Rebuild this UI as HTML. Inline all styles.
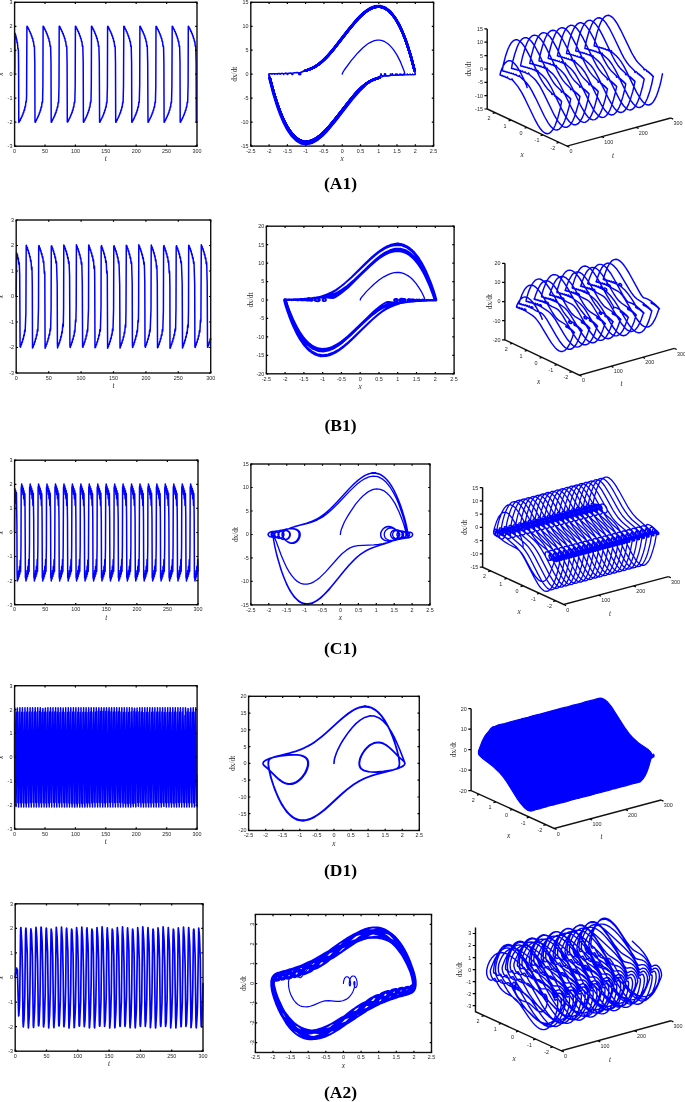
<!DOCTYPE html>
<html><head><meta charset="utf-8"><title>figure</title><style>html,body{margin:0;padding:0;background:#fff}svg{display:block}</style></head><body>
<svg width="685" height="1102" viewBox="0 0 685 1102">
<rect width="685" height="1102" fill="#fff"/>
<path d="M14.6 74.2l.2-6.4 .1-34 .1-.6 .2 1 .3 0 .3 2.3 .1 .1 .1-.3 .1 .2 .3 2.7 .1 .1 .1-.4 .1 .2 .3 3.6 .3-.5 .1 .3 .5 6.1 .1 .4 .2-.4 .2 2.2 .2 15.1 .2 56.6 .3-.6 .3-.1 .5-1.5 .4-.1 .4-1.6 .4-.1 .5-1.7 .3 0 .1-.1 .4-1.9 .4 0 .5-2.3 .1-.1 .2 .3 .1-.2 .4-2.6 .1-.1 .3 .3 .1-.1 .4-3.4 .1 0 .2 .4 .1-.1 .5-5.3 .1-.2 .2 .7 .1-.4 .3-5.4 .3-68.7 .1-1.4 .1 .3 .4 .1 .4 1.4 .5 .2 .4 1.5 .4 .2 .4 1.7 .5 .1 .4 1.9 .4 0 .5 2.2 .3-.1 .1 .1 .4 2.6 .1 .1 .2-.3 .2 .2 .4 3.2 .1 .1 .2-.5 .1 .3 .5 5 .3-.6 .1 .4 .4 16.2 .2 59.5 .1 .2 .5-.2 .4-1.5 .4-.2 .5-1.5 .4-.1 .4-1.7 .3 0 .6-2 .3 0 .1-.1 .4-2.2 .3 .2 .1-.2 .5-2.6 .3 .3 .1-.2 .4-3.2 .1-.1 .3 .4 .1-.3 .4-4.8 .1-.2 .3 .7 .2-1.6 .3-16.1 .2-58.7 .5 .2 .5 1.5 .4 .2 .4 1.5 .4 .1 .5 1.7 .3 0 .1 .2 .4 1.8 .3 0 .1 .1 .5 2.2 .1 .1 .2-.3 .1 .2 .4 2.5 .1 .1 .3-.3 .1 .3 .4 3.1 .1 .1 .2-.4 .1 .2 .5 4.9 .1 .1 .2-.7 .2 .9 .4 15.5 .2 60.1 .5-.2 .5-1.5 .3-.1 .5-1.6 .4-.1 .4-1.7 .4 0 .1-.2 .4-1.8 .1-.1 .2 .1 .1-.1 .4-2.2 .4 .2 .1-.1 .4-2.6 .1-.1 .2 .3 .1-.3 .5-3.1 .1-.1 .2 .5 .1-.3 .5-4.9 .3 .6 .1-.4 .4-16.3 .2-59.5 .1-.3 .5 .2 .4 1.5 .4 .2 .4 1.5 .5 .1 .4 1.7 .4 .1 .4 1.9 .2 .1 .2-.1 .1 .1 .4 2.2 .1 0 .2-.2 .1 .2 .5 2.5 .1 .1 .2-.3 .1 .1 .4 3.3 .3-.3 .1 .1 .5 4.9 .1 .2 .3-.6 .2 1.8 .3 16 .2 58.5 .5-.1 .5-1.5 .4-.1 .4-1.6 .5-.2 .4-1.6 .4-.1 .4-1.9 .4-.1 .5-2.2 .3 .2 .1-.1 .4-2.6 .1-.1 .3 .3 .1-.3 .4-3.1 .1-.1 .2 .5 .1-.3 .5-4.9 .3 .6 .2-.8 .4-16 .2-59.7 .5 .2 .4 1.5 .4 .1 .5 1.6 .4 .1 .4 1.7 .4 0 .1 .2 .4 1.8 .3 0 .1 .1 .4 2.2 .4-.1 .5 2.6 .1 .1 .2-.3 .1 .3 .5 3.1 .1 .1 .2-.5 .1 .3 .5 4.9 .1 .1 .2-.7 .1 .4 .4 16 .2 59.8 .1 .3 .4-.2 .5-1.5 .4-.1 .4-1.6 .4-.1 .5-1.7 .4 0 .1-.6 .4-1.4 .3 0 .1-.1 .4-2.2 .3 .2 .1-.2 .5-2.5 .1-.1 .2 .3 .1-.1 .4-3.3 .3 .4 .1-.2 .5-4.9 .1-.2 .3 .6 .2-1.8 .3-15.7 .2-58.9 .5 .2 .4 1.5 .5 .2 .4 1.5 .4 .1 .5 1.7 .3 0 .1 .2 .4 1.8 .3 0 .1 .1 .5 2.2 .1 0 .2-.2 .1 .2 .4 2.5 .1 .1 .3-.3 .1 .3 .4 3.1 .1 .1 .2-.5 .1 .3 .5 4.9 .1 .1 .2-.7 .1 .8 .4 15.7 .3 60 .5-.2 .4-1.5 .4-.1 .5-1.6 .4-.1 .4-1.7 .4 0 .1-.2 .4-1.8 .3 0 .1-.1 .4-2.2 .1 0 .2 .2 .1-.1 .5-2.6 .1-.1 .2 .3 .1-.3 .5-3.1 .1-.1 .2 .5 .1-.3 .5-4.9 .3 .6 .1-.4 .4-15.8 .2-60.1 .1-.2 .4 .2 .5 1.5 .4 .1 .4 1.6 .5 .2 .4 1.6 .4 .1 .3 1.2 .2 .8 .3-.2 .1 .2 .4 2.2 .3-.2 .1 .2 .5 2.5 .3-.2 .1 .2 .4 3.2 .1 .1 .3-.5 .1 .4 .4 4.8 .1 .1 .3-.6 .2 1.8 .3 15.4 .2 59.2 .5-.2 .4-1.5 .5-.1 .4-1.6 .4-.2 .5-1.6 .4-.1 .4-1.9 .4-.1 .5-2.2 .3 .2 .1-.1 .4-2.6 .1-.1 .2 .3 .2-.3 .4-3.1 .1-.1 .2 .5 .1-.3 .5-4.9 .1-.1 .2 .7 .1-.8 .4-15.5 .3-60.2 .5 .2 .4 1.5 .4 .1 .5 1.6 .4 .1 .4 1.7 .3 0 .2 .2 .4 1.8 .1 .1 .2-.1 .1 .1 .4 2.2 .3-.2 .1 .1 .5 2.6 .1 .1 .2-.3 .1 .2 .5 3.2 .1 .1 .2-.5 .1 .3 .5 4.9 .3-.6 .1 .4 .4 16.3 .2 59.5 .1 .3 .4-.2 .5-1.5 .4-.1 .4-1.6 .4 0 .1-.2 .4-1.6 .4-.1 .4-1.8 .1-.2 .2 .2 .2-.2 .4-2.2 .3 .2 .1-.1 .5-2.7 .3 .3 .1-.2 .4-3.2 .1-.1 .2 .5 .2-.4 .4-4.8 .1-.1 .3 .6 .1-1.9 .4-15.8 .2-58.7 .5 .2 .4 1.5 .5 .2 .4 1.5 .4 .1 .4 1.7 .4 0 .1 .2 .4 1.8 .1 .1 .2-.1 .1 .1 .5 2.2 .3-.2 .1 .1 .4 2.6 .1 .1 .2-.3 .2 .2 .4 3.2 .1 .1 .2-.5 .1 .3 .5 4.9 .3-.6 .1 .8 .4 15.9 .3 59.8 .5-.2 .4-1.5 .4-.1 .5-1.6 .4-.1 .4-1.7 .3 0 .2-.2 .4-1.8 .3 0 .1-.1 .4-2.2 .4 .1 .5-2.6 .1-.1 .2 .3 .1-.3 .5-3.1 .1-.1 .2 .5 .1-.3 .5-4.9 .1-.1 .2 .7 .1-.4 .4-16 .2-59.9 .1-.2 .4 .2 .5 1.5 .4 .2 .4 1.5 .4 .1 .5 1.7 .3 0 .1 .2 .5 1.9 .2-.1 .2 .1 .4 2.2 .3-.2 .1 .2 .5 2.6 .3-.3 .1 .1 .4 3.3 .3-.4 .1 .2 .5 4.9 .1 .2 .3-.6 .2 2.1 .3 15.4 .2 58.9 .5-.2 .4-1.5 .5-.2 .4-1.5 .4-.1 .4-1.7 .4 0 .1-.2 .4-1.8 .3 0 .1-.1 .5-2.2 .1 0 .2 .2 .1-.1 .4-2.6 .1-.1 .2 .3 .2-.3 .4-3.1 .1-.1 .2 .5 .1-.3 .5-4.9 .1-.1 .2 .7 .1-.8 .4-15.7 .3-60 .5 .2 .4 1.5 .4 .1 .5 1.6 .4 .1 .4 1.7 .3 0 .2 .2 .4 1.8 .3 0 .1 .1 .4 2.2 .1 0 .2-.2 .1 .1 .5 2.6 .1 .1 .2-.3 .1 .3 .4 3.1 .1 .1 .3-.5 .1 .3 .5 4.9 .2-.6 .2 .4 .4 15.8 .2 60 0 .3 .5-.2 .5-1.5 .4-.1 .4-1.6 .4-.1 .5-1.7 .4-.1 .4-1.8 .1-.2 .1 .1 .2 0 .1-.2 .4-2.1 .3 .2 .1-.2 .4-2.5 .4 .2 .1-.2 .4-3.2 .3 .3 .1-.1 .5-4.9 .1-.2 .3 .6 .1-1.8 .4-16.2 .2-57.1 0-1.3 .4 .1 .5 1.6 .5 .2 .4 1.5 .4 .1 .4 1.7 .5 .1 .4 1.9 .4 .1 .5 2.2 .3-.2 .1 .2 .4 2.5 .1 .1 .2-.3 .1 .3 .5 3.1 .1 .1 .2-.5 .1 .3 .5 4.9 .1 .1 .2-.7 .1 .8 .4 16.2 .2 58.4 .1 1.1 .4-.2 .2-.4" fill="none" stroke="#0000ff" stroke-width="1.5" stroke-linejoin="round" stroke-linecap="round"/>
<rect x="14.6" y="2.3" width="182.4" height="143.9" fill="none" stroke="#111" stroke-width="1.4"/>
<text x="14.6" y="152.9" font-size="5.4" text-anchor="middle" font-family="'Liberation Sans',sans-serif" fill="#262626">0</text>
<text x="45" y="152.9" font-size="5.4" text-anchor="middle" font-family="'Liberation Sans',sans-serif" fill="#262626">50</text>
<text x="75.4" y="152.9" font-size="5.4" text-anchor="middle" font-family="'Liberation Sans',sans-serif" fill="#262626">100</text>
<text x="105.8" y="152.9" font-size="5.4" text-anchor="middle" font-family="'Liberation Sans',sans-serif" fill="#262626">150</text>
<text x="136.2" y="152.9" font-size="5.4" text-anchor="middle" font-family="'Liberation Sans',sans-serif" fill="#262626">200</text>
<text x="166.6" y="152.9" font-size="5.4" text-anchor="middle" font-family="'Liberation Sans',sans-serif" fill="#262626">250</text>
<text x="197" y="152.9" font-size="5.4" text-anchor="middle" font-family="'Liberation Sans',sans-serif" fill="#262626">300</text>
<text x="12.4" y="148.1" font-size="5.4" text-anchor="end" font-family="'Liberation Sans',sans-serif" fill="#262626">-3</text>
<text x="12.4" y="124.1" font-size="5.4" text-anchor="end" font-family="'Liberation Sans',sans-serif" fill="#262626">-2</text>
<text x="12.4" y="100.1" font-size="5.4" text-anchor="end" font-family="'Liberation Sans',sans-serif" fill="#262626">-1</text>
<text x="12.4" y="76.2" font-size="5.4" text-anchor="end" font-family="'Liberation Sans',sans-serif" fill="#262626">0</text>
<text x="12.4" y="52.2" font-size="5.4" text-anchor="end" font-family="'Liberation Sans',sans-serif" fill="#262626">1</text>
<text x="12.4" y="28.2" font-size="5.4" text-anchor="end" font-family="'Liberation Sans',sans-serif" fill="#262626">2</text>
<text x="12.4" y="4.2" font-size="5.4" text-anchor="end" font-family="'Liberation Sans',sans-serif" fill="#262626">3</text>
<path d="M14.6 146.2v-1.8M14.6 2.3v1.8M45 146.2v-1.8M45 2.3v1.8M75.4 146.2v-1.8M75.4 2.3v1.8M105.8 146.2v-1.8M105.8 2.3v1.8M136.2 146.2v-1.8M136.2 2.3v1.8M166.6 146.2v-1.8M166.6 2.3v1.8M197 146.2v-1.8M197 2.3v1.8M14.6 146.2h1.8M197 146.2h-1.8M14.6 122.2h1.8M197 122.2h-1.8M14.6 98.2h1.8M197 98.2h-1.8M14.6 74.2h1.8M197 74.2h-1.8M14.6 50.3h1.8M197 50.3h-1.8M14.6 26.3h1.8M197 26.3h-1.8M14.6 2.3h1.8M197 2.3h-1.8" stroke="#000" stroke-width="1.2" fill="none"/>
<text x="105.8" y="161.2" font-size="7.3" text-anchor="middle" font-family="'Liberation Serif',serif" font-style="italic" fill="#262626">t</text>
<text x="3.2" y="74.2" font-size="7.3" text-anchor="middle" font-family="'Liberation Serif',serif" font-style="italic" transform="rotate(-90 3.2 74.2)" fill="#262626">x</text>
<path d="M364.7 86l-4.1 3.9-5.7 6.2-5.8 7-10.8 14.3-7.3 9.1-4.2 4.8-4.5 4.6-4.9 4-5.1 2.9-5.3 1.4-5.3-.6-5.2-2.9-4.9-4.9-4.5-6.6-3.9-7.6-3.3-7.9-2.7-7.5-2.2-6.8-4.7-17-1.4-6.1-.2-2.4 .5 0 .4 .4 0-.3 .4-.2 1.1-.1 .8 .2 .1 .4 0-.2 .4-.3 1.2-.2 .8 .3 .2 .4 0-.2 .4-.3 1.2-.2 1 .3 .3 .2-.1 .2-.1-.2 .4-.3 1.4-.3 1.1 .3 .3 .3-.1 .2-.1-.2 .5-.4 1.6-.3 1.3 .4 .3 .3-.2 .3-.1-.3 .5-.5 1.8-.3 1.6 .4 .4 .5-.3 .3-.2-.2 0-.2 .7-.6 1.1-.4 1.3-.1 1.2 .2 .8 .4 .4 .6-.4 .4-.3-.2 0-.4 1-.9 1.7-.5 2.1-.1 1.7 .2 1.3 .5 .7 .9-.1 .4-.3 .2-.6-.2 0-.6 .5-.7 1.1-.8 9.2-3.7 5.1-2.7 2.8-2 3.5-2.9 3.3-3.2 4.2-4.6 5.5-6.5 13.5-17.5 7.6-9.1 4.3-4.5 4.6-4.2 4.9-3.3 5.1-2 5.2-.3 5.2 1.7 4.9 3.9 4.6 5.7 4.1 6.9 3.5 7.6 3 7.5 2.4 6.9 3.4 11.1 3.1 11.8 1 5.4-.3 0-.1-.3 0 .2-.4 .3-1.1 .1-.8-.2-.1-.4 0 .2-.4 .3-1.1 .2-.9-.3-.3-.2 .1-.2 0 .2-.4 .3-1.2 .2-1-.2-.3-.3 .1-.2 .1 .2-.4 .3-1.4 .3-1.1-.3-.3-.3 .1-.2 .1 .2-.5 .4-1.5 .3-1.3-.4-.3-.3 .1-.3 .2 .3-.5 .5-1.9 .3-1.5-.4-.4-.4 .2-.3 .3 .1 0 .2-.6 .6-1.1 .3-1.3 .1-1.1-.1-.9-.4-.4-.6 .3-.4 .4 .2 0 .4-.9 .8-1.7 .5-1.9 .1-1.8-.2-1.3-.5-.6-.8 .1-.4 .4-.2 .6 .2-.1 .7-.5 .7-1.1 .7-2 .8-8.2 2.9-5.1 2.6-2.7 1.9-3.5 2.8-3.2 3.2-4.2 4.4-5.3 6.4-16.7 21.5-3.9 4.5-4.2 4.5-4.5 4.2-4.9 3.5-5 2.2-5.2 .6-5.1-1.3-5-3.4-4.6-5.3-4.2-6.6-3.6-7.4-3-7.5-2.5-7-4.8-15.7-2.4-9.6-.8-4.1 .2-.1 .1 .3 0-.2 .4-.3 1-.1 .8 .2 .2 .4 0-.2 .3-.3 1.2-.2 .9 .3 .2 .2 0 .2 0-.2 .3-.3 1.2-.2 1 .2 .3 .3-.1 .2 0-.2 .4-.3 1.3-.3 1.2 .3 .3 .3-.1 .2-.1-.2 .4-.4 1.5-.3 1.4 .4 .3 .3-.2 .3-.1-.3 .4-.5 1.9-.3 1.6 .4 .3 .4-.2 .3-.2-.1 0-.3 .6-.5 1-.3 1.3-.1 1.2 .1 .8 .4 .4 .6-.3 .4-.4-.2 0-.4 .9-.8 1.6-.5 2-.1 1.7 .2 1.3 .5 .6 .8-.1 .4-.3 .2-.6-.2 0-.6 .4-.7 1-.6 2.3-1 6.9-2.3 3.4-1.5 4-2.2 3.7-2.8 5.2-4.8 5.9-6.5 20.8-26.4 3.9-4.6 4.3-4.4 4.6-4.1 4.8-3.2 5.1-1.9 5.2-.3 5.1 1.8 4.8 3.8 4.6 5.6 4 6.8 3.5 7.4 3 7.4 2.3 6.8 4.5 15.1 2.3 9.1 .8 3.9-.2 .1-.1-.3-.3 .5-1.1 .1-.8-.2-.2-.4 0 .2-.3 .3-1.1 .2-.9-.3-.3-.2 0-.2 .1 .2-.4 .3-1.2 .2-1-.2-.3-.3 .1-.2 0 .2-.4 .3-1.2 .3-1.2-.3-.4-.3 .2-.2 .1 .2-.5 .4-1.5 .3-1.3-.4-.4-.3 .2-.3 .2 .3-.5 .4-1.8 .4-1.6-.4-.4-.4 .2-.3 .2 .1 .1 .2-.6 .6-1.1 .3-1.3 .1-1.1-.1-.9-.4-.4-.6 .3-.4 .4 .2 0 .4-.9 .8-1.7 .5-1.9 .1-1.6-.2-1.3-.5-.6-.8 .1-.4 .3-.2 .6 .2 0 .7-.6 .7-1.1 .6-2.2 .9-8.1 2.8-2.7 1.2-2.9 1.6-2.7 2-3.6 2.9-3.3 3.3-4.3 4.6-5.5 6.7-13.6 17.6-7.6 9-4.4 4.4-4.6 4-4.9 3-5.1 1.8-5.1-.1-5.1-2.1-4.9-4.1-4.4-5.8-4-6.9-3.4-7.5-2.8-7.3-2.3-6.7-3.3-10.7-2.9-11.3-.9-3.8-.1-1.4 .2 .3 0-.2 .4-.3 1.1-.1 .7 .2 .2 .4 0-.2 .3-.3 1.1-.2 1 .3 .2 .2 0 .2-.1-.2 .4-.3 1.2-.2 1 .2 .3 .3-.1 .2 0-.2 .3-.3 1.4-.3 1.2 .3 .3 .3-.2 .2-.1-.2 .5-.4 1.5-.3 1.3 .4 .4 .3-.2 .3-.2-.3 .5-.5 1.8-.3 1.6 .4 .4 .4-.2 .3-.3-.1 0-.3 .7-.5 1-.3 1.3-.1 1.1 .1 .9 .4 .4 .6-.4 .4-.3-.2 0-.4 .9-.8 1.6-.5 1.9-.1 1.8 .2 1.2 .5 .6 .8-.1 .4-.4 .2-.5-.2 0-.7 .6-.6 1-.7 2.1-.9 8.5-2.9 2.8-1.2 2.8-1.7 2.9-2 2.6-2.2 5.8-5.8 6.7-7.8 12.9-16.7 7.2-8.8 4.2-4.5 4.4-4.3 4.8-3.6 5-2.6 5.1-1 5.1 .9 5 3 4.7 4.9 4.3 6.4 3.7 7.2 3.2 7.5 2.6 7.1 3.7 11.8 3.5 12.9 1 4.5 .2 1.7-.2-.3 0 .2-.3 .3-1.1 .1-.8-.2-.2-.4 0 .2-.3 .3-1.2 .2-.9-.3-.2-.2 0-.2 .1 .2-.4 .3-1.2 .2-1-.2-.3-.3 .1-.2 0 .2-.4 .3-1.3 .3-1.1-.3-.3-.3 .1-.2 .1 .2-.5 .4-1.5 .3-1.3-.4-.4-.3 .2-.3 .2 .3-.5 .4-1.8 .4-1.6-.4-.4-.4 .2-.3 .3 .1 0 .2-.6 .6-1.1 .3-1.3 .1-1.1-.1-.9-.4-.4-.6 .4-.4 .3 .2 0 .4-.9 .8-1.7 .5-1.9 .1-1.6-.2-1.3-.5-.6-.8 .1-.4 .3-.2 .6 .2 0 .7-.6 .7-1.1 .6-2.2 1-8.1 2.7-2.7 1.2-2.8 1.6-2.8 2-3.5 2.9-6.1 6.1-7 8.4-17.2 21.9-3.9 4.6-4.3 4.4-4.6 4-4.9 3.1-5.1 1.8-5.1 0-5.1-1.9-4.9-4-4.5-5.7-4-6.9-3.4-7.5-2.9-7.3-4.2-12.7-4-14.5-1.3-5.6-.1-1.5 .2 .3 0-.2 .4-.3 1.1-.1 .7 .2 .2 .4 0-.2 .3-.3 1.1-.2 1 .3 .2 .2 0 .2-.1-.2 .4-.3 1.2-.2 1 .2 .3 .3-.1 .2 0-.2 .3-.3 1.4-.3 1.2 .3 .3 .3-.2 .2-.1-.2 .5-.4 1.5-.3 1.3 .4 .4 .3-.2 .3-.2-.3 .5-.5 1.9-.3 1.5 .4 .4 .4-.2 .3-.3-.1 0-.3 .7-.5 1-.3 1.3-.1 1.2 .1 .8 .4 .4 .6-.4 .4-.3-.2 0-.4 .9-.8 1.6-.5 1.9-.1 1.8 .2 1.2 .5 .6 .8-.1 .4-.3 .2-.6-.2 0-.6 .6-.7 1-.7 2.2-.9 8.4-2.9 2.8-1.3 2.9-1.6 2.8-2.1 3.7-3.1 6.3-6.5 7.3-8.9 14.4-18.4 3.7-4.6 4.2-4.5 4.5-4.2 4.7-3.6 5-2.4 5.2-1 5.1 1.1 5 3 4.6 5 4.3 6.4 3.7 7.3 3.1 7.5 2.6 7 2.1 6.3 2.8 9.8 2.6 10 .8 4.5-.2-.3 0 .2-.4 .3-1.1 .1-.7-.2-.2-.4 0 .2-.3 .3-1.2 .2-.9-.3-.2-.2 0-.2 .1 .2-.4 .3-1.2 .2-1-.2-.3-.3 .1-.2 0 .2-.4 .3-1.3 .3-1.1-.3-.3-.3 .1-.2 .1 .2-.5 .4-1.5 .3-1.3-.4-.4-.3 .2-.3 .2 .3-.5 .4-1.8 .4-1.6-.4-.4-.4 .2-.3 .3 .1 0 .2-.6 .6-1.1 .3-1.3 .1-1.1-.1-.9-.4-.4-.6 .4-.4 .3 .2 0 .4-.9 .8-1.7 .5-1.9 .1-1.7-.2-1.2-.5-.6-.8 .1-.4 .3-.2 .6 .2 0 .7-.6 .7-1.1 .7-2.2 .9-8.1 2.7-2.8 1.2-2.8 1.7-2.8 1.9-3.5 3-6.1 6.1-7.1 8.5-17.3 22.1-4 4.5-4.3 4.4-4.6 4-4.9 3-5.1 1.7-5.2-.1-5.1-2.2-4.8-4.1-4.4-5.9-4-7-3.4-7.4-2.8-7.3-2.3-6.7-3.2-10.7-3-11.2-.9-5.1 .2 .3 0-.2 .4-.3 1-.1 .8 .2 .2 .4 0-.2 .3-.3 1.2-.2 .8 .3 .3 .2 0 .2-.1-.2 .4-.3 1.2-.2 1 .2 .3 .3-.1 .2 0-.2 .3-.3 1.4-.3 1.2 .3 .3 .3-.2 .2-.1-.2 .5-.4 1.5-.3 1.3 .4 .4 .3-.2 .3-.2-.3 .5-.5 1.9-.3 1.5 .4 .4 .4-.2 .3-.3-.1 0-.3 .7-.5 1-.3 1.2-.1 1.2 .1 .9 .4 .4 .6-.4 .4-.3-.2 0-.4 .9-.8 1.6-.5 1.9-.1 1.8 .2 1.2 .5 .6 .8-.1 .4-.3 .2-.6-.2 0-.6 .6-.7 1-.7 2.2-.9 8.5-2.9 2.7-1.3 2.9-1.7 2.9-2 3.7-3.2 6.3-6.5 5.3-6.4 16.6-21.3 3.8-4.5 4.2-4.5 4.5-4.2 4.8-3.5 5-2.3 5.2-.7 5.1 1.2 4.9 3.2 4.7 5.2 4.2 6.5 3.6 7.3 3.1 7.5 2.5 7 3.6 11.5 2.9 10.4 1.5 6.8 .1 1.2-.2-.3-.2 .4-.7 .2-1.1-.1-.4-.3 0-.2 0 .3-.5 .2-1.2 .1-.7-.2-.2-.4 .1 .2-.5 .3-1.3 .2-.9-.3-.2-.2 .1-.2 0 .2-.4 .4-1.4 .2-1.1-.3-.3-.3 .2-.2 .1 .2-.5 .4-1.6 .3-1.3-.4-.3-.3 .2-.3 .2 .3-.6 .5-1.9 .3-1.5-.4-.3-.5 .2-.2 .3 .3-.5 .5-1 .4-1.1 .1-1.3-.1-.9-.3-.6-.6 .1-.3 .3-.2 .3 .2 0 .4-.8 .7-1.6 .5-1.7 .2-1.8-.1-1.4-.6-.7-.8 .1-.4 .3-.2 .6 .2 0 .6-.5 .7-1.1 .7-2.1 .9-8.8 3-2.8 1.3-3 1.8-3 2.2-3.8 3.3-6.6 7-5.6 6.8-13.8 17.9-7.7 9-4.3 4.4-4.7 3.8-4.9 2.9-5.1 1.5-5.2-.3-5-2.3-4.8-4.3-4.4-6-3.9-7.1-3.4-7.4-2.7-7.3-2.3-6.6-3.1-10.5-2.9-10.9-.8-3.6-.1-1.4 .2 .3 0-.2 .4-.3 1.1-.1 .7 .2 .2 .4 0-.2 .3-.3 1.2-.2 .8 .3 .3 .2 0 .2-.1-.2 .4-.3 1.2-.2 1 .2 .3 .3-.1 .2 0-.2 .4-.3 1.3-.3 1.2 .3 .3 .3-.2 .2-.1-.2 .5-.4 1.5-.3 1.3 .4 .4 .3-.2 .3-.2-.3 .5-.5 1.9-.3 1.5 .4 .4 .4-.2 .3-.3-.1 0-.3 .7-.5 1-.3 1.2-.1 1.2 .1 .9 .4 .4 .6-.4 .4-.3-.2 0-.4 .9-.8 1.6-.5 2-.1 1.6 .2 1.3 .5 .6 .8-.1 .4-.3 .2-.6-.2 0-.6 .6-.8 1-.6 2.2-.9 8.5-2.9 2.8-1.3 2.9-1.7 2.9-2.1 3.7-3.2 6.4-6.6 5.3-6.5 13.3-17 7.3-8.9 4.2-4.5 4.6-4.2 4.8-3.4 5-2.2 5.2-.5 5.1 1.4 4.9 3.5 4.6 5.3 4.1 6.6 3.6 7.4 3.1 7.4 2.4 6.9 3.6 11.4 3.2 12.2 1 4.1 .1 1.6-.2-.3 0 .2-.4 .3-1 .1-.8-.2-.2-.4 0 .2-.3 .3-1.1 .2-1-.3-.2-.2 0-.2 .1 .2-.4 .3-1.2 .2-1-.3-.3-.2 .1-.2 0 .2-.3 .3-1.4 .3-1.2-.3-.3-.3 .2-.2 .1 .2-.5 .4-1.5 .3-1.3-.4-.4-.3 .2-.3 .2 .3-.5 .4-1.8 .4-1.6-.4-.4-.4 .2-.3 .3 .1 0 .3-.6 .5-1.1 .3-1.3 .1-1.1-.1-.9-.4-.4-.6 .4-.4 .3 .2 0 .4-.9 .8-1.7 .5-1.9 .1-1.7-.2-1.2-.5-.6-.8 .1-.4 .4-.2 .5 .2 0 .7-.6 .7-1.1 .7-2.2 .9-7.8 2.6-2.7 1.1-2.7 1.5-2.7 1.9-3.3 2.7-3.2 2.9-4 4.2-7.2 8.7-10.6 13.7-7 8.8-4.1 4.5-4.4 4.4-4.7 3.7-4.9 2.8-5.1 1.4-5.2-.5-5-2.5-4.8-4.6-4.3-6.1-3.9-7.1-3.3-7.5-2.7-7.2-3.9-12.1-2.4-8.4-2.4-9.9-.3-1.7 .1-.2 .1 .1 .1 .2 0-.2 .4-.3 1-.1 .8 .2 .2 .4 0-.2 .3-.3 1.1-.2 1 .3 .2 .2 0 .2-.1-.2 .4-.3 1.2-.2 1 .2 .3 .3-.1 .2 0-.2 .4-.3 1.3-.3 1.1 .3 .3 .3-.1 .2-.1-.2 .5-.4 1.5-.3 1.3 .4 .4 .3-.2 .3-.2-.3 .5-.4 1.8-.4 1.6 .4 .4 .4-.2 .3-.3-.1 0-.2 .6-.6 1.1-.3 1.2-.1 1.2 .1 .9 .4 .4 .6-.4 .4-.3-.2 0-.4 .9-.8 1.6-.5 2-.1 1.6 .2 1.3 .5 .6 .8-.1 .4-.3 .2-.6-.2 0-.7 .6-.7 1.1-.6 2.1-.9 8.1-2.7 2.7-1.3 2.8-1.6 2.8-1.9 3.5-2.8 3.3-3.2 4.1-4.5 5.4-6.5 16.9-21.6 3.9-4.6 4.3-4.5 4.5-4 4.9-3.3 5-2.1 5.2-.4 5.1 1.6 4.9 3.7 4.5 5.5 4.1 6.7 3.6 7.4 2.9 7.4 2.5 6.9 4.6 15.3 2.3 9.2 .7 4.1-.2-.3 0 .2-.4 .3-1 .1-.8-.2-.2-.4 0 .2-.3 .3-1.1 .2-1-.3-.2-.2 0-.2 .1 .2-.4 .3-1.2 .2-1-.2-.3-.3 .1-.2 0 .2-.3 .3-1.4 .3-1.2-.3-.3-.3 .2-.2 .1 .2-.5 .4-1.5 .3-1.3-.4-.4-.3 .2-.3 .2 .3-.5 .5-1.8 .3-1.6-.4-.4-.4 .2-.3 .3 .1 0 .3-.6 .5-1.1 .3-1.3 .1-1.1-.1-.9-.4-.4-.6 .4-.4 .3 .2 0 .4-1 .8-1.6 .5-1.9 .1-1.7-.2-1.2-.5-.6-.8 .1-.4 .4-.2 .5 .2 0 .7-.6 .7-1.1 .7-2.2 .9-7.8 2.6-2.7 1.2-2.7 1.5-2.7 1.8-3.4 2.7-3.2 3-4 4.3-5.2 6.2-12.8 16.4-7.1 8.8-4.1 4.6-4.4 4.3-4.8 3.7-4.9 2.7-5.2 1.1-5.1-.7-5-2.7-4.7-4.7-4.4-6.3-3.7-7.2-3.3-7.4-2.6-7.2-2.2-6.4-3-10.1-2.7-10.4-.8-4.7 .2 .3 0-.2 .4-.3 1-.1 .8 .2 .2 .4 0-.2 .3-.3 1.2-.2 .9 .3 .2 .2 0 .2-.1-.2 .4-.3 1.2-.2 1 .2 .3 .3-.1 .2 0-.2 .4-.3 1.3-.3 1.1 .3 .3 .3-.1 .2-.1-.2 .5-.4 1.5-.3 1.3 .4 .4 .3-.2 .3-.2-.3 .5-.4 1.8-.4 1.6 .4 .4 .4-.2 .3-.3-.1 0-.2 .6-.6 1.1-.3 1.2-.1 1.2 .1 .9 .4 .4 .6-.4 .4-.3-.2 0-.4 .9-.8 1.6-.5 2-.1 1.6 .2 1.3 .5 .6 .8-.1 .4-.3 .2-.6-.2 0-.7 .6-.7 1.1-.6 1.9-.9 8.8-2.9 2.8-1.4 2.9-1.7 3-2.1 3.7-3.3 6.5-6.8 5.4-6.6 13.5-17.4 7.5-8.9 4.3-4.5 4.6-4 4.9-3.2 5-1.9 5.2-.2 5.1 1.8 4.9 3.9 4.5 5.6 4 6.8 3.5 7.5 2.9 7.3 2.4 6.8 3.3 11 3.4 13 .7 3.5 0 .5-.2-.2-.3 .3-.9 .2-.9-.2-.3-.4 0 .2-.3 .3-1 .2-1-.3-.3-.2 0-.2 .1 .2-.4 .3-1.1 .2-1.1-.2-.3-.3 .1-.2 0 .2-.3 .3-1.3 .3-1.2-.3-.3-.3 .1-.2 .1 .2-.5 .4-1.4 .3-1.4-.3-.4-.4 .2-.3 .2 .3-.5 .5-1.8 .3-1.6-.4-.4-.4 .2-.3 .3 .1 0 .3-.7 .5-1 .3-1.2 .1-1.2-.1-.9-.4-.4-.6 .4-.4 .3 .2 0 .4-.9 .8-1.6 .5-1.9 .1-1.8-.2-1.2-.5-.6-.8 .1-.4 .3-.2 .6 .2 0 .6-.6 .7-1 .7-2.1 .9-8.5 2.9-2.8 1.2-2.8 1.7-2.9 2-3.6 3.1-6.3 6.5-7.3 8.9-14.3 18.3-3.7 4.5-4.1 4.5-4.5 4.3-4.7 3.6-5 2.5-5.2 1-5.1-.8-5-3-4.7-4.9-4.3-6.3-3.7-7.3-3.2-7.5-2.6-7.1-3.7-11.7-3.5-13-1-4.5-.2-1.7 .2 .3 0-.2 .3-.3 1.1-.1 .8 .2 .2 .4 0-.2 .3-.3 1.1-.2 1 .3 .2 .2 0 .2-.1-.2 .4-.3 1.2-.2 1 .2 .3 .3-.1 .2 0-.2 .4-.3 1.3-.3 1.1 .3 .3 .3-.1 .2-.1-.2 .5-.4 1.5-.3 1.3 .4 .4 .3-.2 .3-.2-.3 .5-.4 1.8-.4 1.6 .4 .4 .4-.2 .3-.3-.1 0-.2 .6-.6 1.1-.3 1.3-.1 1.1 .1 .9 .4 .4 .6-.4 .4-.3-.2 0-.4 .9-.8 1.7-.5 1.9-.1 1.6 .2 1.3 .5 .6 .8-.1 .4-.3 .2-.6-.2 0-.7 .6-.7 1.1-.7 2.2-.9 8.1-2.7 2.7-1.2 2.9-1.6 2.7-2 3.6-2.9 3.3-3.2 4.2-4.7 5.6-6.6 13.6-17.6 7.5-9 4.3-4.4 4.7-4 4.9-3.1 5.1-1.7 5.1 0 5.1 2 4.8 4.1 4.5 5.7 4 7 3.4 7.4 2.9 7.3 2.3 6.8 3.3 10.7 2.9 11.4 1 5.2-.2-.3 0 .2-.4 .3-1 .1-.8-.2-.2-.4 0 .2-.3 .3-1.1 .2-.9-.3-.3-.2 0-.2 .1 .2-.4 .3-1.2 .2-1-.2-.3-.3 .1-.2 0 .2-.3 .3-1.4 .3-1.2-.3-.3-.3 .2-.2 .1 .2-.5 .4-1.5 .3-1.3-.4-.4-.3 .2-.3 .2 .3-.5 .5-1.9 .3-1.5-.4-.4-.4 .2-.3 .3 .1 0 .3-.7 .5-1 .3-1.2 .1-1.2-.1-.9-.4-.4-.6 .4-.4 .3 .2 0 .4-.9 .8-1.6 .5-1.9 .1-1.8-.2-1.2-.5-.6-.8 .1-.4 .4-.2 .5 .2 0 .7-.6 .6-1 .7-2.2 .9-8 2.7-2.7 1.2-2.8 1.6-2.7 1.8-3.4 2.8-3.3 3.1-4 4.4-7.4 8.9-14.4 18.5-3.8 4.5-4.2 4.6-4.5 4.2-4.7 3.5-5 2.4-5.2 .9-5.1-1.1-5-3.2-4.6-5.1-4.3-6.4-3.6-7.3-3.1-7.5-2.6-7-2.1-6.3-2.8-9.7-2.8-11.1-.5-2.6 0-.5 .1-.1 0 .2 .4-.4 1-.1 .9 .2 .2 .4 0-.2 .3-.3 1-.2 1 .2 .3 .3 0 .2-.1-.2 .4-.3 1.1-.2 1.1 .2 .3 .3-.1 .2 0-.2 .3-.3 1.3-.3 1.2 .3 .3 .3-.1 .2-.1-.2 .4-.4 1.5-.3 1.4 .3 .3 .4-.1 .3-.2-.3 .5-.4 1.8-.4 1.6 .4 .4 .4-.2 .3-.3-.1 0-.2 .6-.6 1.1-.3 1.2-.1 1.1 .1 .9 .4 .5 .6-.4 .4-.3-.2 0-.4 .9-.8 1.6-.5 1.9-.1 1.8 .2 1.2 .5 .6 .8-.1 .4-.3 .2-.6-.2 0-.7 .6-.7 1.1-.7 2.2-.9 8.2-2.7 2.7-1.3 2.8-1.6 2.8-1.9 3.6-3 6.1-6.2 7.1-8.5 13.7-17.7 7.7-9 4.3-4.4 4.6-3.9 5-3 5.1-1.6 5.1 .2 5.1 2.2 4.8 4.3 4.4 5.9 3.9 7 3.4 7.5 2.8 7.2 2.3 6.7 3.2 10.6 2.9 11 .8 3.7 .1 1.4-.2-.3 0 .2-.4 .3-1.1 .1-.7-.2-.2-.4 0 .2-.3 .3-1.2 .2-.8-.3-.3-.2 0-.2 .1 .2-.4 .3-1.2 .2-1-.2-.3-.3 .1-.2 0 .2-.4 .3-1.3 .3-1.2-.3-.3-.3 .2-.2 .1 .2-.5 .4-1.5 .3-1.3-.4-.4-.3 .2-.3 .2 .3-.5 .5-1.9 .3-1.5-.4-.4-.4 .2-.3 .3 .1 0 .3-.7 .5-1 .3-1.2 .1-1.2-.1-.9-.4-.4-.6 .4-.4 .3 .2 0 .4-.9 .8-1.6 .5-1.9 .1-1.7-.2-1.3-.5-.6-.8 .1-.4 .3-.2 .6 .2 0 .6-.6 .7-1 .7-2.2 .9-8.5 2.9-2.8 1.3-2.9 1.7-2.9 2.1-3.6 3.1-6.4 6.6-5.3 6.4-13.2 17-7.3 8.9-4.2 4.5-4.5 4.2-4.8 3.4-5.1 2.3-5.1 .6-5.1-1.3-5-3.3-4.6-5.2-4.1-6.6-3.7-7.4-3-7.4-2.5-7-3.6-11.4-3.3-12.4-.9-4.2-.2-1.6 .2 .3 0-.2 .3-.3 1.1-.1 .8 .2 .2 .4 0-.2 .3-.3 1.1-.2 1 .3 .2 .2 0 .2-.1-.2 .4-.3 1.2-.2 1 .2 .3 .3-.1 .2 0-.2 .4-.3 1.3-.3 1.1 .3 .4 .3-.2 .2-.1-.2 .5-.4 1.5-.3 1.3 .4 .4 .3-.2 .3-.2-.3 .5-.4 1.8-.4 1.6 .4 .4 .4-.2 .3-.3-.1 0-.3 .6-.5 1.1-.3 1.3-.1 1.1 .1 .9 .4 .4 .6-.4 .4-.3-.2 0-.4 .9-.8 1.7-.5 1.9-.1 1.7 .2 1.2 .5 .6 .8-.1 .4-.3 .2-.6-.2 0-.7 .6-.7 1.1-.7 2-.8 8.4-2.8 2.7-1.3 2.9-1.6 2.8-2 3.6-3 6.1-6.3 7.2-8.6 10.5-13.6 7-8.7 4.1-4.6 4.3-4.3 4.7-3.9 5-2.8 5.1-1.5 5.1 .4 5.1 2.5 4.8 4.4 4.3 6 3.9 7.1 3.3 7.5 2.8 7.2 3.9 12.3 2.4 8.5 2.5 10 .3 1.7-.1 .2-.2-.3-.1 .3-.6 .3-.8 0-.7-.2-.2-.4 0 .2-.3 .3-1.2 .2-.9-.3-.2-.2 0-.2 .1 .2-.4 .3-1.2 .2-1-.2-.3-.3 .1-.2 0 .2-.4 .3-1.3 .3-1.2-.3-.3-.3 .2-.2 .1 .2-.5 .4-1.5 .3-1.4-.4-.3-.3 .2-.3 .2 .3-.5 .5-1.9 .3-1.5-.4-.4-.4 .2-.3 .3 .1 0 .2-.6 .6-1.1 .3-1.2 .1-1.2-.1-.9-.4-.4-.6 .4-.4 .3 .2 0 .4-.9 .8-1.6 .5-2 .1-1.6-.2-1.3-.5-.6-.8 .1-.4 .3-.2 .6 .2 0 .7-.5 .6-1 .7-2.1 .9-6.1 1.9-3 1.2-3.5 1.7-3.2 2.1" fill="none" stroke="#0000ff" stroke-width="1.4" stroke-linejoin="round" stroke-linecap="round"/>
<path d="M364.7 86l-5.4 5.2-6.1 6.9-18.4 23.7-8 9.5-4.5 4.6-4.9 4-5.1 2.9-5.3 1.4-5.3-.6-5.2-2.9-4.9-4.9-4.5-6.6-3.9-7.6-3.3-7.9-2.7-7.5-3.9-12.5-3.9-15.2" fill="none" stroke="#0000ff" stroke-width="2.4" stroke-linejoin="round" stroke-linecap="round"/>
<path d="M305.3 70.8l5.3-2.1 4.5-2.3 4.2-3 4.8-4.3 3.9-4 5-5.9 15.5-19.9 7.6-9.1 4.3-4.5 4.6-4.2 4.9-3.3 5.1-2 5.2-.3 5.2 1.7 4.9 3.9 4.6 5.7 4.1 6.9 3.5 7.6 3 7.5 2.4 6.9 3.4 11.1 3.4 13.3" fill="none" stroke="#0000ff" stroke-width="2.4" stroke-linejoin="round" stroke-linecap="round"/>
<path d="M379.4 77.6l-5.9 2.1-4.5 2.3-4.1 2.8-4.8 4.2-3.8 3.9-4.9 5.7-15.1 19.5-7.4 8.9-4.2 4.5-4.5 4.2-4.9 3.5-5 2.2-5.2 .6-5.1-1.3-5-3.4-4.6-5.3-4.2-6.6-3.6-7.4-3-7.5-2.5-7-3.6-11.4-3.6-13.9" fill="none" stroke="#0000ff" stroke-width="2.4" stroke-linejoin="round" stroke-linecap="round"/>
<path d="M304.9 70.8l5.8-2 4.3-2.1 4.8-3.2 4.8-4.3 3.9-4 5-5.9 15.4-19.8 7.5-9 4.3-4.4 4.6-4.1 4.8-3.2 5.1-1.9 5.2-.3 5.1 1.8 4.8 3.8 4.6 5.6 4 6.8 3.5 7.4 3 7.4 2.3 6.8 3.4 11.1 3.4 13.1" fill="none" stroke="#0000ff" stroke-width="2.4" stroke-linejoin="round" stroke-linecap="round"/>
<path d="M379.4 77.6l-5.4 1.8-4.2 2-3.8 2.4-4.3 3.5-4.6 4.6-4.6 5.3-21.2 26.8-3.9 4.5-4.4 4.4-4.6 4-4.9 3-5.1 1.8-5.1-.1-5.1-2.1-4.9-4.1-4.4-5.8-4-6.9-3.4-7.5-2.8-7.3-4.2-12.6-2.5-8.8-2.2-8.7" fill="none" stroke="#0000ff" stroke-width="2.4" stroke-linejoin="round" stroke-linecap="round"/>
<path d="M305.1 70.8l5.9-2.1 4.4-2.2 4.1-2.7 4.7-4.1 3.7-3.9 4.8-5.5 14.8-19 7.2-8.8 4.2-4.5 4.4-4.3 4.8-3.6 5-2.6 5.1-1 5.1 .9 5 3 4.7 4.9 4.3 6.4 3.7 7.2 3.2 7.5 2.6 7.1 3.7 11.8 3.9 14.6" fill="none" stroke="#0000ff" stroke-width="2.4" stroke-linejoin="round" stroke-linecap="round"/>
<path d="M379.4 77.6l-5.8 2-4.3 2.1-4.8 3.3-4.9 4.3-3.9 4.1-5 5.9-19.2 24.4-3.9 4.6-4.3 4.4-4.6 4-4.9 3.1-5.1 1.8-5.1 0-5.1-1.9-4.9-4-4.5-5.7-4-6.9-3.4-7.5-2.9-7.3-2.3-6.8-3.3-10.8-3.4-12.8" fill="none" stroke="#0000ff" stroke-width="2.4" stroke-linejoin="round" stroke-linecap="round"/>
<path d="M305.1 70.8l5.9-2.1 4.4-2.2 4.1-2.8 4.7-4.1 3.8-3.9 4.8-5.5 14.9-19.1 7.2-8.9 4.2-4.5 4.5-4.2 4.7-3.6 5-2.4 5.2-1 5.1 1.1 5 3 4.6 5 4.3 6.4 3.7 7.3 3.1 7.5 2.6 7 3.7 11.7 3.8 14.4" fill="none" stroke="#0000ff" stroke-width="2.4" stroke-linejoin="round" stroke-linecap="round"/>
<path d="M379.4 77.6l-5.4 1.8-4.2 2-3.8 2.4-4.3 3.6-4.7 4.6-4.6 5.2-21.2 26.9-4 4.5-4.3 4.4-4.6 4-4.9 3-5.1 1.7-5.2-.1-5.1-2.2-4.8-4.1-4.4-5.9-4-7-3.4-7.4-2.8-7.3-4.1-12.5-2.5-8.8-2.2-8.6" fill="none" stroke="#0000ff" stroke-width="2.4" stroke-linejoin="round" stroke-linecap="round"/>
<path d="M304.9 70.8l5.7-1.9 4.3-2.1 4.7-3.1 4.8-4.2 3.7-3.9 4.9-5.6 15-19.3 7.3-8.9 4.2-4.5 4.5-4.2 4.8-3.5 5-2.3 5.2-.7 5.1 1.2 4.9 3.2 4.7 5.2 4.2 6.5 3.6 7.3 3.1 7.5 2.5 7 3.6 11.5 3.7 14.1" fill="none" stroke="#0000ff" stroke-width="2.4" stroke-linejoin="round" stroke-linecap="round"/>
<path d="M379.4 77.6l-5.5 1.8-4.2 2-3.8 2.5-4.3 3.5-4.7 4.7-4.7 5.3-17.7 22.7-7.7 9-4.3 4.4-4.7 3.8-4.9 2.9-5.1 1.5-5.2-.3-5-2.3-4.8-4.3-4.4-6-3.9-7.1-3.4-7.4-2.7-7.3-4.1-12.3-2.4-8.6-2.1-8.4" fill="none" stroke="#0000ff" stroke-width="2.4" stroke-linejoin="round" stroke-linecap="round"/>
<path d="M304.9 70.8l5.8-1.9 4.3-2.1 4.7-3.2 4.8-4.2 3.8-4 4.9-5.6 15.2-19.5 7.3-8.9 4.2-4.5 4.6-4.2 4.8-3.4 5-2.2 5.2-.5 5.1 1.4 4.9 3.5 4.6 5.3 4.1 6.6 3.6 7.4 3.1 7.4 2.4 6.9 3.6 11.4 3.6 13.7" fill="none" stroke="#0000ff" stroke-width="2.4" stroke-linejoin="round" stroke-linecap="round"/>
<path d="M379.4 77.6l-5.1 1.7-4.1 1.9-3.6 2.2-4.1 3.3-4.4 4.2-6.1 6.8-17.8 22.8-7.8 9-4.4 4.4-4.7 3.7-4.9 2.8-5.1 1.4-5.2-.5-5-2.5-4.8-4.6-4.3-6.1-3.9-7.1-3.3-7.5-2.7-7.2-3.9-12.1-4.1-15.4" fill="none" stroke="#0000ff" stroke-width="2.4" stroke-linejoin="round" stroke-linecap="round"/>
<path d="M304.9 70.8l5.8-1.9 4.3-2.1 4.8-3.3 4.8-4.2 3.8-4 5-5.8 15.3-19.6 7.4-9 4.3-4.5 4.5-4 4.9-3.3 5-2.1 5.2-.4 5.1 1.6 4.9 3.7 4.5 5.5 4.1 6.7 3.6 7.4 2.9 7.4 2.5 6.9 3.4 11.1 3.5 13.4" fill="none" stroke="#0000ff" stroke-width="2.4" stroke-linejoin="round" stroke-linecap="round"/>
<path d="M379.3 77.6l-5.1 1.7-4 1.9-3.7 2.3-4.1 3.2-4.4 4.3-6.1 6.9-18.1 23-3.7 4.5-4.1 4.6-4.4 4.3-4.8 3.7-4.9 2.7-5.2 1.1-5.1-.7-5-2.7-4.7-4.7-4.4-6.3-3.7-7.2-3.3-7.4-2.6-7.2-3.9-12-4-14.9" fill="none" stroke="#0000ff" stroke-width="2.4" stroke-linejoin="round" stroke-linecap="round"/>
<path d="M304.9 70.8l5.9-2 4.3-2.1 4.8-3.2 4.8-4.3 3.9-4.1 5-5.8 19-24.3 3.9-4.5 4.3-4.5 4.6-4 4.9-3.2 5-1.9 5.2-.2 5.1 1.8 4.9 3.9 4.5 5.6 4 6.8 3.5 7.5 2.9 7.3 2.4 6.8 3.3 11 3.4 13" fill="none" stroke="#0000ff" stroke-width="2.4" stroke-linejoin="round" stroke-linecap="round"/>
<path d="M379.3 77.6l-5.9 2.1-4.4 2.2-4.1 2.7-4.7 4.1-3.7 3.9-4.8 5.5-14.8 19-7.2 8.8-4.1 4.5-4.5 4.3-4.7 3.6-5 2.5-5.2 1-5.1-.8-5-3-4.7-4.9-4.3-6.3-3.7-7.3-3.2-7.5-2.6-7.1-3.7-11.7-3.9-14.6" fill="none" stroke="#0000ff" stroke-width="2.4" stroke-linejoin="round" stroke-linecap="round"/>
<path d="M305 70.8l5.4-1.8 4.2-2 3.8-2.4 4.3-3.5 4.6-4.6 4.6-5.2 21.1-26.7 3.9-4.6 4.3-4.4 4.7-4 4.9-3.1 5.1-1.7 5.1 0 5.1 2 4.8 4.1 4.5 5.7 4 7 3.4 7.4 2.9 7.3 4.1 12.6 2.5 8.9 2.3 8.8" fill="none" stroke="#0000ff" stroke-width="2.4" stroke-linejoin="round" stroke-linecap="round"/>
<path d="M379.6 77.6l-5.8 1.9-4.3 2.1-4.7 3.1-4.7 4.1-3.8 3.9-4.8 5.6-14.9 19.2-7.3 8.8-4.2 4.6-4.5 4.2-4.7 3.5-5 2.4-5.2 .9-5.1-1.1-5-3.2-4.6-5.1-4.3-6.4-3.6-7.3-3.1-7.5-2.6-7-3.7-11.6-3.7-14.3" fill="none" stroke="#0000ff" stroke-width="2.4" stroke-linejoin="round" stroke-linecap="round"/>
<path d="M305 70.8l5.4-1.8 4.2-2 3.9-2.5 4.3-3.5 4.6-4.6 4.7-5.3 17.6-22.5 7.7-9 4.3-4.4 4.6-3.9 5-3 5.1-1.6 5.1 .2 5.1 2.2 4.8 4.3 4.4 5.9 3.9 7 3.4 7.5 2.8 7.2 4.1 12.5 2.4 8.6 2.2 8.6" fill="none" stroke="#0000ff" stroke-width="2.4" stroke-linejoin="round" stroke-linecap="round"/>
<path d="M379.5 77.6l-5.8 1.9-4.3 2.1-4.7 3.2-4.7 4.1-3.8 4-4.9 5.6-15.1 19.4-7.3 8.9-4.2 4.5-4.5 4.2-4.8 3.4-5.1 2.3-5.1 .6-5.1-1.3-5-3.3-4.6-5.2-4.1-6.6-3.7-7.4-3-7.4-2.5-7-3.6-11.4-3.7-13.9" fill="none" stroke="#0000ff" stroke-width="2.4" stroke-linejoin="round" stroke-linecap="round"/>
<path d="M305 70.8l5.1-1.7 4.1-1.9 3.6-2.2 4.1-3.2 4.4-4.2 6-6.7 17.8-22.8 7.7-9 4.3-4.3 4.7-3.9 5-2.8 5.1-1.5 5.1 .4 5.1 2.5 4.8 4.4 4.3 6 3.9 7.1 3.3 7.5 2.8 7.2 3.9 12.3 2.4 8.5 2.1 8.3" fill="none" stroke="#0000ff" stroke-width="2.4" stroke-linejoin="round" stroke-linecap="round"/>
<path d="M379.5 77.6l-5.8 1.9-4.3 2.1-4.7 3.2-4.8 4.3-3.8 3.9-5 5.8-15.2 19.5-7.4 9-4.2 4.4-4.6 4.1-4.8 3.4-5.1 2.1-5.1 .5-5.1-1.5-4.9-3.6-4.6-5.3-4.1-6.8-3.6-7.3-3-7.4-2.4-6.9-3.5-11.3-3.6-13.6" fill="none" stroke="#0000ff" stroke-width="2.4" stroke-linejoin="round" stroke-linecap="round"/>
<path d="M342.2 74.2l.5-1.5 1.6-2.7 6.7-9.1 6.5-7.7 5.4-5.5 4.3-3.4 2.3-1.5 2.5-1.2 2.5-.9 2.6-.5 2.6 0 2.5 .5 2.6 1 2.4 1.5 2.3 1.9 2.1 2.3 2 2.4 3.3 5.1 3.6 7 3.4 8.5 .8 2.8 .1 1.4-.3 .2-.7 0-.6-.4 .1-.4 .1 .4-.6 .4-1.7 .2-1.2-.4-.3-.4 .2-.2 .2 .1 0 .2-.6 .5-1 .3-1 .1-1.6-.5-.3-.5 .2-.3 .3 .2 0 .3-.7 .6-1.3 .4-1.4 0-1.2-.2-.9-.4-.3-.6 .3-.4 .4 .2 0 .5-.4 .4-.8 .5-2.1 .6-2.5 .1-1.9-.2-1.6-.6-.9-.8 0-.5 .3-.3 .4 .3 0 .6-.5 .7-.9 .8-8 4.5-4.1 2.8-3.2 2.6-3 2.7-6.8 7.4-5.8 7-14.3 18.7-8 9.5-4.5 4.6-4.9 4" fill="none" stroke="#0000ff" stroke-width="1.3" stroke-linejoin="round" stroke-linecap="round"/>
<rect x="250.8" y="2.3" width="182.8" height="143.8" fill="none" stroke="#111" stroke-width="1.4"/>
<text x="250.8" y="152.8" font-size="5.4" text-anchor="middle" font-family="'Liberation Sans',sans-serif" fill="#262626">-2.5</text>
<text x="269.1" y="152.8" font-size="5.4" text-anchor="middle" font-family="'Liberation Sans',sans-serif" fill="#262626">-2</text>
<text x="287.4" y="152.8" font-size="5.4" text-anchor="middle" font-family="'Liberation Sans',sans-serif" fill="#262626">-1.5</text>
<text x="305.6" y="152.8" font-size="5.4" text-anchor="middle" font-family="'Liberation Sans',sans-serif" fill="#262626">-1</text>
<text x="323.9" y="152.8" font-size="5.4" text-anchor="middle" font-family="'Liberation Sans',sans-serif" fill="#262626">-0.5</text>
<text x="342.2" y="152.8" font-size="5.4" text-anchor="middle" font-family="'Liberation Sans',sans-serif" fill="#262626">0</text>
<text x="360.5" y="152.8" font-size="5.4" text-anchor="middle" font-family="'Liberation Sans',sans-serif" fill="#262626">0.5</text>
<text x="378.8" y="152.8" font-size="5.4" text-anchor="middle" font-family="'Liberation Sans',sans-serif" fill="#262626">1</text>
<text x="397" y="152.8" font-size="5.4" text-anchor="middle" font-family="'Liberation Sans',sans-serif" fill="#262626">1.5</text>
<text x="415.3" y="152.8" font-size="5.4" text-anchor="middle" font-family="'Liberation Sans',sans-serif" fill="#262626">2</text>
<text x="433.6" y="152.8" font-size="5.4" text-anchor="middle" font-family="'Liberation Sans',sans-serif" fill="#262626">2.5</text>
<text x="248.6" y="148" font-size="5.4" text-anchor="end" font-family="'Liberation Sans',sans-serif" fill="#262626">-15</text>
<text x="248.6" y="124" font-size="5.4" text-anchor="end" font-family="'Liberation Sans',sans-serif" fill="#262626">-10</text>
<text x="248.6" y="100.1" font-size="5.4" text-anchor="end" font-family="'Liberation Sans',sans-serif" fill="#262626">-5</text>
<text x="248.6" y="76.1" font-size="5.4" text-anchor="end" font-family="'Liberation Sans',sans-serif" fill="#262626">0</text>
<text x="248.6" y="52.1" font-size="5.4" text-anchor="end" font-family="'Liberation Sans',sans-serif" fill="#262626">5</text>
<text x="248.6" y="28.2" font-size="5.4" text-anchor="end" font-family="'Liberation Sans',sans-serif" fill="#262626">10</text>
<text x="248.6" y="4.2" font-size="5.4" text-anchor="end" font-family="'Liberation Sans',sans-serif" fill="#262626">15</text>
<path d="M250.8 146.1v-1.8M250.8 2.3v1.8M269.1 146.1v-1.8M269.1 2.3v1.8M287.4 146.1v-1.8M287.4 2.3v1.8M305.6 146.1v-1.8M305.6 2.3v1.8M323.9 146.1v-1.8M323.9 2.3v1.8M342.2 146.1v-1.8M342.2 2.3v1.8M360.5 146.1v-1.8M360.5 2.3v1.8M378.8 146.1v-1.8M378.8 2.3v1.8M397 146.1v-1.8M397 2.3v1.8M415.3 146.1v-1.8M415.3 2.3v1.8M433.6 146.1v-1.8M433.6 2.3v1.8M250.8 146.1h1.8M433.6 146.1h-1.8M250.8 122.1h1.8M433.6 122.1h-1.8M250.8 98.2h1.8M433.6 98.2h-1.8M250.8 74.2h1.8M433.6 74.2h-1.8M250.8 50.2h1.8M433.6 50.2h-1.8M250.8 26.3h1.8M433.6 26.3h-1.8M250.8 2.3h1.8M433.6 2.3h-1.8" stroke="#000" stroke-width="1.2" fill="none"/>
<text x="342.2" y="161.1" font-size="7.3" text-anchor="middle" font-family="'Liberation Serif',serif" font-style="italic" fill="#262626">x</text>
<text x="237.5" y="74.2" font-size="7.4" text-anchor="middle" font-family="'Liberation Serif',serif" transform="rotate(-90 237.5 74.2)" fill="#262626">dx/dt</text>
<path d="M527.1 87.5l-.7-2.4-2.6-5.9-3.2-6.5-2.4-4.2-1.9-2.8-2.1-2.4-2.2-1.8-1.1-.6-1.1-.2-1.1 0-1.1 .4-1 .6-1.8 1.7-1.4 2.2-1.6 3.2-1.4 4-.4 2.1 .5 .3 .3-.1 0-.2 .5 .6 .8 .4 .5-.1 .1-.3 .4 .6 1 .5 .7 0 0-.4 .1 .3 .4 .5 1.3 .7 .8-.1 .2-.3-.2-.3 .1 .5 .7 .8 2.2 1.2 1.4 .1 .4-.3-.1-.4-.1-.1 0 .3 .5 .9 5.3 6.4 4.1 6.5 3.5 6.8 8.9 18.6 3.8 7 2.1 3.2 2.3 2.7 2.3 1.8 2.3 .7 2.3-.5 2.1-1.8 2-2.7 1.7-3.5 2.6-7.3 2.3-8.6 1.5-7.7-.2-.1 .1-.1-.3-.4-.4-.1 .2-.1-.3-.4-.4-.3-.2 .2 .2-.2-.3-.4-.4-.3-.2 .2 .2-.2-.3-.4-.6-.3-.2 .1 .2 .1 .1-.2-.4-.6-.7-.3-.2 0 0 .2 .3 .1 0-.3-.5-.6-.8-.4-.2 .1 0 .2 .3 .1 0-.3-.6-.8-1.1-.5-.3 .1 .1 .4 .3 0 0-.5-1.1-1.1-.9-.6-.8-.2-.5 .2 .1 .5 .4 .1 .1-.3-.7-1.2-4.4-4.6-2.5-3.2-2.3-3.5-2.9-5.1-9.8-20.5-3.6-6.8-2-3.2-2.1-2.9-2.3-2.1-2.2-1.3-2.3 0-2.1 1.1-2 2.2-1.8 3.1-1.6 3.5-2.3 6.9-2 7.6-1.2 6.6 .4-.1 1 .6 .5-.2 1 .6 .4 0 .2-.2 1.1 .7 .4-.1 .2-.2 .5 .5 .7 .3 .5-.1 .1-.2 .5 .5 .8 .3 .5 0 .1-.3 .6 .6 .9 .4 .6 0 .1-.4 .6 .8 1.2 .6 .8-.1 .1-.3-.1-.2 .1 .4 .7 .7 1.8 .9 .6 .1 .5-.1 .2-.4-.2-.4-.2 .1 .1 .4 .8 1 4 3.6 2.1 2.1 2.7 3.5 2.8 4.7 3.6 6.9 9 18.7 3.8 6.6 2.1 2.9 2.2 2.3 2.3 1.4 2.2 .3 2.2-.9 2-2 1.8-2.9 1.6-3.4 2.4-6.9 1.6-5.6 1.4-6.2 .5-3.1 .2 0-.3-.5-.5 0 .2-.2-.3-.4-.4-.2-.1 .1 .2-.1-.3-.4-.4-.3-.2 0 .2 .1-.5-.7-.4-.2-.2 .2 .2 0 0-.2-.4-.6-.6-.2-.1 .2 .2 0 0-.2-.6-.7-.7-.3-.2 .1 0 .2 .3 0 0-.3-.7-.8-1-.4-.3 .2 .2 .3 .3 0-.1-.5-1.1-1.2-.9-.4-.7-.2-.4 .3 .2 .5 .3 0 .1-.3-.6-1.2-4.9-4.7-2.7-3.3-2.2-3.5-2.9-5.1-9.7-20.4-3.6-6.7-2-3.2-2.1-2.8-2.2-2.1-2.3-1.2-2.2 0-2.1 1.1-2 2.2-1.8 3-1.5 3.4-2.3 6.8-2 7.5-1.2 6.7 .2-.2 1.1 .6 .5-.2 1 .6 .4 0 .2-.2 1 .7 .5-.1 .1-.2 .5 .4 .7 .4 .5-.1 .1-.2 .5 .5 .8 .3 .6 0 .1-.3 .5 .6 .9 .4 .7 0 .1-.4 .5 .8 1.2 .5 .8 0 .1-.3-.1-.2 .1 .4 .7 .6 1.7 1 1.1 0 .3-.4-.2-.4-.2 0 .1 .4 .8 1.1 4.3 3.7 2 2.1 3.6 4.9 4 7.4 11 22.6 3.9 6.4 2.2 2.7 2.2 2 2.3 1 2.2-.1 2.1-1.3 1.9-2.3 1.8-3.1 1.5-3.5 1.2-3.5 2.5-8.5 1.3-5.7 .4-2.7 .1 0 .1-.2-.4-.4-.4 0 .2-.2-.3-.4-.4-.2-.1 .1 .2-.1-.4-.5-.4-.2-.1 .1 .2-.1-.4-.5-.5-.3-.2 .2 .2 0 0-.2-.4-.5-.6-.3-.2 0 0 .2 .3 .1 0-.3-.5-.6-.8-.4-.2 .1 0 .2 .3 .1 0-.3-.6-.8-1.1-.5-.3 .2 .1 .3 .4 0-.1-.5-1-1.1-.9-.4-.7-.2-.4 .2 .1 .5 .3 .1 .1-.4-.6-1.2-4.8-4.6-3-3.7-2.4-3.7-2.9-5.4-8.7-18.2-3.4-6.7-2-3.2-2.1-3-2.1-2.5-2.3-1.6-2.2-.5-2.2 .6-2 1.8-1.9 2.7-1.6 3.3-1.4 3.5-2.7 9.2-1.3 5.4-.8 4.1 .1 .2 .2-.1 .9 .5 .4 0 .2-.2 .9 .6 .5 0 .2-.2 .9 .6 .6 .1 .2-.3 .2 .2 1.1 .6 .4-.1 .1-.2 .5 .5 .8 .4 .5-.1 .2-.3 .5 .6 .9 .4 .6 0 .1-.4 .6 .7 1.1 .6 .9 0 .1-.3-.1-.2 0 .4 .7 .6 1.8 1 1.1 0 .2-.4-.2-.4-.1 .1 .1 .4 .7 1 4.5 3.9 2.4 2.5 2.6 3.7 3.1 5.2 10.6 21.8 3.6 6.7 2 3.2 2.1 2.7 2.3 2 2.2 1.1 2.2-.1 2.2-1.2 1.9-2.3 1.8-3 1.5-3.5 2.3-6.7 1.9-7.4 1.4-6.7-.4-.4-.3 0 .2-.2-.4-.4-.3-.2-.1 .2 .2-.2-.4-.5-.4-.2-.2 .2 .2-.2-.3-.5-.5-.2-.2 .1 .2 .1 0-.2-.4-.6-.6-.3-.2 .1 0 .1 .2 .1 .1-.3-.5-.6-.8-.4-.2 .1 0 .2 .3 .1 0-.3-.7-.8-1-.5-.3 .2 .1 .3 .4 0-.1-.5-1-1.1-.9-.4-.7-.2-.5 .2 .2 .5 .3 .1 .1-.4-.6-1.1-4.9-4.7-2.9-3.7-2.4-3.7-3-5.5-8.7-18.3-3.5-6.6-1.9-3.3-2.1-3-2.2-2.3-2.2-1.6-2.2-.5-2.2 .7-2 1.8-1.9 2.8-1.6 3.3-2.5 6.9-2.1 8-1.1 5-.4 2.3 .3-.1 1 .5 .5-.2 1 .6 .4 0 .2-.2 1.1 .7 .4 0 .2-.3 .5 .5 .6 .3 .5 0 .2-.3 .5 .5 .8 .4 .5-.1 .1-.3 .6 .6 .9 .5 .6-.1 .1-.4 .6 .8 1.2 .6 .7-.1 .2-.3-.1-.2 0 .4 .7 .7 1.8 .9 1.1 0 .2-.4-.2-.4-.1 .1 .1 .4 .7 1 4.2 3.6 1.9 2 3 3.9 3.5 6 10.7 21.9 3.6 6.7 2.1 3.1 2.1 2.7 2.2 2 2.3 1 2.2-.2 2.1-1.3 2-2.4 1.7-3.1 1.5-3.4 2.2-6.8 1.9-7.2 1.3-6.4 .1 0-.3-.5-.4-.1 .2-.1-.3-.4-.4-.2-.2 .1 .2-.2-.2-.4-.5-.3-.2 .2 .2-.1-.3-.5-.5-.3-.2 0 0 .2 .2-.1-.1-.3-.6-.6-.4-.1-.1 .3 .2 0 0-.3-.6-.7-.7-.2-.2 .1 .1 .2 .3 0-.1-.4-.8-.8-.9-.3-.2 .1 .1 .3 .4 0-.2-.6-1.3-1.1-1.4-.5-.3 .3 .2 .4 .3 .1 .1-.4-.6-1.1-4.9-4.7-3-3.7-2.4-3.8-2.3-4.1-9.5-19.9-3.5-6.6-1.9-3.3-2.1-2.9-2.2-2.3-2.2-1.5-2.3-.3-2.1 .8-2.1 1.9-1.8 2.8-1.6 3.3-2.4 6.9-2.1 7.9-1.1 4.9-.3 2.2 .3-.1 1 .6 .5-.3 1 .7 .4-.1 .2-.2 1.1 .7 .4 0 .2-.3 .5 .5 .6 .3 .5 0 .2-.3 .5 .5 .7 .4 .6 0 .1-.4 .6 .6 .9 .5 .6-.1 .1-.4 .6 .8 1.1 .6 .8-.1 .2-.2-.2-.3 .1 .4 .7 .7 1.8 .9 1.1 0 .2-.3-.1-.4-.3 0 .1 .4 .8 1 4.3 3.8 2.3 2.4 1.8 2.3 2 3.1 4.5 8.4 8.5 17.8 3.7 6.6 2 3.1 2.2 2.7 2.2 1.8 2.3 .9 2.2-.3 2.1-1.4 1.9-2.5 1.7-3.1 1.5-3.5 1.2-3.5 1.8-6 1.6-7 .6-3.5 .2 .1 0-.2-.4-.5-.3 0 .1-.1-.3-.5-.4-.1-.1 .1 .2-.2-.3-.4-.5-.2-.1 .1 .2-.2-.4-.5-.5-.2-.1 .2 .1 0 .1-.2-.4-.6-.7-.3-.1 .1 0 .2 .2 0 0-.2-.5-.7-.7-.3-.3 .1 .1 .2 .2 0 0-.3-.6-.8-1-.4-.3 .1 .1 .3 .3 0-.1-.4-1-1.1-.8-.5-.8-.2-.4 .3 .1 .4 .4 .1 .1-.3-.7-1.2-4.8-4.7-3-3.7-2.4-3.8-2.3-4.3-9.7-20-3.5-6.6-1.9-3.3-2.1-2.8-2.2-2.3-2.3-1.3-2.2-.3-2.2 .9-2 2-1.8 2.9-1.5 3.4-1.4 3.5-1.9 6.4-1.6 6.4-.9 5.1 1.2 .6 .6-.2 1 .6 .4 0 .2-.3 1 .7 .5 0 .2-.3 1.1 .8 .5 0 .2-.3 .5 .6 .9 .3 .4-.1 .1-.3 .6 .7 .9 .4 .6-.1 .1-.4 .6 .8 1.2 .6 .7-.1 .1-.2-.1-.3 .1 .4 .7 .7 1.8 .9 1.1 0 .2-.4-.2-.4-.2 .1 .1 .4 .8 1 4.3 3.8 2.3 2.4 3 4.1 3.1 5.4 10.9 22.4 3.7 6.7 2 3 2.2 2.6 2.2 1.8 2.3 .8 2.2-.4 2.1-1.6 1.9-2.5 1.7-3.2 1.4-3.5 2.1-6.7 1.8-6.9 1.4-6.3-.4-.4-.3 0 .1-.1-.3-.4-.4-.2-.1 .1 .2-.2-.3-.4-.5-.2-.1 .1 .2-.1-.4-.5-.5-.3-.2 .2 .2 0 .1-.2-.4-.5-.7-.4-.2 .1 .1 .2 .2 0 0-.2-.5-.7-.8-.3-.2 .1 .1 .2 .2 0 0-.3-.6-.8-1.1-.4-.2 .1 .1 .4 .3-.1-.1-.4-1-1.1-.9-.5-.7-.2-.4 .3 .1 .4 .4 .1 .1-.3-.7-1.2-4.9-4.7-3-3.8-2.4-3.8-2.3-4.3-11.4-23.5-3.9-6.6-2.1-2.8-2.2-2.2-2.2-1.2-2.3-.1-2.1 1-2 2.1-1.8 3-1.5 3.3-2.3 6.9-2 7.6-1.3 6.7 .2-.1 1 .6 .5-.2 1.1 .6 .4 0 .2-.3 1 .7 .5 0 .1-.2 .5 .4 .7 .3 .5 0 .1-.3 .5 .6 .8 .3 .6 0 .1-.3 .5 .6 .9 .4 .7 0 0-.4 .6 .7 1.2 .6 .8 0 .1-.3-.1-.3 .1 .4 .7 .7 1.8 1 1.1-.1 .1-.4-.1-.4-.2 .1 .1 .4 .8 1.1 4.1 3.6 2 2 3.1 4 3.5 6.2 9.4 19.3 3.4 6.6 2 3.3 2 3 2.2 2.5 2.2 1.7 2.3 .7 2.2-.5 2-1.7 1.9-2.6 1.7-3.2 1.4-3.5 2.1-6.6 1.8-6.9 1.1-5.9 .2 0-.3-.5-.5 0 .2-.2-.3-.4-.4-.2-.1 .1 .2-.1-.3-.5-.5-.2-.1 .1 .2-.1-.3-.4-.7-.4-.1 .2 .2 0-.1-.4-.5-.5-.5-.1-.1 .2 .3 0-.1-.3-.6-.7-.7-.2-.1 .1 0 .2 .3 0 0-.3-.8-.9-.9-.3-.3 .2 .1 .3 .4-.1-.1-.5-1.3-1.2-1.4-.4-.4 .2 .2 .5 .3 0 .2-.3-.7-1.2-4.9-4.7-2.7-3.3-2.3-3.6-2.8-5.1-9.8-20.4-3.6-6.7-2-3.1-2.1-2.8-2.2-2.1-2.3-1.2-2.2 0-2.1 1.2-2 2.2-1.7 3-1.6 3.4-2.3 6.8-1.9 7.5-1.3 6.6 .3-.2 1 .6 .5-.2 1.1 .6 .4 0 .1-.2 1.1 .6 .4 0 .2-.2 .5 .4 .7 .3 .5 0 .1-.3 .5 .6 .8 .3 .5 0 .2-.3 .5 .6 .9 .4 .6 0 .1-.4 .6 .7 1.2 .6 .7 0 .2-.3-.1-.3 .1 .4 .6 .7 1.8 1 1.1-.1 .2-.3-.1-.4-.2 0 0 .4 .8 1 4.4 3.9 2.1 2.1 1.7 2.2 1.9 2.9 4.2 7.8 9.7 19.9 3.7 6.6 2.1 3 2.2 2.5 2.2 1.6 2.3 .5 2.2-.6 2-1.8 1.9-2.7 1.6-3.3 1.4-3.5 2.8-9.2 1.5-6.5 .6-3.3 .1 .1 0-.2-.4-.4-.3 0 .2-.2-.3-.4-.4-.2-.1 .1 .1-.1-.3-.5-.4-.2-.2 .1 .2-.1-.3-.5-.5-.3-.2 .2 .2 0 0-.2-.4-.5-.6-.3-.2 0 0 .2 .2 0 .1-.2-.5-.6-.8-.4-.2 .1 0 .2 .3 0 0-.2-.7-.8-1-.5-.3 .2 .1 .3 .4 0-.1-.5-1.1-1.1-.8-.5-.8-.1-.4 .2 .2 .5 .3 .1 .1-.4-.6-1.2-5-4.7-2.7-3.4-2.3-3.5-2.8-5.2-9.9-20.6-3.6-6.7-2-3.1-2.2-2.7-2.2-2.1-2.2-1-2.2 .1-2.1 1.3-2 2.3-1.7 3-1.5 3.5-1.3 3.5-2.4 8.6-1.7 8.3 .3-.1 1 .6 .5-.2 1 .6 .4 0 .2-.2 1.1 .7 .4-.1 .2-.2 1.1 .8 .7-.2 0-.1 .5 .5 .8 .4 .5-.1 .1-.3 .6 .6 .9 .4 .6 0 .1-.4 .5 .7 1.2 .6 .8 0 .2-.3-.1-.2 0 .4 .6 .6 1.8 1 1.2 0 .2-.4-.2-.4-.1 .1 0 .3 .8 1 4.6 4.1 2.4 2.6 2.7 3.8 3.2 5.7 9.6 19.7 3.4 6.6 2 3.3 2.1 2.9 2.2 2.4 2.2 1.5 2.3 .4 2.2-.7 2-1.9 1.8-2.8 1.6-3.3 2.5-6.9 2.2-7.9 1.6-7.5-.4-.4-.3 0 .2-.2-.4-.4-.3-.2-.2 .1 .2-.1-.3-.5-.4-.2-.2 .2 .2 0 0-.2-.3-.5-.6-.3-.1 .2 .2 .1 0-.3-.4-.5-.6-.3-.2 0 0 .2 .2 .1 0-.3-.5-.6-.7-.4-.3 .1 .1 .2 .2 .1 .1-.3-.7-.8-1-.5-.3 .2 .1 .3 .3 0 0-.5-1.1-1.1-.8-.5-.8-.1-.4 .2 .2 .5 .3 .1 .1-.4-.6-1.1-5-4.8-3-3.9-2.5-3.9-2.4-4.4-8.4-17.6-3.3-6.6-3.9-6.4-2.2-2.7-2.2-1.9-2.3-.9-2.2 .2-2.1 1.4-1.9 2.4-1.7 3.1-2.7 6.9-2.4 8.5-1.2 5.6-.4 2.6 .2-.1 1.1 .5 .5-.2 1 .6 .4 0 .2-.2 1.1 .7 .4 0 .2-.3 .5 .5 .6 .3 .5 0 .2-.3 .5 .5 .7 .4 .6-.1 .1-.3 .5 .6 .9 .5 .7-.1 .1-.4 .5 .8 1.2 .6 .8-.1 .2-.3-.2-.2 .1 .4 .7 .7 1.8 .9 1.1 0 .2-.4-.2-.4-.2 .1 .1 .4 .8 1 4.2 3.7 2 2 3.1 4.2 3 5.1 3 5.8 7.3 15.3 3.5 6.7 2 3.2 2.1 2.9 2.2 2.3 2.2 1.4 2.3 .3 2.1-.9 2.1-1.9 1.8-2.9 1.6-3.3 2.4-6.9 2.1-7.8 1.4-7.1 .2 0-.3-.5-.4-.1 .1-.1-.2-.4-.4-.3-.2 .2 .2-.2-.3-.4-.4-.3-.2 .2 .2-.2-.3-.4-.6-.3-.2 0 .2 .2 .1-.3-.5-.5-.5-.3-.2 .2 .2 .1 0-.3-.5-.6-.8-.4-.2 .1 .1 .3 .2 0 0-.4-.7-.8-1-.3-.2 .1 .1 .3 .3 0-.1-.5-1.2-1.2-1.4-.5-.4 .2 .1 .5 .4 .1 .1-.4-.6-1.1-5-4.8-2.8-3.4-2.3-3.7-2.2-3.9-10.8-22.3-3.6-6.7-2.1-3.1-2.1-2.6-2.3-1.8-2.2-.8-2.2 .3-2.1 1.5-1.9 2.5-1.7 3.1-1.4 3.5-2.2 6.7-2.1 8.5-.8 4.6 .2-.1 1.1 .5 .5-.2 1 .6 .4 0 .2-.2 1.1 .7 .4 0 .2-.3 .4 .5 .7 .3 .5 0 .2-.3 .5 .5 .7 .4 .6-.1 .1-.3 .5 .6 .9 .5 .7-.1 .1-.4 .5 .8 1.2 .6 .8-.1 .1-.2-.1-.3 .1 .4 .7 .7 1.7 .9 1.2 0 .2-.4-.2-.4-.2 .1 .1 .4 .8 1 4.2 3.7 2 2.1 2.7 3.5 2.9 4.7 2.7 5.3 9.9 20.5 3.9 6.5 2.1 2.9 2.2 2.2 2.2 1.3 2.3 .2 2.1-1 2-2.1 1.8-2.9 1.6-3.4 1.3-3.5 1.9-6.3 1.2-4.7 1.4-6.9 .2 0-.2-.4" fill="none" stroke="#0000ff" stroke-width="1.45" stroke-linejoin="round" stroke-linecap="round"/>
<path d="M487.2 28.9L487.2 109L567 146.1L670.8 118" fill="none" stroke="#111" stroke-width="1.45" stroke-linejoin="miter"/>
<text x="482.9" y="110.9" font-size="5.4" text-anchor="end" font-family="'Liberation Sans',sans-serif" fill="#262626">-15</text>
<text x="482.9" y="97.6" font-size="5.4" text-anchor="end" font-family="'Liberation Sans',sans-serif" fill="#262626">-10</text>
<text x="482.9" y="84.2" font-size="5.4" text-anchor="end" font-family="'Liberation Sans',sans-serif" fill="#262626">-5</text>
<text x="482.9" y="70.9" font-size="5.4" text-anchor="end" font-family="'Liberation Sans',sans-serif" fill="#262626">0</text>
<text x="482.9" y="57.5" font-size="5.4" text-anchor="end" font-family="'Liberation Sans',sans-serif" fill="#262626">5</text>
<text x="482.9" y="44.1" font-size="5.4" text-anchor="end" font-family="'Liberation Sans',sans-serif" fill="#262626">10</text>
<text x="482.9" y="30.8" font-size="5.4" text-anchor="end" font-family="'Liberation Sans',sans-serif" fill="#262626">15</text>
<text x="489.1" y="120.1" font-size="5.4" text-anchor="middle" font-family="'Liberation Sans',sans-serif" fill="#262626">2</text>
<text x="505" y="127.5" font-size="5.4" text-anchor="middle" font-family="'Liberation Sans',sans-serif" fill="#262626">1</text>
<text x="521" y="134.9" font-size="5.4" text-anchor="middle" font-family="'Liberation Sans',sans-serif" fill="#262626">0</text>
<text x="537" y="142.4" font-size="5.4" text-anchor="middle" font-family="'Liberation Sans',sans-serif" fill="#262626">-1</text>
<text x="552.9" y="149.8" font-size="5.4" text-anchor="middle" font-family="'Liberation Sans',sans-serif" fill="#262626">-2</text>
<text x="569.6" y="153.2" font-size="5.4" text-anchor="start" font-family="'Liberation Sans',sans-serif" fill="#262626">0</text>
<text x="604.2" y="143.8" font-size="5.4" text-anchor="start" font-family="'Liberation Sans',sans-serif" fill="#262626">100</text>
<text x="638.8" y="134.5" font-size="5.4" text-anchor="start" font-family="'Liberation Sans',sans-serif" fill="#262626">200</text>
<text x="673.4" y="125.1" font-size="5.4" text-anchor="start" font-family="'Liberation Sans',sans-serif" fill="#262626">300</text>
<path d="M487.2 109h-2.8M487.2 95.7h-2.8M487.2 82.3h-2.8M487.2 69h-2.8M487.2 55.6h-2.8M487.2 42.2h-2.8M487.2 28.9h-2.8M495.2 112.7l-2.5 0.7M511.1 120.1l-2.5 0.7M527.1 127.5l-2.5 0.7M543.1 135l-2.5 0.7M559 142.4l-2.5 0.7M567 146.1l2.4 1.1M601.6 136.7l2.4 1.1M636.2 127.4l2.4 1.1M670.8 118l2.4 1.1" stroke="#000" stroke-width="1.2" fill="none"/>
<text x="522" y="156.5" font-size="7.3" text-anchor="middle" font-family="'Liberation Serif',serif" font-style="italic" fill="#262626">x</text>
<text x="613" y="157.5" font-size="7.3" text-anchor="middle" font-family="'Liberation Serif',serif" font-style="italic" fill="#262626">t</text>
<text x="471" y="69" font-size="7.4" text-anchor="middle" font-family="'Liberation Serif',serif" transform="rotate(-90 471 69)" fill="#262626">dx/dt</text>
<text x="340.5" y="189" font-size="17.5" text-anchor="middle" font-family="'Liberation Serif',serif" font-weight="bold" fill="#000">(A1)</text>
<path d="M16.2 296.5l.4-43.7 .4 2.2 .3-.7 .1 .2 .5 4.4 .3-1.1 .1 .2 .5 6.3 .4-1.9 .1 .7 .4 11.7 .4 71.9 .5 .4 .4-2.6 .1-.1 .3 .4 .1-.2 .4-2.8 .2-.1 .2 .5 .1-.1 .5-3.4 .1-.1 .2 .7 .1-.2 .5-4.2 .3 1 .1-.1 .5-5.8 .4 1.7 .1-1.1 .7-18.4 .3-66.4 .2-.6 .5 2.6 .1 .1 .3-.4 .1 .1 .4 2.9 .4-.4 .1 .1 .4 3.3 .1 0 .3-.6 .1 .2 .5 3.9 .3-.9 .1 .2 .5 5.2 .3-1.4 .1 .2 .6 9.5 .3-2.9 .1 1 .3 18 .2 60.9 0 1.2 .3-1.3 .4 .3 .5-2.7 .1-.1 .3 .5 .1-.2 .4-2.9 .1-.1 .3 .5 .1-.1 .4-3.5 .4 .7 .1-.1 .5-4.4 .3 1.1 .1-.1 .5-6.1 .4 1.8 .1-1.7 .6-22.1 .2-61.3 .3-.6 .1 0 .5 2.7 .1 0 .2-.4 .2 .2 .4 2.9 .1 0 .2-.5 .1 .1 .5 3.4 .1 .1 .3-.7 .1 .2 .3 2.9 .2 1.2 .3-1 .1 .2 .5 5.6 .3-1.6 .1 .2 .6 11.9 .1 .5 .2-1.9 .2 1.6 .3 75.1 .4-1.8 .3 .3 .1-.2 .5-2.6 .1 0 .2 .4 .1-.1 .5-3.1 .3 .6 .1-.2 .5-3.5 .3 .7 .1-.1 .5-4.4 .4 1 .1-.3 .5-6.2 .3 1.9 .2-1.2 .5-20.8 .2-62.6 .5-.3 .5 2.7 .1 .1 .2-.5 .1 .1 .5 3 .3-.5 .1 .1 .5 3.5 .3-.7 .1 .1 .5 4.3 .1 0 .3-1 .1 .3 .4 5.7 .4-1.7 .2 1.4 .7 21.5 .2 59.6 .2 4.1 .6-2.6 .1-.1 .2 .4 .1-.2 .5-2.8 .1 0 .2 .5 .1-.2 .5-3.2 .3 .6 .1-.1 .5-4 .3 .9 .1-.1 .5-5.3 .4 1.3 .6-9.1 .3 2.8 .2-.7 .3-17.4 .2-63.5 .3 1.2 .3-.4 .1 .2 .5 2.6 .3-.4 .1 .2 .5 3 .3-.6 .1 .2 .5 3.5 .3-.7 .1 .1 .5 4.4 .3-1.1 .1 .1 .5 6 .4-1.7 .1 .8 .5 13.7 .3 68.3 .1 2.4 .3 .6 .5-2.8 .1 0 .3 .4 .1-.2 .4-2.8 .1-.1 .3 .5 .1-.1 .4-3.4 .4 .7 .1-.2 .5-4.1 .3 .9 .1-.1 .5-5.6 .4 1.5 .6-12 .1-.3 .3 2 0-.6 .3-15 .2-61.5 .3 1.8 .4-.3 .1 .1 .4 2.7 .4-.4 .1 .1 .4 3 .4-.5 .1 .1 .4 3.6 .4-.7 .1 .1 .5 4.4 .3-1.1 .1 .4 .5 6.1 .4-1.9 .1 1.2 .5 20.5 .3 63 .3 .4 .1-.2 .5-2.6 .3 .4 .1-.1 .5-3 .3 .5 .2-.1 .4-3.5 .4 .7 .1-.1 .4-4.2 .4 .9 .1-.3 .5-5.6 .3 1.7 .2-1.5 .8-21.5 .2-63.6 .1-.2 .2 .2 .4 2.5 .3-.4 .1 .2 .5 2.8 .3-.5 .1 .2 .5 3.2 .3-.6 .1 .1 .5 4 .3-.9 .2 .1 .5 5.2 .4-1.3 .5 8.8 .3-2.7 .2 .3 .2 10.4 .3 71.2 .3-1.1 .3 .4 .1-.2 .5-2.6 .3 .4 .1-.2 .5-3 .3 .6 .1-.1 .5-3.6 .3 .7 .1-.1 .5-4.3 .4 1 .1-.3 .4-5.8 .4 1.7 .2-1.4 .6-22 .2-61.8 .4-.5 .5 2.6 .1 .1 .2-.4 .1 .1 .5 3 .3-.5 .1 .1 .5 3.4 .3-.7 .1 .1 .5 4.2 .3-1 .2 .3 .4 5.5 .4-1.5 .1 .1 .5 11.6 .2 .6 .2-2.1 .2 4.7 .3 72.5 .3-1.7 .4 .3 .1-.2 .5-2.6 .3 .4 .1-.2 .5-3 .3 .5 .1-.1 .5-3.6 .3 .7 .1 0 .5-4.5 .3 1 .1 0 .5-6.4 .4 1.9 .1-.6 .6-21.3 .2-62.4 0-.4 .4-.3 .5 2.7 .1 0 .3-.4 .1 .2 .4 2.9 .1 0 .3-.5 .1 .1 .4 3.4 .2 .1 .2-.7 .1 .2 .5 4.1 .3-.9 .1 .1 .5 5.8 .4-1.6 .3 3.9 .6 19.7 .3 62.9 .1 .3 .1-.3 .4-2.4 .4 .4 .1-.2 .4-2.8 .4 .4 .1-.1 .4-3.2 .4 .6 .1-.1 .5-4 .3 .9 .1-.1 .5-5.1 .4 1.2 .6-8.6 .3 2.7 .1-.8 .3-17 .3-64.4 .2 1.1 .3-.4 .2 .2 .4 2.6 .3-.4 .2 .2 .4 3 .4-.6 .1 .1 .4 3.6 .4-.7 .1 .1 .4 4.3 .4-1 .1 .3 .5 5.8 .3-1.7 .2 1.3 .6 19.7 .2 61.1 .1 3.1 .2 .5 .2-.3 .4-2.3 .1-.1 .2 .4 .2-.2 .4-2.8 .3 .4 .1-.1 .5-3.4 .3 .7 .1-.1 .5-4.2 .4 .9 .1-.1 .5-5.6 .4 1.5 .6-11.9 .1-.2 .2 2.1 .1-.6 .2-15.2 .2-61.5 .4 1.6 .3-.3 .1 .2 .5 2.6 .3-.4 .1 .2 .5 3 .3-.5 .1 .1 .5 3.6 .3-.8 .1 .1 .5 4.5 .3-1.1 .2 .1 .5 6.4 .4-1.8 .3 7.2 .3 13.7 .2 62.8 .1 .9 .4 .3 .4-2.5 .1-.2 .3 .4 .1-.1 .5-3 .3 .5 .1-.1 .5-3.5 .3 .7 .1-.1 .5-4.2 .3 1 .2-.4 .4-5.6 .4 1.7 .2-1.9 .8-20.5 .2-60.2 .1-4.3 .5 2.7 .2 0 .2-.4 .1 .2 .5 2.8 .1 0 .2-.5 .1 .2 .5 3.2 .3-.6 .1 .1 .5 3.9 .3-.8 .1 .1 .5 5.1 .4-1.3 .6 8.6 .3-2.7 .1 .8 .4 17.6 .2 63.9 .3-1.1 .3 .4 .1-.2 .4-2.6 .4 .4 .1-.1 .5-3 .3 .5 .1-.1 .5-3.6 .3 .7 .1-.1 .5-4.3 .3 1 .2-.3 .4-5.9 .4 1.8 .1-1.3 .6-19.6 .2-61.8 .1-2.5 .3-.6 .5 2.7 .1 .1 .3-.4 .1 .2 .4 2.8 .1 .1 .3-.5 .1 .1 .4 3.4 .4-.7 .1 .2 .5 4.1 .3-1 .1 .1 .5 5.7 .4-1.5 .6 11.9 .1 .3 .2-2.1 .1 .3 .3 15.2 .1 61.4 .1 .4 .3-1.8 .3 .4 .2-.2 .4-2.6 .4 .4 .1-.6 .4-2.6 .4 .5 .1-.2 .4-3.4 .4 .7 .1-.2 .5-4.4 .3 1.1 .1-.2 .5-6.2 .4 1.9 .2-2.1 .4-20.9 .2-60.4 .1-1.3 .3-.5 .6 2.8 .1 0 .2-.4 .2 .2 .4 2.9 .1 0 .2-.5 .2 .1 .4 3.4 .4-.6 .1 .1 .4 4.2 .4-1 .1 .4 .5 5.6 .3-1.7 .2 1.7 .8 20.9 .3 64.2 .2-.2 .4-2.4 .3 .4 .1-.2 .5-2.8 .3 .5 .1-.1 .5-3.3 .3 .6 .1-.1 .5-3.9 .3 .8 .1-.1 .5-5.1 .5 1.3 .5-8.5 .3 2.7 .2-.8 .3-17.4 .2-64.2 .3 1.1 .3-.4 .1 .2 .5 2.6 .3-.4 .1 .1 .5 3 .3-.5 .1 .1 .5 3.6 .3-.7 .1 .1 .5 4.3 .4-.9 .6 6.1 .3-1.8 .1 .5 .7 22.5 .2 61.9 .1 .5 .2 .4 .1-.1 .4-2.6 .1-.1 .3 .4 .1-.1 .4-2.9 .1-.1 .3 .5 .1 0 .4-3.3 .1-.2 .2 .3 .1 .4 .2-.3 .4-4 .3 1 .1-.2 .5-5.6 .3 1.6 .2-.2 .5-11.7 .2-.4 .2 2.2 .1-1.4 .4-76 .3 1.7 .4-.3 .1 .2 .4 2.6 .4-.4 .1 .2 .5 3 .3-.5 .1 .1 .5 3.6 .3-.8 .1 .1 .5 4.5 .3-1.1 .2 .3 .4 6.1 .4-1.9 .1 1.3 .5 20.9 .3 62.4 .3 .6 .1-.1 .5-2.6 .1-.1 .3 .4 .1-.2 .4-2.9 .1 0 .3 .5 .1-.1 .4-3.4 .4 .6 .2-.4" fill="none" stroke="#0000ff" stroke-width="1.5" stroke-linejoin="round" stroke-linecap="round"/>
<rect x="16.2" y="220" width="194.5" height="153" fill="none" stroke="#111" stroke-width="1.4"/>
<text x="16.2" y="379.7" font-size="5.4" text-anchor="middle" font-family="'Liberation Sans',sans-serif" fill="#262626">0</text>
<text x="48.7" y="379.7" font-size="5.4" text-anchor="middle" font-family="'Liberation Sans',sans-serif" fill="#262626">50</text>
<text x="81.1" y="379.7" font-size="5.4" text-anchor="middle" font-family="'Liberation Sans',sans-serif" fill="#262626">100</text>
<text x="113.5" y="379.7" font-size="5.4" text-anchor="middle" font-family="'Liberation Sans',sans-serif" fill="#262626">150</text>
<text x="145.9" y="379.7" font-size="5.4" text-anchor="middle" font-family="'Liberation Sans',sans-serif" fill="#262626">200</text>
<text x="178.3" y="379.7" font-size="5.4" text-anchor="middle" font-family="'Liberation Sans',sans-serif" fill="#262626">250</text>
<text x="210.8" y="379.7" font-size="5.4" text-anchor="middle" font-family="'Liberation Sans',sans-serif" fill="#262626">300</text>
<text x="14.1" y="374.9" font-size="5.4" text-anchor="end" font-family="'Liberation Sans',sans-serif" fill="#262626">-3</text>
<text x="14.1" y="349.4" font-size="5.4" text-anchor="end" font-family="'Liberation Sans',sans-serif" fill="#262626">-2</text>
<text x="14.1" y="323.9" font-size="5.4" text-anchor="end" font-family="'Liberation Sans',sans-serif" fill="#262626">-1</text>
<text x="14.1" y="298.4" font-size="5.4" text-anchor="end" font-family="'Liberation Sans',sans-serif" fill="#262626">0</text>
<text x="14.1" y="272.9" font-size="5.4" text-anchor="end" font-family="'Liberation Sans',sans-serif" fill="#262626">1</text>
<text x="14.1" y="247.4" font-size="5.4" text-anchor="end" font-family="'Liberation Sans',sans-serif" fill="#262626">2</text>
<text x="14.1" y="221.9" font-size="5.4" text-anchor="end" font-family="'Liberation Sans',sans-serif" fill="#262626">3</text>
<path d="M16.2 373v-1.8M16.2 220v1.8M48.7 373v-1.8M48.7 220v1.8M81.1 373v-1.8M81.1 220v1.8M113.5 373v-1.8M113.5 220v1.8M145.9 373v-1.8M145.9 220v1.8M178.3 373v-1.8M178.3 220v1.8M210.8 373v-1.8M210.8 220v1.8M16.2 373h1.8M210.8 373h-1.8M16.2 347.5h1.8M210.8 347.5h-1.8M16.2 322h1.8M210.8 322h-1.8M16.2 296.5h1.8M210.8 296.5h-1.8M16.2 271h1.8M210.8 271h-1.8M16.2 245.5h1.8M210.8 245.5h-1.8M16.2 220h1.8M210.8 220h-1.8" stroke="#000" stroke-width="1.2" fill="none"/>
<text x="113.5" y="388" font-size="7.3" text-anchor="middle" font-family="'Liberation Serif',serif" font-style="italic" fill="#262626">t</text>
<text x="3.2" y="296.5" font-size="7.3" text-anchor="middle" font-family="'Liberation Serif',serif" font-style="italic" transform="rotate(-90 3.2 296.5)" fill="#262626">x</text>
<path d="M286 299.9l0 .2-.3 .1-.2-.2 .1-.2 .8-.3 1.8-.2 1.3 .4 .2 .3-.3 .2-.4-.2 .5-.5 1.1-.2 1.2-.1 1.7 .5 .2 .3-.4 .3-.3-.1-.1-.2 .5-.5 1.2-.3 1.4-.1 1.1 .1 .9 .4 .3 .5-.5 .3-.5-.1-.2-.3 .6-.6 1.4-.4 1.8-.1 1.5 .2 1 .4 .3 .6-.7 .4-.6-.1-.3-.4 .2-.4 .7-.4 2.1-.6 2.4-.1 2 .3 1.3 .6 .3 .5-.1 .4-.4 .3-.7 .2-.9-.1-.5-.4-.1-.5 .4-.5 1.7-.8 2.9-.7 3.3-.5 3.7-.2 11.4 .2 2.4-.4 2.5-.9 2.3-1.2 2.4-1.7 6.6-5.3 6-5.8 15.2-15.3 7.5-6.7 4.2-3.2 4.6-2.9 4.8-2.3 5-1.2 5.1-.1 4.9 1.5 4.8 2.8 4.4 4.1 4 4.9 3.4 5.3 2.9 5.3 4.3 9.2 6 15.5 .6 1 0 .3-1 .4-1.6 .1-1.2-.4-.2-.3 .3-.2 .3 .3-.5 .4-2.2 .3-1.6-.5-.2-.3 .3-.3 .5 .3-.5 .5-1.2 .3-1.3 .1-1.1-.2-.8-.3-.3-.5 .5-.2 .4 0 .2 .3-.6 .6-1.4 .4-1.6 .1-1.4-.2-1-.4-.2-.6 .6-.4 .6 .2 .2 .3-.2 .4-.6 .3-1.9 .6-2.1 .1-1.8-.3-1.2-.6-.3-.4 0-.4 1-.4 .9 .2 .4 .6-.5 .6-1.1 .5-3.4 .8-3.9 .2-2.9-.3-2-.8-.6-.6-.2-.5 .3-.6 .6-.5 .9-.3 .9 0 .8 .2 .7 .4 .3 .5 0 .5-.3 .6-.5 .6-2.3 1.3-7.3 2.9-3.9 1.9-3.4 1.9-4.4 2.8-4.2 3.2-5.3 4.6-20.4 19.6-4.2 3.8-4.6 3.8-5 3.6-5.3 2.9-5.6 1.8-5.7 .3-5.6-1.4-5.4-3.2-5-4.9-4.4-5.9-3.8-6.4-3.1-6.3-4.5-10.8-2.6-7.4-2.2-7.1-.4-2.2 .1-.7 .4-.1 1 .2 .4 .3-.2 .3-.3-.1 0-.2 .7-.4 2.1-.2 1.2 .4 .2 .4-.3 .1-.3 0-.1-.3 .6-.4 1.1-.3 1.3 0 1.5 .5 .2 .4-.4 .2-.4-.1-.1-.3 .7-.4 1.2-.4 1.4 0 1.1 .1 .9 .4 .2 .5-.5 .3-.5-.1-.1-.3 .7-.7 1.5-.4 1.8 0 1.4 .2 1 .5 .2 .6-.7 .3-.6-.1-.3-.4 .2-.4 .7-.5 2.2-.5 2.6-.1 2 .3 1.3 .6 .2 .5 0 .4-.4 .4-.7 .1-.7 0-.6-.3-.3-.4 .1-.5 1.2-.8 2.1-.8 5.2-.8 12.6-1.2 3.5-.8 3.2-1.1 5.2-2.9 2.9-2.1 3.8-3 6.8-6.1 13.1-12.7 7.3-6.4 4.2-3.1 4.4-2.8 4.7-2.3 4.9-1.4 5-.2 4.9 1.2 4.7 2.5 4.5 3.8 3.9 4.6 3.5 5.2 3 5.1 4.4 9.2 2.8 6.8 3.6 10 .2 .3 .4 .1 0 .2-1 .5-1.5 .1-1.3-.4-.2-.3 .2-.2 .4 .2-.5 .5-2.2 .3-1.6-.5-.3-.3 .4-.3 .3 .1 .2 .2-.6 .5-1.2 .3-1.3 .1-1.1-.1-.9-.4-.3-.5 .5-.3 .5 .1 .1 .3-.6 .6-1.4 .4-1.7 .1-1.5-.2-.9-.5-.3-.5 .7-.4 .6 .1 .3 .4-.3 .4-.6 .4-2 .5-2.4 .1-1.9-.2-1.2-.7-.3-.4 .1-.4 .4-.3 .6-.2 1.1 .3 .3 .3 0 .4-.6 .6-1.4 .7-4.1 .8-5 .2-3.7-.3-2.6-.8-.9-.5-.4-.6 0-.7 .6-.5 .7-.2 .6 .1 .6 .3 .3 .4-.2 1.1-1.1 1.3-11.1 7.3-7.3 5.8-7.5 6.8-18.4 18.4-4.3 3.9-4.8 3.9-5 3.5-5.5 2.9-5.6 1.6-5.7 .1-5.7-1.8-5.4-3.6-4.9-5.1-4.4-6.2-3.7-6.6-3-6.3-4.3-10.6-3.3-9.5-1.7-6.3 .1-.6 .3-.3 1.8 .2 .6 .3-.3 .3-.3-.2 .2-.2 1.1-.4 1.2-.1 1.1 .2 .6 .4 0 .2-.3 .1-.3-.1 0-.2 .7-.5 1.3-.2 1.3 0 1.3 .6 .1 .3-.4 .2-.4-.1 0-.3 .7-.5 1.3-.3 1.6 0 1.1 .2 .6 .4 .2 .4-.5 .3-.5-.1-.2-.3 .8-.7 1.6-.4 1.9-.1 1.4 .3 1 .5 .2 .3-.1 .3-.7 .3-.7-.1-.3-.4 .3-.5 .8-.4 2.4-.6 2.7-.1 2.1 .4 1.2 .6 .3 .5-.1 .5-.4 .3-.7 .2-1.4-.2-.3-.4-.1-.4 .7-.9 1.8-.8 4.2-.9 12-2 3.7-.9 3.1-1.2 3.1-1.5 2.8-1.7 6.1-4.4 7-6.1 16.9-15.9 3.9-3.3 4.2-3.2 4.5-2.9 4.8-2.4 5-1.5 5-.3 5.1 1.1 4.8 2.6 4.6 3.8 4 4.8 3.6 5.3 3 5.4 2.5 5.1 4.8 11.5 2.5 7.2 .9 3.2 .2-.2 .3 .2-.4 .4-1.2 .3-1.4-.1-1-.4-.1-.3 .2-.1 .4 .3-.6 .4-1.1 .3-1.3 0-1.5-.5-.1-.4 .3-.2 .4 .1 .1 .2-.6 .6-1.3 .3-1.4 0-1.1-.2-.8-.3-.2-.5 .5-.3 .5 .1 .1 .3-.7 .6-1.4 .4-1.8 .1-1.4-.2-1-.5-.2-.6 .7-.3 .6 .1 .3 .4-.2 .4-.7 .4-2.1 .6-2.5 .1-2-.3-1.2-.7-.3-.4 .1-.4 .4-.3 .7-.2 .9 .1 .5 .4 0 .5-.4 .5-1.9 .9-3 .7-3.6 .4-4 .2-10.6-.5-2.1 .2-2.1 .8-1.9 1.1-2.7 1.8-6.1 5.1-5.6 5.4-17.5 17.7-7.7 6.8-4.4 3.3-4.7 2.8-4.9 2-5.1 1-5.1-.3-5.1-1.9-4.7-3.3-4.4-4.5-3.8-5.2-3.3-5.4-2.8-5.3-4-9-6-15.4 .2-.3 1-.4 1.5 0 1.2 .3 .1 .3-.2 .2-.4-.2 .5-.5 2.2-.3 1.6 .5 .2 .3-.4 .3-.3-.1-.1-.2 .6-.5 1.1-.3 1.4-.1 1 .2 .8 .3 .3 .5-.5 .2-.4-.1-.2-.2 .7-.6 1.4-.4 1.5 0 1.3 .1 1 .5 .3 .5-.7 .3-.5-.1-.3-.3 .2-.4 .6-.3 1.9-.5 2.1-.1 1.8 .2 1.2 .6 .2 .4 0 .4-.9 .4-.9-.2-.4-.5 .4-.6 1-.6 3.3-.7 3.7-.2 2.9 .3 1.8 .8 .6 .6 .1 .5-.3 .6-.6 .4-1.6 .3-1.5-.6-.3-.4-.1-.5 .2-.6 .5-.5 2.3-1.3 8.2-3.1 4.7-2.2 4.6-2.6 4.9-3.4 4.7-3.8 3.9-3.4 21.5-20.6 4.4-3.8 4.8-3.7 5.2-3.1 5.4-2.3 5.6-1 5.7 .6 5.4 2.4 5.2 4.2 4.6 5.4 4.1 6.3 3.4 6.3 2.7 6 2.2 5.3 3 8.1 1.7 5.1 1.2 4.6 .2 1.3-.2 .4-1.3-.2-.3-.3 .2-.2 .3 .1 0 .2-.7 .4-1.1 .2-1.1-.1-1.2-.4 0-.3 .3-.1 .3 .1 0 .2-.6 .4-1.1 .3-1.3 0-1.5-.5-.2-.4 .4-.2 .4 .1 .1 .2-.7 .6-1.3 .3-1.4 0-1.1-.2-.8-.3-.2-.5 .5-.3 .5 .1 .2 .3-.7 .7-1.6 .4-1.8 0-1.4-.2-1-.4-.2-.7 .7-.3 .7 .1 .2 .4-.2 .4-.7 .5-2.1 .5-2.6 .1-2-.3-1.3-.6-.3-.4 .1-.5 .4-.4 .6-.1 .8 0 .6 .3 .3 .4-.2 .5-1.1 .8-2.3 .8-5.3 .9-12.6 1-3 .7-3.1 1-2.5 1.2-3.1 1.9-3 2.1-3.7 3-4.9 4.4-18.5 17.6-3.8 3.2-4.1 3.2-4.5 2.8-4.7 2.2-4.9 1.4-4.9 .3-5-1.2-4.7-2.5-4.4-3.7-4-4.7-3.5-5.1-3-5.2-2.4-4.8-4.8-11.2-3.6-10-.2-.3-.5-.2 .2-.3 .5-.2 1.6-.2 1.5 .4 .3 .3-.3 .2-.4-.2 .5-.4 2.1-.4 1 .1 .8 .4 .2 .4-.6 .1-.1-.3 .5-.4 2.4-.4 1.1 .1 .9 .4 .3 .4-.3 .3-.5 0-.3-.3 .6-.6 1.4-.4 1.7-.1 1.4 .2 1 .4 .4 .6-.6 .4-.7-.1-.3-.4 .2-.4 .6-.4 2-.5 2.2-.1 2 .2 1.3 .6 .3 .4 0 .4-.4 .4-.6 .2-1.1-.2-.3-.4-.1-.3 .6-.7 1.3-.6 4-.9 5-.2 3.6 .3 2.7 .8 .8 .5 .5 .7-.1 .6-.5 .5-.8 .3-.7-.1-.6-.2-.3-.4 0-1.1 .9-1.2 2.1-1.5 6.1-3.8 4.3-2.9 7.7-6.1 8-7.4 15.6-15.5 4.1-3.9 4.6-4 5-3.7 5.3-3.1 5.5-2.1 5.8-.7 5.7 1.1 5.5 3 5.1 4.6 4.6 5.9 3.9 6.5 3.3 6.5 4.7 11.1 4.3 12.5 1.1 4.2 .2 1-.2 .6-.7 .1-1.1-.1-.7-.4 0-.2 .2-.1 .3 .1 0 .2-.6 .4-2.2 .2-1.3-.4-.1-.4 .3-.1 .3 0 .1 .3-.6 .4-1.1 .3-1.3 0-1.6-.5-.2-.4 .4-.2 .4 .1 .1 .3-.6 .5-1.3 .3-1.4 0-1.2-.1-.8-.4-.2-.5 .5-.3 .5 .1 .1 .3-.7 .7-1.5 .4-1.9 .1-1.5-.3-.9-.4-.3-.4 0-.3 .8-.3 .7 .1 .2 .4-.2 .5-.8 .4-2.2 .6-2.8 .1-2-.3-1.3-.7-.3-.4 0-.5 .5-.4 .6-.2 1.4 .2 .4 .4 0 .5-.8 .8-1.9 .8-4.2 1-12.4 1.9-3.6 1-3.2 1.2-3.1 1.5-2.8 1.7-6.2 4.6-7.2 6.3-13.7 13-7.6 6.5-4.3 3.2-4.6 2.7-4.8 2.2-5 1.1-5.1-.1-5-1.5-4.7-3-4.4-4.1-3.9-5-3.4-5.3-2.9-5.3-4.2-9.2-3.4-8.9-2.3-7.3-.4 .2 0-.4 1.1-.4 1.5-.1 1.3 .4 .1 .3-.3 .2-.3-.3 .5-.4 1.1-.2 1.2-.1 1.6 .5 .2 .3-.3 .3-.4-.1-.1-.2 .6-.5 1.2-.4 1.4 0 1.1 .2 .8 .3 .2 .5-.4 .3-.5-.1-.2-.3 .7-.6 1.4-.4 1.8-.1 1.4 .2 1 .5 .3 .6-.7 .3-.6-.1-.3-.4 .2-.4 .7-.4 2-.6 2.4-.1 2 .3 1.3 .6 .3 .5-.1 .4-.4 .3-.6 .2-.9-.1-.6-.4 0-.6 .5-.5 2-.9 3.3-.7 3.9-.3 4-.1 9.9 .7 1.8-.2 1.8-.6 2.1-1.2 2.5-1.8 5.7-4.8 5.3-5.1 13.4-13.8 6.7-6.6 3.9-3.5 4.2-3.4 4.5-3.2 4.9-2.6 5-1.7 5.2-.5 5.2 1.1 5 2.5 4.6 3.9 4.2 5 3.6 5.4 3.1 5.6 2.6 5.2 4.9 11.7 3.9 10.6-.1 .3-1 .4-1.5 0-1.2-.3-.2-.3 .3-.2 .3 .2-.5 .5-2.1 .2-1.6-.4-.2-.3 .3-.3 .4 .3-.5 .5-1.1 .3-1.3 .1-1.1-.2-.8-.3-.3-.5 .5-.2 .4 .1 .2 .2-.6 .6-1.4 .3-1.5 .1-1.4-.1-1-.5-.2-.5 .6-.3 .5 .1 .3 .3-.2 .4-.6 .3-1.7 .5-2.1 .1-1.8-.2-1.2-.5-.3-.4 0-.4 .4-.3 .5-.2 .9 .2 .4 .5-.4 .6-.9 .5-3.1 .8-3.7 .2-2.7-.4-1.9-.7-.4-.5-.2-.6 .3-.6 .5-.3 1.5-.3 .8 .1 .8 .4 .3 .4 .1 .6-.8 1-2.5 1.3-8.2 3-4.5 1.9-5.4 3-4.8 3.4-4.8 3.7-3.9 3.5-21.4 20.4-4.4 3.8-4.7 3.6-5.2 3.2-5.4 2.2-5.6 1-5.6-.6-5.4-2.4-5.1-4.1-4.7-5.4-4-6.1-3.4-6.3-2.8-6-2.2-5.3-3-8.1-2.5-8-.6-3.1 .3-.4 .7 .1 .7 .4-.2 .3-.3-.1 0-.2 .6-.4 2.1-.2 1.3 .4 .1 .3-.3 .2-.3-.2 .5-.5 1-.2 1.2-.1 1.7 .5 .3 .3-.4 .3-.5-.2 .2-.4 1.4-.5 1.8-.1 1.6 .4 .5 .5-.5 .4-.5-.1-.2-.4 1.1-.7 1.9-.3 2 .1 1 .3 .6 .4 0 .5-.6 .3-.7-.1-.2-.5 .3-.4 .9-.5 2.4-.5 2.7 0 1.8 .4 .9 .6 .2 .5-.1 .3-.9 .5-.8 0-.6-.2-.4-.5 .1-.4 1.1-.9 2-.7 5.3-.9 10.2-.8 3.4-.4 4.1-1.1 3.5-1.5 4.9-3 6-4.7 5-4.6 15.7-15 7.5-6.4 4.3-3.1 4.5-2.6 4.8-1.9 5-1 4.9 .4 4.9 1.7 4.6 3 4.2 4.2 3.8 4.9 3.3 5.2 2.7 5.1 4.1 8.7 2.5 6.3 3.3 9 .1 .2 .5 .1-.1 .3-1.1 .4-1.5 .1-1.2-.4-.2-.3 .3-.2 .4 .2-.6 .5-2.3 .3-1.5-.5-.2-.4 .3-.2 .4 .1 .1 .2-.6 .5-1.2 .3-1.3 .1-1.1-.2-.9-.3-.2-.5 .5-.3 .4 .1 .2 .3-.6 .6-1.4 .4-1.8 .1-1.4-.2-1-.5-.2-.5 .6-.4 .6 .1 .3 .4-.2 .4-.7 .4-2 .5-2.3 .1-1.9-.2-1.2-.6-.3-.5 .1-.4 .4-.3 .6-.2 1.1 .3 .3 .3 0 .4-.6 .6-1.4 .6-4.1 .9-5 .2-3.6-.4-2.5-.8-.8-.5-.3-.7 .1-.6 .6-.5 1.4-.2 .7 .3 .3 .4 0 1.1-.9 1.2-2 1.5-10.1 6.2-7.3 5.7-7.5 6.8-14.5 14.5-8.2 7.7-4.7 3.9-5.1 3.5-5.4 2.9-5.6 1.7-5.8 .2-5.6-1.7-5.4-3.5-5-5.2-4.3-6.1-3.8-6.5-3-6.4-4.4-10.7-2.5-7.2-2.3-7.6-.3-1.5 .2-.5 .8-.1 1.1 .1 .6 .4 0 .2-.3 .1-.2-.1 0-.2 .6-.4 2.2-.2 1.3 .5 .1 .3-.4 .1-.2-.1-.1-.2 .6-.4 1.1-.3 1.3 0 1.6 .5 .1 .4-.4 .2-.3-.1-.1-.2 .6-.6 1.3-.3 1.5 0 1.1 .2 .8 .3 .2 .5-.5 .3-.5-.1-.2-.3 .8-.7 1.5-.4 1.8-.1 1.6 .3 .9 .4 .2 .7-.7 .3-.7-.1-.3-.4 .3-.5 .8-.4 2.2-.6 2.7-.1 2.1 .3 1.2 .7 .3 .4 0 .5-.4 .4-.7 .2-1.3-.2-.4-.4 0-.5 .7-.8 1.9-.8 4.2-.9 12.2-1.9 3.6-.9 3.7-1.4 3.1-1.6 2.8-1.7 6.3-4.6 5.2-4.6 12.6-11.9 7-6.3 4-3.3 4.3-3.1 4.6-2.7 4.9-2 5-1 5 .3 5 1.7 4.7 3.1 4.3 4.3 3.9 5 3.3 5.3 2.8 5.3 2.2 4.8 4.4 10.6 2.2 6.5 .8 2.8 .2-.2 .3 .1-.2 .4-1.2 .4-1.4 0-1.2-.5-.1-.3 .3-.1 .3 .3-.5 .4-1.1 .2-1.2 .1-1.6-.5-.2-.4 .4-.2 .3 .1 .1 .2-.5 .5-1.3 .4-1.3 0-1.2-.2-.8-.3-.2-.5 .5-.3 .4 .1 .2 .3-.6 .6-1.5 .4-1.7 .1-1.5-.2-1-.4-.2-.7 .6-.3 .7 .1 .2 .4-.2 .4-.7 .4-2 .6-2.5 .1-2-.3-1.2-.7-.3-.4 .2-.4 .4-.4 .7-.1 .8 .1 .5 .5 0 .5-.6 .5-2.2 1-3.4 .6-4 .3-4 .1-9.4-.9-1.6 .2-1.4 .5-1.9 1-2.8 2-6.5 5.6-5.5 5.4-17.5 17.9-7.7 7-4.4 3.4-4.7 3-5 2.2-5.2 1.2-5.2-.2-5.1-1.7-4.9-3.3-4.5-4.5-4-5.3-3.4-5.6-2.8-5.5-2.3-4.9-3.3-8-4.5-12.4 .9-.4 1.6-.2 1.3 .4 .2 .3-.3 .2-.3-.2 .5-.4 2.1-.3 1.6 .4 .2 .3-.3 .3-.4-.3 .5-.5 1.1-.3 1.3-.1 1 .2 .9 .3 .3 .5-.5 .2-.4-.1-.2-.2 .6-.6 1.4-.3 1.5-.1 1.4 .1 .9 .5 .3 .5-.6 .3-.6-.1-.2-.4 .3-.3 .7-.4 2.6-.5 2.7 .2 1 .4 .5 .5-.2 .6-.7 .3-.9-.2-.3-.6 .5-.6 1.3-.6 3.5-.6 3.9 0 2.1 .4 1.3 .7 .4 .9-.3 .5-.5 .4-1.4 .3-1.6-.5-.3-.4-.1-.5 .7-1 2.6-1.4 8.4-3 4.6-1.9 5.3-2.9 4.8-3.3 4.6-3.7 6.1-5.3 18.8-18.1 4.3-3.7 4.7-3.7 5.1-3.2 5.3-2.5 5.6-1.2 5.6 .3 5.4 2.1 5.2 3.8 4.7 5.2 4.2 6 3.5 6.3 2.8 6 4.1 10 2.4 6.8 2.1 7.1 .2 1.5-.2 .4-1.1-.2-.3-.3 .3-.2 .2 .1 0 .2-.7 .4-1 .2-1.2-.1-1.1-.4-.1-.3 .3-.1 .3 .1 0 .2-.6 .4-1.1 .3-1.3 0-1.5-.5-.2-.4 .4-.2 .4 .1 .1 .2-.7 .6-1.2 .3-1.4 0-1.2-.2-.8-.3-.2-.5 .5-.3 .5 .1 .2 .3-.7 .6-1.5 .4-1.8 .1-1.4-.2-1-.4-.3-.7 .7-.3 .7 .1 .3 .4-.3 .4-.7 .5-2.2 .5-2.6 .1-2-.3-1.3-.7-.2-.4 .1-.4 .4-.4 .7-.1 .7 0 .6 .3 .3 .5-.2 .4-1.2 .9-2.2 .7-5.2 .8-12.8 1.1-3.5 .8-3.2 1.2-5.1 2.9-3 2.1-3.7 3-4.9 4.4-12 11.6-6.7 6.2-3.8 3.2-4.2 3.1-4.5 2.8-4.7 2.2-4.9 1.3-5 .1-4.9-1.3-4.7-2.6-4.4-3.9-3.9-4.7-3.4-5.1-2.9-5.2-4.4-9.1-2.7-6.6-3.5-9.7-.2-.4-.5-.1 .1-.3 1.1-.4 1.5-.1 1.2 .4 .2 .3-.3 .2-.4-.2 .5-.5 2.3-.3 1.6 .5 .2 .4-.3 .2-.4-.1-.1-.2 .6-.5 1.2-.3 1.3-.1 1.1 .2 .8 .3 .3 .5-.5 .3-.4-.1-.2-.3 .6-.6 1.4-.4 1.7-.1 1.5 .2 1 .5 .2 .5-.6 .4-.6-.1-.3-.4 .2-.4 .7-.4 1.9-.5 2.3-.1 1.9 .2 1.3 .6 .3 .5-.1 .4-.4 .3-.6 .2-1.1-.3-.3-.3 0-.4 .6-.6 1.4-.6 4-.9 5-.2 3.6 .4 2.5 .8 .8 .5 .4 .7-.2 .6-.6 .5-1.4 .2-.7-.3-.3-.4-.1-1 1-1.2 1.9-1.5 9.9-6.1 7.2-5.5 7.2-6.5 17.8-17.6 4.1-3.9 4.6-3.9 4.9-3.7 5.3-3.2 5.6-2.2 5.7-.7 5.7 1 5.6 2.9 5.1 4.6 4.6 5.9 3.9 6.4 3.3 6.5 4.8 11.2 2.8 7.8 2 6.4 .8 3.5 0 .5-.2 .3-.8 .1-1-.1-.6-.4 .3-.3 .2 .1 0 .2-.6 .4-2.2 .2-1.2-.5-.2-.3 .4-.1 .3 .1 0 .2-.6 .4-1.1 .3-1.3 0-1.5-.5-.2-.4 .4-.2 .3 .1 .1 .2-.6 .6-1.3 .3-1.4 0-1.2-.2-.8-.3-.2-.5 .5-.3 .5 .1 .2 .3-.7 .7-1.6 .4-1.8 .1-1.5-.3-1-.4-.2-.7 .7-.3 .7 .1 .3 .4-.3 .5-.8 .4-2.2 .6-2.7 .1-2-.3-1.4-.7-.2-.5 .1-.4 .4-.4 .7-.2 1.3 .3 .4 .4 0 .4-.8 .8-1.9 .8-4.1 .9-12.7 1.9-3.6 1-3.1 1.1-3 1.5-2.7 1.7-6.1 4.4-6.9 6.1-16.9 15.8-3.8 3.3-4.2 3.2-4.5 2.9-4.8 2.3-4.9 1.5-5.1 .3-5-1.1-4.8-2.5-4.5-3.8-4.1-4.8-3.5-5.2-3-5.4-2.5-5-4.8-11.4-2.2-6.1-1.3-4.4-.2 .2-.3-.2 .1-.3 .6-.2 1.6-.2 1.5 .3 .3 .4-.3 .2-.4-.2 .5-.5 2.2-.3 1.7 .4 .3 .4-.4 .3-.3-.1-.2-.2 .6-.5 1.1-.3 1.3-.1 1.3 .1 .8 .4 .3 .5-.5 .3-.4-.1-.2-.3 .6-.6 1.4-.4 1.7-.1 1.5 .2 1 .4 .3 .6-.6 .4-.7-.1-.3-.4 .3-.4 .6-.4 1.9-.5 2.4-.2 2 .3 1.4 .6 .3 .3 0 .5-.3 .4-.5 .2-.9 0-.7-.4-.2-.5 .5-.6 2-.9 3.3-.7 3.9-.4 4.2-.1 10 1 1.8-.3 1.8-.8 4.2-3.1 5.8-5 7.2-7.1 15.4-15.8 7.6-7 4.3-3.4 4.7-3.2 5-2.4 5.1-1.5 5.3-.1 5.2 1.5 4.9 3 4.6 4.3 4.1 5.2 3.5 5.6 3 5.6 2.4 5.1 3.4 8.2 4.7 12.8 0 .4-.5 .2-1.6 .3-1.5-.3-.4-.4 .3-.2 .4 .2-.5 .4-2 .4-1.7-.4-.3-.4 .3-.3 .5 .3-.5 .5-1 .3-1.2 .1-1.2-.2-.9-.3-.3-.4 .4-.3 .4 .1 .2 .2-.5 .5-1.3 .4-1.5 .1-1.4-.1-1-.4-.3-.6 .6-.3 .5 .1 .2 .3-.1 .3-.5 .4-1.7 .5-2.1 .1-1.8-.2-1.2-.5-.3-.4 0-.4 .3-.3 .6-.2 .8 .2 .4 .5-.4 .6-.9 .5-2.9 .7-3.5 .2-2.7-.3-1.9-.7-.4-.5-.2-.6 .3-.5 .6-.4 1.5-.3 1.4 .5 .3 .5 .1 .4-.7 1-2.6 1.4-8.4 2.9-4.4 1.8-5.1 2.7-4.6 3.1-4.5 3.4-5.7 5-17.7 17-4.1 3.7-4.5 3.8-4.8 3.5-5.2 2.9-5.5 2-5.5 .7-5.6-1-5.4-2.8-5-4.4-4.4-5.6-3.9-6.2-3.3-6.2-2.6-5.8-3.7-9.3-2.1-6.2-1.8-6.3-.2-1.3 .2-.4 1.2 .2 .2 .3-.3 .2-.2-.1 0-.2 .7-.4 1-.2 1.2 .1 1.1 .4 .1 .3-.3 .1-.3-.1 0-.2 .6-.4 1.1-.3 1.3 0 1.5 .5 .2 .4-.4 .2-.4-.1-.1-.2 .7-.6 1.2-.3 1.4 0 1.1 .2 .9 .3 .2 .5-.5 .3-.5-.1-.2-.3 .7-.6 1.5-.4 1.8-.1 1.5 .2 1 .5 .2 .6-.8 .3-.6-.1-.3-.4 .3-.4 .7-.5 2.2-.5 2.6-.1 2 .3 1.3 .7 .2 .4-.1 .4-.4 .4-.7 .1-.7 0-.6-.3-.3-.5 .2-.4 1.2-.9 2.1-.7 5.2-.8 12.9-1.1 3.4-.8 3.2-1.1 5-2.8 2.9-2.1 3.7-3 4.8-4.3 18.4-17.5 3.8-3.2 4.1-3.2 4.4-2.8 4.7-2.4 4.8-1.4 5-.4 4.9 1 4.8 2.4 4.4 3.6 4.1 4.6 3.5 5.1 3 5.2 2.5 4.9 3.6 8.2 5 13.4 .2 .3 .5 .1-.1 .3-1 .4-1.5 .1-1.3-.4-.2-.3 .3-.2 .4 .2-.5 .5-2.3 .3-1.6-.5-.2-.3 .3-.3 .4 .1 .1 .2-.6 .5-1.2 .3-1.3 .1-1.1-.2-.8-.3-.3-.5 .5-.2 .4 0 .2 .3-.6 .6-1.4 .4-1.7 .1-1.5-.2-1-.4-.2-.6 .6-.4 .6 .1 .3 .4-.2 .4-.6 .4-2 .5-2.3 .1-1.9-.2-1.3-.6-.3-.5 .1-.4 .4-.3 .6-.2 1.1 .3 .3 .3 0 .3-.6 .7-1.4 .6-4 .9-5 .2-3.6-.4-2.5-.8-.8-.5-.3-.6 .1-.6 .5-.6 1.4-.2 .7 .2 .5 .5 0 1-1.1 1.4-1.8 1.3-6.4 3.9-4.3 2.8-7.6 5.9-7.8 7.2-15.2 15.1-8.5 7.8-4.9 3.8-5.2 3.3-5.5 2.4-5.7 1.1-5.8-.6-5.5-2.6-5.3-4.2-4.7-5.7-4.1-6.4-3.4-6.5-2.8-6.1-2.2-5.4-3-8.2-2.1-6.7-.9-3.7 0-.7 .4-.3 1.8 .2 .4 .4-.3 .2-.2-.1 0-.2 .7-.4 1-.2 1.2 0 1.2 .5 .1 .3-.4 .1-.3-.2 .4-.4 2-.4 1.1 .1 .9 .3 .3 .4-.3 .3-.5-.3 .4-.5 1.1-.3 1.4-.1 1.2 .1 1 .3 .4 .5-.5 .4-.5-.1-.2-.3 .1-.3 .5-.3 1.4-.4 1.7-.2 1.6 .2 1.2 .4 .3 .7-.2 .3-.5 .1-.6-.1-.4-.3 .2-.5 .7-.4 2-.6 2.6-.2 2.2 .3 1.5 .6 .4 .5 0 .5-.4 .4-.8 .2-1.2-.2-.5-.6 .3-.7 1.1-.7 3.3-1 5.8-1 6.7-.9 4.7-1 4.1-1.5 4.8-2.4 4.2-2.9 5.8-4.6 20.1-18.8 7.9-6.5 4.4-3 4.7-2.5 4.9-1.7 5.1-.6 5 .7 4.9 2.2 4.6 3.5 4.1 4.6 3.7 5.2 3.2 5.3 2.6 5.1 2.1 4.6 2.9 7.3 2.4 6.4 1.4 4.8 .3-.2 .2 .2-.2 .3-.5 .2-1.7 .2-1.4-.4-.3-.3 .3-.2 .4 .2-.5 .4-2.2 .4-1.7-.4-.3-.4 .4-.3 .3 .1 .2 .2-.6 .5-1.1 .3-1.4 .1-1.1-.1-.9-.4-.3-.5 .5-.3 .4 .1 .2 .3-.6 .6-1.4 .4-1.7 .1-1.5-.2-1-.4-.3-.6 .6-.4 .7 .1 .3 .4-.2 .4-.7 .4-2 .6-2.4 .1-2.1-.3-1.3-.7-.2-.4 .1-.4 .4-.4 .7-.1 .8 .1 .5 .5 0 .5-.6 .6-2.3 .9-3.5 .6-4 .4-4-.1-9.2-.9-1.4 .1-1.4 .5-2.1 1.2-2.7 2.1-6.7 5.8-5.7 5.5-17.9 18.4-7.9 7.1-4.5 3.3-4.8 2.9-5.1 2.1-5.2 .9-5.2-.6-5.1-2.1-4.9-3.6-4.3-4.8-3.9-5.5-3.3-5.6-2.7-5.5-2.2-4.8-3.1-7.6-4.1-11.7 1-.5 1.5-.1 1.2 .4 .3 .3-.3 .2-.4-.2 .5-.4 2.1-.3 1.6 .4 .3 .3-.4 .3-.4-.3 .5-.5 1.1-.3 1.3-.1 1.1 .2 .8 .3 .3 .5-.4 .2-.4-.1-.2-.2 .6-.6 1.3-.3 1.5-.1 1.4 .1 .9 .4 .3 .6-.6 .3-.5-.1-.3-.3 .2-.4 .6-.3 1.7-.5 2-.1 1.8 .2 1.2 .5 .3 .4 0 .4-.3 .3-.6 .2-.9-.2-.3-.5 .3-.6 1-.5 2.8-.7 3.6-.2 2.7 .3 1.8 .7 .4 .5 .2 .6-.2 .4-.5 .5-1.5 .3-1.5-.5-.4-.4 0-.5 .7-1 2.5-1.4 8.3-2.8 4.4-1.8 5-2.6 4.5-3 4.4-3.3 5.5-4.8 17.2-16.5 8.3-7.4 4.8-3.6 5.1-3.2 5.3-2.3 5.6-1.1 5.5 .4 5.5 2.3 5.1 3.9 4.7 5.2 4 6.1 3.5 6.2 2.8 6 2.3 5.3 3 8.3 2.9 9.1 .4 2-.2 .6-1.2-.2-.2-.3 .3-.2 .2 .1 0 .2-.6 .4-1.1 .2-1.2-.1-1.1-.4-.1-.3 .3-.1 .3 .1 0 .2-.6 .4-1.1 .3-1.3 0-1.5-.5-.2-.4 .4-.2 .4 .1 .1 .2-.6 .6-1.3 .3-1.4 0-1.1-.2-.8-.3-.3-.5 .6-.3 .4 .1 .2 .3-.7 .6-1.5 .4-1.8 .1-1.5-.2-1-.5-.2-.6 .8-.3 .6 .1 .3 .4-.3 .4-.7 .5-2.2 .5-2.6 .1-2-.3-1.2-.7-.3-.4 .1-.4 .4-.4 .7-.1 .7 0 .6 .3 .3 .5-.2 .4-1.2 .9-2.1 .7-5.5 .9-12.5 1-3.5 .7-3.1 1.2-5 2.7-2.9 2.1-3.6 2.9-6.7 6-16.2 15.5-3.7 3.2-4.1 3.2-4.3 2.9-4.7 2.5-4.8 1.6-5 .5-4.9-.8-4.8-2.2-4.5-3.5-4.1-4.4-3.6-5.1-3.1-5.2-4.7-9.4-2.9-7.1-3.9-10.7-.2-.3-.5-.1 .1-.3 1-.4 1.6-.1 1.2 .4 .2 .3-.3 .2-.4-.2 .5-.5 2.3-.3 1.6 .5 .2 .3-.3 .3-.4-.1-.1-.2 .5-.5 1.2-.3 1.4-.1 1.1 .2 .8 .3 .3 .5-.5 .2-.4 0-.2-.3 .6-.6 1.4-.4 1.7-.1 1.5 .2 1 .4 .2 .6-.6 .4-.6-.1-.3-.4 .2-.4 .6-.4 2-.5 2.3-.1 1.9 .2 1.3 .6 .3 .5-.1 .4-.4 .3-.6 .2-1.1-.3-.3-.3 0-.3 .6-.7 1.3-.6 4.1-.9 4.9-.2 3.6 .4 2.6 .7 .8 .6 .3 .7-.1 .6-.6 .5-1.5 .2-.6-.3-.4-.4 0-1 .8-1.2 2-1.5 6.4-3.8 4.2-2.8 7.5-5.8 7.7-7 15-15 8.4-7.7 4.8-3.9 5.2-3.4 5.5-2.5 5.7-1.3 5.7 .3 5.6 2.3 5.3 4 4.8 5.5 4.2 6.3 3.5 6.5 2.9 6.3 4.1 10.1 3 9.1 1.5 5.5 0 .8-.3 .3-1.4-.1-.9-.4 0-.2 .3-.1 .2 .1 0 .2-.8 .4-1.9 .2-1.3-.4-.2-.3 .3-.2 .4 .2-.5 .5-1.1 .2-1.2 .1-1.7-.4-.2-.4 .3-.3 .4 .1 .2 .2-.6 .5-1.2 .4-1.4 0-1.2-.1-.9-.4-.3-.5 .5-.3 .5 .1 .2 .3-.6 .6-1.5 .4-1.9 .2-1.5-.2-1.1-.5-.2-.7 .7-.3 .7 .1 .3 .4-.2 .4-.7 .5-2.2 .5-2.7 .2-2.1-.3-1.4-.7-.3-.4 0-.5 .4-.4 .7-.2 1.3 .2 .4 .4 .1 .5-.8 .8-1.8 .8-4.4 1-12.3 1.8-3.6 .9-3.7 1.4-3.1 1.6-2.9 1.8-6.3 4.7-5.2 4.6-16.2 15.3-7.8 6.5-4.4 3-4.6 2.6-4.9 1.9-5 .8-5.1-.5-4.9-2-4.6-3.3-4.3-4.4-3.8-5.1-3.2-5.3-2.7-5.2-2.2-4.7-3.1-7.5-2.4-6.7-1.5-5-.3 .2-.2-.2 .8-.5 1.6-.2 1.5 .4 .2 .3-.3 .2-.4-.2 .5-.4 2.2-.4 1.7 .4 .3 .4-.4 .3-.3-.1-.2-.2 .6-.5 1.1-.3 1.4-.1 1.2 .1 .9 .4 .2 .5-.5 .3-.4-.1-.2-.3 .7-.6" fill="none" stroke="#0000ff" stroke-width="1.6" stroke-linejoin="round" stroke-linecap="round"/>
<path d="M360.2 300l.4-1.3 1.1-1.6 4.9-5.7 7.3-7.1 5.4-4.5 4.5-3 4.9-2.5 2.7-1 2.8-.6 2.8-.3 2.8 .1 2.7 .6 2.7 1.1 2.6 1.4 2.4 1.7 2.2 2 3.8 4.3 4 6 1.8 3.2 2 4.2 .8 2.4 0 1.2-1 .3-1.7-.2-.9-.6 .1-.3 .4-.2 .5 .1 .2 .4-1 .7-1.8 .3-2 0-1.2-.3-.8-.5-.1-.5 .7-.3 .7 .1 .3 .4-.3 .5-.8 .5-2.5 .5-3 .1-1.8-.4-1.2-.7-.2-.4 .1-.5 .9-.5 1.5 .2 .4 .4 .1 .4-.7 .9-1.7 .7-3.8 1-12.6 2.2-3.9 1.1-4.1 1.8-5.7 3.4-7 5.4-5.8 5.2-14.3 13.5-7.8 6.6-4.4 3.1-4.8 2.6-4.9 1.9-5.1 .8-5.1-.5-5-2-4.7-3.4-4.3-4.6-3.7-5.2-3.3-5.4-2.7-5.3-2.2-4.8-3-7.5-2.4-6.7-1.4-4.8" fill="none" stroke="#0000ff" stroke-width="1.3" stroke-linejoin="round" stroke-linecap="round"/>
<rect x="266.4" y="226.2" width="187.7" height="147.6" fill="none" stroke="#111" stroke-width="1.4"/>
<text x="266.4" y="380.5" font-size="5.4" text-anchor="middle" font-family="'Liberation Sans',sans-serif" fill="#262626">-2.5</text>
<text x="285.1" y="380.5" font-size="5.4" text-anchor="middle" font-family="'Liberation Sans',sans-serif" fill="#262626">-2</text>
<text x="303.9" y="380.5" font-size="5.4" text-anchor="middle" font-family="'Liberation Sans',sans-serif" fill="#262626">-1.5</text>
<text x="322.7" y="380.5" font-size="5.4" text-anchor="middle" font-family="'Liberation Sans',sans-serif" fill="#262626">-1</text>
<text x="341.4" y="380.5" font-size="5.4" text-anchor="middle" font-family="'Liberation Sans',sans-serif" fill="#262626">-0.5</text>
<text x="360.2" y="380.5" font-size="5.4" text-anchor="middle" font-family="'Liberation Sans',sans-serif" fill="#262626">0</text>
<text x="379" y="380.5" font-size="5.4" text-anchor="middle" font-family="'Liberation Sans',sans-serif" fill="#262626">0.5</text>
<text x="397.7" y="380.5" font-size="5.4" text-anchor="middle" font-family="'Liberation Sans',sans-serif" fill="#262626">1</text>
<text x="416.5" y="380.5" font-size="5.4" text-anchor="middle" font-family="'Liberation Sans',sans-serif" fill="#262626">1.5</text>
<text x="435.3" y="380.5" font-size="5.4" text-anchor="middle" font-family="'Liberation Sans',sans-serif" fill="#262626">2</text>
<text x="454.1" y="380.5" font-size="5.4" text-anchor="middle" font-family="'Liberation Sans',sans-serif" fill="#262626">2.5</text>
<text x="264.2" y="375.7" font-size="5.4" text-anchor="end" font-family="'Liberation Sans',sans-serif" fill="#262626">-20</text>
<text x="264.2" y="357.2" font-size="5.4" text-anchor="end" font-family="'Liberation Sans',sans-serif" fill="#262626">-15</text>
<text x="264.2" y="338.8" font-size="5.4" text-anchor="end" font-family="'Liberation Sans',sans-serif" fill="#262626">-10</text>
<text x="264.2" y="320.3" font-size="5.4" text-anchor="end" font-family="'Liberation Sans',sans-serif" fill="#262626">-5</text>
<text x="264.2" y="301.9" font-size="5.4" text-anchor="end" font-family="'Liberation Sans',sans-serif" fill="#262626">0</text>
<text x="264.2" y="283.4" font-size="5.4" text-anchor="end" font-family="'Liberation Sans',sans-serif" fill="#262626">5</text>
<text x="264.2" y="265" font-size="5.4" text-anchor="end" font-family="'Liberation Sans',sans-serif" fill="#262626">10</text>
<text x="264.2" y="246.6" font-size="5.4" text-anchor="end" font-family="'Liberation Sans',sans-serif" fill="#262626">15</text>
<text x="264.2" y="228.1" font-size="5.4" text-anchor="end" font-family="'Liberation Sans',sans-serif" fill="#262626">20</text>
<path d="M266.4 373.8v-1.8M266.4 226.2v1.8M285.1 373.8v-1.8M285.1 226.2v1.8M303.9 373.8v-1.8M303.9 226.2v1.8M322.7 373.8v-1.8M322.7 226.2v1.8M341.4 373.8v-1.8M341.4 226.2v1.8M360.2 373.8v-1.8M360.2 226.2v1.8M379 373.8v-1.8M379 226.2v1.8M397.7 373.8v-1.8M397.7 226.2v1.8M416.5 373.8v-1.8M416.5 226.2v1.8M435.3 373.8v-1.8M435.3 226.2v1.8M454.1 373.8v-1.8M454.1 226.2v1.8M266.4 373.8h1.8M454.1 373.8h-1.8M266.4 355.4h1.8M454.1 355.4h-1.8M266.4 336.9h1.8M454.1 336.9h-1.8M266.4 318.4h1.8M454.1 318.4h-1.8M266.4 300h1.8M454.1 300h-1.8M266.4 281.6h1.8M454.1 281.6h-1.8M266.4 263.1h1.8M454.1 263.1h-1.8M266.4 244.7h1.8M454.1 244.7h-1.8M266.4 226.2h1.8M454.1 226.2h-1.8" stroke="#000" stroke-width="1.2" fill="none"/>
<text x="360.2" y="388.8" font-size="7.3" text-anchor="middle" font-family="'Liberation Serif',serif" font-style="italic" fill="#262626">x</text>
<text x="253" y="300" font-size="7.4" text-anchor="middle" font-family="'Liberation Serif',serif" transform="rotate(-90 253 300)" fill="#262626">dx/dt</text>
<path d="M542.2 319.2l-.7-2-1.8-3.8-3-5.2-2.2-3.5-1.8-2.4-2-2.3-2.2-1.8-1.2-.7-1.1-.3-1.1-.2-1.1 .1-1 .3-1.8 1.2-1.5 1.6-1.5 2.4-1.4 3-.3 1.1 .1 .5 .5 .4 .8 .2 .2-.3-.3-.5-.2 0 0 .2 .5 .6 1.6 .7 .4-.1 .1-.2-.5-.6-.2-.1-.1 .2 .6 .7 .9 .6 1 .4 .6-.1 .2-.3-.2-.4-.5-.4-.4-.1-.1 .3 .7 .8 1.3 .9 1.4 .6 .8 0 .3-.4-.2-.6-.7-.7-.7-.1-.3 .3 .3 .6 .7 .8 1.9 1.4 5.4 3.4 2.7 2.4 2.4 2.8 2.5 3.6 8.4 14 3 4.7 3.5 4.5 1.9 1.9 1.9 1.4 2 .7 1.9 0 1.9-.8 1.6-1.3 1.5-1.9 2.4-4.1 2.1-5.3 1.8-5.4 .4 .2 .2-.2-.7-.7-.5-.1 0 .2 .4 .2 .2-.2-.6-.7-.6-.2-.1 .3 .4 .2 .3-.2-.6-.7-.8-.4-.2 .1 .1 .3 .5 .2 .3-.1-.7-.9-.9-.4-.2 .2 .1 .3 .5 .2 .3-.2-.7-.9-1.2-.5-.2 .2 .2 .3 .6 .3 .4-.2-.3-.5-.7-.6-.8-.5-.6-.1-.3 .2 .3 .5 .8 .4 .3-.1 .1-.3-.5-.7-1-.8-1.2-.6-.8-.1-.3 .5 .6 .7 .9 .4 .4 0 .3-.3-.2-.6-.9-1-2.2-1.7-5.5-3.3-2.6-2.3-1.7-2.3-2.2-3.1-8.6-14.7-4.6-6.9-1.8-2.2-1.8-1.9-1.9-1.4-2-.7-1.9-.1-1.8 .6-1.6 1.3-1.5 1.7-1.3 2-2 4-3 8.5-.3 .1 .5 .5 .7 .3 .5-.1-.2-.4-.1 .1 .4 .3 .9 .5 .6-.1-.2-.5-.1 .2 .3 .4 1.1 .5 .6-.1-.3-.5-.1 .1 .3 .4 1.2 .6 .7-.1 0-.3-.3-.3-.2 .1 .3 .5 1.5 .8 .5 0 .3-.2-.1-.4-.4-.3-.2 0-.1 .2 .5 .6 1.8 .9 .6 .1 .3-.3-.2-.5-.5-.4-.3 0-.1 .2 .6 .8 1.2 .9 1.3 .5 .8 0 .3-.4-.3-.6-.7-.6-.6 0-.1 .5 .7 .8 1.2 1 3 1.8 4.9 2.1 1.8 1.4 1.8 2.1 2.5 3.7 9.1 15.8 3 4.8 3.5 4.5 1.8 1.9 2 1.4 1.9 .7 2 0 1.8-.7 1.6-1.4 1.5-1.8 1.3-2 2-4.1 3-8.1 .5-.5-.6-.7-.5-.1-.1 .2 .4 .2 .2-.2-.5-.6-.7-.3-.1 .1 .1 .1 .3 .2 .3-.1-.5-.7-.8-.4-.2 .1 .1 .3 .4 .2 .3-.1-.6-.8-.9-.5-.2 .2 .1 .2 .5 .3 .3-.2-.7-.9-1.1-.5-.3 .2 .2 .3 .6 .3 .3-.1-.1-.5-.6-.6-1-.5-.7-.1-.1 .3 .3 .4 .9 .3 .2-.3-.2-.5-1.7-1.3-.9-.3-.5 0-.1 .5 .4 .5 .6 .4 .7 0 .2-.3-.2-.6-1.5-1.4-2.2-1.4-1.7-.7-1.3-.2-.3 .2-.1 .3 .3 .9 1.1 1 1.1 .1 .4-.2 .1-.5-.5-1.2-4.8-5.9-2.7-3.6-3.3-5.3-10-17.3-3.9-5.5-2.1-2.3-2.3-1.7-2.2-1-2.2 .1-2.1 1-1.8 1.8-1.7 2.4-1.4 2.6-2.1 5-1.9 6.2-.5 2.3 0 .9 .7 .2 .1-.2-.2-.3 .4 .6 1 .3 .3-.1-.2-.4 0 .1 .4 .4 1 .5 .4-.2-.2-.4-.1 .1 .4 .4 1.1 .5 .6-.1-.4-.5-.1 .2 .4 .4 1.3 .6 .6-.2-.4-.5-.2 .1 .5 .5 1.5 .8 .5 0 .2-.2-.1-.4-.4-.3-.3 0 0 .2 .5 .6 1.9 1 .6 0 .3-.3-.2-.5-.6-.4-.3 0-.1 .2 .7 .9 1.3 .8 1.3 .6 .8 0 .4-.3-.3-.8-.7-.6-.7-.1-.2 .4 .3 .6 .7 .8 1.9 1.4 5 3.1 2.4 2 2.5 2.7 2.8 3.9 9.4 15.7 3.1 4.7 3.7 4.3 1.9 1.7 2 1 1.9 .3 1.9-.4 1.8-1.1 1.5-1.6 1.4-2 2.2-4.2 1.9-4.9 1.4-4.6 .6 .1-.1-.4-.8-.6-.2 .1 0 .2 .4 .1 .2-.2-.7-.7-.6-.2 0 .3 .4 .2 .3-.2-.7-.7-.7-.3-.2 .1 .1 .2 .5 .2 .2-.1-.7-.9-.9-.3-.2 .1 .2 .3 .5 .2 .3-.2-.2-.4-.6-.5-1.1-.5-.2 .2 .2 .4 .6 .3 .3-.3-.3-.5-.7-.7-.8-.4-.6-.1-.2 .3 .3 .5 .8 .3 .3-.1 0-.3-.5-.7-1-.8-1.1-.6-.9-.1-.2 .5 .6 .8 .9 .4 .4-.1 .2-.2-.1-.7-.9-1-2.3-1.7-5.4-3.3-2.9-2.7-2-2.6-2.4-3.7-9.9-16.7-3.3-4.6-1.8-2.1-1.9-1.6-2-1.2-1.9-.4-1.8 .2-1.8 1-1.6 1.5-1.4 1.9-2.1 4-2 4.9-1.5 4.7-.4 .1 .6 .4 .7 .3 .5-.1-.2-.4-.1 .1 .3 .4 1 .4 .6-.1-.3-.4-.1 .1 .4 .4 1.1 .5 .6-.1-.3-.5-.2 .1 .4 .4 1.2 .7 .7-.2 0-.3-.4-.3-.2 .2 .4 .5 1.5 .7 .5 .1 .3-.2-.1-.4-.4-.3-.3 0 0 .1 .4 .6 1.8 1 .7 0 .2-.3-.1-.5-.5-.3-.4-.1 0 .3 .6 .8 1.2 .8 1.2 .5 .8 0 .4-.3-.3-.7-.7-.6-.7 0 0 .6 .7 .8 1.2 .9 3 1.8 4.8 2.2 1.7 1.2 2 2.3 2.5 3.6 10.5 18.1 3.2 4.8 1.8 2.2 1.9 1.9 1.9 1.4 2 .7 1.9 0 1.8-.7 1.7-1.4 1.4-1.7 1.3-2.1 2-4 3-8.1 .5-.6-.7-.7-.4-.1 0 .2 .4 .2 .2-.2-.6-.7-.6-.2-.1 .1 0 .2 .4 .2 .3-.2-.6-.7-.8-.3-.1 .1 .1 .2 .4 .2 .3-.1-.6-.8-1-.4-.2 .1 .2 .3 .5 .2 .3-.1-.7-.9-1.2-.5-.2 .1 .2 .4 .6 .3 .3-.2-.2-.6-.7-.5-1.4-.6-.2 .2 .2 .5 .8 .4 .3-.1 .1-.3-.4-.6-.9-.8-1.1-.6-.8-.1-.3 .4 .4 .6 .6 .4 .6 .1 .4-.3-.1-.5-1-1.1-1.9-1.3-2.1-1.1-1.7-.4-.5 .1-.2 .3 .5 1.1 1.1 .8 .9 .1 .4-.6-.4-1.1-5.1-6.5-2.8-4-3.7-6-7.5-13.1-3.6-5.6-2-2.7-2.2-2.3-2.2-1.7-2.2-.8-2.2 .1-2.1 1.1-1.8 1.9-1.7 2.4-1.3 2.6-2.8 7.1-1.4 4.8-.3 2.3 .8 .2 .1-.2-.2-.2 .4 .5 .9 .4 .4-.2-.2-.4 0 .2 .3 .4 1.1 .4 .4-.2-.2-.4-.1 .2 .4 .4 1.1 .5 .5-.2-.3-.5-.1 .2 .4 .4 1.2 .6 .7-.1-.1-.3-.3-.3-.2 .2 .5 .5 1.4 .7 .5 .1 .3-.3-.1-.4-.4-.3-.3 0 0 .2 .5 .6 1.8 1 .7 0 .3-.3-.2-.5-.6-.4-.3 0-.1 .3 .7 .8 1.3 .9 1.3 .5 .8 .1 .4-.4-.2-.7-.8-.6-.7-.2-.2 .4 .3 .6 .7 .8 6.8 4.6 2.5 2 2.5 2.8 2.8 4 11.3 18.5 3.4 4.6 1.9 1.9 2 1.5 2 .9 1.9 .1 1.9-.6 1.7-1.3 1.5-1.8 2.5-4.1 2.2-5.5 1.8-5.6 .5 .2 .1-.3-.8-.7-.3 0 0 .2 .4 .2 .2-.2-.7-.7-.6-.2 0 .2 .4 .2 .2-.1-.6-.8-.8-.3-.1 .1 .1 .2 .4 .3 .3-.2-.6-.8-1-.4-.2 .1 .2 .3 .5 .3 .3-.2-.8-1-1.1-.4-.3 .1 .2 .4 .7 .3 .3-.2-.3-.6-.7-.6-1.4-.6-.3 .3 .3 .5 .8 .4 .3-.1 .1-.3-.5-.8-1-.8-1.2-.6-.8-.1-.2 .5 .5 .8 1 .4 .4-.1 .2-.2-.2-.7-.9-1-2.1-1.6-5.5-3.4-2.7-2.4-1.8-2.3-2.2-3.4-9.1-15.3-3-4.6-3.6-4.4-1.8-1.6-2-1.1-1.9-.5-1.8 .3-1.8 .9-1.6 1.5-1.4 1.9-2.2 4-1.9 4.9-1.6 4.7-.3 0 .4 .5 .8 .3 .6-.1-.2-.4-.1 .1 .3 .4 .9 .4 .6 0 0-.3-.3-.1 .4 .5 1.1 .5 .6-.2-.3-.5-.2 .2 .4 .4 1.2 .6 .7-.1-.3-.6-.3 .1 .4 .5 1.4 .8 .5 0 .3-.2 0-.4-.4-.3-.3 .1 .4 .6 1.8 1 .6 0 .3-.2-.1-.5-.5-.4-.3 0-.2 .2 .6 .8 1.2 .8 1.3 .5 .8 .1 .4-.4-.2-.6-.7-.6-.7-.1-.1 .5 .5 .8 1.2 .9 3 1.8 5.1 2.5 2 1.6 1.9 2.2 2.2 3.3 9.1 15.8 3 4.7 3.5 4.5 1.9 1.9 1.9 1.3 2 .7 1.9-.1 1.8-.7 1.6-1.4 1.5-1.8 2.3-4.1 1.6-3.6 2.2-6.2 .2-.4 .4-.1 0-.3-.8-.6-.4-.1 .1 .3 .4 .1 .2-.1-.7-.8-.6-.2 0 .3 .4 .2 .2-.1-.6-.8-.7-.3-.2 .1 .1 .2 .5 .3 .2-.2-.6-.8-.9-.4-.2 .1 .1 .3 .5 .3 .3-.2-.7-1-1.1-.4-.3 .2 .2 .3 .7 .3 .3-.2-.3-.5-.7-.7-1.3-.5-.3 .3 .3 .4 .8 .4 .2-.1 .1-.3-.4-.7-.9-.7-1.1-.6-.8-.1-.3 .4 .5 .7 .6 .4 .6 0 .3-.3-.1-.4-1-1.2-1.9-1.4-2.1-1.1-1.7-.4-.6 0-.3 .3 0 .5 .3 .5 1 .8 .9 0 .2-.7-.4-1.1-4.9-6.6-3.1-4.6-9.2-16.1-3.5-5.6-1.9-2.8-2.1-2.5-2.2-2.2-2.2-1.4-2.2-.5-2.2 .4-2 1.4-1.8 2.1-1.5 2.6-2.4 5.2-2.3 7-.7 2.9 .1 .9 .8 .2 .1-.2-.2-.3 .4 .6 1 .3 .3-.2-.2-.3 0 .1 .4 .4 1 .5 .5-.2-.3-.4-.1 .1 .4 .4 1.1 .5 .6-.1-.4-.5-.1 .2 .5 .4 1.2 .6 .4 0 .2-.2-.4-.5-.2 .1 .5 .5 1.5 .8 .5 0 .2-.2-.1-.4-.4-.3-.2 0-.1 .2 .5 .6 1.9 1 .7 0 .2-.3-.2-.5-.5-.4-.4 0-.1 .2 .8 .9 1.3 .9 1.4 .6 .8 0 .3-.4-.3-.8-.7-.6-.7-.1-.2 .3 .2 .6 .7 .8 6.4 4.5 2.2 1.7 2.8 3 2.8 4 9.5 15.7 3.2 4.8 3.7 4.4 1.9 1.7 2 1 2 .4 1.9-.4 1.8-1.1 1.6-1.7 1.4-2 1.2-2.2 1.7-4 1.5-4.2 1.1-3.7 .4 .3 .2-.1-.6-.8-.5-.1-.1 .2 .4 .2 .2-.1-.5-.7-.7-.3-.1 .1 0 .2 .4 .2 .3-.2-.5-.7-.9-.4-.2 .1 .1 .3 .5 .2 .2-.1-.4-.8-1.2-.5 0 .4 .5 .3 .3-.1 0-.3-.8-.8-1-.4-.3 .1 .1 .3 .7 .4 .4-.2-.3-.6-.8-.6-1.4-.5-.2 .2 .2 .5 .9 .4 .3-.1 0-.4-.5-.8-1.2-.8-1.1-.5-.7 0-.2 .4 .5 .8 .9 .4 .7-.2-.1-.7-.8-.9-2.1-1.7-5.7-3.6-1.6-1.4-1.5-1.7-2.2-2.9-2.1-3.2-7.4-12.7-2.9-4.6-3.4-4.5-1.9-2-1.9-1.4-1.9-.9-1.9-.2-1.9 .5-1.7 1.2-1.5 1.7-2.4 4-2.3 5.4-1.8 5.5-.3 0 .6 .5 .7 .3 .5-.1-.2-.4-.1 .1 .3 .3 1 .5 .5-.1-.2-.4-.1 .1 .4 .4 1 .5 .6-.1-.2-.5-.2 .1 .4 .4 1.2 .6 .7-.1-.1-.3-.3-.3-.2 .2 .4 .5 1.4 .7 .6 0 .2-.2-.1-.3-.3-.4-.3 0 0 .2 .4 .6 1.8 1 .6 0 .3-.3-.1-.4-.5-.4-.4-.1-.1 .2 .6 .8 1.2 .9 1.4 .5 .8 0 .3-.3-.3-.7-.7-.6-.6 0-.1 .5 .6 .7 1.1 1 2.7 1.7 4.8 2.4 1.7 1.1 1.9 1.9 2.2 3.1 11.9 19.9 3.3 4.7 1.8 2 1.9 1.7 1.9 1.2 1.9 .4 1.9-.2 1.8-1 1.6-1.5 1.4-1.8 1.2-2.1 1.8-3.9 2.8-7.5 .1-.3 .4 0 0-.2-.7-.7-.4 0 0 .2 .4 .2 .2-.2-.6-.7-.6-.2-.1 .2 .4 .2 .3-.1-.6-.8-.8-.3-.2 .1 .2 .3 .4 .2 .3-.2-.6-.8-1-.4-.2 .1 .1 .3 .6 .3 .2-.2-.7-.9-1.1-.5-.2 .2 .2 .3 .6 .3 .3-.2-.2-.5-.7-.6-1.4-.6-.3 .3 .3 .4 .8 .4 .3-.1 0-.2-.4-.8-.9-.7-1.1-.6-.8-.1-.3 .4 .5 .7 .6 .4 .6 0 .3-.3-.1-.4-1-1.2-1.8-1.3-2.2-1.2-1.9-.7-1.3 0-.3 .2 .1 .4 .2 0 0-.4-.7-1.6-5.9-9.9-9.9-17.8-3.7-5.6-2-2.6-2.2-2.1-2.2-1.4-2.2-.6-2.1 .4-2 1.3-1.8 2.1-1.5 2.5-1.3 2.6-1.9 4.7-2.2 7.3-.1 1.1 .7 .5 .7 0 0-.2-.2-.2 .5 .5 1 .4 .3-.2-.3-.4 0 .2 .4 .4 1.1 .4 .4-.2-.3-.4-.1 .2 .5 .4 1.1 .5 .6-.1-.4-.6-.1 .2 .4 .5 1.3 .6 .5 0 .2-.2-.1-.3-.4-.3-.2 .2 .5 .5 1.6 .8 .5 .1 .2-.3-.1-.4-.4-.3-.3 0 0 .2 .5 .6 .9 .7 1.1 .4 .8 0 .1-.5-.6-.7-.4-.1-.3 .1 .3 .6 1 .9 1.3 .8 1.3 .5 .8 .1 .5-.4-.1-.7-.6-.7-.8-.4-.7 .1 0 .6 .5 .8 6.5 5.3 3.4 3.6 4.3 6.1 8.5 14.2 3.3 5.1 1.9 2.5 1.9 2.3 2.1 1.8 2.1 1.2 2.1 .4 2-.4 1.9-1.3 1.6-1.8 1.5-2.3 2.2-4.7 1.5-3.8 1.4-4.8 .3-1.4-.1-.2 .4 .3 .1-.1 0-.2-.8-.6-.4-.1 .1 .3 .4 .1 .2-.2-.7-.7-.6-.2 0 .3 .4 .2 .2-.2-.6-.7-.8-.3-.1 .1 .1 .2 .4 .2 .3-.1-.7-.9-.9-.4-.2 .2 .2 .3 .5 .2 .3-.2-.8-.9-1.1-.5-.3 .2 .2 .3 .6 .4 .4-.3-.3-.5-.7-.7-1.4-.5-.3 .2 .3 .5 .8 .4 .3-.1 .1-.3-.5-.7-1-.9-1.2-.6-.9-.1-.2 .2 0 .3 .5 .8 .9 .4 .7-.2-.1-.7-.7-.9-2-1.5-5.6-3.8-3.1-2.9-2.2-2.9-2.1-3.2-8.7-14.7-3.1-4.7-3.6-4.3-1.9-1.6-2-1-1.9-.3-1.8 .4-1.8 1.1-1.5 1.6-1.4 2-2.1 4.1-1.9 4.8-1.4 4.6-.2-.2-.1 .1 .6 .5 .7 .2 .5-.1-.2-.4-.1 .2 .3 .3 1 .5 .6-.2-.3-.4-.1 .1 .4 .4 1 .5 .7-.1-.3-.5-.2 .2 .4 .4 1.2 .6 .7-.1-.1-.4-.3-.2-.2 .1 .4 .5 1.5 .8 .5 0 .3-.2-.1-.4-.4-.3-.3 0 0 .2 .4 .6 1.9 .9 .6 0 .3-.2-.2-.5-.5-.4-.3 0-.2 .2 .6 .8 1.3 .8 1.3 .6 .8 0 .3-.4-.2-.6-.7-.6-.7-.1-.1 .5 .5 .7 1 .9 2.5 1.6 5.1 2.7 2.1 1.6 2.3 2.6 2.4 3.5 9.7 16.3 3.1 4.7 3.5 4.2 1.9 1.6 2 1.1 1.9 .3 1.8-.4 1.8-1 1.5-1.6 1.4-1.9 2.1-4 1.4-3.4 2-5.7 .2-.3 .5 0 0-.2-.8-.7-.4 0 .1 .2 .3 .2 .2-.2-.6-.7-.6-.2 0 .2 .4 .2 .2-.1-.6-.8-.8-.3-.1 .1 .1 .3 .4 .2 .3-.2-.7-.8-.9-.4-.2 .1 .2 .3 .5 .3 .3-.2-.8-.9-1.1-.5-.2 .2 .2 .3 .6 .3 .3-.2-.2-.5-.7-.6-1.4-.6-.3 .3 .3 .4 .8 .4 .3-.1 .1-.2-.5-.8-.9-.7-1.1-.6-.9-.2-.3 .5 .5 .7 1.1 .4 .4-.1 .1-.4-.6-1-1.5-1.2-3.3-1.9-4.2-1.7-1.5-1.3-3.4-5.2-8.2-14.8-4.3-7.3-3.6-4.7-1.9-2-2-1.4-2-.7-2 0-1.9 .8-1.7 1.5-1.5 2-1.3 2.1-1.9 4.2-1.3 3.3-1.8 5.3 1.1 .7 .5 .1 .2-.3-.2-.2 0 .2 .5 .4 .8 .3 .5-.2-.3-.4-.1 .2 .4 .4 1.1 .5 .5-.2-.3-.4-.1 .1 .4 .4 1.2 .6 .6-.1 0-.3-.3-.3-.2 .1 .4 .5 1.4 .7 .4 .1 .3-.2-.1-.4-.3-.3-.3 .1 .5 .6 1.6 .9 .6 0 .3-.2-.1-.5-.5-.3-.3 0-.1 .2 .5 .7 1.1 .7 1.2 .5 .7 0 .4-.3-.3-.6-.6-.5-.5-.1-.2 .4 1 1.2 2 1.3 2.2 .9 1.1 .1 .5-.3-.1-.8-.6-1-1-.6-.8 0-.4 .5 .3 .9 6 6.1 3.7 4.7 4.3 6.7 7.5 12.9 3.5 5.5 2 2.6 2.2 2.3 2.2 1.6 2.2 .9 2.1 0 2.1-.9 1.9-1.8 1.6-2.3 1.4-2.6 2.1-5 2.4-8 .2-1.3-.2-.2-.3 0 .5 .4 .1-.1 0-.3-.8-.6-.4 0 .1 .2 .4 .2 .2-.2-.7-.7-.6-.3 0 .3 .4 .2 .2-.1-.6-.8-.8-.3-.1 .1 .1 .2 .4 .3 .3-.2-.7-.8-.9-.4-.2 .1 .1 .3 .6 .3 .3-.2-.8-1-1.2-.5-.2 .2 .2 .4 .6 .3 .4-.3-.3-.5-.7-.6-1.5-.6-.2 .3 .3 .5 .8 .3 .3-.1 .1-.2-.5-.8-1-.8-1.2-.6-.9-.1-.2 .1 0 .3 .5 .8 .9 .5 .7-.3-.1-.6-.8-1-2-1.6-5.5-3.5-1.6-1.4-1.5-1.6-2.2-2.9-2-3.1-10-16.7-3.3-4.7-1.9-2-1.9-1.7-1.9-1.1-1.9-.5-1.9 .2-1.8 1-1.6 1.5-1.4 1.9-2.2 4.1-1.9 5-1.5 4.8-.3-.2 0 .1 .5 .5 .8 .3 .4-.2-.2-.3 0 .1 .3 .3 1 .5 .5-.1-.2-.5-.1 .2 .3 .4 1.1 .5 .6-.1-.3-.6-.1 .2 .3 .4 1.3 .6 .7-.1-.1-.3-.3-.3-.2 .1 .4 .5 1.4 .8 .6 0 .2-.2-.1-.4-.4-.3-.2 0-.1 .2 .5 .6 1.8 .9 .6 .1 .3-.3-.1-.5-.5-.4-.4 0-.1 .2 .6 .8 1.2 .9 1.3 .5 .9 0 .3-.3-.3-.7-.6-.6-.7-.1-.2 .5 .5 .7 1 .9 2.6 1.6 5.3 2.8 2.1 1.7 2.3 2.6 2.5 3.7 8.7 14.9 3 4.6 3.4 4.5 1.9 1.8 1.9 1.3 2 .7 1.9-.1 1.7-.7 1.7-1.3 1.5-1.8 2.3-4 1.6-3.7 2.3-6.4 .1-.2 .5-.1-.6-.7-.5-.2-.1 .2 .4 .2 .2-.1-.5-.7-.6-.3-.2 .1 0 .2 .4 .2 .3-.1-.5-.7-.9-.4-.1 .2 .4 .3 .3 0 .1-.2-.6-.7-.9-.4-.3 0 .1 .3 .5 .3 .3-.1-.1-.4-.5-.5-1.1-.6-.3 .2 .1 .3 .6 .4 .4-.2-.2-.6-.7-.6-1.4-.6-.3 .3 .2 .4 .8 .4 .4-.1 0-.2-.4-.8-1-.7-1.1-.6-.8-.1-.2 .4 .4 .7 .6 .4 .6 .1 .3-.2 .1-.5-.8-1-1.6-1.3-3-1.7-1.7-.7-2.4-.6-.8-.7-1.7-2.3-2.7-4.6-9.4-17.2-3.2-5.1-1.8-2.6-1.9-2.3-2-1.9-2.1-1.3-2-.5-2 .3-1.9 1-1.6 1.8-1.5 2.1-1.3 2.3-1.8 4.3-2.7 8.1 .5 .5 .7 .3 .5-.2-.2-.3-.1 .1 .4 .3 .9 .5 .5-.1-.2-.5-.1 .2 .4 .3 1 .5 .6-.1-.3-.5-.1 .2 .4 .4 1.1 .6 .7-.1-.1-.4-.3-.2-.1 .1 .4 .5 1.3 .7 .5 0 .3-.2-.1-.3-.4-.3-.2 .1 .4 .6 1.6 .9 .6 0 .3-.2-.1-.5-.5-.4-.3 0 0 .2 .5 .8 1.1 .7 1.1 .4 .7 .1 .3-.4-.2-.6-.6-.5-.5 0-.1 .3 .9 1.1 1.8 1.3 2 .8 1 .1 .5-.4-.1-.8-.7-.9-.9-.5-.8 0-.3 .6 .4 .8 1.1 1.2 4.7 4.3 3.2 3.8 4.2 6.1 5 8.5" fill="none" stroke="#0000ff" stroke-width="1.45" stroke-linejoin="round" stroke-linecap="round"/>
<path d="M504.9 263.3L504.9 339.8L579.4 375.2L674.4 348.4" fill="none" stroke="#111" stroke-width="1.45" stroke-linejoin="miter"/>
<text x="500.6" y="341.7" font-size="5.4" text-anchor="end" font-family="'Liberation Sans',sans-serif" fill="#262626">-20</text>
<text x="500.6" y="322.6" font-size="5.4" text-anchor="end" font-family="'Liberation Sans',sans-serif" fill="#262626">-10</text>
<text x="500.6" y="303.4" font-size="5.4" text-anchor="end" font-family="'Liberation Sans',sans-serif" fill="#262626">0</text>
<text x="500.6" y="284.3" font-size="5.4" text-anchor="end" font-family="'Liberation Sans',sans-serif" fill="#262626">10</text>
<text x="500.6" y="265.2" font-size="5.4" text-anchor="end" font-family="'Liberation Sans',sans-serif" fill="#262626">20</text>
<text x="506.2" y="350.7" font-size="5.4" text-anchor="middle" font-family="'Liberation Sans',sans-serif" fill="#262626">2</text>
<text x="521.1" y="357.8" font-size="5.4" text-anchor="middle" font-family="'Liberation Sans',sans-serif" fill="#262626">1</text>
<text x="536" y="364.9" font-size="5.4" text-anchor="middle" font-family="'Liberation Sans',sans-serif" fill="#262626">0</text>
<text x="550.9" y="372" font-size="5.4" text-anchor="middle" font-family="'Liberation Sans',sans-serif" fill="#262626">-1</text>
<text x="565.8" y="379.1" font-size="5.4" text-anchor="middle" font-family="'Liberation Sans',sans-serif" fill="#262626">-2</text>
<text x="582" y="382.3" font-size="5.4" text-anchor="start" font-family="'Liberation Sans',sans-serif" fill="#262626">0</text>
<text x="613.7" y="373.4" font-size="5.4" text-anchor="start" font-family="'Liberation Sans',sans-serif" fill="#262626">100</text>
<text x="645.3" y="364.4" font-size="5.4" text-anchor="start" font-family="'Liberation Sans',sans-serif" fill="#262626">200</text>
<text x="677" y="355.5" font-size="5.4" text-anchor="start" font-family="'Liberation Sans',sans-serif" fill="#262626">300</text>
<path d="M504.9 339.8h-2.8M504.9 320.7h-2.8M504.9 301.6h-2.8M504.9 282.4h-2.8M504.9 263.3h-2.8M512.4 343.3l-2.5 0.7M527.2 350.4l-2.5 0.7M542.1 357.5l-2.5 0.7M557 364.6l-2.5 0.7M571.9 371.7l-2.5 0.7M579.4 375.2l2.3 1.1M611.1 366.3l2.3 1.1M642.7 357.3l2.3 1.1M674.4 348.4l2.3 1.1" stroke="#000" stroke-width="1.2" fill="none"/>
<text x="538.5" y="384" font-size="7.3" text-anchor="middle" font-family="'Liberation Serif',serif" font-style="italic" fill="#262626">x</text>
<text x="621.5" y="386" font-size="7.3" text-anchor="middle" font-family="'Liberation Serif',serif" font-style="italic" fill="#262626">t</text>
<text x="492" y="301.6" font-size="7.4" text-anchor="middle" font-family="'Liberation Serif',serif" transform="rotate(-90 492 301.6)" fill="#262626">dx/dt</text>
<text x="340.5" y="430.8" font-size="17.5" text-anchor="middle" font-family="'Liberation Serif',serif" font-weight="bold" fill="#000">(B1)</text>
<path d="M14.6 532.4l.2-43.8 .4 8.8 .4-7.1 .4 12.7 .4-10.4 .5 31.4 .2 49.2 .2 6.4 .2 1.3 .4-6.9 .4 5 .4-8.3 .4 6.1 .4-10.2 .3 7.7 .5-14.1 .3 11.6 .4-25.5 .2-58.5 .1 .5 .1-.2 .3-4.2 .4 7.2 .4-5 .4 8.4 .4-6.2 .4 10.5 .3-8.1 .5 14.7 .3-11.9 .2 7.2 .4 77 .2-1 .4 4.3 .4-7.2 .3 5.1 .4-8.5 .4 6.2 .4-10.4 .4 7.7 .4-14.3 .3 11.4 .1 .4 0-2 .4-25.7 .1-55.4 .1-1.2 .2 1 .3-4.2 .4 7.2 .4-4.9 .4 8.3 .3-6.2 .4 10.4 .4-7.9 .4 14.6 .3-11.1 .1-1 0 .9 .4 25.9 .2 56.5 0 1.2 .2-1 .3 4.2 .4-7.2 .4 4.9 .4-8.2 .4 6 .4-10.3 .3 7.9 .5-14.6 .2 10.9 .1 1.1 0-.6 .4-25 .2-58.3 0-.5 .2 1.1 .3-4.3 .5 7.2 .3-5.1 .4 8.5 .4-6.2 .4 10.4 .4-7.9 .4 14.6 .2-11.1 .1-1 .1 1 .3 25.5 .2 56.7 0 1.3 .2-1 .3 4.2 .4-7.2 .5 4.9 .3-8.2 .4 6 .4-10.3 .4 7.9 .4-14.6 .3 11.1 0 1 .1-.9 .4-25.5 .1-56.7 .1-1.4 .2 .9 .2-4 .5 7.1 .4-4.9 .4 8.3 .3-6.1 .4 10.3 .4-7.9 .4 14.6 .3-11 .1-1.1 0 .8 .4 25.4 .2 57.3 0 1 .2-1 .3 4.2 .4-7.2 .4 4.9 .4-8.3 .4 6.1 .4-10.3 .3 7.9 .5-14.6 .2 11.2 .1 .9 .1-1.1 .3-25 .2-58.4 .2 1.1 .3-4.3 .4 7.2 .4-5.1 .4 8.5 .4-6.2 .4 10.4 .4-8 .4 14.7 .3-12 .4 25 .2 58.3 .1 1.1 .1-1 .3 4.2 .5-7.2 .4 4.9 .3-8.3 .4 6.2 .4-10.4 .4 7.9 .4-14.6 .3 11.1 0 1 .1-1.1 .3-23.8 .3-59.4 .1 .8 .4-4.2 .4 7.2 .4-5.1 .4 8.5 .3-6.2 .4 10.4 .4-8 .4 14.7 .3-10.9 0-1.1 .1 .5 .4 26 .2 56.6 0 1.3 .2-1 .3 4.2 .4-7.2 .4 4.9 .4-8.2 .4 6 .4-10.3 .3 7.9 .5-14.6 .2 11.1 .1 1 .1-.9 .3-25.6 .2-56.6 0-1.4 .2 1 .3-4.2 .4 7.2 .4-4.9 .4 8.2 .4-6 .4 10.3 .4-7.9 .4 14.6 .2-11 .1-1.1 .1 .9 .3 25.4 .2 57.3 .1 .9 .1-1 .3 4.2 .5-7.2 .4 4.9 .3-8.3 .4 6.1 .4-10.3 .4 7.9 .4-14.6 .3 11 0 1.1 .1-.8 .4-25.4 .1-57.3 .1-1 .2 1 .3-4.2 .4 7.2 .4-4.9 .4 8.3 .3-6.1 .4 10.3 .4-7.9 .4 14.6 .3-11.2 .1-.9 0 1.1 .4 25 .2 58.4 .2-1.1 .3 4.3 .4-7.2 .4 5.1 .4-8.5 .4 6.2 .4-10.4 .3 8 .4-14.2 .2 2.4 .2 9.1 .2-6.4 .4-76.8 0-1.2 .2 1 .3-4.2 .4 7.2 .4-4.9 .4 8.3 .4-6.1 .4 10.3 .4-7.9 .4 14.6 .2-11.1 .1-1 .1 1.1 .3 24.7 .2 58.7 .2-1.1 .4 4.3 .4-7.2 .3 5.1 .4-8.5 .4 6.2 .4-10.4 .4 8 .4-14.7 .4 12 .4-24.7 .1-58.9 .1-.8 .2 1 .3-4.2 .4 7.2 .4-4.9 .4 8.2 .3-6 .4 10.3 .4-7.9 .4 14.6 .3-11.2 .1-.9 0 1.2 .4 25.2 .2 58.1 .2-1.1 .3 4.3 .4-7.2 .4 5.1 .4-8.5 .4 6.2 .4-10.4 .3 8 .5-14.7 .3 12 .4-24.4 .2-59 0-1 .2 1 .3-4.2 .4 7.2 .4-4.9 .4 8.3 .4-6.1 .4 10.3 .4-7.9 .4 14.6 .2-11.2 .1-.9 .1 1.1 .3 25 .2 58.4 .2-1.1 .4 4.3 .4-7.2 .3 5.1 .4-8.5 .4 6.2 .4-10.4 .4 7.9 .4-14.6 .3 11.5 .1 .4 .1-2.2 .3-25.5 .1-55.5 .1-1.1 .2 1 .3-4.2 .4 7.2 .4-4.9 .4 8.3 .3-6.2 .4 10.4 .4-7.9 .4 14.6 .3-11.1 .1-1 0 1.1 .4 24.8 .2 58.5 .2-.9 .3 4.2 .4-7.2 .4 5.1 .4-8.5 .4 6.2 .4-10.4 .3 8 .5-14.7 .3 12 .4-24.8 .2-58.3 0-1.3 .2 1 .3-4.2 .4 7.2 .4-4.9 .4 8.2 .4-6 .4 10.3 .4-7.9 .4 14.6 .2-11.1 .1-1 .1 1 .3 24.6 .2 58.9 .2-1.1 .4 4.3 .4-7.2 .3 5.1 .4-8.5 .4 6.2 .4-10.4 .4 8 .4-14.7 .3 12 .5-24.5 .1-59 .1-.9 .2 1 .3-4.2 .4 7.2 .4-4.9 .4 8.2 .3-6 .4 10.3 .4-7.9 .4 14.6 .4-11.6 .4 24.8 .2 58.9 .2-.7 .3 4.2 .4-7.2 .4 5.1 .3-6.5 .1-1.8 .4 5.9 .4-10.3 .3 7.9 .5-14.6 .2 11.2 .1 .9 .1-1.4 .3-25.6 .2-56.4 0-1.1 .2 1 .3-4.2 .4 7.2 .4-4.9 .4 8.3 .4-6.1 .4 10.3 .4-7.9 .4 14.6 .2-11.1 .1-1 .1 .9 .3 26 .2 56.5 .1 1.1 .1-.9 .3 4 .5-7.1 .4 4.9 .3-8.3 .4 6.2 .4-10.4 .4 7.9 .4-14.6 .3 11.1 0 1 .1-.9 .4-25.9 .1-56.5 .1-1.2 .2 1 .3-4.2 .4 7.2 .4-4.9 .4 8.2 .3-6 .4 10.3 .4-7.9 .4 14.6 .3-11.1 .1-1 0 1 .4 24.7 .2 58.8 .2-1.1 .3 4.3 .4-7.2 .4 5.1 .4-8.5 .4 6.2 .4-10.4 .3 8 .5-14.7 .3 12 .4-24.6 .2-58.9 0-.9 .2 1 .3-4.2 .4 7.2 .4-4.9 .4 8.2 .4-6 .4 10.3 .4-7.9 .4 14.6 .2-11 .1-1.1 .1 .9 .3 25.4 .2 57.3 .1 .9 .1-1 .3 4.2 .2-2.4 .3-4.8 .4 4.9 .3-8.3 .4 6.1 .4-10.3 .4 7.9 .4-14.6 .3 11 0 1.1 .1-1 .4-25.2 .1-57.3 .1-1 .2 1 .2-4.2 .5 7.2 .4-4.9 .4 8.3 .3-6.1 .4 10.3 .4-7.9 .4 14.6 .3-11.2 .1-.9 0 1 .4 26 .2 56.4 0 1.1 .2-1 .3 4.2 .4-7.2 .4 4.9 .4-8.3 .4 6.2 .4-10.4 .3 7.9 .5-14.6 .2 11.1 .1 1 .1-.9 .3-26 .2-56.4 0-1.2 .2 1 .3-4.2 .4 7.2 .4-4.9 .4 8.3 .4-6.2 .4 10.4 .4-7.9 .4 14.6 .2-11.1 .1-1 .1 .9 .3 25.8 .2 56.6 .1 1.2 .1-1 .3 4.2 .5-7.2 .4 4.9 .3-8.2 .4 6 .4-10.3 .4 7.9 .4-14.6 .3 11.1 0 1 .1-1 .4-24.6 .2-58.9 .2 1.1 .3-4.3 .4 7.2 .4-5.1 .4 8.5 .3-6.2 .4 10.4 .4-8 .4 14.7 .4-12 .4 23.7 .2 59.3 0 1.4 .2-.9 .3 4.1 .4-7.2 .4 4.9 .4-8.2 .4 6 .4-10.3 .3 7.9 .5-14.6 .2 11 .1 1.1 .1-.9 .3-25.4 .2-57.2 0-1 .2 1 .3-4.2 .4 7.2 .4-4.9 .4 8.3 .4-6.1 .4 10.3 .4-7.9 .4 14.6 .2-11.2 .1-.9 .1 1.1 .3 25 .2 58.4 .2-1.1 .4 4.3 .4-7.2 .3 5.1 .4-8.5 .4 6.2 .4-10.4 .4 8 .4-14.7 .3 11.8" fill="none" stroke="#0000ff" stroke-width="1.5" stroke-linejoin="round" stroke-linecap="round"/>
<rect x="14.6" y="460.2" width="183.4" height="144.5" fill="none" stroke="#111" stroke-width="1.4"/>
<text x="14.6" y="611.4" font-size="5.4" text-anchor="middle" font-family="'Liberation Sans',sans-serif" fill="#262626">0</text>
<text x="45.2" y="611.4" font-size="5.4" text-anchor="middle" font-family="'Liberation Sans',sans-serif" fill="#262626">50</text>
<text x="75.7" y="611.4" font-size="5.4" text-anchor="middle" font-family="'Liberation Sans',sans-serif" fill="#262626">100</text>
<text x="106.3" y="611.4" font-size="5.4" text-anchor="middle" font-family="'Liberation Sans',sans-serif" fill="#262626">150</text>
<text x="136.9" y="611.4" font-size="5.4" text-anchor="middle" font-family="'Liberation Sans',sans-serif" fill="#262626">200</text>
<text x="167.4" y="611.4" font-size="5.4" text-anchor="middle" font-family="'Liberation Sans',sans-serif" fill="#262626">250</text>
<text x="198" y="611.4" font-size="5.4" text-anchor="middle" font-family="'Liberation Sans',sans-serif" fill="#262626">300</text>
<text x="12.4" y="606.6" font-size="5.4" text-anchor="end" font-family="'Liberation Sans',sans-serif" fill="#262626">-3</text>
<text x="12.4" y="582.5" font-size="5.4" text-anchor="end" font-family="'Liberation Sans',sans-serif" fill="#262626">-2</text>
<text x="12.4" y="558.4" font-size="5.4" text-anchor="end" font-family="'Liberation Sans',sans-serif" fill="#262626">-1</text>
<text x="12.4" y="534.4" font-size="5.4" text-anchor="end" font-family="'Liberation Sans',sans-serif" fill="#262626">0</text>
<text x="12.4" y="510.3" font-size="5.4" text-anchor="end" font-family="'Liberation Sans',sans-serif" fill="#262626">1</text>
<text x="12.4" y="486.2" font-size="5.4" text-anchor="end" font-family="'Liberation Sans',sans-serif" fill="#262626">2</text>
<text x="12.4" y="462.1" font-size="5.4" text-anchor="end" font-family="'Liberation Sans',sans-serif" fill="#262626">3</text>
<path d="M14.6 604.7v-1.8M14.6 460.2v1.8M45.2 604.7v-1.8M45.2 460.2v1.8M75.7 604.7v-1.8M75.7 460.2v1.8M106.3 604.7v-1.8M106.3 460.2v1.8M136.9 604.7v-1.8M136.9 460.2v1.8M167.4 604.7v-1.8M167.4 460.2v1.8M198 604.7v-1.8M198 460.2v1.8M14.6 604.7h1.8M198 604.7h-1.8M14.6 580.6h1.8M198 580.6h-1.8M14.6 556.5h1.8M198 556.5h-1.8M14.6 532.5h1.8M198 532.5h-1.8M14.6 508.4h1.8M198 508.4h-1.8M14.6 484.3h1.8M198 484.3h-1.8M14.6 460.2h1.8M198 460.2h-1.8" stroke="#000" stroke-width="1.2" fill="none"/>
<text x="106.3" y="619.7" font-size="7.3" text-anchor="middle" font-family="'Liberation Serif',serif" font-style="italic" fill="#262626">t</text>
<text x="3.2" y="532.5" font-size="7.3" text-anchor="middle" font-family="'Liberation Serif',serif" font-style="italic" transform="rotate(-90 3.2 532.5)" fill="#262626">x</text>
<path d="M340.4 534.4l.3-2.6 .6-2.2 1.6-4.2 1.6-3.6 2.3-4.1 2.9-4.9 5.9-8.6 5.1-6 2.8-2.8 3.1-2.5 3.3-2.1 3.4-1.4 3.4-.5 3.5 .4 3.4 1.3 3.2 2.4 3.1 3.1 2.8 3.8 2.5 4 4 8.3 2.8 7.2 1.9 5.5 1.5 5.4 .5 3 0 2.3-.5 1.2-.7 .8-1.2 .7-1.7 .5-1.8 .4-1.6 0-1.6-.2-1.4-.5-1.1-.6-.9-1-.6-1.1-.2-1.4 .2-1.1 .7-1.3 .9-.8 1.1-.6 1.2-.3 1.6 0 1.8 .4 1.6 .8 1.2 1.1 .6 1.1 .1 1.1-.3 1.1-.9 1.2-1.2 1-1.7 .9-2 .7-2.2 .6-2.4 .2-2.1 0-2-.4-1.4-.6-1.6-1-.9-1.2-.5-1.5-.2-1.7 .4-1.7 .9-1.6 1.3-1.4 1.3-.8 2.4-.7 1.5 .1 1.4 .3 1.4 .5 1.6 .9 2.2 2 1.1 2 .1 .9-.2 1-1.1 1.8-2 1.7-2.6 1.4-3.1 1.2-3.7 1-4.1 .9-4.5 .7-4.8 .5-15.9 .9-3.9 .7-3.4 1.2-3.8 2.3-4.7 3.9-4.3 4.5-12.3 13.8-5.4 5.3-3 2.4-3.1 2-3.3 1.5-3.3 .9-3.4 0-3.3-.9-3.3-1.9-3-2.7-2.9-3.5-2.6-3.9-2.4-4.2-2-4.3-3.3-7.8-5-13.8-1.4-3.1-.4-.6-.6-.4-2.8 0-1.8-.7-1-1.2-.1-.8 .2-.7 .5-.7 .8-.6 2.3-.9 2.6-.2 1.4 .3 1 .3 .9 .6 .6 .7 .3 .9 0 .9-.4 .9-.5 .7-.8 .6-1 .3-1 .1-1.2-.3-.9-.4-.9-.6-.6-.9-.2-.7 .1-.8 .4-.8 1.7-1.3 2.6-.8 2.7-.2 2.4 .5 1.1 .6 .8 .8 .5 .9 .1 1.1-.3 1.2-.7 1.1-1 .8-1.2 .4-1.2 .1-1.3-.3-1.1-.4-1.2-.8-.7-1-.4-1 .1-.9 .5-.9 .9-.9 1.2-.7 3-1 3.3-.3 2.9 .4 1.7 .8 1 1 .6 1.2 .1 1.5-.5 1.6-.9 1.4-1.1 .9-1.6 .6-1.8 .1-1.6-.5-1.5-.7-1.4-1.1-.9-1.3-.4-1.2 .1-1.1 .8-1.2 1.1-1 1.9-1 2-.8 2.3-.6 2.5-.3 2.2-.1 2.2 .2 2 .5 1.8 .8 1.4 1.3 .6 1.4 .2 1.7-.3 2.1-.9 2.2-1.4 1.9-2 1.4-2.2 .7-2.2-.2-2.7-1-2.5-1.9-2-2.4-.6-1.2-.3-1.2 0-1 .3-.9 1.3-1.7 3.1-1.9 4.5-1.8 4.5-1.3 12.2-3 5.5-1.8 4.1-1.8 4.9-2.7 4.3-3.1 5.1-4.4 6.4-6.3 11.2-11.9 7.1-6.8 3.9-3.1 4.2-2.7 4.3-1.9 4.4-.7 4.5 .5 4.3 2.1 4.1 3.5 3.8 4.7 3.4 5.6 3 5.9 2.5 6 3.7 10.7 2.3 7.9 1.7 7.2 .5 4.5-.2 .9-.3 0-.3-.4-.1-1.3 .6-1 1.3-.8 1.6-.1 1.6 .5 1.1 1 .2 1.1-.5 1.2-1.6 1.3-2.4 .7-2.4 .1-1.9-.7-1.4-1.2-.4-1-.1-.9 .3-.9 .5-.7 .9-.6 1-.3 1-.1 1.3 .2 1.1 .5 .8 .6 .5 .8 .2 .8-.2 .9-.4 .7-1.8 1.4-2.4 .9-2.7 .2-2.4-.5-1.2-.7-.8-.8-.6-1.1-.1-1.2 .3-1.1 .6-1 1-.7 1.3-.4 1.3-.1 1.5 .3 1.4 .5 1 .8 .6 .9 .3 .9-.2 1-.5 .9-.9 .9-1.1 .7-3.1 1.2-3.3 .4-3-.5-1.7-.8-1.1-1.1-.6-1.4-.2-1.6 .5-1.5 .9-1.3 1.1-.9 1.7-.6 1.8 0 1.7 .3 1.8 .9 1.3 1 .9 1.1 .3 1.2-.2 1.4-.8 1.2-1.2 1.1-1.6 1-2 .9-2.4 .7-2.5 .4-2.3 .1-2.2-.1-1.8-.3-1.9-.9-1.7-1.3-.9-1.4-.4-1.8 0-2 .7-2 1.3-2 1.8-1.6 2.2-1 1.2-.2 1.9 0 2.8 .9 2.4 1.5 2.3 2.4 .8 1.2 .5 1.1 .1 1-.2 1.1-.5 1-.9 1.2-2.8 2-3.9 1.9-4.4 1.6-10.7 3.4-5.4 2.2-4.2 2.1-4.9 3.2-2.8 2.3-3.2 2.9-5.6 5.8-4.5 5.3-15.1 18.6-3.9 4.2-4.1 4-4.4 3.4-4.5 2.5-4.7 1.2-4.7-.6-4.7-2.5-4.3-4.3-4.1-6-3.6-7-3.1-7.5-2.6-7.4-3.8-12.9-2.2-9.5-1.8-9.9-.2-2.9 .3-.9 .3-.3 .4 0 .5 .4 .3 .6 0 1.4-.9 1.3-1.4 .6-1.6-.1-1.5-.7-.6-.7-.3-.6 .1-1.3 1-1.1 1.9-.9 2.3-.4 2.4 .2 1.8 .8 .7 .7 .4 .8 0 .9-.1 .8-.4 .7-.8 .7-.7 .4-1 .3-1.1 0-1.2-.3-1-.6-.8-.8-.3-.7-.2-.9 .3-.8 .6-.7 1.9-1.2 2.8-.8 2.8 0 2.3 .7 .9 .7 .7 .9 .3 1.1-.1 1.2-.5 1.1-.7 .8-1.1 .7-1.2 .3-1.3 0-1.3-.3-1.3-.7-1-.9-.6-1-.1-1 .2-.8 .6-.9 .9-.8 1.4-.8 3.2-.9 3.7-.2 2.9 .7 1.2 .8 1 1.1 .4 1.3 0 1.6-.7 1.6-.8 1.2-1.2 .8-1.7 .6-1.8 0-1.7-.5-1.7-1-1.3-1.2-.7-1.3-.3-1.2 .2-1.1 .9-1.2 1.6-1.2 1.7-.8 2.5-.8 2.5-.6 2.6-.2 2.3 0 2.2 .3 1.6 .5 1.8 .9 1.1 1.2 .7 1.4 .2 1.8-.4 2.2-.9 2.2-1.6 2.1-1.5 1.2-2.2 .9-2.4 0-1.2-.3-1.7-.7-2.4-1.7-2.3-2.5-.8-1.4-.4-1.2-.1-1.2 .1-.9 .5-.9 1-1.1 2.6-1.7 3.9-1.7 4.4-1.4 11.4-3.2 5.5-1.9 4.2-1.9 4.9-3 6.1-4.6 5.7-5.4 16.4-17.6 7.5-7.4 4.2-3.3 4.4-2.8 4.6-1.9 4.6-.6 4.7 1 4.5 2.6 4.3 4.2 3.9 5.4 3.4 6.3 3 6.6 2.4 6.4 2 5.8 2.8 9.5 1.5 6.4 1.1 6.4 0 1.8-.3 .8-.6 0-.7-.9-.1-1.2 .7-1.2 1.2-.7 1.6-.1 1.6 .5 1.1 .9 .3 1.2-.6 1.2-1.5 1.3-2.3 .7-2.4 .1-2-.6-.9-.7-.7-.8-.3-.7-.1-1 .3-.8 .6-.8 .8-.5 .9-.4 1.1-.1 1.3 .2 1.1 .5 .8 .6 .6 .7 .2 .8-.2 .9-.4 .8-1.8 1.4-2.3 .9-2.8 .2-2.4-.5-1.4-.8-.8-.9-.5-1.1 0-1.2 .3-1.1 .7-.9 1.1-.7 1.2-.4 1.3 0 1.3 .2 1.4 .6 1 .8 .7 .8 .2 1-.2 1-.4 .8-.9 1-1.1 .7-3 1.2-3.3 .4-3-.4-1.7-.9-1.1-1.1-.7-1.3-.2-1.6 .4-1.5 .9-1.4 1.4-1 1.4-.4 1.7-.1 1.8 .3 1.8 .8 1.3 1.1 .9 1.1 .4 1.1-.2 1.4-.8 1.2-1.2 1.1-1.6 1-2 .9-2.3 .7-2.6 .5-2.2 .1-2.2-.1-1.7-.3-2-.8-1.6-1.3-1-1.5-.5-1.7 .1-2 .6-2 1.2-2 1.8-1.6 2.2-1 1.2-.2 1.8 0 2.9 .8 2.8 1.8 2.2 2.3 .7 1.2 .4 1.1 0 1-.2 1.1-.5 1-1.1 1.1-2.8 2.1-3.9 1.8-4.5 1.6-10.8 3.4-5.5 2.2-4.2 2.2-4.9 3.2-2.9 2.4-3.2 2.9-5.7 6-16.4 19.9-7.5 8.4-4.1 3.8-4.4 3.2-4.6 2.2-4.7 .7-4.6-1-4.6-2.9-4.3-4.7-3.9-6.2-3.4-7.1-3-7.4-2.5-7.2-3.6-12.5-2.1-9-1.6-9.4-.1-2.6 .2-.9 .3-.3 .4 .1 .7 .9 0 1.4-.8 1.2-1.5 .7-1.6-.1-1.5-.7-.6-.7-.3-.6 .1-1.2 .9-1.2 2-.9 2.5-.4 2.4 .2 1.7 .9 .7 .7 .3 .8 0 1-.2 .7-.4 .7-.8 .7-1.7 .6-1.1 0-1.2-.4-.9-.5-.7-.7-.4-.7-.2-.9 .3-.8 .5-.8 2-1.2 2.7-.7 2.8-.1 2.3 .7 1 .7 .7 .9 .3 1 0 1.2-.5 1.2-.7 .8-1.1 .7-1.2 .3-1.3 0-1.3-.3-1.3-.7-1-.9-.6-.9-.2-1.1 .1-.8 .6-.9 1-.8 1.3-.7 3.2-1 3.7-.2 2.9 .7 1.3 .7 .9 1.1 .5 1.3 0 1.6-.6 1.6-1.1 1.4-1.2 .8-1.7 .5-1.4 0-1.7-.5-1.8-.9-1.3-1.2-.8-1.3-.3-1.3 .2-1.1 .9-1.2 1.5-1.1 1.8-.9 2.1-.7 2.4-.6 2.6-.3 2.2 0 2.2 .2 2.1 .5 1.8 1 1.3 1.4 .7 1.5 .1 1.8-.5 2.3-1 2.2-1.7 2-1.5 1.1-2.3 .8-2.4-.1-2.8-1.2-2.3-1.7-2.2-2.6-.8-1.3-.4-1.2 0-1.1 .2-1 1.3-1.7 2.6-1.8 4.4-1.8 15.2-4.4 5.4-1.9 4.2-1.9 4.9-2.9 4.4-3.2 5.2-4.6 6.6-6.6 15.1-16.4 3.9-3.7 4.1-3.4 4.3-3 4.6-2.1 4.7-.9 4.6 .6 4.6 2.3 4.3 3.9 4 5.3 3.6 6.1 3 6.6 2.6 6.5 2.1 6 2.9 9.8 1.6 6.7 1.2 6.7 0 2-.3 .7-.6 .1-.6-.8-.2-1.1 .4-1 .8-.8 1.1-.4 1.5 0 1.3 .5 .9 .7 .5 .9-.1 .7-.2 .7-1.4 1.3-2 .9-2.4 .2-2.1-.3-1.5-.9-.9-1.4-.1-1.5 .4-.8 .5-.6 1.6-.8 1.9 0 1.8 .7 1.1 1.2 .2 1.2-.7 1.5-1.5 1.1-2.4 .9-2.7 .3-2.4-.5-1.8-1.1-.6-.7-.3-.9-.2-1 .3-1.1 .6-1 .8-.6 .9-.4 1.3-.3 1.3 .1 1.4 .4 1.3 .6 .8 .8 .5 .9 .1 1-.3 .9-.7 1-1.1 .9-1.1 .7-3.3 1-3.4 .2-1.6-.3-1.2-.5-1.4-.8-.8-.9-.6-1.5-.1-1.2 .4-1.5 .6-1.1 1-1 1.3-.6 1.7-.3 1.8 .1 1.9 .7 1.8 1.1 1 1.1 .5 1.4-.2 1.4-.9 1.4-1.5 1.2-1.7 1-2.1 .8-2.4 .7-2.6 .3-2.2 .1-2.3-.2-1.6-.5-1.9-.9-1.2-1.2-.9-1.4-.4-1.9 .1-1.9 .8-2.1 1.3-1.9 1.4-1.2 2.1-1.1 1.2-.2 1.8 0 2.9 .8 2.9 1.7 2.2 2.3 .7 1.2 .4 1.1 .1 1-.2 1.1-.5 1-1 1.2-2.8 2-3.9 1.9-4.4 1.6-10.7 3.3-5.5 2.1-4.1 2.1-4.9 3.2-2.8 2.3-3.2 2.8-5.6 5.8-4.4 5.2-15 18.3-3.8 4.2-4.1 3.9-4.3 3.5-4.5 2.5-4.7 1.2-4.7-.4-4.6-2.3-4.3-4.2-4.1-5.7-3.6-6.9-3.1-7.3-2.6-7.4-3.9-13-2.3-9.5-1.9-10.2-.1-2.9 .2-1 .3-.3 .4 .1 .7 .9 0 1.3-.7 1.2-1.2 .7-1.4 .1-1.5-.4-1.2-1-.4-1.3 .4-1.1 1.6-1.2 2.6-.7 2.4-.1 2.1 .7 .9 .6 .5 .8 .3 .8-.1 1-.4 .9-.6 .6-.9 .6-1 .3-1 0-1.3-.3-.8-.4-.9-.8-.5-.8-.2-.9 .2-.8 .5-.6 1.8-1.3 2.6-.8 2.8-.1 2.4 .6 1.1 .6 .7 .8 .5 1 0 1.2-.4 1.2-.7 1-1.1 .7-1.3 .4-1.3 0-1.2-.3-1.4-.6-1-.9-.5-.8-.3-1.1 .1-.9 .6-.9 .9-.8 1.3-.8 3.2-1 3.4-.2 2.9 .5 1.6 .9 1 1 .5 1.3 0 1.6-.5 1.6-1.1 1.5-1.2 .8-1.7 .5-1.4 0-1.7-.4-1.8-1-1.3-1.2-.9-1.2-.3-1.3 .2-1.1 .9-1.2 1.2-1 2-1 2-.8 2.4-.5 2.6-.4 2.3 0 2.2 .1 2.1 .6 1.8 .9 1.4 1.4 .6 1.4 .2 1.9-.4 2.2-1 2.2-1.6 2.1-1.5 1.1-2.3 .8-2.5 0-1.1-.3-1.7-.8-2.3-1.7-2.3-2.6-.7-1.3-.4-1.2-.1-1.2 .2-.9 1.2-1.7 2.6-1.8 4.3-1.9 16-4.6 5.5-2 4.3-2 5.1-3.1 4.5-3.5 5.5-5 4.5-4.6 11.3-12.3 7.2-7.4 4-3.6 4.3-3.1 4.5-2.4 4.7-1.3 4.7 .2 4.6 1.8 4.4 3.4 4.1 4.9 3.7 5.9 3.2 6.5 2.7 6.6 2.2 6.1 3.1 10.3 1.8 7.2 1.4 7.2 0 2.1-.3 .9-.2 .2-.4-.1-.6-.8-.2-1.2 .6-1.2 1.2-.7 1.6-.2 1.6 .4 1.2 1 .3 1.1-.5 1.2-1.5 1.3-2.3 .8-2.4 .1-2.2-.7-1.4-1.3-.4-.9 0-.9 .2-.9 .6-.7 .8-.6 1-.3 1.1 0 1.2 .2 1.1 .4 .9 .6 .5 .8 .2 .6-.2 .9-.4 .8-1.6 1.4-2.4 .9-2.7 .3-2.5-.4-1.3-.8-.9-.9-.5-1.1-.1-1.2 .2-1 .7-1 1-.7 1.3-.4 1.3-.1 1.5 .3 1.3 .6 1.1 .7 .6 .9 .2 .9-.2 1.1-.5 .8-.9 .9-1.1 .8-3 1.1-3.4 .4-2.9-.5-1.7-.9-1.1-1.1-.6-1.4-.2-1.5 .5-1.5 .9-1.4 1.1-.8 1.7-.5 1.8-.1 1.7 .4 1.8 .8 1.3 1.1 .9 1.1 .3 1.1-.3 1.4-.7 1.2-1.2 1.1-1.7 1-2 .9-2.4 .6-2.5 .5-2.3 .1-2.2-.1-1.7-.4-2-.8-1.5-1.4-.9-1.4-.5-1.8 .1-2 .7-2 1.3-1.9 1.8-1.6 2.3-1 1.2-.2 1.8 .1 2.8 .9 2.8 1.9 2.1 2.2 .6 1.2 .4 1.1 0 1-.3 1.1-1.3 1.9-2.7 2-3.9 1.9-4.4 1.6-11.5 3.6-5.5 2.3-4.3 2.2-5.1 3.4-4.5 3.9-5.4 5.6-4.4 5-14.6 17.9-3.7 4.2-4 4.1-4.3 3.6-4.4 2.9-4.7 1.6-4.7 .1-4.6-1.7-4.4-3.6-4.2-5.3-3.7-6.6-3.3-7.3-2.8-7.4-2.3-7.1-3.2-11.8-1.9-8.4-1.5-8.5 0-2.3 .2-.8 .4-.2 .4 .1 .6 1 0 1.3-.9 1.3-1.4 .6-1.6-.1-1.5-.7-.6-.7-.3-.6 .1-1.3 1.1-1.2 2.1-.9 2.3-.3 2.4 .3 1.7 .9 .6 .7 .3 .8 0 .9-.2 .8-.5 .7-.7 .7-1.8 .5-1.1-.1-1.2-.3-.8-.5-.8-.8-.3-.7-.2-.9 .3-.8 .6-.8 1.9-1.1 2.8-.8 2.8 0 2.3 .7 1 .7 .6 .9 .3 1.1-.1 1.2-.5 1.2-.7 .7-1.1 .7-1.2 .3-1.4 0-1.2-.3-1.3-.7-1-.9-.5-1-.2-1 .2-.8 .6-.9 1-.8 1.3-.8 3.2-.9 3.7-.2 2.9 .7 1.3 .8 .9 1.1 .5 1.3-.1 1.6-.7 1.7-.9 1.1-1.1 .8-1.7 .6-1.8 0-1.7-.5-1.7-1-1.3-1.2-.7-1.3-.3-1.3 .3-1 .9-1.3 1.5-1.1 1.8-.8 2.5-.9 2.5-.5 2.6-.2 2.2 0 2.2 .3 1.7 .5 1.7 1 1.1 1.1 .7 1.4 .2 1.8-.3 2.2-1 2.3-1.6 2-1.5 1.2-2.3 .9-1.2 .1-1.8-.2-2.7-1.2-2.3-1.8-2.1-2.5-.7-1.3-.4-1.3 0-1 .3-1 1.3-1.7 2.7-1.8 3.9-1.6 4.3-1.4 11.5-3.2 5.5-2 4.3-2 5-2.9 4.4-3.4 5.4-4.8 6.8-7 12-13.1 3.7-3.7 3.9-3.6 4.2-3.3 4.5-2.7 4.6-1.6 4.7-.3 4.6 1.2 4.5 3 4.2 4.5 3.8 5.7 3.4 6.4 2.8 6.5 2.4 6.4 1.9 5.7 2.6 9.2 1.9 8.3 .5 3.9 0 1.7-.3 .7-.6 0-.7-.9-.1-1.2 .7-1.2 1.4-.7 1.6-.1 1.6 .6 1 .9 .1 1.3-.6 1.1-1.6 1.3-2.4 .7-2.4-.1-2-.7-.8-.6-.5-.7-.3-.9 0-1 .3-.8 .6-.7 .9-.5 1-.3 1 0 1.3 .2 1 .5 .8 .6 .5 .8 .2 .6-.2 .9-.4 .8-1.8 1.4-2.4 .9-2.7 .2-2.4-.5-1.4-.8-.8-.9-.5-1.1 0-1.2 .3-1.1 .8-.9 1-.7 1.2-.4 1.4 0 1.2 .2 1.4 .6 1 .8 .7 .9 .2 .9-.2 1-.4 .8-.9 1-1.1 .7-3.1 1.2-3.3 .4-3-.5-1.7-.8-1.1-1.1-.6-1.4-.2-1.6 .4-1.4 1-1.4 1.1-.8 1.6-.6 1.8-.1 1.7 .3 1.8 .9 1.5 1.2 .8 1.1 .3 1.1-.2 1.3-.9 1.3-1.3 1.1-1.7 1-2.1 .9-2.3 .6-2.6 .4-2.3 .1-2.2-.2-1.7-.4-1.9-.9-1.5-1.4-.9-1.5-.3-1.9 .2-1.9 .8-2.1 1.4-1.9 1.9-1.4 2.3-.9 1.2-.1 1.8 .2 2.8 1 1.4 .9 1.6 1.3 1.8 2.2 .5 1.2 .2 1-.1 1.1-.4 1-1.5 1.9-2.6 1.8-4 1.8-4.5 1.6-9.9 3.2-5.4 2-4.1 2-3.5 2.1-5.4 4.2-3.3 2.9-3.6 3.8-4.3 4.9-14.3 17.5-3.6 4.2-3.9 4.1-4.2 3.8-4.4 3.1-4.6 2.1-4.6 .6-4.7-1.2-4.5-3-4.3-4.9-3.9-6.2-3.4-7.2-2.9-7.4-2.4-7.2-2-6.6-2.7-10.6-1.6-7.2-1-7.1 0-1.9 .3-.6 .4-.1 .3 .2 .6 .8 0 1.4-.8 1.2-1.5 .7-1.8-.1-1.4-.8-.6-.7-.2-.6 .1-1.3 1.2-1.2 2.1-.8 2.4-.3 2.1 .2 1.7 .9 .7 .7 .3 .9 0 .9-.2 .8-.4 .6-.8 .7-1.8 .6-1 0-1.2-.4-.9-.5-.7-.7-.4-.8-.2-.8 .3-.8 .6-.8 .9-.7 1.2-.6 2.8-.7 2.8 .1 2.2 .7 1 .8 .6 .9 .2 1-.1 1-.4 1.2-.7 .8-1.1 .7-1.3 .3-1.3 0-1.2-.3-1.3-.7-1-.9-.6-1-.2-1 .1-.8 .6-.9 1-.8 1.3-.7 3.2-1 3.7-.2 2.9 .7 1.3 .8 1 1 .4 1.3 0 1.6-.6 1.7-1.1 1.4-1.2 .8-1.8 .4-1.4 0-1.7-.5-1.7-1-1.3-1.2-.8-1.2-.3-1.3 .2-1.1 .9-1.2 1.5-1.1 1.8-.9 2.5-.8 2.4-.5 2.7-.3 2.2 0 2.2 .3 1.6 .4 1.8 1 1.4 1.4 .6 1.5 .1 1.9-.5 2.2-1.1 2.3-1.6 1.9-1.6 1.1-2.3 .8-2.4-.2-2.8-1.1-2.3-1.7-2.2-2.6-.7-1.3-.4-1.3 0-1.1 .2-.9 1.3-1.7 2.7-1.8 4.3-1.8 15.2-4.5 5.5-1.9 4.2-1.9 4.9-2.9 4.4-3.2 5.3-4.7 6.6-6.7 15.3-16.5 3.9-3.6 4.1-3.5 4.4-2.8 4.6-2 4.6-.8 4.7 .8 4.6 2.4 4.3 4.1 3.9 5.4 3.5 6.2 3 6.6 2.5 6.4 3.6 11.2 2.2 8 1.2 5.3 .6 5 0 1.1-.3 .8-.4 .1-.5-.4-.5-1.4 .3-1.1 .9-.9 1.3-.4 1.5 .1 1.2 .4 1 .9 .3 .8-.2 .9-.5 .9-1 .8-1.4 .7-1.5 .4-1.5 0-1.4-.1-1.3-.5-1-.8-.7-1-.3-1 .1-.9 .6-.9 .9-.7 1.2-.4 1.3 0 1.2 .2 1 .5 .9 .8 .4 .8 0 .8-.3 .9-.7 .9-2.1 1.3-2.8 .7-2.8-.2-1.3-.4-.9-.5-.9-.9-.5-.8-.2-.9 0-1.2 .5-1 .7-.7 .8-.6 1.3-.3 1.3-.1 1.5 .3 1.3 .6 1 .8 .6 .9 .2 .9-.2 1-.6 1-1.1 1-1.4 .8-3.2 1-3.4 .2-1.6-.3-1.3-.5-1.3-.8-.9-1.2-.5-1.2-.1-1.6 .5-1.4 .8-1.1 1.4-1 1.3-.5 1.8-.1 1.7 .3 1.8 .8 1.6 1.2 .8 1.1 .3 1.2-.2 1.2-.9 1.4-1.5 1.3-1.7 .9-2.1 .8-2.4 .7-2.6 .3-2.3 .1-2.2-.2-1.7-.5-1.8-.9-1.3-1.2-.8-1.5-.4-1.8 .1-2 .8-2 1.3-1.9 1.4-1.2 2.2-1.1 1.2-.2 1.8 0 2.9 .8 2.4 1.4 2.4 2.3 .8 1.2 .5 1.2 .1 1-.1 1.1-.5 1-.9 1.2-2.6 2-4.3 2.1-4.5 1.6-10.7 3.4-6.4 2.5-4.4 2.4-5.1 3.6-4.6 4-5.7 5.9-4.5 5.3-11.5 14.2-7.4 8.4-4.1 3.9-4.3 3.4-4.6 2.4-4.6 1.1-4.7-.6-4.6-2.5-4.3-4.3-4-5.9-3.6-7-3.1-7.4-2.6-7.3-3.7-12.8-2.3-9.4-1.8-9.9-.1-2.8 .2-1 .3-.3 .4 .1 .7 .9 .1 1.2-.7 1.2-1.1 .7-1.4 .2-1.6-.4-1.2-.9-.5-1.3 .3-1.1 .7-.6 .9-.6 2.2-.8 2.7-.1 2.2 .6 .8 .6 .6 .7 .3 .9 0 .9-.4 1-.4 .6-.9 .6-1 .3-1 .1-1.3-.2-.9-.5-.9-.6-.5-.9-.3-.7 .1-.8 .5-.8 1.7-1.3 2.6-.8 2.8-.2 2.4 .5 1.3 .7 .8 .8 .4 1 0 1.2-.4 1.2-.8 1-1 .8-1.3 .3-1.3 0-1.3-.3-1.3-.6-1-.9-.5-.8-.3-1.1 .1-.9 .6-.9 1-.9 1.3-.7 3.1-1 3.4-.2 2.9 .5 1.4 .7 1 1 .7 1.3 .1 1.5-.5 1.7-1 1.4-1.1 .9-1.7 .7-1.4 0-1.8-.3-1.8-.9-1.4-1.2-.9-1.2-.4-1.3 .1-1.2 .8-1.2 1.2-1 1.9-1 2-.8 2.4-.6 2.5-.3 2.3-.2 2.2 .2 2.1 .4 1.9 .9 1.5 1.3 .7 1.4 .3 1.7-.3 2.2-.8 2.2-1.5 2.1-2 1.6-2.3 .8-2.4 0-1.2-.3-1.6-.8-2.4-1.7-2.2-2.6-.7-1.3-.4-1.3-.1-1.1 .2-.9 1.2-1.8 2.7-1.7 4.3-1.9 4.4-1.4 10.7-3 5.4-1.9 4.2-1.8 4.8-2.8 6-4.4 5.5-5.1 4.5-4.6 14.9-16.2 3.8-3.7 4.1-3.5 4.3-3.1 4.5-2.3 4.6-1.1 4.7 .3 4.6 1.9 4.4 3.6 4.1 5 3.6 6.1 3.2 6.5 2.6 6.5 3.9 11.6 2.4 8.5 1.8 9.1 .2 2.7-.2 1.1-.2 .3-.4 .1-.7-.9-.2-1.3 .5-1 1.1-.8 1.6-.2 1.7 .4 1.2 .9 .4 1.1-.4 1.2-1.4 1.3-2.3 .9-2.4 .1-2.2-.6-.9-.6-.7-.8-.4-.9 0-1 .2-.8 .6-.7 .9-.6 .9-.3 1.1 0 1.3 .2 1 .4 .9 .7 .5 .7 .2 .6-.2 .9-.4 .8-1.7 1.4-2.3 .9-2.8 .3-2.4-.4-1.4-.8-.8-.9-.5-1.1-.1-1.2 .3-1.1 .6-.9 1.1-.7 1.2-.4 1.3-.1 1.5 .3 1.4 .6 1 .7 .6 .9 .2 .9-.2 1.1-.5 .8-.9 1-1.1 .7-3.1 1.1-3.3 .4-3-.5-1.7-.9-1-1.1-.7-1.4-.1-1.6 .5-1.5 1-1.3 1.1-.8 1.6-.5 1.8-.1 1.7 .4 1.8 .8 1.5 1.3 .8 1.1 .2 1.1-.3 1.2-.7 1.2-1.3 1.1-1.6 1-2.1 .9-2.3 .7-2.6 .4-2.2 .1-2.2-.1-1.8-.4-1.9-.8-1.6-1.4-1-1.9-.3-1.9 .2-1.9 .9-2.1 1.4-1.8 2-1.5 2.3-.7 1.2-.1 1.8 .2 2.8 1.1 2.2 1.6 2.1 2.3 .9 1.9 .1 1.1-.2 1-.5 1-.7 1-2.6 2-4.3 2.1-4.4 1.6-11.5 3.7-5.5 2.2-4.3 2.3-5.1 3.4-4.5 4-5.5 5.6-4.4 5.1-14.8 18-3.7 4.2-4 4-4.3 3.6-4.5 2.8-4.6 1.5-4.7-.1-4.6-1.9-4.5-3.8-4.1-5.4-3.7-6.7-3.2-7.3-2.7-7.4-4.1-13.3-2.4-9.9-2-10.6-.2-3.1 .1-1.1 .4-.4 .4 .1 .7 .8 .1 1.2-.6 1.2-1.2 .8-1.4 .2-1.5-.3-1.3-1-.5-1.1 .3-1.2 .6-.7 .9-.6 2.5-.8 2.6-.1 2.2 .7 .8 .6 .6 .8 .2 .8 0 1-.4 .9-.6 .6-.8 .6-1 .3-1.1 0-1.2-.3-.9-.4-.9-.7-.5-.9-.2-.9 .2-.8 .5-.6 1.7-1.3 2.7-.8 2.8-.1 2.3 .5 1.1 .7 .8 .8 .5 1 0 1.1-.3 1.2-.8 1.1-1.1 .7-1.2 .4-1.3 0-1.3-.3-1.1-.5-1.1-.8-.7-1-.3-1 .1-1 .6-.9 .9-.8 1.3-.8 3.2-1 3.3-.2 2.9 .5 1.7 .8 1 1.1 .5 1.3 0 1.5-.5 1.7-1.1 1.4-1.1 .9-1.7 .5-1.5 0-1.7-.4-1.8-1-1.3-1.1-.9-1.3-.3-1.3 .2-1.1 .8-1.2 1.2-1 2-1 2.1-.8 2.4-.5 2.5-.4 2.3 0 2.2 .1 2.1 .5 1.8 .9 1.4 1.4 .7 1.5 .2 1.7-.4 2.3-.9 2.2-1.6 2.1-1.5 1.1-2.3 .9-2.4 0-1.2-.3-1.7-.7-2.3-1.7-2.3-2.6-.8-1.4-.4-1.2-.1-1.1 .2-1 .4-.8 .8-.9 2.6-1.8 4.2-1.8 4.4-1.5 11.5-3.2 5.5-1.9 4.3-2 5-3 4.5-3.4 5.4-4.9 6.8-7.1 12.1-13.1 3.7-3.8 4-3.6 4.2-3.2 4.5-2.6 4.6-1.5 4.7-.2 4.7 1.5 4.4 3.1 4.2 4.6 3.8 5.8 3.3 6.4 2.8 6.6 4.1 11.9 2.6 9 2.1 9.8 .2 2.9-.1 1.3-.2 .3-.4 .1-.8-.9-.2-1.4 .7-1.1 1.4-.7 1.8 0 1.5 .6 1 1.1 0 1.2-.9 1.3-1.9 1.1-2.3 .5-2.2-.1-1.9-.8-.7-.7-.5-.7-.2-.9 0-1 .4-.8 .5-.5 .9-.5 1-.3 1.1 0 1.2 .2 1.1 .5 .8 .6 .4 .8 .2 .8-.3 .9-.5 .7-1.8 1.4-2.5 .8-2.7 .2-2.4-.6-1.1-.7-.8-.9-.5-1.2 0-1.1 .3-1.1 .8-.9 1-.7 1.3-.4 1.3 0 1.5 .3 1.3 .6 1 .8 .5 .9 .2 1-.2 .8-.6 1-1 1-1.1 .7-3.1 1.1-3.4 .3-1.6-.2-1.3-.4-1.6-.9-1-1.2-.6-1.4 0-1.6 .5-1.5 1-1.2 1.2-.8 1.7-.5 1.8 0 1.7 .5 1.7 .8 1.4 1.3 .7 1.1 .2 1.1-.3 1.3-.9 1.2-1.2 1-1.7 1-2.1 .9-2.4 .6-2.6 .4-2.2 .1-2.2-.2-1.7-.4-1.9-.9-1.6-1.4-.8-1.6-.3-1.8 .2-2 .8-2 1.4-1.9 1.4-1.2 2.2-.9 1.2-.3 1.8 .1 2.9 .9 2.8 1.8 2.1 2.3 .7 1.1 .4 1.1 0 1.1-.2 1-.6 1-1 1.2-2.8 2-4 1.9-4.5 1.6-10 3.1-5.4 2-4.1 2-4.7 3-5.8 4.8-5.4 5.4-6.7 7.8-12 14.8-3.7 4.2-3.9 4.1-4.2 3.7-4.4 3.1-4.6 1.9-4.7 .4-4.7-1.3-4.5-3.2-4.2-5-3.8-6.4-3.4-7.2-2.9-7.4-2.4-7.2-3.4-12.2-2-8.7-1.5-8.9-.1-2.5 .2-.9 .4-.2 .3 .1 .7 .9 .1 1.1-.5 1.1-.9 .7-1.2 .4-1.2 0-1.3-.5-.9-.9-.5-1 .1-.8 .6-.8 .9-.8 1.1-.5 1.5-.4 1.5-.1 2.5 .3 1 .5 .8 .6 .5 .8 .3 .8-.2 1.2-.5 .9-.8 .6-.9 .5-1.1 .1-1.1-.1-1.1-.4-1-.6-.5-.7-.4-.9 0-.8 .3-.8 1.6-1.3 2.2-.9 2.8-.3 2.4 .3 1.5 .5 .9 .8 .6 .9 .3 1.1-.3 1.4-.7 1.1-1 .9-1.2 .4-1.3 .2-1.3-.3-1.1-.4-1.2-.8-.8-1-.4-1 .1-1 .4-.9 .9-.8 1.2-.8 3-1.1 3.4-.3 2.9 .4 1.7 .7 1.1 1 .7 1.2 .2 1.5-.4 1.7-1 1.5-1 .9-1.7 .7-1.4 .1-1.8-.3-1.8-.8-1.5-1.2-.9-1.2-.5-1.3 .1-1.1 .7-1.3 1.1-1 1.9-1 2-.8 2.3-.6 4.8-.6 2.2 .2 2.2 .4 1.9 .8 1.5 1.2 .8 1.4 .4 1.6-.2 2.1-.8 2.3-1.4 2.1-1.9 1.7-2.2 1-2.5 0-1.1-.2-1.7-.7-2.4-1.7-2.3-2.6-.9-1.4-.4-1.2-.1-1.1 .1-1 .5-.9 .9-1 2.7-1.8 3.9-1.7 4.3-1.4 11.4-3.2 5.5-1.9 4.2-1.9 5-3 6.1-4.6 5.7-5.4 16.4-17.6 7.5-7.4 4.1-3.4 4.4-2.8 4.6-1.9 4.7-.6 4.7 1 4.5 2.6 4.3 4.2 3.9 5.4 3.4 6.3 3 6.6 2.4 6.4 3.6 11 2.1 8 1.6 8.2 .1 2.4-.2 1-.2 .2-.4 0-.7-.7-.2-1.1 .2-.9 .7-.8 1.1-.5 1.3-.1 1.3 .3 1.1 .6 .7 1 .1 .8-.4 .8-.7 .9-1 .6-2.6 .9-1.4 0-1.4-.1-1.3-.5-.9-.6-.7-.8-.3-1 0-.9 .3-.9 .6-.7 1-.6 1-.2 1.1 0 1.2 .3 1.1 .5 .7 .6 .5 .8 .1 .8-.3 .8-.5 .8-.8 .7-2.1 1.1-2.6 .5-2.6-.2-1.5-.5-1-.7-.9-1.2-.3-1.2 0-1.1 .5-1 .9-.9 1.4-.6 1.3-.2 1.3 .1 1.4 .5 1.2 .7 .8 .8 .4 .9 0 1-.4 .9-.8 1-.9 .7-2.9 1.3-3.2 .6-3.1-.3-1.8-.6-1.2-1-.9-1.2-.4-1.6 .2-1.5 .7-1.4 1.2-1.2 1.6-.7 1.8-.2 1.7 .2 1.9 .8 1.4 1 1 1.1 .5 1.1-.2 1.4-.6 1.2-1.1 1.1-1.5 1.1-2 .9-2.2 .7-2.6 .5-2.2 .2-2.2-.1-1.8-.2-2-.7-1.7-1.2-1.2-1.7-.6-1.8 .1-2 .6-2 1.2-1.9 1.8-1.7 2.2-1 1.2-.2 1.8 0 2.8 .8 2.5 1.5 2.3 2.3 .8 1.2 .5 1.1 .1 1-.1 1.1-.5 1-.9 1.2-2.7 2-4.3 2.1-4.4 1.6-10.8 3.4-5.4 2.1-5.4 2.9-5.2 3.6-4.6 4.1-5.7 5.9-4.5 5.3-11.7 14.4-7.4 8.4-4.1 3.8-4.4 3.3-4.5 2.4-4.7 .9-4.7-.8-4.5-2.7-4.4-4.5-3.9-6-3.5-7-3.1-7.4-2.5-7.3-3.7-12.7-2.2-9.2-1.1-6-.7-4.8 0-2 .3-.7 .4-.1 .5 .4 .4 .6 .1 1.2-.7 1.2-1.1 .7-1.4 .2-1.6-.4-1.2-.9-.5-1.3 .4-1.1 .6-.6 .9-.6 2.3-.8 2.6-.1 2.2 .6 .8 .6 .6 .8 .3 .8 0 .9-.4 1-.5 .6-.8 .6-1 .3-1.1 .1-1.2-.2-.9-.5-.9-.7-.5-.8-.3-.9 .1-.7 .5-.7 1.7-1.3 2.6-.9 2.8-.1 2.4 .5 1.3 .7 .8 .9 .4 1 0 1.1-.4 1.2-.8 1-1 .8-1.3 .3-1.3 0-1.3-.3-1.3-.7-1-.8-.5-.9-.3-1 .1-.9 .6-.9 1-.9 1.3-.7 3.2-1 3.3-.2 3 .5 1.3 .7 1.1 1 .6 1.3 .1 1.5-.5 1.7-1 1.5-1.2 .9-1.6 .6-1.8 0-1.7-.5-1.8-.9-1.3-1.2-.8-1.3-.3-1.2 .2-1.2 .9-1.2 1.5-1.1 1.7-.9 2.1-.7 2.4-.6 2.6-.3 2.3 0 2.2 .2 2.1 .5 1.8 .9 1.3 1.4 .7 1.5 .1 1.9-.4 2.2-1.1 2.3-1.6 1.9-2.1 1.4-2.4 .6-2.4-.3-2.7-1.3-2.2-1.7-2-2.6-.9-2.2 0-1.8 .5-.9 .7-.9 2.4-1.8 4.2-1.8 4.3-1.4 12.2-3.5 5.6-2 4.3-2.1 5.1-3.1 4.7-3.6 5.5-5.1 4.5-4.7 11.5-12.5 7.4-7.4 4.1-3.5 4.3-3 4.5-2.2 4.7-1.1 4.7 .5 4.6 2.1 4.3 3.8 4 5.1 3.6 6.1 3.1 6.5 2.6 6.5 3.9 11.5 2.2 8.4 1.9 8.8 .1 2.6-.2 1.2-.2 .2-.4 .1-.7-.9-.2-1.3 .5-1 1.1-.8 1.6-.2 1.7 .4 1.2 .9 .4 1.1-.4 1.2-1.5 1.3-2.2 .9-2.4 .1-2.3-.6-.9-.6-.6-.8-.4-.9 0-1 .2-.8 .6-.8 .9-.5 1-.3 1 0 1.3 .2 1.1 .4 .8 .7 .5 .7 .2 .7-.2 .9-.4 .7-1.7 1.4-2.3 .9-2.8 .3-2.4-.5-1.4-.7-.8-.9-.5-1.1-.1-1.2 .3-1.1 .7-.9 1-.7 1.2-.4 1.3-.1 1.5 .3 1.4 .6 1 .7 .6 .9 .2 .9-.2 1.1-.5 .8-.9 1-1.1 .7-3.1 1.1-3.3 .4-3-.5-1.7-.9-1-1.1-.7-1.4-.1-1.6 .5-1.5 1-1.3 1.1-.8 1.7-.6 1.8 0 1.7 .4 1.7 .8 1.4 1.1 .8 1.1 .3 1.1-.2 1.3-.7 1.1-1.2 1.2-1.5 1-2 .9-2.3 .7-2.6 .4-2.2 .2-2.2-.1-1.8-.3-2-.8-1.6-1.2-1-1.4-.5-1.7-.1-2 .6-2 1.2-2 1.7-1.7 1.6-.8 1.2-.4 2.4-.2 2.9 .8 2.4 1.5 2.4 2.3 .9 1.2 .5 1.1 .1 1-.1 1.1-.4 1-.9 1.2-2.6 2-4.3 2.1-4.5 1.6-11.5 3.7-5.5 2.2-4.3 2.3-5.1 3.6-4.6 3.9-5.5 5.7-4.5 5.2-11.3 14-7.3 8.3-4 4-4.3 3.5-4.5 2.7-4.7 1.4-4.7-.3-4.6-2.1-4.4-3.9-4.1-5.6-3.6-6.8-3.2-7.3-2.7-7.4-3.9-13.2-2.4-9.7-1.9-10.4-.2-3 .2-1.1 .3-.3 .4 .1 .7 .8 0 1.4-.8 1.3-1.4 .7-1.6-.1-1.5-.7-.7-.6-.3-.6 0-1.3 1.1-1.2 2-.9 2.3-.4 2.4 .2 1.7 .9 .7 .7 .4 .8 0 .9-.2 .8-.4 .7-.7 .7-1.8 .6-1 0-1.2-.4-1-.6-.8-.7-.3-.7-.2-.9 .3-.8 .6-.8 2-1.2 2.8-.7 2.8 .1 2.2 .7 1 .7 .7 .9 .2 1-.1 1.2-.5 1.2-.7 .8-1.1 .6-1.3 .3-1.3 0-1.3-.4-1.2-.7-1-.8-.5-.9-.2-1 .2-.9 .6-.9 1-.9 1.4-.7 3.2-.9 2-.2 1.7 0 1.7 .3 1.2 .4 1.2 .8 .9 1.1 .5 1.4-.1 1.6-.7 1.6-.9 1.1-1.2 .9-1.7 .5-1.4 0-1.7-.4-1.8-1-1.3-1.1-.9-1.3-.3-1.3 .2-1.1 .8-1.2 1.3-1 1.9-1 2.1-.8 2.4-.5 2.6-.4 2.2 0 2.3 .1 2 .6 1.9 .9 1.4 1.3 .6 1.5 .2 1.8-.4 2.2-1 2.3-1.6 2-1.5 1.2-2.3 .8-1.2 .1-1.8-.2-2.7-1.3-2.3-1.7-2.1-2.6-.6-1.3-.4-1.2 0-1.1 .3-.9 1.3-1.7 2.8-1.8 3.9-1.7 4.4-1.4 10.6-2.9 5.4-1.9 4.1-1.8 4.9-2.7 5.8-4.4 5.5-4.9 4.4-4.5 14.7-15.9 3.7-3.7 4-3.6 4.3-3.2 4.4-2.5 4.7-1.4 4.7 0 4.6 1.6 4.4 3.3 4.2 4.7 3.7 5.9 3.3 6.4 2.7 6.6 2.3 6.2 3.2 10.5 1.9 7.3 1.4 7.4 0 2.2-.2 .9-.3 .2-.3-.1-.7-.8-.2-.9 .2-1 .8-.8 1.1-.5 1.2-.1 1.4 .3 1.1 .6 .6 .9 .1 .8-.3 .8-.7 .9-1 .7-2.5 .8-1.5 .1-1.4-.1-1.3-.5-.9-.6-.7-.7-.4-1 0-.9 .2-.9 .6-.7 1-.6 1-.3 1.1 0 1.2 .2 1.1 .5 .8 .6 .4 .8 .2 .8-.2 .8-.6 .8-.7 .7-2 1.1-2.7 .6-2.5-.1-1.5-.5-1.1-.7-.9-1.2-.4-1.1 0-1.2 .5-1 .8-.9 1.3-.7 1.3-.2 1.3 .1 1.5 .4 1.2 .7 .8 .8 .5 .9 0 1-.3 .9-.8 1-.9 .7-2.8 1.4-3.2 .6-3.1-.2-1.8-.6-1.5-1.2-.8-1.2-.4-1.6 .2-1.5 .8-1.4 1.2-1.2 1.6-.7 1.8-.1 1.7 .3 1.9 .7 1.4 1.1 .9 1.1 .5 1.1-.1 1.2-.6 1.2-1.1 1.1-1.5 1.1-1.9 .9-2.2 .7-2.5 .6-2.2 .2-2.3 0-1.7-.3-2.1-.6-1.7-1.1-1.3-1.7-.6-1.7 0-2.4 .7-2.1 1.2-1.9 1.9-1.6 2.2-1 1.2-.2 1.8 .1 2.8 .9 2.8 1.8 2.1 2.3 .7 1.2 .4 1 0 1.1-.3 1-.5 1-1 1.2-2.9 2-4 1.9-14.5 4.7-5.4 2.1-4.1 2-4.8 3-5.8 4.8-5.4 5.6-6.8 7.8-12 14.9-3.7 4.2-4 4.1-4.2 3.7-4.5 2.9-4.6 1.8-4.7 .3-4.6-1.5-4.5-3.4-4.2-5.2-3.8-6.5-3.3-7.2-2.8-7.4-2.4-7.1-3.3-12.1-2-8.5-1.4-8.7-.1-2.4 .2-.9 .6-.1 .8 .8 .1 1-.4 1.1-.9 .9-1.1 .4-1.3 0-1.3-.5-1-.8-.5-1 .1-.7 .4-.8 .8-.8 1.2-.6 1.5-.4 1.4-.2 2.6 .3 1.1 .4 .8 .6 .6 .7 .2 .9-.1 1.1-.4 .9-.7 .7-1 .5-1 .2-1.1-.1-1.2-.3-.9-.6-.7-.7-.4-.8 0-.9 .3-.8 1.4-1.3 2.2-.9 2.7-.4 2.5 .2 1.5 .5 .9 .7 .7 .9 .3 1.1-.1 1.2-.5 1.1-.8 1-1.2 .6-1 .2-1.3 0-1.3-.3-1.1-.6-.9-.7-.6-.8-.3-.8-.1-1 .3-.8 .6-.7 1.7-1.2 2.8-1 2.9-.4 2.7 .2 2.4 .8 1.5 1.3 .5 1 .2 .9-.3 2-.8 1.5-1.4 1.2-1.6 .7-1.8 .1-2-.5-1.8-1-1.4-1.4-.8-1.7-.1-.8 .2-.9 1.3-1.6 2.3-1.3 3.2-1.1 3.7-.7 3.6-.1 3 .5 1.9 .8 1.5 1.2 .9 1.4 .3 1.7-.2 2.1-.8 2.3-1.4 2.1-1.4 1.3-2.2 1.1-2.4 .3-1.2-.2-1.7-.6-2.5-1.6-2.5-2.6-.9-1.4-.5-1.2-.2-1.2 .2-1.2 .4-.9 1-1.1 2.6-1.7 4.4-1.9 14.5-4.2 5.3-1.8 4.1-1.7 4.8-2.7 5.8-4.2 5.3-4.7 6.7-6.9 11.9-13 3.7-3.7 3.9-3.6 4.2-3.4 4.4-2.7 4.6-1.8 4.7-.5 4.6 1.1 4.5 2.8 4.3 4.4 3.8 5.5 3.4 6.4 2.9 6.5 2.4 6.4 3.5 10.9 2.1 7.8 1.5 8 .1 2.3-.2 1-.2 .3-.4-.1-.8-.9-.1-1.4 .4-.7 .6-.5 1.6-.6 1.7 .2 1.4 .7 .6 .6 .2 .6-.3 1.3-1.1 1.2-1.9 .9-2.3 .4-2.2-.2-1.8-.9-.7-.8-.3-.7-.2-.8 .2-.9 .4-.8 .6-.5 .8-.5 1.1-.2 1 0 1.2 .3 1.1 .5 .7 .6 .5 .8 0 .8-.2 .9-.6 .7-1.9 1.4-2.5 .8-2.8 .1-2.3-.7-1-.7-.8-1-.4-1.2 0-1.1 .4-1.1 .8-.9 1.1-.6 1.3-.3 1.3 0 1.5 .4 1.2 .6 1 .8 .5 .9 .1 1-.2 .9-.7 1-1 .9-1.2 .7-3.2 1-3.3 .3-1.7-.3-1.2-.4-1.4-.8-1-1.1-.6-1.5-.1-1.5 .5-1.5 1.1-1.3 1.1-.8 1.7-.5 1.8 0 1.7 .4 1.7 .9 1.5 1.2 .7 1.2 .2 1.1-.3 1.2-.8 1.2-1.3 1.1-1.7 1-2 .8-2.4 .7-2.6 .4-2.2 .1-2.3-.2-1.7-.4-1.9-.9-1.5-1.3-.8-1.6-.4-1.8 .2-2 .7-2 1.4-1.9 1.4-1.2 2.2-1 1.2-.2 1.8 0 2.9 .8 2.4 1.5 2.3 2.3 .8 1.2 .5 1.1 .1 1-.1 1.1-.5 1-.9 1.2-2.7 2-4.3 2.1-4.5 1.6-10.8 3.4-5.4 2.2-4.3 2.1-4.9 3.3-2.9 2.3-3.2 3-5.7 6-4.5 5.3-11.8 14.5-7.5 8.4-4.1 3.8-4.4 3.2-4.6 2.2-4.7 .8-4.6-1-4.6-2.8-4.3-4.7-3.9-6.1-3.5-7.1-2.9-7.4-2.5-7.3-3.6-12.5-2.1-9-1.7-9.5-.1-2.6 .2-.9 .3-.3 .4 .1 .7 .9 0 1.4-.7 1.1-1.2 .7-1.4 .1-1.5-.4-1.2-1.1-.4-1.2 .4-1.1 1.7-1.2 2.5-.8 2.4 0 2.2 .8 .8 .6 .5 .7 .3 .9-.2 1-.4 .9-.5 .6-.9 .5-1 .3-1.1 0-1.2-.3-.9-.5-.8-.7-.5-.8-.2-.9 .3-.8 .4-.7 1.8-1.2 2.7-.8 2.8-.1 2.4 .6 1 .6 .8 .9 .4 1 0 1.1-.4 1.2-.8 1.1-1.1 .7-1.2 .3-1.3 0-1.3-.3-1.3-.7-1-.9-.6-.9-.2-1.1 .1-.8 .6-.9 1-.8 1.3-.7 3.2-1 3.4-.2 2.9 .6 1.3 .7 1.1 1 .6 1.2 .1 1.5-.5 1.7-1 1.5-1.2 .9-1.7 .6-1.4 0-1.7-.4-1.8-.9-1.4-1.1-.9-1.3-.4-1.3 .2-1.1 .7-1.2 1.2-1 1.9-1 2.1-.8 2.3-.6 2.6-.4 2.3-.1 2.2 .2 2.1 .5 1.9 .8 1.4 1.3 .8 1.5 .2 1.7-.3 2.2-.9 2.3-1.5 2-2 1.6-2.3 .8-2.4-.1-2.8-1.2-2.7-2.1-2.1-2.5-.6-1.3-.3-1.2 0-1.1 .3-.9 1.4-1.7 2.8-1.8 4-1.6 15.2-4.4 5.4-1.9 4.2-1.9 3.6-2 5.7-4.1 5.2-4.6 6.6-6.6 15.1-16.4 3.9-3.7 4.1-3.4 4.3-3 4.6-2.1 4.6-.9 4.7 .6 4.6 2.3 4.3 3.9 4 5.3 3.6 6.1 3 6.6 2.6 6.4 2.1 6 2.9 9.9 1.6 6.7 1.2 6.7 0 2-.3 .7-.6 .1-.6-.8-.2-1.3 .6-1.1 1.1-.7 1.4-.2 1.5 .3 1.3 .8 .6 1.1-.3 1.2-.5 .7-.9 .7-2.2 .9-2.4 .2-2.3-.5-.9-.6-.7-.7-.5-1-.1-.9 .3-.9 .5-.7 .8-.6 1-.4 1-.1 1.3 .2 1.1 .4 .9 .7 .5 .7 .3 .6-.1 .9-.4 .8-.7 .8-.9 .6-2.3 1-2.7 .3-2.5-.4-1.4-.7-.9-.8-.6-1.1-.2-1.2 .3-1.1 .6-1 1-.7 1.2-.5 1.3-.1 1.5 .2 1.4 .6 1 .7 .7 .9 .3 .9-.1 1-.5 .9-.9 .9-1 .8-3 1.2-3.3 .4-3-.4-1.8-.8-1.1-1.1-.7-1.4-.2-1.5 .4-1.5 .9-1.4 1.3-1 1.4-.5 1.7-.1 1.8 .3 1.8 .8 1.4 1 .9 1.1 .4 1.2-.2 1.4-.7 1.2-1.2 1.1-1.6 1-2 .9-2.3 .7-2.5 .5-2.2 .1-2.3-.1-1.7-.3-2-.8-1.7-1.2-.9-1.4-.5-1.8-.1-2 .6-2 1.2-1.9 1.8-1.7 2.1-1.1 1.2-.2 1.8 0 2.9 .8 2.5 1.4 2.4 2.3 .8 1.2 .5 1.1 .1 1-.1 1.1-.4 1-1 1.2-2.6 2.1-4.3 2.1-4.4 1.6-11.6 3.6-5.5 2.3-4.4 2.3-5.1 3.6-4.6 4-5.5 5.7-4.5 5.2-11.5 14.2-7.3 8.3-4 4-4.4 3.4-4.5 2.6-4.6 1.2-4.7-.4-4.6-2.3-4.4-4.1-4-5.7-3.7-6.9-3.1-7.4-2.6-7.3-3.9-13-2.3-9.6-1.9-10.1-.1-2.9 .2-1.1 .3-.3 .4 .1 .7 .9 .1 1.2-.6 1.1-1 .7-1.4 .3-1.6-.3-1.2-.8-.6-1.1 .1-1.2 .6-.8 .9-.6 2.4-.9 2.6-.1 2.2 .6 .9 .6 .6 .7 .3 .9 0 .9-.3 .9-.5 .7-.9 .6-1 .3-1 .1-1.3-.2-.9-.4-.9-.7-.5-.9-.2-.7 0-.8 .5-.8 1.7-1.3 2.6-.8 2.8-.2 2.4 .5 1.3 .7 .7 .8 .5 1 0 1.2-.4 1.2-.7 1-1.1 .7-1.3 .4-1.3 0-1.2-.3-1.4-.6-1-.9-.5-.8-.3-1.1 .1-.9 .6-.9 .9-.8 1.3-.8 3.2-1 3.4-.2 2.9 .5 1.4 .7 1 1 .7 1.2 .1 1.5-.5 1.7-1 1.5-1.1 .9-1.7 .6-1.7 .1-1.7-.4-1.8-1-1.3-1.2-.9-1.2-.3-1.3 .2-1.1 .9-1.2 1.2-1 2-1 2-.8 2.4-.5 2.6-.4 2.3 0 2.2 .1 2.1 .6 1.8 .9 1.4 1.4 .6 1.4 .2 1.8-.4 2.3-1 2.2-1.6 2.1-2.1 1.4-2.3 .6-2.4-.2-2.8-1.3-2.2-1.8-2.1-2.5-.9-2.2-.1-1.2 .2-.9 1.2-1.7 2.6-1.8 4.3-1.9 16-4.6 5.5-2 4.3-2 5.1-3.1 4.5-3.5 5.5-5 4.4-4.5 11.4-12.4 7.2-7.4 4-3.5 4.3-3.2 4.5-2.4 4.6-1.3 4.7 .2 4.6 1.7 4.5 3.5 4.1 4.9 3.6 5.9 3.2 6.5 2.8 6.5 3.9 11.7 2.5 8.7 1.9 9.3 .2 2.8-.2 1.2-.2 .3-.3 .1-.8-.9-.2-1.2 .5-1.1 1.1-.8 1.6-.2 1.7 .4 1.2 .9 .4 1.1-.4 1.2-1.4 1.3-2.3 .9-2.4 .1-2.2-.6-.9-.6-.7-.8-.4-.9 0-.9 .2-.9 .6-.7 .8-.6 1-.3 1.1 0 1.2 .2 1.1 .4 .9 .6 .5 .8 .2 .6-.2 .9-.4 .8-1.6 1.4-2.4 .9-2.7 .3-2.5-.4-1.3-.8-.9-.9-.5-1.1-.1-1.2 .2-1 .7-1 1-.7 1.3-.4 1.3-.1 1.5 .3 1.3 .5 1 .8 .7 .9 .2 .9-.2 1.1-.5 .8-.9 .9-1.1 .8-3 1.1-3.4 .4-2.9-.5-1.7-.9-1.1-1.1-.6-1.4-.2-1.5 .5-1.5 .9-1.4 1.1-.8 1.7-.5 1.8-.1 1.7 .4 1.8 .8 1.3 1 .9 1.2 .3 1.1-.3 1.4-.7 1.2-1.2 1.1-1.7 1-2 .9-2.4 .6-2.5 .5-2.3 .1-2.2-.1-1.7-.4-2-.8-1.5-1.4-.9-1.4-.5-1.8 .1-2 .7-2 1.3-1.9 1.8-1.6 2.3-1 1.1-.2 1.9 .1 2.8 .9 2.4 1.5 2.2 2.3 .8 1.2 .4 1.1 .1 1-.2 1.1-.4 1-.8 1-2.6 2-4.2 2.1-4.4 1.6-11.5 3.6-5.5 2.3-4.3 2.2-5 3.4-4.6 3.9-5.4 5.6-4.4 5-14.6 17.9-3.7 4.2-4 4-4.2 3.7-4.5 2.8-4.6 1.7-4.7 .1-4.7-1.7-4.4-3.6-4.2-5.3-3.7-6.5-3.3-7.3-2.8-7.4-2.3-7.1-3.2-11.9-1.9-8.3-1.5-8.6 0-2.3 .2-.8 .6-.1 .8 .8 .1 1.1-.4 1-.9 .9-1.1 .4-1.5-.1-1.2-.5-1-.8-.4-1 .1-.9 .6-.8 .9-.7 1.1-.5 1.6-.4 1.4-.1 2.6 .3 1 .5 .7 .6 .6 .8 .2 .9-.2 1.1-.6 .9-.7 .7-1 .4-1 .1-1.1-.1-1.2-.4-.9-.7-.6-.6-.3-.9 0-.8 .3-.8 1.6-1.4 2.5-.9 2.8-.2 2.4 .3 1.2 .6 .8 .5 .5 .8 .4 .8 0 1.1-.2 1-.5 .9-.8 .7-.9 .5-1 .3-2.1-.1-2-.9-.8-.8-.6-.8-.3-1.3 .4-1.3 1.2-1.1 1.8-1 2.3-.7 2.6-.3 2.4 .1 1.9 .5 1.6 .9 .9 1.1 .5 1.3-.1 1.6-.7 1.7-1.1 1.3-1.2 .8-1.8 .4-1.7-.1-1.7-.6-1.6-1-1.4-1.4-.6-1.3 0-1.4 .5-1.1 1.2-1.2 1.7-1 2.4-.9 2.7-.7 3-.4 2.7 0 2.2 .3 2 .6 1.4 .8 1.1 1.2 .7 1.4 .2 1.8-.2 1.6-.6 1.7-.9 1.7-1.2 1.5-1.5 1.2-2.3 .9-1.2 .1-1.8-.2-2.7-1.2-2.3-1.8-2.1-2.5-.7-1.3-.4-1.3 0-1 .3-1 1.3-1.7 2.7-1.8 3.9-1.6 4.3-1.4 10.7-3 5.3-1.8 4.1-1.8 4.8-2.7 5.8-4.2 5.4-4.8 6.8-7 12-13.1 3.6-3.7 4-3.6 4.2-3.3 4.4-2.6 4.6-1.7 4.7-.3 4.7 1.2 4.5 3 4.2 4.5 3.8 5.6 3.3 6.4 2.9 6.6 2.4 6.3 3.3 10.7 2 7.7 1.5 7.8 .1 2.3-.2 1-.3 .2-.3-.1-.7-.7-.2-1.2 .2-.8 .8-.8 1.1-.5 1.2-.1 1.4 .3 1.1 .6 .6 .9 .1 .8-.3 .8-.7 .9-.9 .7-2.6 .8-1.4 .1-1.4-.1-1.4-.4-.9-.6-.7-.8-.4-.9-.1-1 .3-.8 .6-.8 1-.6 1-.3 1 0 1.3 .2 1 .5 .8 .6 .5 .8 .2 .8-.3 .9-1.2 1.4-2 1.1-2.6 .6-2.5-.1-1.6-.5-1.1-.7-.9-1.1-.4-1.2 0-1.1 .4-1.1 .8-.9 1.4-.7 1.3-.2 1.3 .1 1.4 .4 1.2 .7 .9 .8 .4 .9 .1 1-.3 .8-.7 1-.9 .8-2.8 1.3-3.3 .7-3-.2-1.9-.6-1.5-1.1-.8-1.3-.4-1.5 .2-1.6 .7-1.4 1.3-1.1 1.6-.7 1.7-.2 1.8 .2 1.8 .8 1.5 1 .9 1.1 .5 1.1-.1 1.2-.6 1.3-1 1.1-1.5 1-1.9 1-2.2 .7-2.5 .6-2.2 .2-2.3 0-1.7-.3-2.1-.6-1.8-1.1-1.3-1.6-.6-1.7 0-2.4 .6-2.1 1.3-1.9 1.8-1.6 2.2-1 1.2-.2 1.8 0 2.8 .9 2.8 1.8 2.2 2.2 .7 1.2 .4 1.1 0 1-.2 1.1-.6 1-1 1.2-2.8 2-4 1.8-4.5 1.6-9.9 3.2-5.4 2-4.1 2-4.7 2.9-5.8 4.7-5.3 5.4-6.7 7.7-11.8 14.6-3.7 4.2-3.9 4.1-4.1 3.8-4.4 3.2-4.6 2.1-4.7 .6-4.7-1.2-4.5-3-4.3-4.8-3.8-6.3-3.5-7.1-2.9-7.4-2.4-7.2-3.5-12.4-2.1-8.9-1.6-9.2-.1-2.6 .2-.8 .4-.3 .3 .1 .7 .9 0 1.4-.8 1.2-1.5 .7-1.6-.1-1.5-.7-.6-.7-.3-.6 .1-1.2 1.1-1.3 2-.9 2.3-.3 2.4 .2 1.7 .9 .7 .7 .3 .9 0 .9-.2 .8-.4 .6-.8 .7-1.8 .6-1 0-1.2-.4-.9-.5-.7-.7-.4-.8-.2-.8 .3-.8 .5-.8 2-1.2 2.7-.7 2.8-.1 2.3 .7 1 .7 .7 .9 .3 1-.1 1.2-.4 1.2-.7 .8-1.1 .7-1.3 .3-1.3 0-1.2-.3-1.3-.7-1-.9-.6-1-.2-1 .1-.8 .6-.9 1-.8 1.3-.7 3.2-1 3.7-.2 2.9 .7 1.3 .8 1 1 .4 1.3 0 1.6-.6 1.7-1.1 1.4-1.2 .8-1.8 .4-1.4 0-1.7-.5-1.7-1-1.3-1.2-.8-1.2-.3-1.3 .2-1.1 .9-1.2 1.5-1.1 1.8-.9 2.1-.7 2.4-.6 2.6-.3 2.3 0 2.2 .2 2 .5 1.8 1 1.1 1.1 .8 1.4 .2 1.7-.3 2.2-.9 2.3-1.5 2.1-1.5 1.2-2.3 1-2.4 .1-1.2-.3-1.7-.7-2.4-1.7-2.3-2.6-.8-1.3-.5-1.3-.1-1.1 .1-1 .5-.9 .9-1 2.7-1.8 4.3-1.8 15.2-4.5 5.5-1.9 4.2-1.9 4.9-2.9 6.1-4.6 5.7-5.2 16.2-17.5 7.5-7.4 4.1-3.4 4.4-2.9 4.5-2 4.7-.8 4.7 .8 4.5 2.4 4.3 4.1 4 5.3 3.5 6.2 3 6.6 2.5 6.5 2 5.9 2.9 9.7 1.6 6.5 1.1 6.6 0 1.9-.3 .8-.6 0-.7-.9-.1-1.2 .7-1.2 1.1-.6 1.6-.2 1.7 .5 1.1 .9 .3 1.2-.5 1.2-1.6 1.2-2.3 .8-2.4 .1-2.2-.7-.8-.7-.5-.6-.4-1 0-.9 .3-.9 .6-.7 .8-.5 1-.3 1.1 0 1.2 .2 1.1 .4 .8 .7 .5 .7 .2 .7-.2 .9-.4 .7-1.7 1.5-2.4 .9-2.7 .2-2.5-.5-1.3-.7-.8-1-.5-1.1-.1-1.1 .3-1.1 .7-1 1-.7 1.3-.3 1.3-.1 1.5 .3 1.3 .6 1 .8 .6 .9 .2 .9-.1 .9-.6 1-1 .9-1.1 .7-3.1 1.2-3.3 .3-3-.5-1.6-.9-1.1-1.2-.6-1.4-.1-1.6 .5-1.4 1-1.4 1.2-.7 1.6-.6 1.8 0 1.7 .4 1.8 .9 1.3 1 .8 1.1 .3 1.2-.2 1.2-.7 1.2-1.2 1.1-1.6 1-2 .9-2.3 .7-2.6 .5-2.2 .1-2.2-.1-1.8-.3-1.9-.8-1.7-1.3-.9-1.4-.5-1.7 0-2 .5-2 1.3-2 1.7-1.6 2.2-1.1 1.2-.2 1.8 0 2.9 .8 2.8 1.8 2.2 2.2 .8 1.2 .3 1.1 .1 1.1-.2 1-.5 1-1 1.2-2.8 2-3.9 1.9-4.5 1.6-10.7 3.4-5.4 2.1-4.2 2.1-4.9 3.2-4.4 3.6-5.2 5.2-6.5 7.4-15.1 18.5-3.9 4.1-4.1 4-4.3 3.3-4.5 2.5-4.7 1.1-4.7-.6-4.6-2.5-4.3-4.3-4-5.9-3.6-6.9-3.1-7.4-2.5-7.3-3.8-12.9-2.3-9.4-1.8-9.9-.1-2.8 .2-1 .3-.3 .4 .1 .7 .9 0 1.3-.7 1.2-1.2 .7-1.4 .1-1.5-.4-1.2-1-.4-1.3 .4-1.1 1.6-1.2 2.6-.7 2.4-.1 2.2 .7 .8 .6 .5 .8 .3 .9-.1 .9-.5 .9-.5 .6-.9 .6-1 .3-1.1 0-1.2-.3-.9-.5-.8-.7-.5-.8-.2-.9 .2-.8 .5-.6 1.8-1.3 2.7-.8 2.8-.1 2.3 .6 1.1 .6 .8 .8 .4 1 0 1.2-.4 1.2-.8 1-1 .8-1.3 .3-1.3 0-1.3-.3-1.3-.6-1-.9-.5-.8-.3-1.1 .1-.9 .6-.9 1-.9 1.3-.7 3.1-1 3.4-.2 2.9 .5 1.6 .9 1 1 .5 1.4 0 1.5-.6 1.7-1.1 1.4-1.1 .8-1.7 .5-1.5 0-1.7-.5-1.7-.9-1.4-1.2-.8-1.3-.3-1.2 .2-1.1 .9-1.3 1.2-.9 2-1.1 2.1-.7 2.4-.5 2.6-.4 2.2 0 2.2 .2 2.1 .5 1.8 .9 1.4 1.4 .6 1.5 .2 1.8-.4 2.2-1 2.3-1.7 2-1.5 1.1-2.3 .8-2.4 0-1.2-.3-1.6-.8-2.4-1.7-2.2-2.6-.7-1.3-.4-1.3-.1-1.1 .2-.9 1.2-1.8 2.7-1.7 4.3-1.9 15.9-4.7 5.6-2 4.3-2 5.1-3.1 4.6-3.5 5.5-5.1 4.5-4.6 11.4-12.5 7.3-7.3 4-3.6 4.3-3 4.5-2.3 4.7-1.2 4.7 .3 4.6 1.9 4.4 3.6 4 5 3.7 6 3.1 6.5 2.7 6.6 2.2 6.1 3 10.1 1.8 7 1.3 7.1 0 2.1-.3 .8-.2 .2-.4-.1-.6-.8-.2-1.3 .6-1.1 1.2-.7 1.6-.2 1.6 .4 1.2 1 .3 1.1-.5 1.2-1.5 1.3-2.3 .8-2.4 .1-2.2-.7-1.4-1.3-.4-.9 0-1 .2-.8 .6-.7 .9-.6 .9-.3 1.1 0 1.3 .2 1 .4 .9 .6 .5 .8 .2 .6-.2 .9-.4 .8-1.7 1.4-2.3 .9-2.8 .3-2.4-.4-1.4-.8-.8-.9-.5-1.1-.1-1.2 .3-1.1 .6-.9 1.1-.7 1.2-.4 1.3-.1 1.5 .3 1.3 .6 1.1 .7 .6 .9 .2 .9-.2 1.1-.5 .8-.9 1-1.1 .7-3.1 1.1-3.3 .4-3-.5-1.7-.9-1-1.1-.7-1.4-.1-1.6 .5-1.5 1-1.3 1.1-.8 1.6-.5 1.8-.1 1.7 .4 1.8 .8 1.5 1.3 .8 1.1 .2 1.1-.3 1.2-.7 1.2-1.3 1.1-1.6 1-2.1 .9-2.3 .7-2.6 .4-2.2 .1-2.2-.1-1.7-.4-2-.8-1.6-1.4-.9-1.5-.4-1.8 .1-1.9 .7-2.1 1.3-1.9 1.4-1.2 1.6-.9 1.1-.4 2.4-.2 2.9 .8 2.5 1.4 2.4 2.3 .9 1.3 .5 1.1 .1 1-.1 1.1-.4 1-.9 1.2-2.6 2-4.3 2.1-4.4 1.6-11.5 3.7-5.5 2.2-4.3 2.3-5.1 3.4-4.5 3.9-5.5 5.7-4.4 5.1-14.7 18-3.8 4.2-4 4-4.3 3.6-4.5 2.8-4.6 1.5-4.7-.1-4.6-1.9-4.4-3.7-4.2-5.5-3.7-6.6-3.2-7.4-2.7-7.4-4.1-13.3-2.4-9.9-2-10.6-.2-3.1 .1-1.1 .4-.4 .4 .1 .7 .8 .1 1.1-.4 1.1-.7 .7-1.2 .5-1.2 0-1.4-.4-.9-.7-.6-.9 0-1 .6-1.1 1.3-.9 1.6-.6 2.1-.2 1.9 .2 1.7 .6 1.1 1.1 .3 .8 0 .8-.5 1.5-1.3 1-1.9 .3-1-.2-1.1-.4-.9-.7-.6-.8-.2-.8 0-.8 .5-.8 .7-.7 2.5-1.2 3-.4 2.7 .3 2 1 .7 .9 .4 .8 0 1.1-.2 1-.7 1.1-.8 .7-.9 .4-1.3 .3-1.3-.1-1.3-.4-1.2-.8-.9-.9-.5-1-.1-1 .3-.9 .8-.9 1.1-.8 1.5-.7 1.7-.5 2-.3 3.3 0 1.6 .4 1.2 .5 1.1 .9 .8 1.2 .2 1.4-.2 1.4-.8 1.6-.9 1.1-1.3 .7-1.7 .4-1.8-.1-1.6-.6-1.7-1-1.1-1.2-.7-1.3-.2-1.3 .4-1 1-1.2 1.6-1.1 1.8-.9 2.6-.8 2.5-.4 2.7-.2 2.2 0 2.2 .4 1.6 .5 1.7 1.1 .9 1.2 .6 1.6 .1 1.9-.6 2.2-.7 1.7-1.6 2.1-1.5 1.1-2.3 .9-2.4 0-1.2-.3-1.7-.7-2.3-1.7-2.3-2.6-.8-1.3-.4-1.3-.1-1.1 .2-.9 .4-.9 .8-.9 2.6-1.8 4.2-1.8 4.4-1.5 11.5-3.2 5.5-1.9 4.3-2 5-3 4.5-3.4 5.4-4.9 6.8-7 12.1-13.2 3.7-3.7 4-3.6 4.2-3.3 4.5-2.6 4.6-1.5 4.7-.2 4.6 1.4 4.5 3.1 4.2 4.7 3.7 5.7 3.3 6.5 2.8 6.5 2.4 6.3 3.3 10.6 1.9 7.5 1.4 7.6 .1 2.2-.2 1-.3 .2-.3-.1-.8-.9-.1-1.3 .7-1.1 1.2-.7 1.6-.1 1.5 .4 1.1 .9 .4 1.2-.5 1.2-1.5 1.3-2.3 .8-2.4 .1-2.2-.7-1.4-1.2-.4-.9 0-1 .2-.9 .6-.7 .8-.6 1-.3 1 0 1.3 .1 1.1 .5 .8 .6 .6 .7 .2 .7-.2 .9-.3 .7-1.7 1.5-2.3 .9-2.8 .3-2.4-.4-1.4-.7-.9-.9-.5-1.1-.1-1.2 .2-1.1 .7-1 1-.7 1.2-.4 1.3-.1 1.5 .3 1.4 .5 1 .8 .7 .9 .2 .9-.2 1-.4 .9-1 .9-1 .7-3.1 1.2-3.3 .4-3-.5-1.7-.8-1.1-1.1-.6-1.4-.2-1.6 .4-1.5 1-1.3 1.1-.8 1.6-.6 1.8-.1 1.7 .4 1.8 .8 1.4 1 .8 1.1 .4 1.2-.3 1.4-.7 1.2-1.2 1.1-1.6 1-2 .8-2.4 .7-2.5 .5-2.3 .1-2.2-.1-1.7-.4-2-.8-1.6-1.3-.9-1.4-.5-1.8 .1-2 .6-2 1.3-2 1.8-1.6 2.2-.9 1.2-.3 1.8 .1 2.9 .9 2.4 1.5 2.3 2.3 .8 1.2 .4 1.1 .1 1-.2 1.1-.4 1-.7 .9-2.6 2.1-4.2 2.1-4.4 1.6-11.5 3.6-5.4 2.2-4.3 2.2-5 3.3-2.9 2.4-3.2 3-5.8 6.1-16.6 20.2-3.6 4.2-4 4.1-4.2 3.8-4.4 3-4.6 2-4.7 .4-4.6-1.3-4.5-3.2-4.3-5-3.8-6.3-3.4-7.2-2.9-7.5-2.3-7.1-3.5-12.2-2-8.8-1.1-5.5-.5-4.5 0-1.8 .3-.6 .4-.1 .5 .3 .4 .6 0 1.3-.6 1.2-1.2 .7-1.4 .2-1.5-.4-1.2-1-.5-1.2 .4-1.1 .6-.7 .9-.6 2.3-.7 2.7-.1 2.1 .7 .9 .6 .6 .7 .2 .9 0 .9-.4 .9-.5 .7-.9 .5-1 .4-1 0-1.3-.3-.9-.4-.8-.7-.6-.8-.2-.9 .2-.7 .4-.8 1.8-1.2 2.6-.9 2.8-.1 2.4 .5 1.1 .6 .8 .8 .5 1 0 1.1-.3 1.3-.7 1-1.1 .8-1.2 .4-1.3 0-1.3-.2-1.2-.5-1.1-.9-.7-.9-.3-1.1 .1-.9 .5-.9 .9-.9 1.3-.7 3.2-1 3.6-.3 2.9 .6 1.4 .7 1 1 .6 1.3 .1 1.5-.6 1.7-1 1.4-1.1 .9-1.7 .6-1.5 0-1.7-.4-1.8-.9-1.4-1.2-.8-1.2-.4-1.3 .2-1.1 .8-1.3 1.2-.9 1.9-1.1 2.1-.7 2.3-.6 2.6-.4 2.2 0 2.3 .1 2.1 .5 1.8 .9 1.5 1.3 .7 1.4 .2 1.8-.3 2.2-1 2.3-1.5 2-1.5 1.2-2.2 1-2.4 0-1.2-.2-1.7-.7-2.4-1.7-2.3-2.6-.8-1.4-.5-1.2-.1-1.1 .1-1 .5-.9 .9-1 2.7-1.8 3.9-1.7 4.3-1.4 11.4-3.2 5.5-1.9 4.2-1.9 5-3 6-4.6 5.8-5.3 16.3-17.7 7.5-7.4 4.2-3.4 4.4-2.8 4.6-1.9 4.7-.6 4.6 .9 4.6 2.6 4.2 4.2 3.9 5.5 3.5 6.3 3 6.6 2.4 6.4 3.6 11 2.1 7.9 1.6 8.3 .1 2.4-.2 1-.2 .2-.4 0-.8-.9-.1-1.2 .6-1.1 1.1-.7 1.6-.2 1.7 .4 1.1 .9 .4 1.2-.4 1.2-1.5 1.2-2.3 .9-2.4 .1-2.2-.6-.9-.6-.7-.8-.3-.8-.1-1 .3-.8 .5-.8 .8-.5 1-.4 1.1-.1 1.2 .2 1.1 .5 .9 .6 .6 .7 .2 .8-.2 .9-.4 .7-1.7 1.5-2.4 .9-2.8 .2-2.4-.5-1.3-.8-.9-.9-.4-1.1-.1-1.2 .3-1 .7-1 1-.7 1.3-.3 1.3-.1 1.3 .2 1.3 .6 1.1 .7 .7 .9 .2 .9-.1 1.1-.5 .8-.9 1-1.1 .7-3 1.2-3.3 .4-3-.4-1.7-.9-1.1-1-.7-1.4-.2-1.6 .4-1.5 .9-1.3 1.4-1 1.3-.5 1.8-.1 1.7 .3 1.8 .8 1.4 1.1 .9 1.1 .4 1.1-.2 1.4-.7 1.2-1.2 1.1-1.6 1-2 .9-2.3 .7-2.6 .5-2.2 .1-2.3-.1-1.7-.3-2-.8-1.6-1.3-.9-1.4-.6-1.8 .1-1.9 .6-2.1 1.2-1.9 1.8-1.7 2.2-1 1.1-.2 1.9 0 2.8 .8 2.4 1.5 2.4 2.3 .8 1.2 .5 1.1 .1 1-.1 1.1-.5 1-.9 1.2-2.7 2-4.3 2.1-4.4 1.6-10.8 3.4-5.4 2.1-4.2 2.2-5 3.2-2.8 2.3-3.2 2.9-5.6 5.9-4.6 5.3-11.6 14.4-7.4 8.3-4.2 3.9-4.3 3.3-4.6 2.3-4.7 1-4.6-.8-4.6-2.6-4.3-4.5-4-6-3.5-7-3-7.4-2.6-7.3-3.7-12.7-2.2-9.3-1.7-9.6-.1-2.8 .2-.9 .3-.3 .4 .1 .7 .9 .1 1.2-.7 1.2-1 .7-1.4 .2-1.5-.3-1.2-.8-.6-1.1 .1-1.2 .6-.8 .9-.6 2.4-.9 2.7-.1 2.2 .6 .8 .6 .6 .8 .3 .8 0 .9-.4 1-.5 .6-.8 .6-1 .3-1.1 .1-1.2-.2-.9-.5-.9-.7-.5-.8-.3-.9 .1-.6 .5-.8 1.7-1.3 2.6-.9 2.8-.1 2.4 .5 1.1 .6 .8 .8 .5 1 .1 1.1-.3 1.2-.7 1.1-1 .8-1.2 .4-1.4 .1-1.2-.3-1.2-.5-1.1-.8-.8-1-.3-1 .1-1 .5-.9 .9-.8 1.3-.8 3.1-1 3.3-.3 3 .4 1.6 .8 1.1 1 .6 1.3 .1 1.5-.5 1.7-1 1.5-1.2 .9-1.6 .6-1.5 0-1.7-.3-1.8-.9-1.4-1.2-.9-1.3-.4-1.2 .1-1.2 .8-1.2 1.2-1 1.9-1 2-.8 2.4-.6 2.6-.4 2.2-.1 2.2 .2 2.2 .5 1.8 .8 1.5 1.3 .7 1.4 .3 1.7-.3 2.2-.9 2.3-1.4 2.1-2 1.6-2.4 .7-2.4 0-2.8-1.1-2.7-2.1-2-2.6-.7-1.3-.3-1.2 0-1 .3-1 1.4-1.7 2.8-1.8 3.9-1.6 15.2-4.4 5.4-1.9 4.2-1.9 3.6-2 5.6-3.9 5.2-4.6 6.5-6.5 15-16.3 3.8-3.7 4.1-3.5 4.4-3 4.5-2.2 4.7-1.1 4.6 .5 4.6 2.1 4.4 3.7 4 5.1 3.6 6.1 3.1 6.6 2.6 6.5 2.2 6 3 10 1.7 6.9 1.2 6.9 0 2-.3 .8-.2 .2-.4-.1-.6-.8-.2-1.1 .4-1.1 .9-.7 1.4-.4 1.4 .1 1.4 .6 .8 .9 .2 1.1-.3 .8-.7 .7-2 1.2-2.5 .5-1.5 0-1.1-.3-1-.5-.9-.7-.5-.9-.3-.9 .1-.9 .5-.8 .6-.7 1.2-.5 2.1-.1 1.1 .4 1 .5 .7 .7 .3 .8 0 .9-.3 .7-.7 .9-.8 .6-2.2 1-2.7 .4-2.5-.3-1.5-.6-.9-.8-.7-1.1-.2-1.1 .1-1.2 .7-1.2 1-.7 1.1-.5 1.4-.1 1.3 .1 1.4 .6 1.1 .7 .7 .8 .4 .9-.1 1-.4 .9-.8 1-1 .7-2.9 1.3-3.3 .5-3-.3-1.8-.7-1.2-1-.8-1.3-.3-1.6 .2-1.5 .8-1.4 1.3-1.1 1.6-.7 1.8-.1 1.7 .3 1.9 .8 1.6 1.2 .8 1.1 .3 1.1-.3 1.5-.8 1.1-1.2 1.1-1.7 1-2 .9-2.3 .7-2.6 .4-2.2 .1-2.3-.1-1.7-.4-2.3-1.1-1.5-1.5-.8-2-.2-1.9 .6-2.5 1.2-2 1.7-1.6 2.2-1.1 2.4-.4 2.4 .4 2.6 1.3 2.4 1.9 1.8 2.2 .6 1.9-.3 1.8-1.1 1.7-2.3 1.8-3.7 1.9-4.8 1.8-13.8 4.5-4.9 2.1-4.4 2.6-5.4 3.9-3.1 2.8-3.5 3.6-6.5 7.2-14.8 18.2-3.8 4.2-4 4-4.3 3.5-4.5 2.7-4.6 1.4-4.7-.3-4.6-2-4.5-4-4-5.6-3.7-6.7-3.2-7.4-2.7-7.4-2.2-6.9-3.1-11.6-1.8-8-1.3-8.1 0-2.2 .3-.7 .3-.2 .4 .2 .6 .7 .1 1.3-.5 1-1 .8-1.3 .3-1.4-.2-1.4-.7-.7-.9-.2-1.1 .4-.9 .7-.6 2.1-1 2.8-.4 2.5 .4 1 .5 .7 .7 .4 .8 .2 .9-.3 1-.5 .8-.8 .7-.9 .4-1.1 .1-1-.1-1.2-.4-.9-.7-.6-.7-.3-.8 0-.9 .4-.8 1.6-1.3 2.5-.9 2.7-.2 2.5 .4 1.3 .6 .9 .8 .5 1 .1 1.1-.2 1.2-.7 1.1-1 .8-1.3 .5-1.3 .1-1.3-.3-1.1-.5-1.2-.8-.7-.9-.4-1.1 .1-.9 .4-.9 .9-.9 1.3-.8 3.1-1 3.3-.3 3 .4 1.6 .8 1.1 1 .7 1.2 .1 1.5-.5 1.7-.9 1.5-1.2 .9-1.6 .6-1.4 .1-1.8-.3-1.8-.9-1.4-1.1-1-1.3-.4-1.3 .1-1.1 .8-1.3 1.1-.9 1.9-1.1 2-.7 2.4-.6 4.8-.6 2.2 .2 2.1 .4 1.9 .8 1.5 1.3 .8 1.4 .3 1.7-.2 2.1-.9 2.3-1.4 2.1-2 1.7-2.3 .8-1.2 .1-1.8-.2-2.7-1.3-2.3-1.7-2.1-2.6-.6-1.3-.4-1.2 0-1.1 .3-.9 1.3-1.7 2.8-1.8 3.9-1.7 4.4-1.4 10.6-2.9 5.4-1.9 4.1-1.8 4.9-2.7 5.8-4.4 5.5-4.9 4.4-4.5 14.7-15.9 3.7-3.7 4-3.6 4.2-3.2 4.5-2.5 4.6-1.4 4.7 0 4.7 1.6 4.4 3.2 4.1 4.8 3.8 5.8 3.2 6.5 2.8 6.6 2.3 6.2 3.2 10.4 1.9 7.4 1.4 7.4 0 2.2-.2 .9-.4 .2-.4-.2-.6-.8 0-1.4 .3-.7 .6-.5 1.6-.6 1.8 .2 1.4 .7 .5 .7 .2 .5-.3 1.3-1.2 1.3-1.9 .9-2.3 .3-2.1-.2-1.8-1-.7-.7-.3-.8-.2-.9 .2-.7 .4-.8 .6-.6 .9-.4 1-.2 1.1 0 1.2 .3 1 .5 .8 .7 .4 .7 0 .9-.3 .9-.5 .7-1.9 1.3-2.5 .8-2.8 .1-2.4-.7-1-.8-.7-1-.4-1.1 0-1.2 .5-1 .8-.9 .8-.5 1.3-.4 1.3 0 1.5 .3 1.3 .7 1 .7 .6 .9 .1 1-.2 1-.7 1-1.1 .9-1.1 .7-3.3 1.1-3.3 .2-1.7-.3-1.2-.4-1.4-.8-1-1.2-.5-1.4 0-1.6 .5-1.5 1.1-1.3 1.1-.7 1.7-.5 1.8 0 1.7 .5 1.7 .9 1.4 1.2 .7 1.1 .2 1.2-.4 1.2-.8 1.2-1.3 1.1-1.7 .9-2 .9-2.4 .6-2.6 .4-2.3 .1-2.2-.2-1.7-.4-1.9-.9-1.5-1.4-.8-1.6-.3-1.9 .2-1.9 .8-2.1 1.5-1.8 1.4-1.2 2.2-1 1.2-.2 1.8 .1 2.8 .9 2.8 1.8 2.1 2.3 .7 1.2 .4 1 0 1.1-.3 1-.5 1-1 1.2-2.9 2-4 1.9-14.5 4.7-5.3 2.1-4.2 2-4.8 3-5.8 4.8-5.4 5.5-6.8 7.9-12 14.8-3.7 4.2-4 4.1-4.2 3.7-4.4 3-4.6 1.8-4.7 .3-4.7-1.5-4.5-3.4-4.1-5.1-3.8-6.5-3.4-7.2-2.8-7.5-2.4-7.1-3.3-12.1-2-8.5-1.4-8.7-.1-2.4 .2-.9 .6-.1 .8 .8 .1 1.2-.5 1.1-.9 .7-1.2 .4-1.4-.1-1.3-.5-.8-.9-.4-1 .1-.8 .6-.8 .9-.7 1.1-.5 1.5-.4 1.5-.1 2.6 .3 .9 .5 .8 .6 .6 .8 .2 .8-.2 1.2-.5 .9-.8 .7-1 .4-1 .1-1.1-.1-1.1-.4-1-.7-.5-.6-.4-.9 0-.8 .3-.8 1.6-1.3 2.3-.9 2.7-.3 2.4 .3 1.5 .6 .9 .7 .6 .9 .3 1.1-.3 1.5-.7 1-1 .9-1.2 .5-1.3 .1-1.3-.3-1.2-.4-1.1-.8-.8-1-.4-1 .1-1 .4-.9 .9-.9 1.2-.7 3.1-1.1 3.3-.3 3 .4 1.7 .7 1.2 1.2 .6 1.3 0 1.5-.5 1.7-1 1.5-1.5 1-1.7 .4-2.1-.2-2-.8-1.7-1.3-1.1-1.7-.3-1.4 .4-1.3 1.1-1.2 2-1.2 2.7-1 3.2-.8 3.1-.2 2.7 .1 2.5 .5 1.9 .9 1.4 1.3 .7 1.5 .2 1.7-.2 1.7-.5 1.7-.9 1.7-1.2 1.5-1 .8-1.6 .9-1.2 .4-1.2 .1-1.8-.2-2.8-1.2-1.4-1-1.6-1.5-1.2-1.4-.9-1.7" fill="none" stroke="#0000ff" stroke-width="1.3" stroke-linejoin="round" stroke-linecap="round"/>
<rect x="250.9" y="464" width="179.1" height="140.9" fill="none" stroke="#111" stroke-width="1.4"/>
<text x="250.9" y="611.6" font-size="5.4" text-anchor="middle" font-family="'Liberation Sans',sans-serif" fill="#262626">-2.5</text>
<text x="268.8" y="611.6" font-size="5.4" text-anchor="middle" font-family="'Liberation Sans',sans-serif" fill="#262626">-2</text>
<text x="286.7" y="611.6" font-size="5.4" text-anchor="middle" font-family="'Liberation Sans',sans-serif" fill="#262626">-1.5</text>
<text x="304.6" y="611.6" font-size="5.4" text-anchor="middle" font-family="'Liberation Sans',sans-serif" fill="#262626">-1</text>
<text x="322.5" y="611.6" font-size="5.4" text-anchor="middle" font-family="'Liberation Sans',sans-serif" fill="#262626">-0.5</text>
<text x="340.4" y="611.6" font-size="5.4" text-anchor="middle" font-family="'Liberation Sans',sans-serif" fill="#262626">0</text>
<text x="358.4" y="611.6" font-size="5.4" text-anchor="middle" font-family="'Liberation Sans',sans-serif" fill="#262626">0.5</text>
<text x="376.3" y="611.6" font-size="5.4" text-anchor="middle" font-family="'Liberation Sans',sans-serif" fill="#262626">1</text>
<text x="394.2" y="611.6" font-size="5.4" text-anchor="middle" font-family="'Liberation Sans',sans-serif" fill="#262626">1.5</text>
<text x="412.1" y="611.6" font-size="5.4" text-anchor="middle" font-family="'Liberation Sans',sans-serif" fill="#262626">2</text>
<text x="430" y="611.6" font-size="5.4" text-anchor="middle" font-family="'Liberation Sans',sans-serif" fill="#262626">2.5</text>
<text x="248.7" y="606.8" font-size="5.4" text-anchor="end" font-family="'Liberation Sans',sans-serif" fill="#262626">-15</text>
<text x="248.7" y="583.3" font-size="5.4" text-anchor="end" font-family="'Liberation Sans',sans-serif" fill="#262626">-10</text>
<text x="248.7" y="559.8" font-size="5.4" text-anchor="end" font-family="'Liberation Sans',sans-serif" fill="#262626">-5</text>
<text x="248.7" y="536.4" font-size="5.4" text-anchor="end" font-family="'Liberation Sans',sans-serif" fill="#262626">0</text>
<text x="248.7" y="512.9" font-size="5.4" text-anchor="end" font-family="'Liberation Sans',sans-serif" fill="#262626">5</text>
<text x="248.7" y="489.4" font-size="5.4" text-anchor="end" font-family="'Liberation Sans',sans-serif" fill="#262626">10</text>
<text x="248.7" y="465.9" font-size="5.4" text-anchor="end" font-family="'Liberation Sans',sans-serif" fill="#262626">15</text>
<path d="M250.9 604.9v-1.8M250.9 464v1.8M268.8 604.9v-1.8M268.8 464v1.8M286.7 604.9v-1.8M286.7 464v1.8M304.6 604.9v-1.8M304.6 464v1.8M322.5 604.9v-1.8M322.5 464v1.8M340.4 604.9v-1.8M340.4 464v1.8M358.4 604.9v-1.8M358.4 464v1.8M376.3 604.9v-1.8M376.3 464v1.8M394.2 604.9v-1.8M394.2 464v1.8M412.1 604.9v-1.8M412.1 464v1.8M430 604.9v-1.8M430 464v1.8M250.9 604.9h1.8M430 604.9h-1.8M250.9 581.4h1.8M430 581.4h-1.8M250.9 557.9h1.8M430 557.9h-1.8M250.9 534.5h1.8M430 534.5h-1.8M250.9 511h1.8M430 511h-1.8M250.9 487.5h1.8M430 487.5h-1.8M250.9 464h1.8M430 464h-1.8" stroke="#000" stroke-width="1.2" fill="none"/>
<text x="340.4" y="619.9" font-size="7.3" text-anchor="middle" font-family="'Liberation Serif',serif" font-style="italic" fill="#262626">x</text>
<text x="237.5" y="534.5" font-size="7.4" text-anchor="middle" font-family="'Liberation Serif',serif" transform="rotate(-90 237.5 534.5)" fill="#262626">dx/dt</text>
<path d="M523.2 546.1l-.4-3-1.5-5-2.3-6.2-2.6-6.1-2.3-4.5-2.7-4.2-1.5-1.8-1.5-1.5-1.6-1.1-1.6-.5-1.5 .1-1.5 .6-1.3 1.2-1.3 1.5-1.1 1.8-1.8 3.8-2.1 6.2-1 4.3 .1 1.3 .3 1 1 1.3 1.6 1 1.4 .5 1.2-.2 .6-.9 0-1.5-.8-1.5-1-.9-1.5-.4-.7 .1-.5 .4-.2 1.1 .7 1.6 1.4 1.7 2 1.5 1.9 1 1.6 .1 .7-.2 .4-.5 .3-1.7-.5-2.1-1.3-2-1.1-.8-1.3-.3-1.3 .2-.9 .7-.4 .8 .1 1.1 .4 1.1 .9 1.3 2.5 2.7 3.6 2.7 4.2 2.6 7.6 3.9 1.8 1.3 1.5 1.4 1.8 2 2.1 3.2 7.5 13.8 3.9 6.1 2.9 3.3 1.5 1.2 1.5 .7 1.5 .2 1.5-.4 1.4-.9 1.3-1.4 1.2-1.7 2-3.8 4.4-12 .5-.4 1.3 .6 .9 0 .5-.7-.2-1-.7-1-1-.9-1.1-.5-.9-.1-.6 .5 0 .8 .4 1.1 .7 .8 1.1 .4 .9-.2 .4-.6-.1-1-.7-1.1-1.1-1-1.2-.8-1.1-.2-.9 .3-.2 1 .4 1.5 1 1.1 1.2 .5 1-.2 .6-.9-.1-1.1-.9-1.4-1.3-1.2-1.5-1-1.3-.3-.6 0-.5 .3-.3 .5-.1 .8 .6 2 1.2 1.5 .8 .4 .8 .2 1.4-.4 .4-.5 .3-.6 0-.7-.3-.8-1.2-1.8-1.9-1.6-2.1-1.3-1.9-.6-.8 0-.6 .4-.4 .6-.1 .8 .4 2.6 .7 1.4 .8 1.2 1 1 1.3 .5 1.2 0 1-.4 1-1 .5-1.1 0-1.2-.6-1.4-1.4-1.7-2-1.9-9.9-8.1-4.1-4.5-4.2-6.2-11.2-19.2-3.6-5-2-2-2-1.3-2-.6-2 .2-1.8 1.1-1.7 1.9-1.6 2.5-1.3 2.7-2.1 5.6-1.8 6.5-.9 5.1 0 1.4 .2 .3 .2-.3 .1-.6-.3-.8-.5-.6-.7-.5-.7 0-.5 .3-.1 .6 .3 .8 .9 1.1 1.1 .9 1.1 .5 .9-.1 .7-.5 .1-1.1-.4-1-.9-.8-1-.3-.7 .2-.2 .8 .4 1.1 .9 1.2 1.2 .9 1.2 .6 1.1 .1 .6-.2 .3-.4 .2-1.2-.5-1.4-1.2-1.1-1.2-.3-.9 .5-.2 .8 .5 1.2 1 1.4 1.5 1.3 1.6 .8 1.2 .2 .8-.2 .5-.4 .2-.8 .1-.8-.7-2-.7-.8-.8-.6-1.5-.3-.7 .2-.6 .4-.2 .5-.1 .6 .7 1.6 1.4 1.8 2.2 1.8 2 1.1 1.8 .5 .9-.1 .7-.5 .4-.7 .2-1-.1-1.2-.4-1.3-.6-1.4-.9-1.2-1-1-1.4-.6-1.2 .1-1.2 .5-.9 .8-.3 1 .1 1.2 .6 1.4 1.3 1.7 1.8 1.8 9.4 8.3 1.9 2.1 2.2 2.8 2.8 4.2 2.5 4.5 9 17.5 3.6 6.3 1.9 2.9 2.1 2.3 2.1 1.7 2.2 .6 2.1-.4 2-1.6 1.8-2.5 1.6-3.2 1.4-3.6 1.2-3.6 1.7-6.6 1.1-4.8 .8-5.3 0-2.2-.3-.2-.4 .3 0 .6 .3 .8 1.1 1.1 .7 .1 .6-.1 .4-.5 0-.6-.4-1-1-1.1-1.1-.7-1.1-.3-.7 .3-.3 .8 .4 1.2 .7 .9 1 .5 .9-.1 .6-.7 0-1-.7-1-1-1.1-1.2-.8-1.1-.3-1 .2-.4 .9 .3 1.4 1 1.3 1.2 .6 1.1-.1 .7-.8 0-1.1-.8-1.4-1.3-1.2-1.6-1.1-1.3-.4-.8 0-.5 .2-.3 .6-.1 .7 .5 2.1 1.3 1.5 1.4 .7 .9-.1 .7-.3 .5-.5 .3-.6 0-.7-.3-.8-1.2-1.8-1.9-1.7-2.1-1.4-2-.6-.8 0-.7 .3-.5 .7-.2 .8 .5 2.7 .7 1.5 .9 1.3 1 1 1.4 .6 1.3-.1 1-.5 1-1 .5-1.2-.1-1.2-.6-1.4-1.3-1.6-1.8-1.8-9.2-7.9-3.6-3.9-2.6-3.6-2.4-3.7-8.3-15-3.4-5.7-1.9-2.8-2-2.5-2-2-2.1-1.3-2.1-.4-2.1 .5-1.9 1.5-1.8 2.3-1.5 2.8-1.4 3.1-1.1 3.1-1.6 5.5-.9 4-.7 4.3 0 1.9 .3 .3 .4-.4 .1-.6-.2-.7-.5-.7-.6-.4-.6-.2-.6 .1-.3 .4 .1 .7 .6 1.1 1.1 1.1 1.3 .6 1 .2 .8-.4 .2-1-.3-1.1-.9-.9-1-.4-.8 .2-.2 .7 .3 1.1 .8 1 1.1 1 1.2 .7 1.1 .3 .7-.2 .4-.3 .3-1.1-.4-1.5-1.1-1.2-1.1-.4-1 .3-.4 .9 .4 1.2 1 1.3 1.5 1.3 1.3 .8 1.4 .4 .8-.1 .5-.4 .4-.7 .1-1-.7-1.9-.7-.8-.7-.6-1.5-.4-.8 .1-.6 .5-.2 .5-.1 .6 .7 1.6 1.4 1.8 2.1 1.7 2 1.2 1.8 .5 .9-.1 .7-.5 .4-.7 .2-1-.1-1.1-.3-1.3-.6-1.4-.9-1.3-1-.9-1.3-.6-1.3 0-1 .4-.9 .8-.5 .9 .1 1.2 .5 1.3 1.2 1.7 1.9 2.1 9.7 8.5 2 2.1 2.2 2.9 2.8 4.2 2.6 4.6 7.4 14.7 3.4 6.2 1.9 3.1 2 2.7 2.1 2.2 2.1 1.4 2.1 .4 2.1-.7 1.9-1.8 1.8-2.7 1.6-3.3 2.4-7.1 1.7-6.4 1.4-7.7 .3-3.5-.3-.6-.3 .3-.1 .6 .3 .7 1 1.1 .7 .2 .6 0 .4-.4 .2-.5-.3-1-.8-1.1-1.2-.9-1.3-.4-.7 .2-.4 .8 .3 1.2 .7 .9 1 .6 1 0 .6-.7 0-.9-.5-1.1-1-1-1.1-.8-1.3-.5-1 .2-.5 .8 .3 1.5 1 1.3 1.2 .6 1.1-.1 .7-.8 0-1.1-.8-1.3-1.2-1.3-1.6-1-1.4-.5-.7 0-.5 .2-.4 .5-.1 .7 .5 2.1 1.2 1.6 .8 .5 .9 .2 .7-.1 .7-.3 .5-.5 .3-.6 0-.7-.2-.8-1.3-1.8-1.8-1.7-2.1-1.3-2-.7-.9-.1-.7 .3-.5 .7-.1 .9 .1 1.5 .4 1.5 1.4 2.5 1 1 1.2 .6 1.3 0 1.1-.4 1.1-1 .6-1.2 0-1.2-.6-1.4-1.1-1.6-2-1.9-7.1-6-2.6-2.4-1.9-2-2.3-2.9-4.7-7.2-10.6-18.8-3.8-5.4-2.1-2.2-2.1-1.4-2.1-.7-2.1 .4-1.9 1.3-1.8 2.1-1.6 2.8-1.4 3-1.1 3.2-1.7 5.6-1 4.1-.8 4.6 0 2 .3 .3 .4-.4 0-1.1-.8-1.1-1.1-.4-.5 .1-.2 .4 .1 .9 .6 1 1 1 1.1 .6 1 .2 .7-.2 .5-.5 .1-.9-.4-1-.8-.8-1-.4-.8 .2-.3 .6 .2 .9 .6 .9 .8 .9 1.1 .9 1.2 .5 1 0 .7-.3 .4-.9-.2-1.2-.7-1.2-1-.7-1.2-.2-.8 .5-.1 1 .6 1.3 1.2 1.3 1.5 1.2 1.6 .7 1.2 .1 .6-.3 .3-.4 .3-1.4-.5-1.7-1.2-1.5-.8-.4-.9-.2-.8 .1-.7 .4-.3 .5 0 .6 .6 1.7 1.4 1.8 2.1 1.7 2.2 1.3 1.8 .4 .9-.2 .5-.4 .4-.6 .2-1 0-1.1-.3-1.3-1.2-2.4-1-1-1.3-.8-1.3-.2-1.1 .3-1.1 .8-.5 1.1 0 1.1 .6 1.6 1.2 1.7 2 2 9.4 8.3 2.5 2.6 2.3 3.1 2.1 3.2 2.5 4.5 10.6 20.4 3.8 6 2 2.3 2.1 1.7 2.2 .7 2.1-.3 1.9-1.4 1.9-2.4 1.6-3.2 1.4-3.5 2.2-7 1.4-5.8 1.2-6.7 .1-3-.2-.4-.4 .3 0 .7 .3 .8 .5 .6 .7 .5 .7 .1 .6-.3 .3-.6-.1-.7-.7-1.1-.9-.9-1.2-.6-1-.1-.6 .4-.1 .8 .4 1.1 .7 .8 1.1 .5 .9-.1 .5-.7-.1-1-.6-1-1.1-1.1-1.2-.8-1.2-.3-.9 .3-.3 1 .4 1.4 .9 1.2 1.2 .6 1.2-.2 .6-.9-.1-1.2-.9-1.3-1.3-1.3-1.6-1-1.4-.3-.6 0-.5 .3-.3 .5-.1 .8 .6 2.1 1.3 1.5 1.4 .6 .9-.1 .7-.3 .5-.5 .2-.6 0-.7-.2-.9-1.3-1.7-1.9-1.7-2.1-1.4-2-.6-.8 0-.7 .3-.4 .6-.2 .8 .1 1.5 .4 1.5 1.4 2.5 1 1 1.1 .6 1.3 .1 1.2-.4 1.1-.9 .6-1.3 0-1.2-.5-1.3-1.2-1.6-1.9-2-9.6-8.2-4.2-4.9-4.5-6.9-10.4-18.5-3.8-5.5-2-2.3-2.1-1.7-2.1-.9-2.1 .1-2 1-1.9 1.9-1.6 2.6-1.5 3-1.2 3.1-1.8 5.8-1.1 4.4-.9 4.9 .1 2.2 .3 .3 .4-.4 0-.7-.2-.7-.5-.6-.6-.5-.7-.1-.5 .2-.2 .5 .2 .8 .7 1.1 1.1 1 1.2 .5 1 .1 .7-.5 .2-1-.4-1.1-.9-.9-1-.3-.8 .3-.1 .8 .4 1.1 .8 1 1.2 1 1.1 .6 1.1 .2 .7-.2 .3-.4 .3-1.2-.5-1.4-1.1-1.1-1.2-.3-1 .3-.2 .9 .4 1.2 1 1.3 1.5 1.3 1.4 .8 1.3 .3 .8-.1 .5-.4 .3-.7 .1-.9-.2-1.1-.5-.9-.7-.8-.7-.6-1.5-.4-.8 .2-.5 .4-.3 .5 0 .7 .7 1.6 1.4 1.8 2.1 1.7 2.1 1.1 1.8 .5 .8-.1 .7-.5 .4-.8 .2-1-.5-2.4-.6-1.4-.9-1.2-1-1-1.4-.5-1.4 .1-1.3 .7-.7 .8-.2 1.1 .4 1.3 .8 1.5 2.9 3.2 9.1 8 2.4 2.6 2.3 3 2.1 3.1 2.5 4.3 10.3 20 3.7 6.1 2 2.5 2.1 1.9 2.2 1 2.1 0 2-1.1 1.9-2.1 1.7-3 1.5-3.4 1.2-3.6 1.9-6.7 1.8-8.7 .4-4.3-.2-.6-.3 0-.2 .2 0 .7 .3 .8 .5 .6 .7 .5 .7 .1 .7-.3 .2-.5-.1-.8-.6-1-1-1-1.1-.6-1-.1-.7 .4-.1 .8 .4 1.2 .8 .8 1.1 .5 .9-.2 .4-.7-.1-1-.7-1.1-1.1-1.1-1.2-.7-1.2-.3-.8 .3-.3 1.1 .5 1.5 .9 1.1 1.2 .5 1.1-.2 .6-.8-.1-1.2-.8-1.4-1.4-1.2-1.6-1-1.3-.4-.6 0-.5 .3-.3 .5-.1 .7 .5 2.1 1.2 1.6 1.5 .6 .9-.1 .7-.3 .5-.5 .2-.6 .1-.7-.3-.8-1.2-1.8-1.9-1.7-2.1-1.3-2-.7-.9 0-.7 .3-.4 .5-.2 .8 .1 1.5 .4 1.5 1.3 2.5 1 1.1 1.1 .6 1.4 .2 1.1-.4 1.2-1 .6-1.2 .1-1.2-.6-1.4-1.1-1.5-1.9-2-9.5-8.2-4.2-4.7-4.4-6.7-10.2-18.1-3.7-5.6-2-2.4-2-1.9-2.2-1.2-2.1-.2-2 .7-1.9 1.7-1.7 2.4-1.5 2.9-1.3 3.1-1.9 5.9-1.2 4.7-1 5.2 0 2.4 .3 .3 .4-.4 .1-.6-.2-.7-.5-.6-.6-.5-.7-.2-.5 .2-.3 .5 .1 .7 .7 1.1 1.1 1 1.1 .6 1.1 .1 .8-.4 .2-1.1-.4-1.1-.9-.9-1-.3-.7 .3-.2 .8 .4 1.1 .8 1 1.1 1 1.2 .6 1.1 .2 .7-.2 .3-.3 .3-1.2-.4-1.4-1.1-1.1-1.2-.4-1 .3-.3 .8 .4 1.3 1 1.3 1.5 1.3 1.4 .8 1.3 .3 .8-.1 .5-.4 .4-.6 0-.9-.2-1.1-.4-1-.7-.8-.8-.6-1.5-.4-.7 .2-.6 .4-.2 .5-.1 .7 .7 1.6 1.4 1.8 2.1 1.7 2 1.1 1.8 .5 .9-.1 .7-.5 .4-.7 .2-1-.1-1.1-.3-1.3-.6-1.4-.9-1.2-1-1-1.4-.6-1.2 0-1.2 .5-.9 .9-.3 1 .1 1.3 .7 1.3 2.5 3 8.9 7.7 2.2 2.3 2.1 2.4 2.5 3.5 3.1 5.3 10.1 19.6 3.6 6.1 2 2.7 2.1 2.1 2.1 1.4 2.2 .3 2-.8 1.9-1.9 1.8-2.7 1.6-3.3 2.4-7.2 2.1-8.7 1.2-7.6-.1-1.4-.3-.1-.3 .3 .1 .9 .5 .8 .7 .6 .7 .3 .7-.2 .4-.5 0-.8-.5-.9-.9-1-1.1-.6-.9-.3-.7 .1-.4 .6 0 .9 .5 1 .8 .7 1.1 .4 .8-.3 .4-.7-.2-1.1-.9-1.2-1.2-1-1.2-.6-1.1-.2-.8 .6-.1 1 .5 1.4 1 1 1.2 .5 1.2-.3 .5-.9-.2-1.2-1-1.4-1.5-1.3-1.6-.9-1.3-.2-.6 .2-.4 .4-.2 1.3 .6 1.9 1.3 1.5 1.5 .5 .8-.1 .7-.3 .5-.5 .2-.7 0-.6-.3-.9-1.3-1.8-2.1-1.8-2.2-1.3-1.9-.5-.8 .1-.6 .4-.4 .7-.1 .9 .6 2.8 1.4 2.4 1.1 1.1 1.3 .6 1.3-.1 1.1-.5 1-1 .5-1.2 0-1.2-.7-1.4-1.2-1.6-1.8-1.8-9.3-7.9-4.1-4.6-4.3-6.5-9.9-17.7-3.6-5.7-2-2.5-2.1-2.1-2.1-1.4-2.1-.5-2.1 .4-1.9 1.4-1.8 2.2-1.6 2.8-2.5 6.2-1.6 5.6-1.5 6.8-.3 2.7 .2 1.1 .4 .1 .3-.6-.1-.8-.3-.7-1.2-.8-.6 0-.4 .2 0 1 .8 1.3 1.4 1.2 1.3 .5 .6-.1 .5-.2 .3-.5 .1-.6-.5-1.3-1.1-1-1-.2-.6 .5 0 .9 .6 1.2 1 1.1 1.3 .8 1.1 .5 1.1-.1 .6-.7 .1-1.3-.6-1.3-1.1-.9-1.2-.3-.5 .2-.4 .3-.1 1 .6 1.3 1.2 1.4 1.5 1.2 1.6 .7 1.2 0 .5-.3 .5-.5 .2-.8-.1-.9-.8-1.9-1.3-1.1-1.5-.3-.7 .1-.6 .5-.2 .5 0 .7 .7 1.6 1.6 1.9 2.2 1.7 2 1.1 1.8 .3 .8-.2 .5-.5 .4-.7 .1-1.1-.5-2.5-1.3-2.2-1-1-1.4-.7-1.2 0-1 .4-1 .8-.5 1.1 .1 1.2 .6 1.3 1.2 1.7 2 2.1 9.5 8.3 1.9 2 2.2 2.9 4.4 6.9 9.8 19.1 3.6 6.3 2 2.8 2 2.3 2.1 1.6 2.2 .6 2-.4 2-1.6 1.8-2.5 1.6-3.2 1.4-3.5 2.2-7 1.3-5.7 1.2-6.5 .1-2.9-.2-.4-.4 .2 0 .8 .3 .7 .5 .7 .8 .4 .7 .1 .6-.3 .2-.7-.2-.7-.7-1-1-.9-1-.6-1-.1-.6 .4-.1 .9 .3 1 .8 .9 1.1 .5 .9-.2 .5-.6-.1-1-.7-1.1-1.1-1.1-1.2-.7-1.2-.4-.8 .3-.4 1 .5 1.5 .9 1.1 1.2 .6 1.2-.2 .6-.9-.2-1.1-.8-1.4-1.4-1.2-1.6-1-1.3-.4-.6 .1-.5 .3-.3 .5-.1 .8 .6 2 1.3 1.5 1.4 .6 .9 0 .7-.4 .5-.5 .2-.6 0-.7-.3-.8-1.2-1.8-1.9-1.7-2.2-1.3-1.9-.7-.9 0-.7 .4-.3 .5-.2 .9 .1 1.5 .4 1.5 1.4 2.5 1 1 1.1 .6 1.3 .1 1.2-.4 1.1-1 .6-1.2 0-1.2-.5-1.4-1.2-1.6-1.9-1.9-9.6-8.3-2-2.1-2.3-2.8-4.6-7-10.4-18.6-3.8-5.5-2-2.2-2.1-1.6-2.2-.9-2 .2-2 1.1-1.9 2-1.6 2.6-1.4 3.1-1.2 3.1-2.4 8.1-.8 3.6-.5 3.7 .1 1.7 .4 .1 .2-.4 .1-.7-.2-.7-.5-.6-.7-.4-.7-.1-.5 .2-.1 .6 .2 .8 .8 1.1 1.1 .9 1.2 .5 .9 0 .7-.5 .2-1-.4-1.1-1-.9-.9-.3-.8 .3-.2 .8 .5 1.1 .8 1.1 1.2 .9 1.1 .6 1.1 .2 .7-.2 .3-.3 .3-1.3-.5-1.3-1.1-1.1-1.3-.4-.9 .4-.2 .9 .5 1.3 1 1.3 1.5 1.3 1.6 .8 1.2 .2 .7-.2 .5-.5 .3-.7 0-.9-.7-1.9-.7-.8-.8-.6-1.5-.3-.7 .1-.6 .5-.2 .5 0 .6 .7 1.6 1.4 1.8 2.1 1.8 2.1 1.1 1.8 .4 .8-.1 .7-.5 .4-.7 .2-1.1-.5-2.4-1.3-2.3-1-1-1.3-.7-1.3-.1-1.1 .4-1 .8-.5 1 .1 1.2 .6 1.4 1.2 1.7 2 2 7.3 6.3 2.5 2.4 2 2.2 2.3 3 2 3.1 2.5 4.4 10.4 20.2 3.8 6 2 2.5 2.1 1.8 2.2 .9 2-.1 2.1-1.2 1.8-2.2 1.7-3 1.5-3.5 2.2-7.1 1.5-5.9 1.3-7 .1-3.2-.2-.4-.4 .3 0 .7 .4 .8 .5 .7 .8 .4 .7 0 .5-.4 .2-.6-.2-.7-.7-1.1-1-.9-1.1-.5-.9-.1-.6 .5-.1 .9 .4 1 .8 .9 1.1 .4 .9-.2 .4-.7-.1-1-.7-1.1-1.1-1-1.2-.8-1.2-.2-.9 .3-.2 1 .4 1.5 1 1.1 1.2 .5 1.1-.2 .6-.8-.1-1.2-.9-1.3-1.3-1.3-1.6-1-1.3-.4-.6 .1-.5 .2-.4 .6-.1 .7 .6 2.1 1.2 1.5 1.5 .6 .9 0 .7-.3 .5-.5 .2-.8 0-.7-.3-.8-1.3-1.8-1.9-1.7-2.2-1.3-1.9-.6-.9 .1-.6 .4-.4 .6-.1 .9 .5 2.7 1.3 2.5 1.1 1.1 1.1 .6 1.3 .1 1.1-.4 1.2-.9 .6-1.3 .1-1.2-.6-1.4-1.1-1.5-1.9-2-9.6-8.2-4.2-4.7-4.4-6.8-10.3-18.2-3.7-5.6-2-2.4-2.1-1.8-2.1-1.1-2.1-.1-2 .8-1.9 1.7-1.7 2.5-1.5 2.9-2.3 6.2-2 7.4-1 6.3 .2 1.4 .3 0 .3-.3 0-.7-.2-.7-.5-.7-.7-.4-.7-.1-.5 .3-.1 .6 .3 .8 .8 1.1 1.2 .9 1.1 .4 .9 0 .7-.5 .1-1.1-.5-1-.9-.9-1-.2-.7 .3-.1 .8 .5 1.1 .8 1.1 1.2 .9 1.1 .6 1.1 .1 .6-.2 .4-.4 .2-1.2-.5-1.4-1.2-1.1-1.2-.3-.9 .4-.2 .9 .5 1.2 1 1.4 1.5 1.2 1.6 .9 1.2 .2 .7-.2 .5-.5 .3-.7 0-.8-.7-1.9-.6-.9-.8-.5-1.5-.4-.7 .1-.6 .5-.3 .5 0 .6 .7 1.6 1.4 1.8 2.1 1.7 2 1.2 1.8 .5 .9-.2 .7-.5 .4-.7 .2-1-.1-1.1-.4-1.3-.6-1.4-.8-1.2-1.1-1-1.3-.5-1.2 0-1.1 .4-.9 .8-.4 .9 0 1.2 .6 1.4 1.2 1.6 1.9 2.1 7.3 6.2 2.5 2.4 1.9 2.1 2.3 2.9 2 3.1 2.5 4.2 8.5 16.6 3.4 6.3 1.9 3 2 2.6 2.1 2 2.1 1.3 2.2 .2 2-.9 1.9-1.9 1.7-2.8 1.6-3.4 2.4-7.2 1.5-6.1 1.4-7.5 .3-3.4-.3-.5-.4 .3 .2 1.2 1 1.1 .6 .3 .6 0 .4-.2 .3-.4-.1-1-.7-1.1-1.3-1.1-1.2-.5-.9 .2-.4 .6 .2 1.1 .7 1.1 1 .6 1 .1 .7-.6 0-1-.5-1-.9-1-1.2-.9-1.2-.5-1.1 .1-.5 .8 .2 1.4 .9 1.4 1.2 .7 1.2 0 .8-.8 0-1.1-.6-1.2-1.2-1.3-1.6-1.1-1.3-.6-.8-.1-.6 .2-.4 .4-.2 .7 .3 1.9 .6 1 .7 .9 1.4 .7 .8 .1 .8-.3 .5-.4 .4-.7 .1-.7-.2-.8-1.2-1.8-1.8-1.7-2.1-1.3-2-.8-1-.1-.7 .3-.5 .7-.2 .9 .5 2.7 .6 1.5 .9 1.3 1.1 1 1.4 .6 1.2-.1 1.3-.6 1-1.2 .3-1.2-.2-1.2-.8-1.5-3-3.2-9-7.7-4.2-4.7-2.7-3.9-2.6-4.2-7.4-13.4-3.4-5.7-1.8-2.8-2-2.5-2.1-2-2.1-1.3-2.1-.5-2.1 .5-1.9 1.5-1.8 2.3-1.5 2.8-1.4 3.1-2 6.1-1.9 8-.5 4.2 .2 .8 .3 .1 .3-.3 .1-.7-.2-.7-.5-.7-.6-.4-.7-.2-.6 .2-.2 .5 .2 .7 .7 1.1 1.1 1 1.2 .6 1 .1 .7-.5 .2-1-.3-1.1-.9-.9-1-.3-.8 .2-.2 .8 .4 1.1 .8 1 1.1 1 1.2 .6 1.1 .3 .7-.2 .3-.4 .3-1.2-.5-1.4-1.1-1.1-1.2-.4-.9 .4-.2 .9 .4 1.2 1 1.4 1.5 1.2 1.4 .8 1.4 .3 .7-.2 .5-.4 .3-.7 .1-.9-.7-1.9-.6-.8-.8-.6-1.5-.4-.8 .1-.6 .5-.2 .5-.1 .6 .7 1.6 1.4 1.8 2.1 1.7 2 1.2 1.8 .5 .9-.1 .7-.5 .4-.7 .2-1-.1-1.1-.3-1.3-.6-1.4-.8-1.2-1-1-1.4-.6-1.2 0-1.1 .4-.9 .8-.5 1 .1 1.2 .6 1.4 1.2 1.7 1.8 1.8 9.7 8.6 1.9 2 2.3 2.9 2.7 4.2 2.6 4.5 7.3 14.5 3.4 6.2 1.9 3.1 1.9 2.8 2.1 2.2 2.1 1.5 2.2 .6 2-.6 2-1.6 1.8-2.6 1.6-3.2 1.3-3.6 1.2-3.6 1.7-6.4 1-4.8 .8-5 0-2-.2-.4-.4 .3 0 .7 .3 .8 .5 .6 .8 .5 .7 0 .6-.3 .2-.7-.2-.7-.7-1-1-.9-1.1-.5-.9-.2-.6 .5-.1 .8 .3 1.1 .8 .8 1.1 .5 .9-.1 .5-.7-.1-1-.7-1.1-1.1-1-1.2-.8-1.2-.3-.9 .3-.3 1 .5 1.5 .9 1.1 1.2 .6 1.2-.3 .6-.8-.2-1.2-.9-1.4-1.3-1.2-1.6-1-1.3-.3-.6 0-.5 .3-.3 .5-.1 .8 .6 2.1 1.3 1.5 1.4 .6 .9-.1 .7-.3 .5-.6 .2-.6 0-.7-.3-.8-1.3-1.8-1.9-1.7-2.1-1.3-1.9-.6-.9 0-.7 .3-.4 .6-.1 .8 .1 1.6 .4 1.4 1.4 2.5 1 1.1 1.1 .5 1.3 .1 1.2-.4 1.1-1 .6-1.2 0-1.2-.6-1.4-1.1-1.6-1.9-1.9-9.7-8.3-2-2.1-2.3-2.8-4.6-7.1-10.5-18.7-3.8-5.5-2-2.2-2.2-1.5-2.1-.7-2 .2-2 1.2-1.8 2.1-1.7 2.7-2.5 6.1-2.3 8-.8 3.6-.5 3.6 .1 1.6 .3 .2 .3-.4 .1-.7-.3-.7-.4-.7-.7-.4-.8-.1-.4 .3-.1 .6 .2 .7 .8 1.2 1.1 .9 1.2 .5 .9 0 .7-.6 .2-1-.5-1-.9-.9-1-.3-.7 .3-.2 .8 .5 1.1 .8 1 1.2 1 1.1 .6 1.1 .2 .6-.2 .4-.4 .3-1.2-.5-1.4-1.2-1.1-1.2-.3-.9 .3-.2 1 .5 1.2 1 1.4 1.5 1.2 1.6 .8 1.2 .2 .7-.2 .5-.5 .3-.7 0-.9-.8-1.9-.6-.8-.8-.5-1.5-.4-.7 .2-.6 .4-.2 .5 0 .7 .6 1.6 1.5 1.8 2.1 1.7 2.1 1.2 1.8 .4 .8-.2 .7-.5 .4-.7 .1-1-.4-2.5-1.3-2.3-1-1-1.4-.7-1.2 0-1.1 .3-1 .8-.5 1.1 .1 1.2 .6 1.4 1.2 1.6 2 2.1 9.4 8.2 1.9 2.1 2.2 2.8 2.7 4 2.5 4.4 8.8 17.2 3.5 6.2 2 2.9 2 2.4 2.1 1.8 2.1 .8 2.1-.2 2-1.3 1.9-2.3 1.6-3.1 1.5-3.5 2.2-7.1 1.4-5.9 1.3-6.8 .1-3-.3-.5-.3 .3 0 .8 .3 .8 .6 .6 .8 .4 .7 0 .5-.3 .2-.7-.2-.8-.7-.9-1-.9-1.1-.5-.9-.1-.6 .4-.1 .9 .4 1.1 .8 .8 1.1 .5 .8-.2 .5-.7-.1-1.1-.7-1-1.1-1.1-1.2-.7-1.2-.3-.9 .3-.2 1.1 .4 1.5 1 1.1 1.2 .5 1.2-.3 .5-.9-.2-1.2-.9-1.3-1.4-1.3-1.6-.9-1.3-.3-.6 .1-.4 .3-.3 .6-.1 .8 .6 1.8 1.2 1.6 1.5 .6 .9-.1 .7-.3 .5-.5 .2-.7 0-.7-.3-.9-1.3-1.8-2-1.7-2.1-1.3-1.9-.5-.9 0-.6 .4-.4 .6-.1 .9 .5 2.7 1.3 2.6 1.1 1 1.3 .7 1.3 0 1.1-.5 1.1-1 .5-1.2 0-1.2-.6-1.4-1.2-1.6-1.7-1.7-9.6-8.3-4.2-4.8-4.5-6.8-8.7-15.5-3.4-5.7-2-2.7-2-2.3-2.1-1.8-2.1-1-2.1-.1-2 1-1.9 1.8-1.7 2.5-1.4 3-1.3 3.1-1.8 5.9-1.8 7.5-.3 3.8 .3 .7 .3-.1 .2-.4 0-.7-.3-.7-.5-.7-.7-.3-.7-.1-.4 .4-.1 .6 .3 .8 .8 1 1.2 .9 1.1 .5 .9 0 .7-.6 .1-1-.5-1.1-.9-.8-1.1-.3-.6 .4-.1 .8 .4 1.1 .9 1 1.2 1 1.1 .5 1.1 .2 .6-.3 .4-.4 .2-1.2-.6-1.4-1.1-1-1.2-.3-.9 .4-.2 .8 .5 1.3 1 1.3 1.5 1.3 1.6 .8 1.2 .2 .7-.2 .5-.4 .3-.7 0-.9-.7-1.9-.6-.8-.8-.6-1.5-.4-.7 .2-.6 .4-.3 .5 0 .7 .6 1.6 1.5 1.8 2.1 1.7 2 1.1 1.9 .5 .8-.1 .7-.5 .4-.7 .2-1-.1-1.2-.4-1.3-1.2-2.3-1-1-1.4-.7-1.2-.1-1.1 .3-1 .8-.5 1.1 0 1.2 .6 1.3 1.2 1.7 2 2 7.2 6.3 2.5 2.4 2 2.1 2.3 3 2 3.1 2.5 4.2 8.5 16.7 3.5 6.3 1.9 3 2 2.6 2.1 2 2.1 1.1 2.1 .1 2.1-1 1.9-2 1.7-2.9 1.5-3.4 2.4-7.1 1.5-6.2 1.3-7.2 .3-3.4-.3-.5-.4 .3 .2 1.3 1 1.1 .6 .2 .6 .1 .4-.3 .3-.4-.1-1-.8-1.1-1.1-1-1.2-.5-.9 .1-.5 .6 .1 1.1 .7 1.1 1 .6 1 .1 .7-.5 .1-1-.5-1-.8-1-1.2-.9-1.2-.5-1.1 0-.6 .8 .2 1.4 .7 1.2 1.1 .8 1 .2 1-.4 .4-.9-.2-.9-.6-1.1-1.1-1.2-1.3-.9-1.4-.7-1.2-.1-.8 .5-.2 .9 .2 1.6 .8 1.4 1.1 1 1.1 .4 1.4-.2 .8-1 .1-1.2-.7-1.5-1.8-1.9-2.3-1.7-2.2-.9-1.6 0-.5 .3-.3 .6-.1 1.8 .7 2.5 1.2 2.1 1.1 1 1.4 .6 1.2-.1 1.1-.6 1-1 .5-1.2-.1-1.2-.6-1.4-1.3-1.6-1.8-1.8-8.8-7.5-4-4.3-2.6-3.6-2.4-3.8-8.4-15.1-3.5-5.7-1.8-2.8-2-2.5-2.1-1.9-2.1-1.3-2.1-.3-2.1 .6-1.9 1.6-1.7 2.3-1.6 2.9-1.3 3.1-2.6 8.5-1 4-.7 4.2 .1 1.9 .3 .2 .4-.3 .1-.7-.3-.8-.5-.7-.7-.4-.7-.1-.5 .4-.1 .6 .3 .8 .8 1 1.1 .9 1.2 .5 .9 0 .7-.6 .1-1-.4-1.1-1-.8-.9-.3-.8 .3-.1 .9 .5 1 .8 1.1 1.2 .9 1.1 .6 1.1 .2 .6-.2 .4-.4 .2-1.3-.5-1.3-1.1-1.1-1.3-.3-.9 .4-.2 .8 .5 1.3 1 1.3 1.5 1.3 1.6 .8 1.2 .2 .7-.1 .5-.5 .3-.7 0-.9-.6-1.9-.7-.8-.7-.6-1.6-.4-.7 .2-.6 .4-.2 .5-.1 .6 .7 1.6 1.4 1.8 2.1 1.8 2.2 1.2 1.8 .4 .9-.2 .6-.5 .4-.8 .1-1-.5-2.5-.7-1.4-.9-1.2-1.1-.8-1-.5-1.3 0-1.2 .5-.9 .9-.3 .9 0 1 .6 1.4 1.2 1.6 1.9 2.1 9.7 8.5 2.5 2.8 2.3 3.1 2.2 3.3 2.5 4.6 7.5 14.6 3.4 6.3 1.8 3 2 2.8 2.1 2.1 2.1 1.5 2.1 .4 2.1-.7 1.9-1.7 1.8-2.7 1.6-3.2 2.5-7.2 1.6-6.3 1.5-7.8 .3-3.6-.3-.6-.3 .3 0 .8 .3 .7 .5 .7 .7 .4 .7 .1 .6-.3 .2-.6-.1-.7-.6-1.1-1-.9-1.2-.6-.9-.1-.7 .4 0 .9 .3 1 .8 .9 1.1 .5 .9-.2 .4-.7-.1-1-.6-1-1.1-1.1-1.2-.8-1.2-.3-.9 .3-.3 1 .5 1.5 .9 1.1 1.2 .6 1.1-.2 .7-.8-.1-1.2-.9-1.3-1.3-1.3-1.6-1-1.3-.4-.6 0-.6 .3-.3 .5-.1 .7 .5 2 1.2 1.6 .8 .5 .8 .2 .8 0 .7-.3 .5-.5 .3-.7 0-.7-.3-.9-1.3-1.8-1.9-1.7-2.1-1.3-2-.6-.8 0-.7 .4-.4 .6-.1 .8 .1 1.6 .4 1.4 1.4 2.5 1 1 1.1 .6 1.4 .1 1.1-.5 1.1-.9 .6-1.3 0-1.2-.6-1.4-1.2-1.5-1.9-2-9.2-7.9-4.1-4.6-2.7-3.8-2.6-4.1-10.6-18.9-3.8-5.4-2.1-2.1-2.1-1.5-2.1-.6-2.1 .3-1.9 1.3-1.8 2.2-1.6 2.7-1.4 3.1-1.2 3.1-1.6 5.6-1 4.2-.8 4.5 0 2.1 .4 .2 .3-.4 .1-.7-.3-.7-.5-.6-.6-.4-.7-.2-.5 .3-.2 .5 .3 .8 .7 1.1 1.1 .9 1.2 .6 1 0 .7-.5 .1-1-.4-1.1-.9-.9-1-.3-.7 .3-.2 .8 .5 1.1 .8 1.1 1.2 .9 1.1 .6 1.1 .2 .6-.2 .4-.4 .2-1.2-.4-1.4-1.2-1.1-1.2-.3-.9 .4-.2 .8 .4 1.2 1 1.4 1.5 1.3 1.4 .7 1.3 .4 .8-.2 .5-.4 .3-.7 .1-.9-.7-1.9-.6-.8-.8-.6-1.5-.5-.7 .2-.6 .4-.3 .5 0 .6 .6 1.6 1.4 1.8 2.1 1.8 2.2 1.2 1.8 .4 .8-.1 .7-.6 .4-.9 .1-1.1-.6-2.6-.7-1.3-1-1.1-1-.8-1.1-.4-1.2 .1-1.2 .5-.8 .9-.3 .9 .1 1.1 .5 1.1 1.2 1.7 1.9 2 7.5 6.5 2.6 2.5 1.9 2.2 2.4 3.1 2.1 3.2 2.5 4.4 10.5 20.5 3.8 5.9 2.1 2.4 2.1 1.6 2.1 .8 2.1-.3 2-1.5 1.8-2.4 1.7-3.1 1.4-3.5 2.2-7.1 1.4-5.7 1.2-6.7 .1-3-.3-.4-.3 .3 0 .7 .3 .8 .6 .7 .8 .4 .7 0 .5-.4 .2-.7-.2-.7-.7-1-1.1-.9-1-.5-1-.1-.5 .5-.1 .9 .4 1 .8 .9 1.1 .4 .8-.2 .5-.7-.2-1-.6-1.1-1.2-1-1.2-.8-1.1-.3-.9 .4-.2 1 .4 1.5 1 1.1 1.2 .5 1.1-.2 .6-.8-.1-1.2-.9-1.4-1.3-1.2-1.7-1-1.3-.4-.6 .1-.5 .2-.3 .6-.1 .7 .6 2.1 1.3 1.5 1.4 .6 .9 0 .7-.4 .5-.5 .2-.7 0-.7-.3-.8-1.4-1.8-1.9-1.7-2.1-1.3-2-.6-.8 .1-.7 .4-.3 .6-.1 .9 .5 2.7 .7 1.5 .9 1.3 1.1 1 1.3 .5 1.3-.1 1.2-.7 .9-1 .4-1.3-.2-1.2-.7-1.4-3-3.2-9-7.6-2.3-2.5-2.3-2.8-4.6-6.9-10.3-18.5-3.8-5.5-2-2.3-2.1-1.7-2.1-.9-2.1 0-2 1-1.9 1.9-1.6 2.6-1.5 3-1.2 3.2-1.8 5.7-1.7 7.4-.3 3.7 .3 .7 .4-.3 .1-.7-.2-.7-.4-.6-.7-.5-.6-.2-.6 .2-.2 .5 .1 .7 .7 1.1 1.1 1 1.1 .6 1.1 .2 .8-.5 .2-1-.4-1.1-.8-.9-1-.4-.8 .3-.3 .7 .4 1.1 .8 1.1 1.1 .9 1.2 .7 1.1 .2 .7-.1 .4-.3 .3-1.2-.5-1.5-1.1-1.1-1.2-.4-1 .4-.2 .8 .4 1.2 1 1.4 1.5 1.2 1.4 .8 1.3 .4 .8-.2 .5-.4 .3-.6 .1-.9-.6-1.9-.6-.9-.8-.6-1.5-.4-.8 .1-.6 .4-.3 .5 0 .6 .6 1.6 1.4 1.8 2 1.7 2 1.2 1.9 .5 .9 0 .7-.5 .4-.6 .2-.9 0-1.2-.3-1.3-.6-1.3-.8-1.3-1-1-1.3-.7-1.3-.1-1 .4-1 .8-.6 1 .1 1.2 .6 1.4 1.2 1.7 2 2 7.2 6.3 2.6 2.4 1.9 2.1 2.3 3 2.1 3.1 2.4 4.3 10.3 20 3.8 6.1 2 2.5 2.1 1.9 2.1 1.1 2.1 0 2.1-1.1 1.8-2.2 1.7-2.9 1.5-3.4 1.3-3.6 2.5-9.6 .9-4.3 .6-4.5 0-1.8-.3-.2-.3 .3 0 .6 .2 .7 1 1.1 .6 .2 .6 0 .5-.3 .2-.5-.2-1-.8-1.1-1.2-.9-1.3-.5-.8 .2-.3 .7 .2 1.2 .8 1 1 .6 1-.1 .6-.7-.1-1-.6-1.1-1.1-1-1.2-.8-1.2-.3-.8 .2-.4 .7 .2 1.3 .6 1.2 .9 .7 1 .4 .9-.2 .6-.6 .2-.7-.2-.8-1.3-1.8-2.2-1.6-1.9-.6-.6 .2-.4 .3-.2 .6 0 .9 .7 2.1 1.4 1.3 .8 .4 .8 .1 .8-.3 .6-.5 .4-.5 .1-.8-.7-1.6-1.7-2-2.6-1.9-2.1-.9-.9-.1-.8 .2-.8 .9 0 1.7 .5 2.2 1.2 2.2 1 1 1.4 .8 1.3 0 1.1-.5 1.2-1.1 .5-1.3-.1-1.1-.7-1.5-1.2-1.6-1.8-1.7-8.9-7.6-4-4.4-2.6-3.6-2.4-3.8-8.5-15.3-3.5-5.7-1.9-2.7-2-2.5-2-1.9-2.2-1.1-2.1-.3-2 .8-1.9 1.6-1.7 2.4-1.5 2.9-1.3 3.1-2.6 8.5-.9 3.9-.7 4.1 .1 1.8 .3 .3 .4-.4 0-.7-.2-.8-.6-.7-.7-.4-.7 0-.4 .4 0 .6 .4 .9 .8 1 1.1 .8 1.1 .5 .9-.1 .6-.6 .1-1.1-.5-1-.9-.8-1-.2-.7 .3-.1 .8 .4 1.1 .9 1.1 1.2 .9 1.1 .6 1.1 .1 .6-.2 .4-.4 .2-1.2-.5-1.4-1.2-1.1-1.2-.3-.9 .4-.2 1 .5 1.2 1.1 1.4 1.5 1.2 1.6 .8 1.2 .2 .6-.2 .5-.4 .3-.7 0-.9-.6-1.9-.7-.8-.8-.6-1.5-.4-.7 .1-.6 .5-.3 .5 0 .6 .6 1.6 1.5 1.8 2.1 1.7 2.2 1.3 1.8 .4 .9-.2 .6-.6 .4-.8 .1-1-.6-2.5-.7-1.4-.9-1.2-1-.8-1.1-.4-1.2 0-1.2 .5-.9 .8-.3 .9 0 1.1 .6 1.3 1.2 1.7 1.9 2.1 9.8 8.5 1.9 2.1 2.2 2.9 2.1 3.1 2.4 4.1 10 19.6 3.7 6.2 2 2.6 2.1 2.2 2.1 1.3 2.1 .3 2.1-.8 1.9-1.8 1.8-2.7 1.5-3.3 2.5-7.2 1.6-6.3 1.4-7.5 .3-3.6-.3-.5-.4 .3 0 .7 .4 .8 .5 .6 .7 .4 .7 .1 .6-.3 .2-.5-.1-.8-.7-1-.9-.9-1.2-.7-1-.1-.6 .5-.1 .8 .4 1.1 .8 .8 1.1 .5 .9-.2 .4-.6-.1-1-.6-1.1-1.1-1.1-1.2-.7-1.2-.3-.9 .3-.3 1 .4 1.5 1 1.1 1.2 .5 1.1-.1 .6-.9-.1-1.1-.8-1.4-1.3-1.2-1.6-1-1.3-.4-.7 0-.5 .2-.3 .5-.1 .8 .5 2 1.2 1.6 1.5 .7 .9-.1 .7-.3 .5-.5 .3-.7 0-.7-.3-.8-1.3-1.8-1.9-1.7-2.2-1.3-1.9-.7-.9 .1-.6 .3-.4 .6-.2 .9 .5 2.6 .6 1.5 .9 1.4 1 1 1.2 .5 1.3 .1 1.1-.4 1.1-1 .6-1.2 0-1.2-.6-1.4-1.2-1.6-1.9-2-9.3-7.9-4.1-4.6-2.7-3.9-2.6-4.1-7.3-13.3-3.4-5.7-3.8-5.4-2.1-2-2.1-1.4-2.1-.6-2.1 .4-1.9 1.4-1.8 2.2-1.6 2.8-1.3 3.1-1.2 3.1-1.6 5.6-1 4.1-.7 4.4 0 2 .3 .3 .4-.4 .1-.7-.2-.7-.5-.6-.6-.5-.8-.1-.5 .2-.2 .5 .2 .8 .8 1.1 1 .9 1.1 .6 1.1 .1 .7-.5 .2-1-.3-1.1-.9-.9-1-.3-.8 .2-.2 .8 .4 1.1 .8 1 1.1 1 1.2 .6 1.1 .3 .6-.2 .4-.4 .3-1.1-.5-1.5-1.1-1.1-1.2-.4-.9 .4-.2 .9 .4 1.2 1 1.3 1.5 1.3 1.4 .8 1.3 .3 .8-.2 .5-.4 .3-.7 .1-.9-.7-1.9-.6-.8-.8-.6-1.5-.4-.8 .1-.6 .5-.2 .5-.1 .6 .6 1.6 1.5 1.8 2.1 1.7 2.2 1.3 1.8 .4 .9-.2 .6-.5 .4-.8 .1-1-.5-2.5-.7-1.4-.9-1.2-1-.8-1.1-.5-1.2 0-1.2 .4-.9 .9-.4 .9 .1 1 .5 1.4 1.2 1.7 1.9 2 7.2 6.2 2.9 2.8 2 2.2 2.3 3.1 2.1 3.2 2.6 4.5 10.6 20.6 3.8 5.9 2.1 2.3 2.1 1.6 2.1 .6 2.1-.4 2-1.5 1.8-2.5 1.6-3.2 2.6-7.1 1.7-6.5 1.6-8.1 .3-3.8-.2-.6-.4 .3 0 .7 .3 .8 .5 .6 .8 .5 .7 0 .6-.3 .2-.7-.2-.6-.7-1.1-1-.9-1-.5-1-.2-.6 .5-.1 .8 .3 1.1 .8 .8 1.1 .5 .9-.1 .5-.7-.1-1-.7-1.1-1.1-1-1.2-.8-1.2-.3-.9 .3-.3 1 .5 1.4 .8 1.2 1.3 .6 1.2-.2 .6-.9-.2-1.2-.8-1.3-1.4-1.3-1.6-1-1.3-.3-.6 0-.5 .3-.3 .5-.1 .8 .6 2.1 1.3 1.5 1.4 .6 .9-.1 .7-.3 .5-.5 .2-.8-.3-1.5-1.4-1.8-1.9-1.7-2.2-1.3-1.9-.6-.8 .1-.7 .4-.3 .7-.1 .9 .5 2.7 .7 1.5 .9 1.3 1.1 .9 1.3 .6 1.3-.2 1.2-.7 .9-1 .4-1.2-.2-1.2-.8-1.5-2.9-3.2-9-7.6-2.4-2.5-2.3-2.8-4.6-7-10.4-18.6-3.8-5.5-2-2.3-2.1-1.6-2.1-.8-2.1 .1-2 1.1-1.9 2-1.6 2.7-1.4 3-2.2 6.1-1.8 7.1-1 5.8 .2 1.3 .3 .1 .3-.3 .1-.7-.2-.7-.5-.7-.6-.4-.6-.2-.6 .2-.2 .5 .1 .7 .7 1.1 1.1 1 1.1 .6 1.1 .1 .7-.5 .3-1-.4-1-.9-1-1-.3-.8 .2-.2 .8 .4 1.1 .8 1 1.1 1 1.2 .6 1.1 .3 .6-.2 .5-.3 .3-1.2-.5-1.5-1.1-1.1-1.3-.3-.9 .3-.2 .9 .4 1.2 1 1.3 1.5 1.3 1.4 .8 1.3 .3 .8-.1 .5-.5 .3-.6 .1-.9-.6-1.9-.7-.8-.7-.6-1.5-.5-.8 .1-.6 .4-.3 .5 0 .7 .6 1.5 1.4 1.8 2 1.8 2.1 1.2 1.8 .5 .9-.1 .7-.4 .4-.7 .2-.9 0-1.2-.3-1.3-.6-1.3-.8-1.3-1-1-1.4-.7-1.2 0-1.1 .3-1 .8-.5 1.1 .1 1.2 .6 1.3 1.2 1.7 2 2.1 7.3 6.2 2.5 2.4 1.9 2.2 2.4 3 2 3.2 2.5 4.3 10.4 20.2 3.8 6 2 2.5 2.1 1.8 2.1 1 2.1-.1 2-1.2 1.9-2.3 1.7-3 1.4-3.4 2.3-7.1 1.5-6 1.2-7 .2-3.1-.2-.5-.4 .3 .1 1.2 1 1.1 .6 .3 .6 .1 .5-.3 .3-.4 0-.6-.3-.7-1.2-1.4-1.8-.9-.7 0-.5 .4-.1 .7 .2 .9 .6 .9 .8 .6 1 .2 .8-.5 .2-.8-.4-1.1-1-1.2-1.2-1-1.3-.5-1 .1-.5 .7 .1 1.2 .6 1.3 .9 .8 1.2 .4 1.1-.4 .3-.4 .2-.6-.4-1.3-1.1-1.4-1.6-1.2-1.7-.8-1.2-.1-.5 .3-.2 .4-.1 1.4 .7 1.9 1.2 1.3 .8 .4 .8 .1 .8-.2 .7-.3 .4-.6 .2-.8-.5-1.5-1.5-1.8-2.2-1.8-2.2-1.2-1.8-.3-.8 .2-.4 .5-.3 .7 0 1.1 .6 2.5 1.5 2.4 1 1 1.4 .6 1.3-.2 1-.5 1-1 .5-1.2-.1-1.2-.7-1.4-1.3-1.6-1.7-1.8-8.9-7.6-4.1-4.4-2.6-3.6-2.5-3.9-8.5-15.4-3.4-5.7-2-2.7-2-2.4-2.1-1.9-2.1-1-2.1-.2-2 .8-1.9 1.8-1.7 2.4-1.5 3-1.3 3.1-2.5 8.3-.9 3.9-.6 4 .1 1.8 .3 .2 .4-.4 0-.7-.3-.8-.5-.7-.7-.3-.7-.1-.5 .4 0 .7 .4 .8 .8 1 1.2 .9 1.1 .4 .9 0 .6-.7 .1-1-.5-1.1-.9-.7-1.1-.3-.6 .4-.1 .8 .4 1.1 .9 1 1.2 1 1.1 .5 1.1 .2 .6-.3 .4-.4 .2-1.2-.5-1.4-1.2-1-1.2-.3-.9 .4-.2 .8 .5 1.3 1 1.3 1.5 1.3 1.6 .8 1.2 .2 .7-.2 .5-.4 .3-.7 0-.9-.7-1.9-.6-.8-.8-.6-1.5-.4-.7 .2-.6 .4-.3 .5 0 .7 .6 1.6 1.5 1.8 2.1 1.7 2.2 1.2 1.8 .4 .9-.2 .6-.6 .4-.7 .1-1.1-.6-2.5-.7-1.4-.9-1.1-1-.9-1.1-.4-1.3 0-1.1 .5-.9 .9-.4 .9 .1 1 .6 1.4 1.2 1.7 1.9 2 7.3 6.2 2.5 2.4 1.9 2.1 2.3 3 2 3 2.5 4.2 10.1 19.7 3.7 6.2 2 2.6 2.1 2.1 2.1 1.2 2.1 .2 2.1-.9 1.9-1.9 1.7-2.8 1.6-3.3 2.4-7.2 1.5-6.2 1.4-7.4 .3-3.4-.3-.6-.4 .3 0 .8 .4 .7 .5 .7 .7 .4 .7 .1 .6-.3 .2-.6-.1-.8-.7-1-1-.9-1.1-.6-1-.1-.6 .4-.1 .9 .4 1 .8 .9 1.1 .5 .9-.2 .4-.7-.1-1-.7-1.1-1.1-1-1.2-.8-1.1-.3-.9 .3-.3 1 .4 1.5 .9 1.1 1.3 .6 1.1-.2 .6-.8-.1-1.2-.8-1.3-1.3-1.3-1.6-1-1.4-.4-.6 0-.5 .3-.3 .5-.1 .7 .5 2.1 1.2 1.5 1.5 .7 .9-.1 .7-.3 .5-.5 .3-.7-.1-.7-.2-.8-1.3-1.8-2-1.7-2.1-1.3-1.9-.6-.9 0-.7 .4-.3 .6-.2 .8 .5 2.7 .6 1.5 .9 1.4 1.1 1 1.1 .5 1.3 0 1.1-.4 1.1-1 .6-1.2 0-1.2-.6-1.4-1.2-1.6-1.9-1.9-9.3-8-4.2-4.6-2.7-3.9-2.6-4.2-7.4-13.4-3.4-5.7-1.8-2.8-2-2.5-2.1-2.1-2.1-1.3-2.1-.4-2.1 .5-1.9 1.5-1.8 2.2-1.5 2.9-1.4 3.1-1.1 3.1-1.6 5.5-.9 4-.8 4.3 .1 2 .3 .2 .4-.3 .1-.7-.3-.7-.4-.7-.6-.4-.8-.2-.5 .2-.2 .6 .2 .7 .8 1.1 1 1 1.1 .5 1.1 .1 .7-.5 .2-1-.4-1-.8-1-1-.3-.8 .3-.2 .8 .4 1 .8 1.1 1.1 1 1.2 .6 1.1 .2 .6-.2 .4-.3 .3-1.2-.5-1.5-1.1-1.1-1.3-.3-.9 .4-.2 .8 .5 1.3 1 1.3 1.5 1.3 1.4 .7 1.3 .3 .8-.1 .5-.5 .3-.7 0-.8-.6-1.9-.7-.9-.7-.6-1.5-.4-.8 .2-.6 .4-.2 .5-.1 .6 .6 1.6 1.5 1.8 2.1 1.8 2 1.1 1.8 .5 .9-.1 .7-.5 .5-.9 .1-1-.5-2.5-.7-1.4-.9-1.2-1-.8-1.1-.5-1.3 0-1.2 .5-.8 .8-.4 1 0 1 .6 1.4 1.2 1.6 1.9 2.1 9.7 8.5 2.4 2.7 2.4 3.1 2.1 3.3 2.6 4.5 7.3 14.5 3.4 6.3 1.8 3 2 2.8 2.1 2.3 2.1 1.5 2.1 .5 2.1-.6 2-1.6 1.8-2.6 1.6-3.2 2.5-7.1 1.7-6.4 1.5-7.9 .3-3.8-.3-.6-.3 .3 0 .7 .3 .8 .5 .7 .7 .4 .7 .1 .6-.3 .2-.6-.1-.7-.6-1.1-1-.9-1.2-.6-.9-.1-.6 .4-.1 .9 .3 1 .8 .9 1.1 .5 .9-.2 .4-.6-.1-1.1-.6-1-1.1-1.1-1.2-.7-1.2-.4-.9 .3-.3 1 .4 1.5 .9 1.1 1.3 .6 1.2-.2 .6-.9-.2-1.1-.9-1.4-1.3-1.3-1.6-.9-1.3-.4-.6 .1-.5 .3-.3 .5-.1 .8 .5 1.8 1.2 1.6 .8 .5 .8 .2 .8 0 .7-.3 .5-.5 .3-.7 0-.7-.3-.9-1.3-1.7-1.9-1.7-2.1-1.4-2-.6-.8 0-.7 .4-.4 .5-.1 .9 .1 1.5 .4 1.5 1.4 2.5 1 1 1.4 .7 1.3-.1 1-.5 1.1-1 .5-1.2 0-1.2-.7-1.4-1.2-1.6-1.7-1.8-9.3-7.8-4-4.6-2.7-3.8-2.6-4-8.8-15.9-3.5-5.7-2-2.6-2-2.2-2.2-1.6-2.1-.7-2 .2-2 1.2-1.8 2.1-1.7 2.7-1.4 3-1.1 3.2-1.8 5.6-1 4.3-.8 4.6 0 2.2 .3 .2 .4-.3 .1-.6-.1-.6-1-1.2-.6-.2-.6 0-.4 .3 0 .5 .4 1.2 1 1 1.2 .8 1.2 .4 .9-.4 .4-.9-.3-1.2-.9-1-1-.4-.8 .2-.3 .8 .3 1 .8 1.1 1.1 1 1.1 .6 1.2 .3 .6-.1 .5-.3 .4-1.1-.5-1.5-1.1-1.2-1.1-.4-1 .3-.3 .8 .3 1.2 1 1.4 1.4 1.2 1.4 .9 1.4 .4 .8-.2 .5-.3 .4-.6 .1-1.1-.6-1.9-.7-.8-.7-.6-1.6-.5-.7 .2-.6 .4-.3 .5 0 .6 .5 1.6 1.5 1.8 2 1.7 2.3 1.3 1.8 .4 1-.2 .6-.6 .4-1 0-1.2-.3-1.5-.6-1.4-.8-1.3-1.1-1-1-.6-1.1-.1-1.1 .2-1 .6-.6 .8-.3 .9 .1 1.1 .6 1.2 1 1.5 1.7 1.8 8.6 7.4 4.2 4.6 2.5 3.3 3 5 9.6 18.8 3.6 6.2 1.9 2.9 2.1 2.5 2.1 1.7 2.1 .9 2.1-.3 2-1.3 1.9-2.3 1.6-3 1.5-3.5 1.2-3.6 2.4-9.4 1.4-8.5-.1-1.7-.3-.1-.2 .3 0 .6 .2 .7 1.1 1.1 .7 .2 .6-.1 .4-.4 .1-.6-.4-1.1-1-1-1.1-.8-1.1-.3-.8 .2-.2 .8 .3 1.2 .7 .9 1 .5 .9 0 .6-.6 0-1-.6-1.1-1-1.1-1.2-.8-1.2-.3-1 .2-.4 .9 .4 1.4 .9 1.3 1.3 .6 1.1-.1 .7-.8-.1-1.2-.7-1.2-1.3-1.3-1.5-1.1-1.4-.4-.8-.1-.5 .3-.3 .4-.2 .7 .5 2.1 1.2 1.6 .8 .5 .8 .2 .7 0 .8-.3 .5-.5 .3-.7 0-.7-.3-.8-1.2-1.8-1.9-1.7-2.1-1.3-2-.7-.8 0-.7 .4-.5 .7-.1 .9 .5 2.7 .7 1.5 .9 1.3 1 1 1.4 .5 1.3-.1 1-.6 1-1 .5-1.2-.1-1.2-.7-1.4-1.3-1.6-1.8-1.8-8.9-7.6-4-4.4-2.7-3.7-2.5-3.9-8.6-15.5-3.4-5.7-2-2.7-2-2.4-2.1-1.8-2.1-1-2.1 0-2 .9-1.9 1.8-1.7 2.5-1.4 3-1.3 3.1-2.5 8.3-.8 3.8-.6 3.9 .1 1.8 .3 .1 .3-.3 .1-.6-.2-.8-.4-.6-.6-.5-.7-.2-.6 .2-.2 .4 .1 .7 .6 1.1 1.1 1.1 1.2 .6 1.1 .2 .7-.5 .3-1-.4-1.1-.8-.9-1-.4-.8 .3-.3 .7 .4 1.1 .8 1.1 1.1 .9 1.2 .7 1.1 .2 .6-.1 .5-.3 .3-1.2-.5-1.5-1.1-1.1-1.2-.4-1 .4-.2 .8 .4 1.2 1 1.4 1.4 1.2 1.4 .8 1.4 .4 .8-.2 .5-.4 .3-.6 .1-.9-.6-1.9-.6-.8-.8-.7-1.5-.4-.8 .1-.6 .4-.3 .5 0 .6 .5 1.6 1.4 1.8 2.1 1.7 2 1.2 1.8 .5 1 0 .7-.4 .4-.7 .2-.9 0-1.1-.3-1.3-.5-1.4-.9-1.3-.9-1-1.4-.7-1.3-.1-1 .4-1 .8-.5 1 0 1.2 .6 1.4 1.2 1.6 1.9 2.1 7.3 6.2 2.5 2.4 2 2.1 2.2 3 2.1 3.1 2.4 4.2 10.3 19.9 3.7 6.1 2 2.6 2.1 2 2.1 1.1 2.1 .1 2-1 1.9-2 1.8-2.8 1.5-3.4 2.3-7.2 1.6-6.1 1.3-7.3 .3-3.3-.3-.5-.4 .3 .2 1.2 .9 1.1 .6 .3 .7 0 .4-.3 .3-.4-.2-1-.8-1.1-1.1-1-1.3-.5-.8 .1-.4 .7 .2 1.1 .7 1.1 1 .6 1 .1 .6-.6 .1-1-.5-1-.9-1-1.2-.9-1.2-.5-1.1 .1-.5 .8 .2 1.4 .9 1.4 1.2 .7 1.2-.1 .8-.7 0-1.1-.8-1.4-1.2-1.2-1.6-1.1-1.3-.5-.8-.1-.5 .3-.5 .5-.1 .8 .6 2 .6 1 .8 .7 .8 .4 .9 .2 1-.3 .6-.5 .3-.7 0-.8-.3-.9-.7-1.1-2.3-2.2-2.7-1.6-1.2-.4-.9-.1-.7 .2-.5 .5-.3 1.5 .5 2.4 1.1 2.2 1.2 1.4 1.4 .7 1.5 0 1.4-.8 1-1.3" fill="none" stroke="#0000ff" stroke-width="1.3" stroke-linejoin="round" stroke-linecap="round"/>
<path d="M482.6 487.6L482.6 567.2L563.7 604.5L668.5 576.6" fill="none" stroke="#111" stroke-width="1.45" stroke-linejoin="miter"/>
<text x="478.3" y="569.1" font-size="5.4" text-anchor="end" font-family="'Liberation Sans',sans-serif" fill="#262626">-15</text>
<text x="478.3" y="555.8" font-size="5.4" text-anchor="end" font-family="'Liberation Sans',sans-serif" fill="#262626">-10</text>
<text x="478.3" y="542.6" font-size="5.4" text-anchor="end" font-family="'Liberation Sans',sans-serif" fill="#262626">-5</text>
<text x="478.3" y="529.3" font-size="5.4" text-anchor="end" font-family="'Liberation Sans',sans-serif" fill="#262626">0</text>
<text x="478.3" y="516" font-size="5.4" text-anchor="end" font-family="'Liberation Sans',sans-serif" fill="#262626">5</text>
<text x="478.3" y="502.8" font-size="5.4" text-anchor="end" font-family="'Liberation Sans',sans-serif" fill="#262626">10</text>
<text x="478.3" y="489.5" font-size="5.4" text-anchor="end" font-family="'Liberation Sans',sans-serif" fill="#262626">15</text>
<text x="484.6" y="578.3" font-size="5.4" text-anchor="middle" font-family="'Liberation Sans',sans-serif" fill="#262626">2</text>
<text x="500.8" y="585.8" font-size="5.4" text-anchor="middle" font-family="'Liberation Sans',sans-serif" fill="#262626">1</text>
<text x="517" y="593.2" font-size="5.4" text-anchor="middle" font-family="'Liberation Sans',sans-serif" fill="#262626">0</text>
<text x="533.3" y="600.7" font-size="5.4" text-anchor="middle" font-family="'Liberation Sans',sans-serif" fill="#262626">-1</text>
<text x="549.5" y="608.2" font-size="5.4" text-anchor="middle" font-family="'Liberation Sans',sans-serif" fill="#262626">-2</text>
<text x="566.3" y="611.6" font-size="5.4" text-anchor="start" font-family="'Liberation Sans',sans-serif" fill="#262626">0</text>
<text x="601.2" y="602.3" font-size="5.4" text-anchor="start" font-family="'Liberation Sans',sans-serif" fill="#262626">100</text>
<text x="636.2" y="593" font-size="5.4" text-anchor="start" font-family="'Liberation Sans',sans-serif" fill="#262626">200</text>
<text x="671.1" y="583.7" font-size="5.4" text-anchor="start" font-family="'Liberation Sans',sans-serif" fill="#262626">300</text>
<path d="M482.6 567.2h-2.8M482.6 553.9h-2.8M482.6 540.7h-2.8M482.6 527.4h-2.8M482.6 514.1h-2.8M482.6 500.9h-2.8M482.6 487.6h-2.8M490.7 570.9l-2.5 0.7M506.9 578.4l-2.5 0.7M523.1 585.9l-2.5 0.7M539.4 593.3l-2.5 0.7M555.6 600.8l-2.5 0.7M563.7 604.5l2.4 1.1M598.6 595.2l2.4 1.1M633.6 585.9l2.4 1.1M668.5 576.6l2.4 1.1" stroke="#000" stroke-width="1.2" fill="none"/>
<text x="519" y="613.5" font-size="7.3" text-anchor="middle" font-family="'Liberation Serif',serif" font-style="italic" fill="#262626">x</text>
<text x="610" y="615.5" font-size="7.3" text-anchor="middle" font-family="'Liberation Serif',serif" font-style="italic" fill="#262626">t</text>
<text x="467.5" y="527.4" font-size="7.4" text-anchor="middle" font-family="'Liberation Serif',serif" transform="rotate(-90 467.5 527.4)" fill="#262626">dx/dt</text>
<text x="340.5" y="653.5" font-size="17.5" text-anchor="middle" font-family="'Liberation Serif',serif" font-weight="bold" fill="#000">(C1)</text>
<path d="M14.6 757.4l.1-46.3 .1-3.2 .1 1.3 .3 29 .1 64.8 .4-27.3 .2 26.6 .2 4.3 .3-29.2 .2-65.3 .4 27.7 .2-26.9 .2-4.9 .3 28 .2 66.8 .4-27.4 .3 31.6 .4-28.7 .2-66.4 .3 27.7 .4-31.8 .4 28.3 .1 66.7 .4-27.5 .4 31.7 .3-27.8 .2-66.9 .4 27.3 .3-31.8 .4 28.4 .2 66.6 .4-27.5 .3 31.7 .4-27.9 .2-66.9 .3 27.4 .4-31.8 .3 27.5 .2 67.6 .4-27.6 .3 31.7 .4-28.1 .2-66.8 .4 27.5 .3-31.8 .4 27.6 .2 67.5 .4-27.7 .3 31.8 .4-28.2 .2-66.7 .3 27.4 .4-31.7 .3 27.7 .2 67 .4-27.3 .3 31.8 .4-27.3 .2-67.7 .4 27.5 .3-31.7 .4 27.8 .2 67 .4-27.4 .3 31.9 .4-27.5 .2-67.6 .3 27.5 .4-31.7 .3 28 .2 66.8 .4-27.4 .3 31.9 .4-27.6 .2-67.6 .4 27.6 .3-31.8 .4 27.2 .2 67.8 .4-27.4 .2 29.8 .1 1.9 .1-2.9 .2-19.2 .3-73.4 .3 28.1 .2-28.6 .2-3.3 .1 3.2 .3 29.9 .1 62 .4-27.5 .3 31.8 .4-27.9 .2-66.9 .4 27.3 .2-27.4 .2-3.8 .3 28.9 .2 65.5 .4-27.5 .3 31.8 .4-27 .1-67.9 .4 27.4 .2-27 .2-4.6 .3 28.3 .2 66.6 .4-27.6 .3 31.8 .4-27.1 .2-67.9 .4 27.4 .3-31.8 .4 27.7 .2 67.5 .4-27.7 .3 31.8 .4-28.1 .1-66.8 .4 27.4 .4-31.8 .3 27.8 .2 67 .4-27.3 .3 31.8 .4-28.3 .2-66.7 .4 27.5 .3-31.8 .4 27.9 .2 67 .3-27.4 .4 31.8 .4-28.4 .1-66.6 .4 27.5 .4-31.8 .3 27 .2 67.9 .4-27.4 .3 31.8 .4-27.5 .2-67.6 .4 27.6 .3-31.8 .4 27.1 .2 67.9 .3-27.4 .4 31.7 .4-27.6 .1-67 .4 27.1 .3-31.8 .4 27.3 .2 67.7 .4-27.4 .3 31.7 .4-27.7 .2-67 .4 27.3 .1-26.9 .2-4.8 .4 28.2 .2 66.7 .3-27.5 .4 31.7 .3-26.8 .2-68 .4 27.4 .3-31.9 .4 27.5 .2 67.6 .4-27.5 .3 31.7 .4-26.9 .2-67.9 .4 27.3 .3-31.8 .4 27.6 .2 67.6 .3-27.6 .3 31.7 .4-27.1 .2-67.8 .4 27.4 .3-31.8 .4 26.7 .2 68.9 .4-28.1 .2 28.2 .1 3.7 .1-3.2 .3-29.9 .2-62 .4 27.5 .3-31.8 .4 26.9 .2 68.7 .3-28.1 .2 28.3 .2 3.6 .1-3.2 .3-30 .1-61.9 .4 27.5 .3-31.8 .4 27 .2 68.6 .4-28.1 .2 28.3 .1 3.6 .1-3.3 .3-28.8 .2-63.1 .4 27.6 .3-31.8 .4 27.1 .2 68.4 .3-27.9 .2 28.3 .2 3.5 .1-3.3 .3-29 .1-62.4 .4 27.1 .3-31.8 .4 27.2 .2 68.4 .4-28 .2 28.3 .1 3.5 .1-3.3 .3-29.1 .2-62.4 .4 27.3 .3-31.9 .4 27.3 .2 68.3 .3-28 .2 28.4 .2 3.4 .1-3.4 .3-29.2 .1-62.3 .4 27.4 .3-31.9 .4 27.5 .2 67.6 .4-27.6 .2 28.9 .1 2.9 .2-4.3 .2-29.7 .2-60.8 .4 27.4 .3-31.8 .4 26.5 .1 68.6 .4-27.6 .3 31.8 .4-27.1 .2-67.9 .4 27.4 .3-31.7 .4 26.6 .2 68.5 .4-27.7 .3 31.9 .4-27.3 .2-67.7 .4 27.4 .3-31.7 .4 26.7 .1 68 .4-27.3 .3 31.9 .4-27.4 .2-67.7 .4 27.5 .3-31.7 .4 26.8 .2 68 .4-27.4 .3 31.9 .4-26.5 .2-69.1 .3 28.1 .2-28.5 .2-3.4 .1 3.4 .3 29.4 .1 62.1 .4-27.3 .3 31.8 .4-26.6 .2-69 .4 28.1 .2-28.6 .1-3.3 .2 3.2 .2 29.7 .2 62.1 .4-27.4 .3 31.8 .4-26.7 .2-68.9 .3 28.1 .2-28.2 .2-3.7 .1 3.2 .3 29.9 .1 62 .4-27.5 .3 31.8 .4-26.9 .2-68.7 .4 28.1 .2-28.3 .1-3.6 .1 3.2 .3 30.1 .2 61.8 .4-27.5 .3 31.8 .4-27 .2-68.5 .3 28 .2-28.3 .2-3.6 .1 3.3 .3 30.1 .1 61.3 .4-27.1 .3 31.7 .4-27 .2-68.3 .4 27.8 .2-30.7 .1-1 .1 1.9 .2 12.2 .3 80.5 .4-27.1 .3 31.8 .4-27.2 .2-67.8 .3 27.4 .4-31.7 .3 26.7 .2 68 .4-27.3 .3 31.8 .4-27.3 .2-67.7 .4 27.5 .3-31.8 .4 26.9 .2 68 .4-27.4 .3 31.8 .4-27.4 .1-67.6 .4 27.5 .4-31.8 .3 27 .2 67.9 .4-27.4 .3 31.8 .4-26.5 .2-68.6 .4 27.6 .3-31.8 .4 27.2 .2 67.8 .4-27.4 .3 31.7 .4-26.6 .1-68.1 .4 27.3 .3-31.8 .4 26.2 .2 69.3 .4-28 .2 28.3 .1 3.5 .2-3.4 .2-29.1 .2-62.3 .4 27.3 .3-31.8 .4 26.3 .2 69.2 .4-28 .2 28.4 .1 3.4 .1-3.4 .3-29.2 .1-62.3 .4 27.4 .3-31.8 .4 26.4 .2 69.1 .4-28.1 .2 28.5 .1 3.4 .2-3.4 .2-29.4 .2-62.2 .4 27.4 .3-31.7 .4 26.5 .2 69 .4-28.1 .2 29.5 .1 2 .2-6.7 .4-88.5 .3 28 .2-29.6 .2-1.7 .2 6.9 .3 88.1 .4-28 .2 27.4 .1 4.1 0 .3 .1-.9 .3-30.8 .2-63.3 .4 27.5 .1-26.5 .2-5 .4 28.7 .2 65.9 .3-27.4 .2 26.9 .2 4.4 .4-29 .1-65.5 .4 27.5 .4-31.7 .3 27.9 .2 66.9 .4-27.4 .2 27 .2 4.7 .3-28.4 .2-66.6 .4 27.6 .3-31.7 .4 28.1 .2 66.8 .3-27.4 .4 31.6 .4-28.6 .1-65.9 .4 27.1 .4-31.7 .3 27.1 .2 67.8 .4-27.4 .3 31.7 .4-27.7 .2-67 .4 27.3 .3-31.8 .4 27.3 .2 67.7 .3-27.5 .4 31.7 .4-27.8 .1-67 .4 27.4 .3-31.9 .4 27.5 .2 67.6 .4-27.5 .3 31.7 .4-28 .2-66.8 .4 27.4 .3-31.9 .4 27.6 .2 67.6 .3-27.6 .4 31.7 .4-28.1 .1-66.8 .4 27.4 .3-31.7 .4 27.6 .2 67.1 .4-27.3 .3 31.8 .4-27.2 .2-67.8 .4 27.5 .3-31.7 .4 27.8 .1 66.9 .4-27.3 .4 31.8 .3-27.3 .2-67.7 .4 27.5 .3-31.8 .4 27 .2 60.6 0 7.1 .4-27.1 .2 28.2 .1 3.5 .1-2.6 .3-29.4 .2-63.1 .4 27.6 .3-31.7 .4 28 .1 66.9 .4-27.4 .2 26.9 .2 4.3 .4-29.2 .1-64.9 .4 27.1 .3-31.8 .4 27.2 .2 67.8 .4-27.4 .2 26.4 .1 5.2 .4-28.7 .2-65.9 .4 27.3 .3-31.9 .4 27.3 .1 67.8 .4-27.5 .2 26.5 .2 5.1 .3-28.8 .2-65.9 .4 27.4 .3-31.9 .4 27.5 .2 67.6 .4-27.5 .3 31.7 .4-27.9 .2-66.9 .4 27.4 .3-31.9 .4 27.6 .1 67.6 .4-27.6 .4 31.7 .3-28.1 .2-66.8 .4 27.4 .3-31.8 .4 27.7 .2 67.5 .4-27.7 .3 31.8 .4-28.2 .2-66.7 .4 27.4 .3-31.8 .4 27.8 .1 67 .4-27.3 .4 31.8 .3-27.3 .2-67.7 .4 27.5 .3-31.8 .4 28 .2 66.9 .4-27.4 .3 31.8 .4-27.4 .2-67.6 .4 27.5 .3-31.8 .4 27.1 .1 67.8 .4-27.3 .4 31.7 .3-22.8 .3-68.8 .3 24.1 .2-28.1 .1-3.7 .2 3.2 .2 29.7 .2 62.1 .4-27.4 .3 31.7 .4-27.7 .2-67.4 .3 27.7 .2-27.3 .2-3.9 .4 28.7 .1 65.7 .4-27.5 .3 31.8 .4-27.9 .2-66.9 .4 27.3 .2-26.9 .2-4.7 .3 28.2 .2 66.6 .4-27.5 .3 31.8 .4-27 .2-67.9 .3 27.4 .4-31.8 .4 28.5 .1 66.6 .4-27.6 .3 31.8 .4-27.1 .2-67.9 .4 27.4 .3-31.7 .4 27.6 .2 67.5 .4-27.7 .2 27.8 .1 3.8 .1-1" fill="none" stroke="#0000ff" stroke-width="1.5" stroke-linejoin="round" stroke-linecap="round"/>
<rect x="14.6" y="685.7" width="182.5" height="143.4" fill="none" stroke="#111" stroke-width="1.4"/>
<text x="14.6" y="835.8" font-size="5.4" text-anchor="middle" font-family="'Liberation Sans',sans-serif" fill="#262626">0</text>
<text x="45" y="835.8" font-size="5.4" text-anchor="middle" font-family="'Liberation Sans',sans-serif" fill="#262626">50</text>
<text x="75.4" y="835.8" font-size="5.4" text-anchor="middle" font-family="'Liberation Sans',sans-serif" fill="#262626">100</text>
<text x="105.8" y="835.8" font-size="5.4" text-anchor="middle" font-family="'Liberation Sans',sans-serif" fill="#262626">150</text>
<text x="136.2" y="835.8" font-size="5.4" text-anchor="middle" font-family="'Liberation Sans',sans-serif" fill="#262626">200</text>
<text x="166.7" y="835.8" font-size="5.4" text-anchor="middle" font-family="'Liberation Sans',sans-serif" fill="#262626">250</text>
<text x="197.1" y="835.8" font-size="5.4" text-anchor="middle" font-family="'Liberation Sans',sans-serif" fill="#262626">300</text>
<text x="12.4" y="831" font-size="5.4" text-anchor="end" font-family="'Liberation Sans',sans-serif" fill="#262626">-3</text>
<text x="12.4" y="807.1" font-size="5.4" text-anchor="end" font-family="'Liberation Sans',sans-serif" fill="#262626">-2</text>
<text x="12.4" y="783.2" font-size="5.4" text-anchor="end" font-family="'Liberation Sans',sans-serif" fill="#262626">-1</text>
<text x="12.4" y="759.3" font-size="5.4" text-anchor="end" font-family="'Liberation Sans',sans-serif" fill="#262626">0</text>
<text x="12.4" y="735.4" font-size="5.4" text-anchor="end" font-family="'Liberation Sans',sans-serif" fill="#262626">1</text>
<text x="12.4" y="711.5" font-size="5.4" text-anchor="end" font-family="'Liberation Sans',sans-serif" fill="#262626">2</text>
<text x="12.4" y="687.6" font-size="5.4" text-anchor="end" font-family="'Liberation Sans',sans-serif" fill="#262626">3</text>
<path d="M14.6 829.1v-1.8M14.6 685.7v1.8M45 829.1v-1.8M45 685.7v1.8M75.4 829.1v-1.8M75.4 685.7v1.8M105.8 829.1v-1.8M105.8 685.7v1.8M136.2 829.1v-1.8M136.2 685.7v1.8M166.7 829.1v-1.8M166.7 685.7v1.8M197.1 829.1v-1.8M197.1 685.7v1.8M14.6 829.1h1.8M197.1 829.1h-1.8M14.6 805.2h1.8M197.1 805.2h-1.8M14.6 781.3h1.8M197.1 781.3h-1.8M14.6 757.4h1.8M197.1 757.4h-1.8M14.6 733.5h1.8M197.1 733.5h-1.8M14.6 709.6h1.8M197.1 709.6h-1.8M14.6 685.7h1.8M197.1 685.7h-1.8" stroke="#000" stroke-width="1.2" fill="none"/>
<text x="105.8" y="844.1" font-size="7.3" text-anchor="middle" font-family="'Liberation Serif',serif" font-style="italic" fill="#262626">t</text>
<text x="3.2" y="757.4" font-size="7.3" text-anchor="middle" font-family="'Liberation Serif',serif" font-style="italic" transform="rotate(-90 3.2 757.4)" fill="#262626">x</text>
<path d="M334 763.4l.3-3.5 .5-2.1 1.6-4.8 1.2-2.8 3.3-6.5 2.2-3.7 5.6-8.1 3.4-4.2 3.8-4.1 4.3-3.5 4.5-2.7 4.8-1.5 4.8 .1 4.8 1.9 4.4 3.5 4.1 4.6 3.5 5.4 3 5.4 2.4 5.2 3.5 8.2 4.3 11.2 .5 1.9-.3 1.1-.7 1-1.3 .9-1.7 1-2.7 1.1-6 1.8-13.7 3.5-5.7 1.7-6.7 2.4-6.4 3.2-5.9 3.6-7.3 5.6-5.9 5.2-11.3 10.4-4.5 4-4.9 3.9-5.3 3.5-5.7 2.6-5.8 1.1-5.8-.9-5.6-3.2-5.2-5.2-4.6-6.8-3.8-7.5-3.1-7.4-2.3-6.7-1.8-5.7-1.9-8.2-.5-2.8-.2-3.7 .1-1.2 .6-1.6 .8-1 1.4-.9 2.4-.8 3.3-.8 8.4-1.2 8.5-.4 3.5 .1 2.5 .3 2.4 .6 1.4 .6 2 1.2 1 1.2 .8 1.4 .5 1.8-.1 3.3-1.3 4.3-1.6 3.2-1 1.7-2.6 3.3-3.3 2.9-1.8 1.1-2 .9-2 .6-2 .3-2.1-.1-2-.4-2-.8-1.9-1-3.4-2.4-2.9-2.6-6.7-6.6-5.3-4.5-.5-.9-.3-.8 .1-.8 .5-.9 .8-.8 1.4-.9 4.2-1.8 5.4-1.7 14.5-3.7 5.7-1.6 6.7-2.5 6.5-3.1 5.8-3.6 7.3-5.5 6-5.2 11.2-10.3 4.5-3.9 4.9-3.8 5.2-3.4 5.6-2.5 5.7-1 5.8 1 5.5 3.2 5.1 5.2 4.5 6.6 3.8 7.4 3 7.2 2.3 6.6 1.7 5.6 2 8.1 .6 4.9 .1 1.6-.4 2.1-.7 1.3-.9 .8-1.6 .8-2.5 .8-4.1 .8-5.5 .8-5 .5-4.4 .2-6.1-.4-4-1-1.4-.6-1.3-.9-1.1-1.1-.8-1.5-.4-1.8-.1-2.2 .8-4.1 1.4-3.2 .9-1.7 2.3-3.5 3.1-3.3 1.7-1.5 2-1.2 2-1 2.1-.6 2.1-.3 2.2 .1 2.1 .5 2 .8 2 1.1 3.5 2.6 3 2.8 6.7 7 4.9 4.3 .6 .9 .3 .8 0 .8-.3 .7-.7 .8-1.3 .9-3.9 1.9-5.8 1.8-14.5 3.7-6.9 2.1-6.9 2.6-6.8 3.5-6.2 4.1-5 3.9-5.9 5.1-15.6 14.3-4.9 3.9-5.2 3.5-5.6 2.7-5.8 1.2-5.8-.7-5.6-3-5.2-5-4.6-6.6-3.9-7.4-3.1-7.4-2.4-6.7-1.8-5.8-2-8.4-.7-5-.1-1.7 .4-2.1 .6-1.3 .9-.9 1.6-.8 1.8-.5 7-1.4 9.8-1 4.4-.1 3.5 .2 3.3 .6 2.2 .8 2 1.2 1 1.2 .8 1.4 .5 1.7 0 3.4-1.2 4.3-1.6 3.3-1.1 1.7-2.6 3.3-3.3 3-1.8 1.2-2 1-2 .6-2.1 .3-2.1-.1-2.1-.4-2-.7-1.9-1-3.5-2.5-3-2.7-6.7-6.8-5.3-4.6-.5-.8-.3-.8 .1-.8 .4-.8 .7-.7 1.3-.9 4.1-1.9 5.9-1.8 13.6-3.5 6.7-1.9 6.8-2.5 6.5-3.2 6-3.8 4.7-3.6 5.6-4.6 14.7-13.4 4.6-4 5-3.8 5.4-3.2 5.6-2.2 5.8-.5 5.7 1.5 5.5 3.8 5 5.6 4.3 7 3.6 7.4 2.8 7.1 2.2 6.4 1.6 5.3 1.7 7.7 .5 4.6 0 1.4-.4 2-.7 1.2-.9 .8-1.7 .8-2.4 .7-8.8 1.5-9.3 .7-6.1-.2-4.1-.9-1.5-.6-1.3-.8-1.2-1-.9-1.3-.6-1.7-.2-2 .6-3.9 1-3 .8-1.7 2.1-3.4 2.8-3.4 3.4-3 1.9-1.1 2-.9 2.1-.5 2.1-.2 2.2 .3 2.1 .5 2 .9 1.9 1.1 3.4 2.6 2.9 2.8 6.5 6.6 4.9 4.3 .6 .8 .3 .8-.1 .8-.3 .8-.7 .7-1.3 1-4 1.8-5.8 1.9-14.5 3.6-6.9 2.1-6.9 2.7-6.8 3.5-6.3 4.1-5 3.9-5.9 5.1-15.6 14.3-4.9 3.9-5.3 3.5-5.5 2.6-5.8 1.1-5.8-.8-5.6-3.1-5.2-5.1-4.5-6.6-3.9-7.4-3.1-7.3-2.4-6.7-1.7-5.7-2-8.3-.7-5 0-1.6 .3-2.2 .7-1.3 .9-.8 1.6-.8 1.8-.6 7-1.3 9.9-1 4.3-.1 3.5 .2 3.3 .6 2.3 .8 1.9 1.2 1.1 1.2 .8 1.4 .5 1.8-.1 3.4-1.2 4.3-1.6 3.3-1.1 1.7-2.6 3.4-3.4 3-1.8 1.2-2 .9-2 .7-2.1 .2-2.2 0-2-.5-2.1-.7-1.9-1-3.5-2.6-3-2.7-6.6-6.8-5.3-4.6-.5-.8-.3-.8 .1-.8 .4-.8 .7-.7 1.4-1 4-1.8 6-1.9 13.6-3.4 6.8-2 6.8-2.5 6.6-3.3 6-3.9 7.6-5.8 17.8-16.2 4.7-4 5.1-3.7 5.4-3.1 5.7-1.9 5.8-.3 5.7 1.9 5.4 4.1 4.9 6 4.2 7.1 3.5 7.4 2.7 7 2 6.3 1.5 5.1 1.6 7.4 .5 4.3-.1 1.5-.4 1.9-.8 1.1-.9 .7-1.6 .8-2.5 .7-8.8 1.5-9.3 .7-6.1-.3-4.1-.8-1.4-.7-1.3-.8-1.2-1-.8-1.4-.8-2.7 .3-3.5 1.4-4.5 1.8-3.4 2.5-3.4 3.2-3.2 1.8-1.3 1.9-1.1 2-.8 2.1-.5 2.1-.1 2.1 .3 2.1 .6 2 .9 3.7 2.4 3.1 2.8 7.7 7.8 4.8 4.2 .6 .8 .3 .8-.1 .8-.5 1-.8 .7-1.3 1-4.2 1.8-5.4 1.7-14.5 3.7-5.7 1.6-6.7 2.5-6.4 3.1-5.9 3.7-7.3 5.5-6 5.2-11.3 10.4-4.5 3.9-4.9 3.9-5.3 3.4-5.6 2.5-5.8 1-5.7-1.1-5.6-3.2-5.1-5.3-4.5-6.7-3.8-7.4-3-7.3-2.3-6.6-1.7-5.6-1.9-8.1-.7-4.9 0-1.5 .4-2.1 .7-1.3 .9-.8 1.6-.8 2.4-.7 7.2-1.4 9.1-.8 4.4-.1 3.4 .2 3.3 .6 2.3 .8 1.9 1.3 1.1 1.1 .8 1.5 .4 1.8-.1 3.4-1.2 4.3-1.7 3.4-1.1 1.7-2.6 3.4-3.4 2.9-1.9 1.2-1.9 1-2.1 .6-2.1 .2-2.1-.1-2.1-.5-2-.8-2-1-3.5-2.6-2.9-2.7-6.6-6.8-5.2-4.5-.6-.8-.2-.8 .1-.8 .4-.8 .8-.8 1.3-.9 4.1-1.8 5.9-1.9 13.7-3.4 6.9-2 6.8-2.6 6.6-3.4 6.1-3.9 4.9-3.7 5.7-4.9 15.1-13.8 4.8-3.9 5.1-3.7 5.5-3 5.7-1.7 5.8 0 5.6 2.2 5.4 4.4 4.8 6.2 4.1 7.2 3.4 7.4 2.6 6.9 2 6.1 1.4 5.1 1.5 7.1 .4 4.2-.1 1.3-.4 1.9-.8 1.1-1.5 1-1.7 .6-2.5 .7-9 1.4-8.5 .6-6.1-.3-4-.9-1.5-.6-1.3-.8-1.1-1.1-.9-1.4-.5-1.7-.2-2.1 .7-3.9 1.2-3.1 .8-1.7 2.2-3.4 2.8-3.4 3.5-2.8 2-1 2-.8 2.1-.4 2.1 0 2.1 .3 2.1 .6 2 1 3.6 2.4 3.1 2.8 6.9 7.1 5.4 4.7 .6 .9 .3 .8-.1 .7-.5 1-.8 .8-1.4 .9-4.2 1.8-5.3 1.7-13.6 3.4-6.7 2-6.7 2.4-6.6 3.2-5.9 3.7-7.3 5.7-6.1 5.2-11.4 10.5-4.5 4-5 3.8-5.3 3.4-5.6 2.3-5.8 .8-5.8-1.3-5.5-3.5-5-5.5-4.5-6.8-3.7-7.4-2.9-7.3-2.2-6.5-1.7-5.5-1.8-7.9-.6-4.7 0-1.5 .4-2 .7-1.3 .9-.7 1.6-.8 2.5-.8 7.9-1.4 9.3-.8 4.3 0 3.5 .3 2.4 .5 2.3 .9 1.9 1.2 1.1 1.2 .7 1.4 .5 1.9-.2 3.4-1.3 4.4-1.7 3.4-1.1 1.7-2.7 3.4-3.4 2.9-1.9 1.2-2 .9-2 .5-2.1 .2-2.2-.1-2-.6-2.1-.8-1.9-1-3.4-2.6-2.9-2.7-6.6-6.7-5.1-4.5-.6-.9-.2-.8 .1-.8 .5-.7 .7-.8 1.3-.9 4.1-1.9 5.3-1.6 14.5-3.7 6.8-2 6.9-2.6 6.7-3.4 6.1-4 4.9-3.8 5.8-4.9 15.3-14 4.8-3.9 5.2-3.6 5.5-2.9 5.7-1.5 5.8 .3 5.6 2.5 5.3 4.6 4.8 6.3 4 7.3 3.3 7.4 2.5 6.9 3.2 10.8 .9 3.9 .8 5.3 .1 1.8-.3 2.3-.6 1.3-.9 .9-1.6 .8-2.4 .8-4.1 .8-4.6 .7-9.3 .8-6.1-.2-4.1-.8-2.2-.9-1.3-.8-1.1-1.1-.8-1.4-.5-1.7-.2-2.1 .8-4 1.2-3.1 .8-1.7 2.2-3.4 3-3.3 1.7-1.5 1.8-1.3 1.9-1 2.1-.7 2.1-.4 2.1 0 2.1 .4 2.1 .7 1.9 .9 3.6 2.5 3 2.7 6.9 7.1 5.3 4.6 .8 1.5 0 .8-.3 .7-.8 1-1.3 .9-4 1.9-5.9 1.8-13.6 3.5-6.8 1.9-6.7 2.5-6.6 3.2-5.9 3.8-4.8 3.6-5.6 4.6-14.7 13.5-4.6 3.9-5 3.8-5.3 3.3-5.7 2.2-5.8 .5-5.7-1.5-5.5-3.7-5-5.7-4.3-7-3.6-7.4-2.9-7.2-2.2-6.4-1.5-5.3-1.1-4.4-1-5.9-.2-2 .2-2.6 .2-.8 .8-1.2 .9-.8 1.6-.8 4.5-1.1 5.2-.9 5.7-.6 5.1-.3 4.4 .1 3.4 .4 2.4 .6 2.1 1 1.8 1.4 .9 1.4 .6 1.6 .2 3.2-.9 4.1-1.4 3.3-1 1.7-2.4 3.4-3.1 3.2-1.8 1.4-1.9 1.1-2 .9-2.1 .5-2.1 .1-2.1-.2-2.1-.5-2-.9-3.7-2.3-3.1-2.7-7.9-8-4.9-4.3-.6-.8-.3-.8 .1-.8 .3-.8 .9-.9 1.4-.9 4.1-1.9 5.3-1.6 14.5-3.7 6.9-2 6.9-2.7 6.7-3.4 6.2-4.1 5-3.8 5.8-5.1 15.5-14.1 4.8-3.9 5.2-3.5 5.6-2.8 5.7-1.3 5.8 .6 5.6 2.7 5.3 4.9 4.6 6.5 3.9 7.3 3.2 7.4 2.5 6.8 1.8 5.8 2.1 8.5 .8 5.2 0 1.6-.3 2.3-.7 1.3-.9 .8-1.6 .9-2.4 .7-4.1 .9-5.4 .7-5 .5-4.3 .2-6.1-.3-4-1-1.5-.6-1.2-.9-1.1-1.1-.8-1.4-.5-1.7-.1-2.2 .7-4 1.3-3.1 .8-1.7 2.3-3.4 3-3.3 1.7-1.5 1.8-1.2 2-1 2.1-.7 2.1-.3 2.1 0 2.1 .4 2 .8 2 1 3.5 2.5 3 2.7 6.8 6.9 5.3 4.7 .7 1.4 0 .8-.3 .8-.8 .9-1.3 1-4.1 1.8-5.9 1.8-13.6 3.5-6.8 2-6.8 2.5-6.6 3.3-6 3.8-7.5 5.8-17.8 16.2-4.7 3.9-5 3.8-5.4 3.1-5.7 2-5.8 .3-5.7-1.7-5.4-4-4.9-5.9-4.3-7.1-3.5-7.4-2.8-7.1-2.1-6.3-1.5-5.2-1-4.2-1-5.8-.1-1.9 .2-2.5 .3-.8 .7-1.2 1-.7 1.6-.8 5.2-1.3 5.2-.8 5.8-.6 4.4-.2 4.3 .1 3.4 .4 2.4 .6 2.1 1 1.8 1.5 .9 1.3 .6 1.7 .1 3.3-1 4.1-1.4 3.3-1 1.7-2.5 3.4-3.1 3.2-1.8 1.3-1.9 1.1-2 .8-2.1 .5-2.1 .1-2.2-.2-2-.6-2-.9-3.7-2.4-3.1-2.7-7.7-7.9-4.9-4.2-.6-.8-.3-.8 .1-.8 .3-.8 .7-.7 1.3-1 4-1.8 5.8-1.9 14.5-3.6 6.9-2.1 6.9-2.7 6.8-3.5 6.3-4.1 5-3.9 5.9-5.1 11.2-10.3 4.5-4 4.8-3.9 5.3-3.4 5.6-2.6 5.7-1.1 5.8 .8 5.6 3 5.2 5.1 4.5 6.7 3.9 7.3 3.1 7.4 2.3 6.6 1.8 5.7 2 8.3 .7 5 0 1.6-.4 2.2-.6 1.3-.9 .8-1.6 .8-2.5 .7-4.1 .9-5.4 .8-5 .4-4.3 .2-6.1-.3-4-1-1.4-.6-1.3-.9-1.1-1.2-.8-1.4-.5-1.8 0-2.1 .8-4.1 1.3-3.1 .9-1.7 2.3-3.5 3-3.2 1.7-1.4 1.9-1.3 1.9-.9 2.1-.6 2.1-.3 2.1 .1 2.1 .4 2 .8 2 1 3.5 2.5 3 2.8 6.6 6.8 5.3 4.6 .7 1.4 0 .8-.3 .8-.8 .9-1.4 1-4 1.8-6 1.9-13.7 3.4-6.8 2-6.8 2.6-6.6 3.3-6.1 3.9-7.5 5.9-18 16.3-4.7 4-5.1 3.7-5.5 3-5.7 1.9-5.8 0-5.7-2-5.3-4.3-4.9-6-4.2-7.2-3.4-7.4-2.7-7-2-6.2-2.4-9.1-.9-5.6-.1-1.9 .2-2.4 .3-.8 .8-1.1 .9-.8 1.6-.7 6-1.4 5.3-.8 5-.5 4.4-.2 4.3 .1 3.4 .4 2.4 .7 2.1 1 1.8 1.5 .8 1.3 .6 1.7 .1 3.3-1.1 4.2-1.4 3.3-1 1.7-2.5 3.4-3.2 3.1-1.8 1.4-2 1-2 .8-2.1 .4-2.1 .1-2.1-.3-2.1-.6-1.9-.9-3.7-2.4-3.1-2.8-7.6-7.8-4.8-4.1-.6-.8-.3-.8 .1-.8 .4-.8 .9-.9 1.4-1 4.1-1.8 5.4-1.7 14.5-3.7 5.7-1.6 6.7-2.5 6.5-3.1 5.9-3.7 7.3-5.6 6-5.2 11.3-10.4 4.5-3.9 5-3.9 5.2-3.4 5.6-2.4 5.8-1 5.8 1.1 5.5 3.3 5.1 5.4 4.5 6.7 3.8 7.4 3 7.3 2.3 6.6 1.6 5.5 2 8.1 .6 4.8 0 1.6-.4 2.1-.7 1.2-.9 .8-1.6 .8-2.4 .7-8.8 1.6-9.3 .7-6.1-.2-4-.9-2.9-1.3-1.1-1-1-1.3-.6-1.6-.3-2 .5-3.8 1.8-4.6 2-3.4 2.7-3.4 3.3-3 1.9-1.2 2-.9 2.1-.6 2.1-.2 2.1 .1 2.1 .5 2 .8 1.9 1 3.5 2.6 2.9 2.7 6.6 6.8 5 4.3 .6 .9 .4 .8-.1 .7-.3 .8-.9 1-1.3 .9-4.1 1.8-5.3 1.7-14.4 3.7-6.8 2-6.9 2.5-6.6 3.4-6.2 4-4.8 3.7-5.8 4.9-15.2 13.9-4.7 3.9-5.2 3.7-5.5 2.9-5.7 1.7-5.8-.2-5.6-2.3-5.4-4.5-4.7-6.2-4.1-7.3-3.3-7.4-2.6-6.9-2-6-2.3-9-.8-5.4-.1-1.7 .3-2.4 .6-1.4 .9-.9 1.5-.8 1.8-.6 5.5-1.2 9.6-1.1 4.4-.2 4.3 .1 3.4 .5 2.4 .6 2.1 1 1.7 1.6 .9 1.3 .5 1.8 .1 3.3-1.1 4.2-1.6 3.3-1 1.7-2.5 3.4-3.2 3.1-1.9 1.3-1.9 1-2 .8-2.1 .4-2.2 0-2.1-.3-2-.7-2-.9-3.6-2.5-3-2.7-6.9-7.1-5.4-4.7-.6-.9-.3-.8 .1-.8 .4-.7 .9-1 1.4-.9 4.2-1.8 5.4-1.7 13.5-3.4 6.8-2 6.7-2.5 6.5-3.2 6-3.7 7.3-5.7 6.1-5.3 11.4-10.5 4.6-3.9 5-3.8 5.3-3.4 5.6-2.2 5.8-.7 5.8 1.3 5.5 3.6 5 5.5 4.4 6.9 3.7 7.4 2.9 7.2 2.2 6.5 1.6 5.5 1.8 7.8 .6 4.6 0 1.5-.4 2.1-.7 1.2-1 .8-1.6 .7-2.4 .8-8.8 1.5-9.3 .7-6.1-.2-4-.9-2.8-1.4-1.2-1-.9-1.3-.6-1.6-.3-2.1 .6-3.8 1.8-4.6 2-3.4 2.7-3.4 3.4-3 1.9-1.1 2-.9 2.1-.5 2.1-.2 2.1 .1 2.1 .6 2 .8 1.9 1.1 3.5 2.6 2.9 2.7 6.5 6.7 4.9 4.2 .7 .9 .3 .8-.1 .8-.3 .7-.9 1-1.3 .9-4.2 1.9-5.3 1.6-14.4 3.7-6.9 2-6.8 2.6-6.8 3.5-6.1 4-5 3.8-5.8 5-15.3 14-4.8 3.9-5.2 3.6-5.5 2.8-5.8 1.5-5.8-.5-5.6-2.5-5.3-4.8-4.7-6.4-4-7.3-3.2-7.3-2.5-6.9-1.9-5.9-2.2-8.7-.7-5.2-.1-1.7 .3-2.3 .7-1.4 .8-.8 1.6-.8 1.8-.6 5.5-1.2 9.6-1.1 4.4-.2 4.3 .1 3.4 .5 2.4 .6 2.1 1.1 1.7 1.5 .8 1.4 .5 1.8 0 3.3-1.1 4.3-1.6 3.3-2.2 3.4-2.9 3.3-1.7 1.5-1.9 1.2-1.9 1.1-2.1 .6-2.1 .4-2.1 0-2.1-.4-2.1-.7-1.9-1-1.9-1.2-3.3-2.6-8.2-8.4-3.5-3" fill="none" stroke="#0000ff" stroke-width="1.6" stroke-linejoin="round" stroke-linecap="round"/>
<rect x="248.6" y="696.3" width="170.7" height="134.2" fill="none" stroke="#111" stroke-width="1.4"/>
<text x="248.6" y="837.2" font-size="5.4" text-anchor="middle" font-family="'Liberation Sans',sans-serif" fill="#262626">-2.5</text>
<text x="265.7" y="837.2" font-size="5.4" text-anchor="middle" font-family="'Liberation Sans',sans-serif" fill="#262626">-2</text>
<text x="282.7" y="837.2" font-size="5.4" text-anchor="middle" font-family="'Liberation Sans',sans-serif" fill="#262626">-1.5</text>
<text x="299.8" y="837.2" font-size="5.4" text-anchor="middle" font-family="'Liberation Sans',sans-serif" fill="#262626">-1</text>
<text x="316.9" y="837.2" font-size="5.4" text-anchor="middle" font-family="'Liberation Sans',sans-serif" fill="#262626">-0.5</text>
<text x="333.9" y="837.2" font-size="5.4" text-anchor="middle" font-family="'Liberation Sans',sans-serif" fill="#262626">0</text>
<text x="351" y="837.2" font-size="5.4" text-anchor="middle" font-family="'Liberation Sans',sans-serif" fill="#262626">0.5</text>
<text x="368.1" y="837.2" font-size="5.4" text-anchor="middle" font-family="'Liberation Sans',sans-serif" fill="#262626">1</text>
<text x="385.2" y="837.2" font-size="5.4" text-anchor="middle" font-family="'Liberation Sans',sans-serif" fill="#262626">1.5</text>
<text x="402.2" y="837.2" font-size="5.4" text-anchor="middle" font-family="'Liberation Sans',sans-serif" fill="#262626">2</text>
<text x="419.3" y="837.2" font-size="5.4" text-anchor="middle" font-family="'Liberation Sans',sans-serif" fill="#262626">2.5</text>
<text x="246.4" y="832.4" font-size="5.4" text-anchor="end" font-family="'Liberation Sans',sans-serif" fill="#262626">-20</text>
<text x="246.4" y="815.6" font-size="5.4" text-anchor="end" font-family="'Liberation Sans',sans-serif" fill="#262626">-15</text>
<text x="246.4" y="798.9" font-size="5.4" text-anchor="end" font-family="'Liberation Sans',sans-serif" fill="#262626">-10</text>
<text x="246.4" y="782.1" font-size="5.4" text-anchor="end" font-family="'Liberation Sans',sans-serif" fill="#262626">-5</text>
<text x="246.4" y="765.3" font-size="5.4" text-anchor="end" font-family="'Liberation Sans',sans-serif" fill="#262626">0</text>
<text x="246.4" y="748.5" font-size="5.4" text-anchor="end" font-family="'Liberation Sans',sans-serif" fill="#262626">5</text>
<text x="246.4" y="731.7" font-size="5.4" text-anchor="end" font-family="'Liberation Sans',sans-serif" fill="#262626">10</text>
<text x="246.4" y="715" font-size="5.4" text-anchor="end" font-family="'Liberation Sans',sans-serif" fill="#262626">15</text>
<text x="246.4" y="698.2" font-size="5.4" text-anchor="end" font-family="'Liberation Sans',sans-serif" fill="#262626">20</text>
<path d="M248.6 830.5v-1.8M248.6 696.3v1.8M265.7 830.5v-1.8M265.7 696.3v1.8M282.7 830.5v-1.8M282.7 696.3v1.8M299.8 830.5v-1.8M299.8 696.3v1.8M316.9 830.5v-1.8M316.9 696.3v1.8M333.9 830.5v-1.8M333.9 696.3v1.8M351 830.5v-1.8M351 696.3v1.8M368.1 830.5v-1.8M368.1 696.3v1.8M385.2 830.5v-1.8M385.2 696.3v1.8M402.2 830.5v-1.8M402.2 696.3v1.8M419.3 830.5v-1.8M419.3 696.3v1.8M248.6 830.5h1.8M419.3 830.5h-1.8M248.6 813.7h1.8M419.3 813.7h-1.8M248.6 797h1.8M419.3 797h-1.8M248.6 780.2h1.8M419.3 780.2h-1.8M248.6 763.4h1.8M419.3 763.4h-1.8M248.6 746.6h1.8M419.3 746.6h-1.8M248.6 729.8h1.8M419.3 729.8h-1.8M248.6 713.1h1.8M419.3 713.1h-1.8M248.6 696.3h1.8M419.3 696.3h-1.8" stroke="#000" stroke-width="1.2" fill="none"/>
<text x="333.9" y="845.5" font-size="7.3" text-anchor="middle" font-family="'Liberation Serif',serif" font-style="italic" fill="#262626">x</text>
<text x="235.5" y="763.4" font-size="7.4" text-anchor="middle" font-family="'Liberation Serif',serif" transform="rotate(-90 235.5 763.4)" fill="#262626">dx/dt</text>
<polygon points="478.5,750.9 482,741.6 484.5,736.7 485.5,735.1 489.5,730.3 490.5,728.8 493,726.8 495,726.2 497.5,725.2 504.5,723.6 509,722.3 509.5,722 521,719.1 521.5,718.8 528,717.3 533.5,715.6 540,714.1 561,708.3 566,707.2 571,705.7 571.5,705.8 572,705.4 578,704 583.5,702.6 584,702.2 595.5,699.4 596,699 598.5,698.4 601,698.2 602.5,698.6 604.5,699.5 607,701.5 612,707.5 625.5,728.7 629.5,734.1 632.5,737.5 638.5,743 648.5,749.8 650.5,751.8 652.5,755.3 653,757.1 653.5,754.1 654,755 654,756.5 653.5,757 651,758.5 649,765.8 647.5,770.4 645,776 643,778.9 640.5,781.6 638.5,782.4 630,784.5 629.5,784.9 628.5,784.9 627.5,785.3 620,787.2 619.5,787.5 618.5,787.6 614,788.9 613,789 609.5,790.1 604.5,791.3 604,791.6 603,791.7 602,792.1 594.5,793.9 594,794.3 593,794.3 592,794.8 579.5,797.9 578.5,798.4 577.5,798.5 569,800.7 568.5,801.1 567.5,801.1 566.5,801.6 559,803.4 558.5,803.7 557.5,803.8 553,805.2 552,805.2 547,806.5 546.5,806.9 543.5,807.5 543,807.9 542,807.9 541,808.3 537,809.3 533.5,810.5 531,811.1 528,810.4 526,809.1 524.5,807.9 520,802.6 517.5,799.1 506,780.8 502.5,776 500,773 493.5,766.7 483,758.7 479.5,755.5 478.5,754.1" fill="#0000ff" stroke="#0000ff" stroke-width="1.2" stroke-linejoin="round"/>
<path d="M471.1 708.7L471.1 790.6L554.2 828.4L661.1 800" fill="none" stroke="#111" stroke-width="1.45" stroke-linejoin="miter"/>
<text x="466.8" y="792.5" font-size="5.4" text-anchor="end" font-family="'Liberation Sans',sans-serif" fill="#262626">-20</text>
<text x="466.8" y="772" font-size="5.4" text-anchor="end" font-family="'Liberation Sans',sans-serif" fill="#262626">-10</text>
<text x="466.8" y="751.5" font-size="5.4" text-anchor="end" font-family="'Liberation Sans',sans-serif" fill="#262626">0</text>
<text x="466.8" y="731.1" font-size="5.4" text-anchor="end" font-family="'Liberation Sans',sans-serif" fill="#262626">10</text>
<text x="466.8" y="710.6" font-size="5.4" text-anchor="end" font-family="'Liberation Sans',sans-serif" fill="#262626">20</text>
<text x="473.3" y="801.8" font-size="5.4" text-anchor="middle" font-family="'Liberation Sans',sans-serif" fill="#262626">2</text>
<text x="489.9" y="809.3" font-size="5.4" text-anchor="middle" font-family="'Liberation Sans',sans-serif" fill="#262626">1</text>
<text x="506.5" y="816.9" font-size="5.4" text-anchor="middle" font-family="'Liberation Sans',sans-serif" fill="#262626">0</text>
<text x="523.2" y="824.5" font-size="5.4" text-anchor="middle" font-family="'Liberation Sans',sans-serif" fill="#262626">-1</text>
<text x="539.8" y="832" font-size="5.4" text-anchor="middle" font-family="'Liberation Sans',sans-serif" fill="#262626">-2</text>
<text x="556.8" y="835.5" font-size="5.4" text-anchor="start" font-family="'Liberation Sans',sans-serif" fill="#262626">0</text>
<text x="592.4" y="826" font-size="5.4" text-anchor="start" font-family="'Liberation Sans',sans-serif" fill="#262626">100</text>
<text x="628.1" y="816.6" font-size="5.4" text-anchor="start" font-family="'Liberation Sans',sans-serif" fill="#262626">200</text>
<text x="663.7" y="807.1" font-size="5.4" text-anchor="start" font-family="'Liberation Sans',sans-serif" fill="#262626">300</text>
<path d="M471.1 790.6h-2.8M471.1 770.1h-2.8M471.1 749.6h-2.8M471.1 729.2h-2.8M471.1 708.7h-2.8M479.4 794.4l-2.5 0.7M496 801.9l-2.5 0.7M512.6 809.5l-2.5 0.7M529.3 817.1l-2.5 0.7M545.9 824.6l-2.5 0.7M554.2 828.4l2.4 1.1M589.8 818.9l2.4 1.1M625.5 809.5l2.4 1.1M661.1 800l2.4 1.1" stroke="#000" stroke-width="1.2" fill="none"/>
<text x="508.5" y="838" font-size="7.3" text-anchor="middle" font-family="'Liberation Serif',serif" font-style="italic" fill="#262626">x</text>
<text x="601.5" y="839" font-size="7.3" text-anchor="middle" font-family="'Liberation Serif',serif" font-style="italic" fill="#262626">t</text>
<text x="455.8" y="749.6" font-size="7.4" text-anchor="middle" font-family="'Liberation Serif',serif" transform="rotate(-90 455.8 749.6)" fill="#262626">dx/dt</text>
<text x="340.5" y="876" font-size="17.5" text-anchor="middle" font-family="'Liberation Serif',serif" font-weight="bold" fill="#000">(D1)</text>
<path d="M15.2 977.5l.5-4.8 .1-.1 .2 .9 .1-.3 .5-5.2 .4 2.2 .3-.7 .1 .5 1.2 42.9 .1 2.7 0 .3 .1-.4 .7-10.1 .2-6.4 .8-63.4 .2-6.8 .2-1.3 .8 13.5 .3 9 .6 27.4 .4 44.2 .3 5.3 .7-7.3 .8-23.2 .7-60.7 .2-5.9 .2-1.4 0-.2 .1 .1 1.2 24.1 .9 68.5 .3 7.1 .9-12.9 .6-22.9 .7-57.1 .3-6.3 .6 4.5 .9 22.6 .8 62.5 .1 7.1 .3 2 .9-15.6 .3-7.7 .5-28.5 .4-42.2 .3-6.2 .8 10.4 .8 24.5 .8 62.9 .2 .8 .2-.3 .3-3.4 .8-18.3 .3-17.5 .6-51.4 .2-6.8 .1-1.1 .1 .2 .9 13.9 .3 11.8 .5 24.1 .5 48.1 .2 1.7 .6-5 1-27 .7-58.9 .2-6.4 .1-1.3 .1-.2 .1 .2 1.2 23.8 .9 69.1 .2 6.7 .9-12.6 .7-23.3 .7-56.7 .2-6.3 .6 4.1 .9 22.4 .8 63.1 .2 7.2 .2 1.8 1-15.5 .2-7.6 .5-28.5 .5-42.4 .2-6.2 .8 9.8 .8 23.3 .7 59.6 .2 5.1 .1 .8 .2-.1 .3-3.2 .9-21.6 .9-65.6 .3-8.5 .9 13.6 .3 10.5 .5 24.7 .6 50.3 .2 .5 .6-5.8 .7-18.1 .4-16.3 .5-51.2 .2-5.9 .2-1.2 .1 .2 1.2 23.3 .9 70.3 .2 5.4 0 .7 .1-.6 .9-12.1 .7-23.8 .6-56.4 .3-6.1 .4 1.8 .1 2.1 1 22.1 .8 64.1 .2 7.1 .1 1.3 0 .2 .1-.2 .9-15.3 .3-8 .5-28.3 .4-42.6 .2-5.8 .9 9.4 .7 23.1 .8 60.2 .1 5.2 .2 .7 .2-.2 1.2-25 .8-65.2 .3-8.7 .9 13.2 .3 9.1 .6 27.1 .4 45.1 .3 5.2 .7-6.4 .8-23.2 .8-60.2 .1-6.8 .3-2.2 1 16.9 .2 7.6 1.1 74.2 .1 1.3 .1-.5 .8-12.2 .8-28.3 .5-51.1 .2-5.7 .1-1 .4 1.5 .2 2.1 .9 21.7 .8 65.6 .2 6.9 .2 .9 .1-1 .8-14.5 .3-8.7 .5-27.8 .5-42.4 .2-5.8 .8 9.2 .8 22.8 .7 61 .2 5 .2 .6 .2-.5 1.1-24.7 .8-65.6 .3-8.5 .9 13 .3 9 .6 27.1 .5 45.7 .2 4.8 .7-6.1 .9-23 .7-60.6 .2-6.6 .2-2.4 1 16.7 .3 7.3 1.1 75.8 0 .3 .1-.6 .8-11 .7-23.8 .7-56.5 .2-6.9 .4 1.2 .2 2.1 1 22.8 .9 69.9 .1 2.4 .1 .3 .1-.3 .4-7.5 .5-8.1 .3-12 .9-66.3 .2-6 .8 8.9 .8 22.4 .8 62.1 .2 4.9 .2 .4 .2-1.3 1.1-24.3 .8-65.5 .3-8.3 .9 13.9 .6 21.3 .8 62.6 .2 1.8 .4-3.4 1.1-27 .7-59.1 .2-6.9 .2-2.3 1 16.4 .3 6.8 .9 70.6 .3 6.2 .9-11.6 .7-24.1 .6-56.3 .3-6.7 .3 1.1 .2 2.1 1 22 .8 64.5 .2 7.2 .2 1.8 .9-14.6 .3-8.6 1.2-76.9 .7 8.5 .9 23.5 .7 59.4 .1 5.7 .3 1.6 .3-2.8 1-21.5 .8-67.2 .3-8 .9 12.8 .4 11.3 .5 22.3 .4 45 .3 8.1 .6-5.3 .9-22.8 .8-61.4 .2-6.8 .2-2.4 1 16.2 .2 7.4 1.2 76.4 .9-10.9 .7-24 .7-56.7 .3-7 .3 .9 .2 2.1 .9 22.3 .8 63.4 .3 9.9 .1 .1 .1-.9 .8-13.1 .3-7.9 1.2-78.1 .8 8.2 .8 23.4 .7 59.4 .2 5.9 .2 1.8 .3-2.5 1-21 .9-69.6 .2-5.7 0-.8 .1 .7 .9 13.3 .7 24 .6 58 .2 3.5 .6-4.2 .9-22.6 .8-62.4 .4-9.6 1 15.9 .3 7.3 1.1 77 .9-10.9 .8-24.3 .6-56.3 .3-7.1 .3 .5 .2 2.1 .9 22 .9 64.6 .3 9.5 .9-13.9 .3-8.7 .5-25.1 .5-44.4 .2-7.9 .8 7.8 .8 23.7 .7 58.3 .4 8.7 .1 .3 .1-.3 .1-2 1-21.4 .9-68.3 .3-7.7 .9 13.1 .7 23 .8 63 .1 .2 0-.1 .4-2.4 .2-2.1 .9-22.8 .8-60.6 .3-10.4 .1-.3 .1 1.3 1 17.4 .7 39.4 .5 40.8 0 1.1 .1-.2 .8-8.8 .9-30.9 .6-54.9 .2-3.5 .1-.2 .1 .1 .2 .7 1.1 25 .8 64.5 .2 7.1 .2 1.3 .9-14 .3-9.3 1.2-76.5 .7 7.4 .9 24 .6 56.7 .3 9.5 .2 1.2 .2-1.4 .9-17.2 .5-24.6" fill="none" stroke="#0000ff" stroke-width="1.7" stroke-linejoin="round" stroke-linecap="round"/>
<rect x="15.2" y="903.8" width="187.8" height="147.4" fill="none" stroke="#111" stroke-width="1.4"/>
<text x="15.2" y="1057.9" font-size="5.4" text-anchor="middle" font-family="'Liberation Sans',sans-serif" fill="#262626">0</text>
<text x="46.5" y="1057.9" font-size="5.4" text-anchor="middle" font-family="'Liberation Sans',sans-serif" fill="#262626">50</text>
<text x="77.8" y="1057.9" font-size="5.4" text-anchor="middle" font-family="'Liberation Sans',sans-serif" fill="#262626">100</text>
<text x="109.1" y="1057.9" font-size="5.4" text-anchor="middle" font-family="'Liberation Sans',sans-serif" fill="#262626">150</text>
<text x="140.4" y="1057.9" font-size="5.4" text-anchor="middle" font-family="'Liberation Sans',sans-serif" fill="#262626">200</text>
<text x="171.7" y="1057.9" font-size="5.4" text-anchor="middle" font-family="'Liberation Sans',sans-serif" fill="#262626">250</text>
<text x="203" y="1057.9" font-size="5.4" text-anchor="middle" font-family="'Liberation Sans',sans-serif" fill="#262626">300</text>
<text x="13" y="1053.1" font-size="5.4" text-anchor="end" font-family="'Liberation Sans',sans-serif" fill="#262626">-3</text>
<text x="13" y="1028.5" font-size="5.4" text-anchor="end" font-family="'Liberation Sans',sans-serif" fill="#262626">-2</text>
<text x="13" y="1004" font-size="5.4" text-anchor="end" font-family="'Liberation Sans',sans-serif" fill="#262626">-1</text>
<text x="13" y="979.4" font-size="5.4" text-anchor="end" font-family="'Liberation Sans',sans-serif" fill="#262626">0</text>
<text x="13" y="954.8" font-size="5.4" text-anchor="end" font-family="'Liberation Sans',sans-serif" fill="#262626">1</text>
<text x="13" y="930.3" font-size="5.4" text-anchor="end" font-family="'Liberation Sans',sans-serif" fill="#262626">2</text>
<text x="13" y="905.7" font-size="5.4" text-anchor="end" font-family="'Liberation Sans',sans-serif" fill="#262626">3</text>
<path d="M15.2 1051.2v-1.8M15.2 903.8v1.8M46.5 1051.2v-1.8M46.5 903.8v1.8M77.8 1051.2v-1.8M77.8 903.8v1.8M109.1 1051.2v-1.8M109.1 903.8v1.8M140.4 1051.2v-1.8M140.4 903.8v1.8M171.7 1051.2v-1.8M171.7 903.8v1.8M203 1051.2v-1.8M203 903.8v1.8M15.2 1051.2h1.8M203 1051.2h-1.8M15.2 1026.6h1.8M203 1026.6h-1.8M15.2 1002.1h1.8M203 1002.1h-1.8M15.2 977.5h1.8M203 977.5h-1.8M15.2 952.9h1.8M203 952.9h-1.8M15.2 928.4h1.8M203 928.4h-1.8M15.2 903.8h1.8M203 903.8h-1.8" stroke="#000" stroke-width="1.2" fill="none"/>
<text x="109.1" y="1066.2" font-size="7.3" text-anchor="middle" font-family="'Liberation Serif',serif" font-style="italic" fill="#262626">t</text>
<text x="3.2" y="977.5" font-size="7.3" text-anchor="middle" font-family="'Liberation Serif',serif" font-style="italic" transform="rotate(-90 3.2 977.5)" fill="#262626">x</text>
<path d="M415.3 985.4l-.6 2.9-1.1 2.3-1.4 1.7-1.8 1.1-2.1 .3-2.3-.6-2.3-1.5-3.2-3.2-.6-.4-.5 0-1.1 .9-3.9 5.2-3.1 3.3-3.2 2.6-3.7 2.2-3.4 1.2-3.9 .9-3.7 .4-7.8 .5-3.8 .6-3.5 1-3.2 1.4-3.5 2.1-3.8 2.8-14.2 12.1-5.9 4.6-5.6 3.6-2.9 1.5-3 1.2-4.1 1.2-3.1 .4-3.1-.1-3.1-.6-3.1-1.1-3-1.6-2.8-2.1-3.7-3.5-4.1-5.3-3.5-6-3.5-7.3-2.7-7-2.3-8.2-.9-4.3-.5-3.5-.2-2.9 0-2.6 .4-2.1 .7-1.3 .8-.6 1 .1 1.1 .7 1.7 1.8 .7 .2 .7-.8 3.2-4.8 2.5-2.7 1.6-1.3 1.8-1 1.9-.8 1.7-.4 2.9-.2 2.8 .5 2.5 .8 4.8 2.1 1.8 .5 1.7 0 1.7-.5 1.9-1.3 2.2-2 9.9-10.9 6.1-6.2 6-5.5 5.3-4.2 5.9-4.1 6.4-3.6 5.8-2.4 3.1-.8 3-.6 5.1-.2 4.1 .5 4 1.2 4 1.9 3.7 2.5 3.5 3.1 4 4.5 3.6 4.9 4.2 6.9 3.8 7.2 4.4 10 3.3 8.6 .3 1.5-.1 1.5-.8 3.4-1.7 3.2-1.1 1.4-1.2 1.1-1.6 1.1-1.8 .7-1.8 .2-1.9-.1-1.7-.6-1.7-.9-5-4-.9-.3-.8 .1-1.5 1.2-5.6 6.9-4.4 4.4-5.2 4-5.6 3.2-7.4 3.2-19.9 7.1-20 8.2-7 2.1-5.4 .9-2.7 0-2.7-.1-4.5-1-4.4-1.8-4.1-2.7-3.9-3.5-4.1-4.9-4.1-6.3-3.2-6.4-2.1-5.1-1.5-4.7-1.1-4.8-.5-4.1 0-3.7 .5-2.9 1-2.3 1.5-1.7 1-.5 1.1-.2 1.1 .1 1 .4 2.1 1.4 2.9 3.1 .5 .3 .5 0 1-.8 3.5-4.9 2.8-3.1 3.3-2.5 3.4-1.7 3.4-1 3.5-.3 3.5 .1 6.5 .7 3 0 2.8-.5 2.4-.9 3.1-1.9 3.8-3.1 15.5-15.3 7.3-6.5 3.6-2.8 3.9-2.5 2.9-1.7 3.1-1.4 3.2-1.1 2.1-.5 3.2-.4 2.2 .1 3.2 .4 2.1 .6 2.1 .8 3.1 1.7 2 1.5 2.9 2.5 1.8 1.9 2.6 3.2 3.9 5.9 3.9 7.5 2.1 5 1.7 4.6 1.7 5.3 1.2 4.6 1 4.5 .5 3.8 .1 2.9-.3 2-.3 .3-.3 .1-1.2-.8-.5 .1-3.1 5-2.3 2.9-2.9 2.1-1.7 .8-1.5 .5-2.4 .2-2.6-.4-3-1.2-5.9-3.2-1.5-.3-1.5 .5-1.3 1-1.5 1.4-6.7 7.7-4.1 4.4-4.5 4.2-4.6 3.8-5.8 4.3-5.9 3.8-6.4 3.5-6 2.7-5.4 1.8-5.6 1.3-5.7 .6-4.7-.3-4.7-1-4.6-1.7-4.4-2.5-4.1-3-5.2-5.1-2.7-3.1-3-3.9-3-4.6-2.6-4.2-4.8-9-2.3-5.6-.6-2.4-.3-2.1 0-2 .3-2.2 .6-2.1 .9-1.9 1.5-1.9 1.9-1.4 1.8-.7 2.2-.2 1.7 .4 1.6 .7 1.9 1.5 3.2 3 .8 .4 .8-.1 1.2-1.1 4.3-5.5 3.1-3.3 3.5-3 3.7-2.3 3.3-1.6 3.9-1.4 4.1-1 11.9-2.6 3.7-1.1 3.9-1.6 3.5-1.7 4.4-2.5 13.1-8.7 5.1-3.1 5.4-2.7 4.8-1.7 3.9-.8 2.9-.2 3.9 .4 2.9 .8 2.9 1.3 2.7 1.7 2.7 2.1 3.3 3.3 3.7 4.9 3.9 6.5 3.5 7.7 2.5 7.2 1.8 7 .6 3.7 .3 3.1 0 2.5-.2 2.4-.5 1.9-.7 1.2-.7 .7-.7 .4-.9 .1-.9-.1-1.8-1.1-2.6-2.8-.4-.2-.4 0-.8 .8-3.7 5.3-2.8 2.8-1.8 1.4-1.9 1-2.1 .9-1.8 .4-2.8 .2-2.8-.2-7.9-2-2.1-.4-2.4 .2-2.2 .8-2.4 1.6-2.7 2.3-14.8 15.7-4.2 4.1-4.6 4.2-4.3 3.4-4.6 3.2-3.8 2.3-4.1 1.9-5.2 1.6-4.2 .6-4.3-.1-4.2-1-4.2-1.9-3.9-2.7-3.7-3.4-4.2-5.1-4.4-6.8-2.5-4.6-2.1-4.5-3.9-10-3-9.7-1-4.5 0-2 .6-2.2 1-2.3 1.2-2 1.4-1.7 1.8-1.8 2.2-1.3 2.2-.7 2.2-.1 2.1 .4 2.1 .8 6.1 4.2 1.1 .2 1-.2 .8-.5 1.2-1 6.6-8 4.8-4.8 5.5-4.4 6.5-4.2 8.8-4.7 10.7-4.6 10.4-3.6 5-1.5 4.3-1 5.3-.7 5.4-.2 5.3 .5 4.4 1.2 4.2 1.8 4.8 2.9 3.8 3 4 4.2 4.1 5.2 3.8 6.1 3.1 6.3 2.5 6.8 1.2 5.5 .2 4.5-.3 2-.6 2.1-.9 1.7-1 1.3-1.2 1-1.5 .6-1.4 .1-1.6-.2-1.3-.6-1.4-.9-3.8-3.8-.6-.2-.5 0-1.1 .9-3.9 5.2-3.1 3.3-3.2 2.6-3.7 2-3.4 1.2-3.8 .8-3.6 .4-7.3 .3-3.3 .4-3 .7-3 1.1-3.8 2.1-4.1 3-16.1 13.9-6.9 5.3-3.8 2.3-3.9 2.1-3.1 1.1-3.1 .9-4.1 .4-3.2-.2-4.1-1.1-3-1.4-3-2-3.7-3.3-2.6-3-3.1-4.5-3.5-6-2.9-6.2-2.7-7.1-1.9-6.3-1.4-6.1-.7-5.9 .2-4.2 .4-1.5 .5-.9 .8-.4 .8 .1 1 .6 1.6 1.7 .7 .1 .7-.7 3.1-4.8 2.5-2.7 1.6-1.2 1.7-1.1 1.9-.8 1.7-.4 2.8-.1 2.9 .4 2.6 1 4.8 2.1 1.7 .5 1.7 0 1.7-.6 1.6-1.1 2-1.8 10.1-11.2 6-6.1 5.9-5.3 5.3-4.2 5.8-4 6.3-3.5 5.7-2.5 3-.9 3-.6 5.1-.5 3 .2 2.1 .3 3 .8 2 .7 4.8 2.6 4.5 3.5 4.1 4.2 4.4 5.6 4.2 6.8 3.4 6.3 3.3 6.7 4.2 10 1.3 3.7 .1 2.9-.9 3.3-1.6 3-2.2 2.4-1.8 1.2-1.7 .6-1.8 .3-1.9-.3-1.7-.6-1.6-.9-4.8-3.9-.9-.3-.8 .1-.7 .4-.9 .9-5.3 6.6-4 4-4.6 3.7-5.3 3.2-3.5 1.6-4.2 1.7-14 4.7-6.5 2.5-21.4 9.1-5.2 1.8-4.5 1-4.6 .5-3.6-.2-3.7-.7-3.5-1.4-3.4-1.9-4.1-3.1-3-3.1-3.4-4.2-3.4-5.6-3.3-6.5-2.7-7-1.7-6-.9-5.6 0-4.7 .4-1.8 .5-1.8 .8-1.4 .9-1 1-.6 1-.3 1.1 0 1.2 .4 2 1.3 3 3.1 .9 .4 1-.8 3.6-5.1 2.9-3 3.2-2.5 3.4-1.6 3.4-.9 3.4-.3 3.2 .2 6.7 .8 2.6 .1 2.7-.4 2.7-1 3-1.9 3.7-3.1 15.2-15.1 8.1-7.3 4.5-3.4 3.9-2.5 4.1-2 3.1-1.2 4.3-1 3.2-.2 3.2 .2 3.2 .8 3.2 1.3 3 1.9 2.9 2.4 2.8 2.8 3.5 4.3 3.7 6 3.3 6.2 3 7.3 2.9 8.5 1.8 7.4 .8 6.1 0 2.2-.4 1.2-.5 .2-.9-.5-.4 .1-2.9 4.8-2.4 3-2.8 2.2-1.7 .8-1.6 .4-2.3 .2-2.6-.3-3-1.2-5.7-3.3-1.5-.3-1.5 .5-1.1 .7-1.4 1.3-7.8 9-5.3 5.2-5.8 5.1-7 5.2-8 4.9-8.2 4-7 2.7-3.7 1-3.7 .7-4.7 .4-4.7-.2-4.7-.8-4.6-1.6-4.4-2.2-4.1-2.9-3.8-3.4-4.1-4.5-4.7-6.1-4.6-7.2-4.1-7.6-1.5-3.2-1.2-3.3-1-4.4-.1-2.2 .2-2 .4-1.9 .7-1.7 1-1.8 1.2-1.3 1.5-1.1 1.6-.7 1.7-.2 1.6 .2 1.7 .6 1.5 .9 4.4 4 .7 .3 .7-.1 1.2-1 4.1-5.4 3-3.3 3.5-3 4-2.5 3.3-1.5 3.9-1.3 4-.9 11.1-2.2 3.6-1 3.8-1.5 4-1.9 4.3-2.5 14.5-10 6-3.6 3.7-1.9 2.8-1.2 2.9-.9 3-.6 2.9-.2 2 .1 3.9 .7 3.9 1.5 3.7 2.4 3.5 3 3.2 3.7 3.6 5.2 3.1 5.6 2.5 5.6 2.1 5.4 1.7 5.8 1.3 5.8 .6 4.7 0 4-.6 3.1-.6 1.1-.6 .8-1.3 .6-1.6-.2-1.5-1.1-2.3-2.5-.9-.2-.8 .8-3.6 5.1-2.7 2.9-1.8 1.3-1.9 1.1-2 .8-1.9 .4-2.7 .3-2.8-.3-2.7-.6-5.1-1.5-2.1-.4-2.3 .1-2.1 .7-2.3 1.5-2.6 2.2-16.9 17.8-5.9 5.5-5 4.1-5.4 3.8-4.9 2.7-5 2.2-5.3 1.2-4.3 .3-4.2-.6-4.2-1.4-4-2.2-3.8-3-3.6-3.7-3.3-4.1-3.6-5.6-4.2-8-3.5-8.2-3.1-9.3-2.2-8.6-.1-1 .2-1.4 1.4-3.6 1.9-3 2.2-2.2 1.9-1.3 1.8-.7 1.9-.3 2 .1 1.9 .5 1.8 .8 5.6 4 1 .3 1-.2 .8-.5 1.1-1 6.9-8.1 5.6-5.4 3.1-2.6 3.5-2.4 7.3-4.3 5.7-2.8 6.2-2.7 7.3-2.9 7.1-2.5 5.9-1.8 5.1-1.2 4.4-.7 4.4-.4 3.6 .1 2.7 .2 3.5 .8 2.6 .8 2.5 1 2.5 1.3 2.4 1.5 3 2.3 2.2 1.9 2.7 2.8 2.5 3 2.2 3.1 4.2 6.9 1.8 3.7 1.7 4.1 1.3 3.7 1 3.8 .5 3.4 .1 2.9-.4 2.8-.7 2.3-1.2 2-1.5 1.4-1.1 .5-1.4 .3-1.2 0-1.3-.4-2.4-1.5-3.6-3.5-.6-.3-.6 .1-1 .9-3.5 4.8-2.5 2.8-3 2.6-3.2 2-3.2 1.4-3.7 1-4.3 .5-7.6 .2-3.2 .2-3.2 .7-3.4 1.2-3.7 2.1-3.5 2.5-3.9 3.2-14.9 13.2-4.3 3.3-4.7 3.1-5 2.5-3 1.1-2.1 .5-4.2 .5-4.2-.4-3.1-.9-2.1-.9-3-1.8-2.8-2.2-2.7-2.8-2.6-3.1-2.4-3.4-2.8-4.8-2.5-5-2.5-6.1-2-5.7-1.4-5.1-1.3-6-.6-4.5 0-3.7 .6-2.6 .7-1 .9-.1 1 .5 1.6 1.7 .7 .1 .7-.8 3-4.6 2.5-2.7 3-2.2 1.8-.8 1.7-.5 2.8-.2 3.1 .5 2.6 .9 4.7 2.2 1.7 .5 1.8 .1 1.7-.6 1.3-.9 1.7-1.6 12.5-13.6 4.5-4.5 4.6-4 5.1-4.1 4.7-3.4 5.2-3.2 4.6-2.4 4.8-1.9 4.9-1.4 5.1-.6 4 .1 5 1.1 3.9 1.5 3.8 2.2 4.4 3.5 4.8 5.1 4.2 5.5 4.6 7.5 4.3 8.1 4.7 10.4 1.9 5 .3 2 0 1.8-.3 1.9-.7 2-1.6 2.7-2 2.2-2.4 1.4-2.5 .6-2-.2-2.2-.8-2.1-1.4-3.9-3.3-.9-.3-.8 .1-1.5 1.2-4.9 6.2-3.8 4-4.4 3.5-4.8 3-3.8 1.8-4 1.6-14.8 4.9-6.4 2.3-6.2 2.7-13.9 6.5-6.9 2.6-3.6 1-2.8 .5-3.7 .3-2.7-.1-3.7-.6-2.7-.9-2.6-1.2-2.6-1.5-2.5-1.9-2.3-2.2-2.2-2.4-2.8-3.5-4-6.7-3.6-7.5-1.7-4.5-1.2-4.1-.9-3.6-.6-3.8-.2-3.3 .1-3 .6-2.4 .8-1.7 .9-1.1 1.1-.8 1.2-.3 1.4 .2 2 1.1 3.4 3.4 .5 .4 .5 0 .9-.7 3.6-5 2.8-3 3.2-2.5 3.3-1.6 3.4-.9 3.4-.2 3.4 .2 6.6 1 2.5 0 2.3-.3 2.3-.7 3.2-1.9 4.1-3.4 17-17.1 6.6-5.8 5.6-4.1 4.9-2.9 5.2-2.2 3.2-.8 2.1-.3 4.4 0 3.2 .6 2.1 .7 4.1 2.1 2 1.4 2.9 2.5 1.8 1.9 2.7 3.2 3.9 5.8 3.9 7.5 2.2 4.9 1.8 4.6 3 9.8 1 4.4 .6 3.9 .2 3.1-.3 1.8-.3 .3-.9-.4-.4 .2-3 5.2-1.2 1.6-1.5 1.5-2.7 1.9-2.7 1-2.3 .2-2.6-.3-3.2-1.3-5.6-3.3-1.5-.3-1.4 .5-2.5 2.1-6.6 7.7-4.4 4.6-4.4 4-5.1 4.1-6.4 4.5-6.6 3.9-6.3 3.2-6.8 2.8-5.4 1.6-4.6 1-4.6 .5-4.7-.1-4.7-.7-3.6-1.1-3.6-1.5-4.2-2.5-3.2-2.4-3.1-2.6-2.8-2.9-3.1-3.7-3.4-4.6-2.8-4.3-2.7-4.6-2.4-4.6-1.6-3.4-1.2-3.4-.7-2.6-.4-2.7 0-2.5 .5-2.6 .8-2 1.2-2 1.3-1.4 1.7-1.1 1.9-.5 1.8 .1 1.5 .4 1.5 .8 1.8 1.3 3.1 3 .8 .3 .6 0 1.3-1.1 3.9-5.2 3-3.3 3.1-2.6 3.5-2.3 3.6-1.7 3.8-1.3 3.9-1 12.3-2.2 4.1-1.2 3.7-1.5 3.4-1.8 4.2-2.6 13.6-9.6 5.1-3.4 5.5-3 4.8-1.9 3.9-.9 4-.3 3.9 .5 3 .8 2.9 1.4 3.7 2.5 3.4 3.3 3.2 3.8 3.6 5.4 3 5.7 2.9 6.8 2.1 6.3 1.8 7.1 .8 5.7 .2 2.8-.2 2.2-.3 1.7-.5 1.6-.6 .9-.8 .6-.9 .2-.8-.1-1.7-1-2.5-2.6-.4-.2-.4 0-.8 .8-3.5 5.1-2.7 2.8-3.3 2.3-2 .8-1.8 .5-2.7 .3-3.1-.3-2.7-.6-5.2-1.7-2.3-.4-2.3 .2-2 .8-2 1.3-2.5 2.3-14.7 15.6-4.7 4.6-4.6 4.1-4.2 3.4-4.5 3.1-4.8 2.8-4 1.8-4.2 1.4-3.1 .6-3.2 .3-3.2-.2-3.1-.6-3.1-1.1-3.1-1.6-2.9-2-1.9-1.5-2.7-2.6-2.6-3-2.3-3.1-2.2-3.4-2.6-4.5-4.2-8.6-2.4-5.7-1.9-5.5-1.9-5.9-1.2-5-.2-1.2 .3-1.5 .6-2 .9-1.9 1.9-2.8 2.2-2.2 2.6-1.5 2.6-.5 2.2 .1 2.1 .7 2.3 1.3 4.5 3.3 1.1 .3 1-.2 .9-.5 1.1-1 5.5-6.8 4-4.2 4.1-3.5 4.8-3.5 5.4-3.2 6.6-3.3 8.1-3.5 9.5-3.6 8.8-3 6.8-1.8 6.1-1.1 5.3-.4 5.4 .5 2.6 .5 2.6 .8 4.2 1.8 4.8 3.1 2.9 2.5 2.8 2.8 2.5 3 2.3 3.1 2.6 4 2.1 3.9 2.1 4.4 1.6 4.1 1.2 3.7 .8 3.8 .4 3.3-.1 2.9-.4 2.7-.9 2.1-1.1 1.7-1.6 1.2-1.1 .5-1.1 .1-1.2-.1-1.3-.4-2.2-1.5-3.4-3.4-.6-.3-.6 .1-1.1 1-3.9 5.3-2.6 2.8-3.1 2.5-3.6 2-3.6 1.3-3.8 .7-3.5 .2-7.4 0-3.9 .4-3.7 1.1-3.9 1.9-2.8 2-3.6 2.9-13.1 11.9-5.8 4.8-5.4 4-4.9 2.8-5.1 2-4.2 .9-4.2 .1-4.2-.8-3.1-1.3-2-1.1-2.9-2.1-2.8-2.6-2.7-3-2.4-3.3-2.3-3.6-2.6-4.9-2.3-5-2.4-6-1.7-5.5-1.3-4.9-1-4.9-.5-4.3 0-3.4 .6-2.5 .6-.7 .9-.1 .9 .5 1.5 1.5 .6 .1 .7-.8 2.9-4.6 2.6-2.8 3.1-2.2 1.8-.8 1.7-.4 2.8-.2 2.7 .5 2.4 .8 4.9 2.4 1.8 .6 1.8 0 1.6-.6 1.6-1.1 1.9-1.9 8-8.9 4.3-4.6 7.8-7.2 4.9-4 5.5-3.9 5.1-3.2 4.5-2.3 5.6-2.3 4.9-1.4 5-.6 4.1 .1 3.9 .7 4 1.3 3.7 1.9 4.5 3.2 4.2 3.9 3.7 4.4 4 5.5 4.2 7.1 4.8 9.4 4.4 9.6 1 3.8 .1 1.7-.2 1.7-.8 3-1.6 2.8-2 2.1-2.3 1.3-1.3 .4-1.5 .2-1.4-.2-1.5-.4-2.6-1.5-4.2-3.5-.9-.4-.8 .1-1.4 1.1-5.4 6.7-4.2 4.2-4.9 3.7-5.8 3.2-6 2.3-13.4 4.2-6.8 2.4-6.8 3-14.6 7.2-7 2.8-4.5 1.2-4.6 .6-3.7-.1-3.7-.7-3.6-1.3-2.7-1.4-2.5-1.8-3.2-2.8-2.3-2.5-2.8-3.5-2.4-3.9-2.2-3.9-2.3-4.9-2.2-5.5-1.6-5.1-1-4.4-.6-4.3 0-4 .5-2.9 1-2.4 .8-1 1.1-.7 1.2-.2 1.2 .1 2.1 1.2 3.2 3.3 .5 .4 .5 0 .9-.7 3.4-4.9 2.8-3 3.1-2.5 3.4-1.6 3.2-.9 3.8-.2 3.3 .3 6.2 1 2.8 .2 2.5-.4 2.6-1 2.8-1.8 3.6-3.1 15.3-15.5 8-7.3 3.5-2.8 3.8-2.6 4-2.2 3.1-1.4 4.2-1.4 3.2-.5 4.3 0 3.3 .6 3.1 1.1 4.1 2.3 3 2.3 3.7 3.8 3.3 4.4 3.7 6 3.2 6.2 2.5 5.9 2.6 7.6 2 6.8 1.1 6.4 .3 2.4-.1 1.6-.4 .7-.8-.2-.4 .3-2.6 4.7-2.5 3.2-2.6 2-2.9 1.2-2.5 .3-2.6-.3-3.1-1.3-4.4-2.8-1.4-.7-1.4-.2-1.4 .5-2.4 2.2-5.9 6.9-3.8 4-3.6 3.5-4.2 3.5-5.3 3.9-5.3 3.5-5.8 3.3-6.3 3-5 2.1-4.3 1.5-4.5 1.2-3.7 .7-3.7 .4-3.7 .1-3.7-.3-3.7-.8-3.6-1.1-2.6-1.2-2.5-1.3-3.3-2.2-3.1-2.5-2.9-2.7-2.7-2.9-3-3.7-3.2-4.4-2.7-4.2-2.8-5.1-2.2-4.4-1.5-3.7-1-3.7-.4-2.8 0-2.9 .5-2.9 1.1-2.5 1.5-2 2.1-1.4 1.2-.4 1.4-.2 1.3 .1 1.4 .4 2.6 1.6 3.7 3.5 .7 .3 .5 0 1.4-1.1 3.6-4.8 2.3-2.7 2.3-2.1 2.5-2 3.3-2 3.1-1.4 3.8-1.2 3.9-.9 8.7-1.3 3.8-.8 4-1.2 4.2-1.8 3.3-1.9 4.2-2.7 12.2-9 5-3.5 4.5-2.7 4.7-2.2 3.9-1.3 4-.7 4 0 3 .5 3 1 1.9 1 2.8 1.8 2.7 2.3 2.6 2.6 2.4 3 2.2 3.2 2 3.4 2.4 4.6 2 4.6 1.7 4.5 1.7 5.1 1.2 4.6 .8 4.7 .4 3.8 0 3.5-.4 2.1-.5 1.5-.8 1.1-1.1 .5-1-.1-.9-.4-1.1-.9-2-2.2-.4-.2-.5 .1-.7 .8-3.2 4.7-2.4 2.6-3.2 2.4-3.4 1.4-3 .5-3.3-.2-2.9-.7-5.4-1.8-2-.4-2 0-2 .7-2.1 1.4-2.8 2.4-12.6 13.6-7.2 7.1-7.1 6-6.2 4.4-3.8 2.2-2.9 1.5-4.1 1.6-3.1 .8-3.2 .5-3.1 .1-3.2-.3-3.1-.7-4.1-1.7-4-2.5-3.7-3.2-3.4-3.8-3.9-5.2-3.3-5.5-3.3-6.5-3-6.9-4.1-11.4-1.7-5.9-.2-1.7 .2-1.6 .6-1.8 1.9-3.6 1.2-1.6 1.3-1.2 1.4-1.1 1.3-.6 1.7-.6 1.4-.1 1.4 0 1.7 .4 3 1.5 4.7 3.5 1 .4 1-.1 .9-.6 1-1 4.9-5.9 2.7-3.1 4.9-4.5 3.6-2.7 3.5-2.3 3.7-2.2 4.7-2.3 6.9-3.1 9.8-3.8 9.9-3.5 7.5-2.4 5.1-1.2 5.3-.8 4.4-.3 4.5 .4 4.4 1 3.4 1.3 3.3 1.7 3.1 2.2 3 2.5 3.4 3.6 3.1 3.9 3.1 4.8 3 5.6 2.3 5.2 1.7 5.3 1 4.6 .4 4.2-.3 3.4-.4 1.6-.6 1.6-.7 1.1-.9 1.1-1.2 .8-1.3 .4-1.4 .1-1.3-.3-1.3-.6-1.3-1-3.3-3.4-.5-.3-.5 0-1.1 .8-3.8 5.2-3 3.2-3.2 2.5-3.6 1.9-2.8 1-3.3 .7-3.8 .2-9.9 .1-3.1 .5-3.2 1.1-3.5 1.8-3.8 2.8-4.2 3.7-13.8 12.7-5.2 4.2-4.6 3.2-4.9 2.7-5.2 1.9-4.2 .7-4.3-.1-3.1-.7-3.1-1.2-3-1.8-2.9-2.2-2.8-2.8-2.6-3.1-2.4-3.4-2.9-4.9-2.5-5-2.6-6.2-2.3-6.8-1.6-5.9-1.1-5.6-.5-4.6 .2-3.6 .4-1.2 .5-.6 .5-.2 .5 .1 2 1.7 .7 0 3.4-5.2 2.6-2.9 3-2.1 1.8-.8 1.7-.4 2.7-.2 3 .5 2.4 .9 4.5 2.3 1.8 .6 1.6 .1 1.5-.5 1.5-.9 1.9-1.8 8.8-9.8 6-6.2 6.2-5.4 6.4-5 7.3-4.8 7.1-3.7 3.7-1.5 2.9-.9 3-.7 2.9-.5 3-.2 3 .1 3 .4 2.9 .8 4.8 1.9 2.8 1.7 2.6 1.9 2.6 2.1 2.4 2.4 5 6.1 4.8 7.1 4.5 8 3.3 6.7 2.8 6 1.1 3.2 .5 2.5-.2 3.2-1 3.2-1.6 2.8-2.2 2-1.6 .9-1.5 .5-1.8 .1-1.8-.3-1.4-.6-1.6-1-4.5-3.8-.7-.3-.8 0-1.4 1.1-5 6.3-3.7 3.9-4.3 3.4-5.1 3-3.2 1.5-3.9 1.4-14.2 4.2-7.3 2.7-7.3 3.4-13.8 7.1-6.1 2.7-5.4 1.7-4.7 .8-3.7 0-3.8-.6-3.6-1.3-3.6-1.9-3.3-2.6-3.2-3.1-2.9-3.5-2.6-3.8-3.3-6.1-2.7-5.9-2.2-6.4-1.5-5.6-.8-5.8 0-4.4 .7-3.4 .7-1.4 .9-.9 .8-.6 1-.2 1 0 1 .3 1.9 1.3 2.7 2.9 .9 .3 .9-.6 3.6-5.1 2.7-2.9 3.2-2.4 3.3-1.6 3.3-.8 3.3-.2 3.3 .4 6.4 1.1 2.4 .2 2.4-.3 2.5-.9 2.8-1.7 3-2.5 17.3-17.6 4.7-4.4 5.2-4.2 4.7-3.3 5-2.7 4.2-1.6 4.2-1 3.3-.3 2.1 .1 4.3 .9 4.2 1.8 4 2.7 3.8 3.6 4.2 5.3 3.8 6 3.1 6.1 3 7.1 2.9 8.2 2 7.7 .9 6 0 1.4-.2 .8-.3 .2-.5 0-.3 .2-2.6 5-2.6 3.1-1.9 1.5-2.1 1.2-2.2 .6-2.3 .1-2-.4-2.2-.8-6.4-3.9-1.2-.3-1.3 .3-.9 .7-1.3 1.1-7.2 8.3-5.2 5.3-6 5.1-6.6 4.7-8.3 4.9-4.5 2.3-4.8 2.1-4.2 1.6-4.4 1.4-7.1 1.7-5.5 .6-4.6-.1-5.5-.9-4.5-1.5-4.2-2.1-4.9-3.2-4.4-4-3.9-4.3-5-6.6-4.2-6.8-3.4-7-1.2-2.9-.9-3.1-.5-2.4-.3-2.5 .1-2.3 .4-2.1 .6-1.9 1-1.8 1.3-1.5 1.4-1.1 1.2-.5 1.5-.2 1.4 .1 1.4 .4 2.6 1.5 3.8 3.6 .6 .3 .7-.1 1.1-1 4-5.2 2.9-3.2 3.4-2.8 3.5-2.2 3.4-1.5 3.8-1.2 3.8-.7 11.3-1.7 3.4-.9 3.5-1.2 4.2-2.2 4-2.5 16.4-12.4 7-4.5 4.8-2.4 3.9-1.3 4-.8 3.1-.1 3 .3 3 .9 2 .8 2.8 1.7 1.9 1.3 2.7 2.4 2.5 2.8 2.4 3.1 2.2 3.3 2.6 4.6 3.6 8.2 2.9 8.6 1.2 4.6 .8 4.1 .5 4.5-.1 3.8-.6 2.8-.5 .9-.8 .7-1 .3-1.2-.4-1.2-.9-2-2.1-.7-.2-.8 .7-3.5 5.2-2.7 2.7-1.7 1.3-1.9 1.1-1.9 .8-1.8 .4-2.7 .1-2.7-.3-2.6-.7-5-1.8-2-.4-2.1 0-2 .7-2.1 1.3-2.7 2.5-11.2 12.2-6.9 6.9-5.9 5.3-5.9 4.5-6.4 4-5.9 2.8-3.1 1-3.1 .7-3.1 .4-2.1 .1-3.2-.3-3.1-.7-3.1-1.2-3-1.6-2.8-2-2.8-2.4-2.6-2.7-2.5-3-2.2-3.1-2.8-4.3-2.4-4.4-2.5-5.1-4.3-10.3-3.9-11.5-.3-1.8 0-1.6 .7-2.3 1-2.4 1.3-2 1.5-1.7 1.8-1.4 1.8-.9 1.4-.4 1.4-.1 1.4 0 1.6 .4 2.9 1.4 4.6 3.6 1 .4 .9-.1 .8-.4 1-.9 6.9-8.3 2.7-2.7 2.7-2.4 3.1-2.4 3.3-2.2 3.6-2.1 4.5-2.3 6.7-2.9 10.1-3.9 12.1-4.4 8.2-2.6 5.2-1.3 4.4-.8 4.5-.2 4.4 .2 4.4 1 3.4 1.3 3.3 1.8 4 2.8 2.9 2.7 3.3 3.7 3 4 3 5 2.9 5.7 2.1 5.2 1.6 5.3 .9 4.9 .1 4.1-.6 3.5-.5 1.4-.8 1.3-.9 1.1-1 .7-1.1 .4-1.2 .2-1.1-.1-1.1-.4-2.2-1.4-3.2-3.4-.5-.3-.5 0-1.1 .9-3.7 5-2.9 3.2-3.4 2.6-3.6 1.9-3.2 1-3.6 .6-3.4 .1-7.1-.2-3.4 .2-2.6 .5-2.8 1.1-3.4 1.9-4.2 3.3-15.9 14.8-7.7 6.4-3.7 2.5-4 2.3-3 1.3-3.1 1.1-4.3 .7-3.2 0-3.2-.5-3.1-1-3.1-1.6-2.9-2.1-2.9-2.6-3.5-4-3.1-4.6-3.5-6.2-3.3-7.5-2.5-7-2-7-1.3-6.9-.4-5.4 .3-1.9 .5-1.1 .5-.4 .5 0 .7 .4 1.3 1.2 .6 0 3.4-5.2 2.5-2.8 3-2.2 1.8-.8 1.6-.4 2.7-.2 3 .5 2.3 .9 4.7 2.5 1.8 .6 1.5 .1 1.5-.5 1.4-1 1.6-1.5 9-10.1 5.9-6 6.1-5.3 6.3-4.9 7.2-4.7 7-3.6 6.5-2.5 3.9-1 2.9-.5 5-.2 3.9 .5 4.9 1.3 3.7 1.7 3.6 2.2 4.3 3.5 3.8 3.9 3.5 4.3 4.2 6.1 4.6 7.9 5.1 10.1 2.4 6.1 .5 2 .2 1.6-.1 1.9-.4 1.7-.6 1.9-.8 1.5-1 1.5-1.2 1.2-1.7 1.3-1.7 .6-1.7 .3-1.8-.2-1.7-.6-1.6-.9-4.7-4-.8-.3-.7 .1-1.4 1.1-4.7 6-3.7 3.9-4.2 3.3-4.5 2.7-3.7 1.7-3.8 1.4-13.8 3.9-6.5 2.2-7.7 3.5-14.2 7.8-5.2 2.5-6.3 2.4-2.7 .7-2.9 .4-4.7 .1-3.7-.7-3.7-1.4-1.8-.9-2.6-1.8-4.1-3.6-3.7-4.4-3.3-4.9-3.3-6.2-2.2-5-2-5.7-1.4-5-.9-5-.4-4.6 .3-3.4 .8-2.7 .7-1.1 .7-.7 .8-.5 .8-.2 .9 .1 1 .3 1.9 1.2 2.7 2.9 .8 .3 .9-.7 3.4-4.9 2.8-3 3.1-2.3 3.3-1.6 2.8-.7 3-.3 3.6 .3 8.3 1.6 2.7-.2 2.4-.7 3-1.7 3.7-3.1 14.4-15 6.8-6.4 5.1-4.3 5.6-3.9 3-1.7 3-1.4 3.2-1.2 3.2-.8 3.2-.4 3.2 .1 3.2 .5 2.2 .7 2.1 .9 3 1.7 2 1.5 2.8 2.5 2.7 3 2.6 3.3 2.3 3.4 2.1 3.7 2.5 4.8 2.1 4.8 3.5 9.5 1.5 5.2 1.2 5.1 .7 4.3-.1 2.3-.8 .6-2.3 4.5-2.5 3.2-2.6 2.2-1.6 .8-1.5 .5-2.5 .3-2.8-.5-2.8-1.2-5.4-3.5-1.4-.2-1.3 .4-2.3 1.9-5.6 6.6-3.5 3.9-3.9 3.6-4 3.4-5.1 3.7-5.1 3.2-6.2 3.4-6.1 3-7.3 2.9-6.9 2.1-6.3 1.3-5.5 .4-5.4-.3-5.4-1.1-4.4-1.7-5-2.8-3.1-2.3-2.9-2.5-2.8-2.8-2.5-2.9-2.8-3.7-2.5-3.6-4.2-7.4-1.7-3.5-1.5-3.7-.9-2.8-.7-3-.3-2.6 .1-2.8 .4-2.4 .8-2 1.3-2 1.7-1.5 1.8-.8 2-.1 1.6 .3 1.6 .8 1.8 1.4 3.2 3 .7 .4 .7-.1 1.1-1.1 3.7-5 2.7-2.9 2.9-2.6 3.3-2.2 3.4-1.6 4-1.3 4.2-.8 8.4-1 3.6-.6 3.8-1 3.4-1.4 3.7-2 4-2.6 14.6-11.4 6-4.3 5.5-3.2 4.9-2 4.1-1 3-.3 3.1 .2 3 .6 3 1.2 2.9 1.6 2.8 2.1 2.7 2.6 4 5 3.6 5.7 3.5 7.1 3.1 8 2.3 8 .9 4.1 .4 3.6 .2 2.8-.1 2.7-.3 2-.7 1.5-1.1 .9-1.3 0-1.4-.9-2.1-2.2-.8-.2-.7 .8-3.4 5-2.6 2.8-3.3 2.2-1.9 .8-1.8 .5-2.6 .2-3-.3-2.9-.8-4.9-1.9-2.1-.5-2.1 .1-1.9 .8-1.8 1.2-2.3 2.2-13.1 14.1-5.1 5-4.3 3.9-4.7 3.9-5.2 3.7-4.7 2.7-3.9 1.9-5 1.9-4.1 .8-3.2 .3-2.1-.1-4.1-.6-4.1-1.4-4-2.1-3.7-2.9-4.4-4.4-2.4-2.9-2.9-4.2-2.6-4.2-2.8-5.3-2.3-4.8-2.5-5.9-4.7-13-.5-2.6 .4-2.9 1.4-3.3 2.1-2.8 1.8-1.7 2-1.1 2-.6 2.1 0 2.1 .5 2 .9 5.4 4.1 .9 .3 .9-.1 .8-.4 .9-1 5.8-6.9 4.6-4.7 5.4-4.3 5.9-3.5 5-2.5 5.3-2.2 23.8-9 9.8-3.3 6.9-1.6 5.4-.6 4.5 .1 4.4 .8 4.3 1.5 4.1 2.3 3.9 3 3.6 3.6 3.2 4 3.3 5.1 3.1 5.8 2.6 6.3 1.9 6.2 .9 5.1 .1 4.5-.3 1.8-.5 1.9-.7 1.5-1.1 1.3-1 .8-1.2 .5-1.3 .2-1.5-.3-1.2-.6-1.3-1-3.3-3.3-.5-.3-.4 0-1.1 .8-3.6 4.9-2.9 3.2-3.3 2.6-3.6 1.9-3.5 1-3.6 .5-3.3 .1-7-.4-2.9 .2-2.9 .5-2.7 1-3.3 1.9-4.2 3.3-16.3 15.5-4.2 3.6-3.5 2.7-4.7 3.2-4 2.2-4.2 1.6-3.1 .8-3.2 .4-2.2-.1-4.2-.7-4.2-1.8-4-2.6-3.7-3.6-4.3-5.3-3.7-6.1-3.1-6.3-3.3-8.4-2.6-8.4-1.6-7.8-.3-3.3 0-2.3 .4-2.2 .7-.9 .8 .2 1.5 1.3 .6-.2 3.3-5.2 1.4-1.7 1.6-1.5 2.1-1.5 2-.9 2.1-.6 2.2-.1 2.1 .4 2.1 .6 7.2 3.6 1.5 .1 1.5-.3 1.3-.9 1.8-1.6 9.1-10.2 6.4-6.4 7.4-6.3 7.3-5.2 4-2.5 4.2-2.3 3.6-1.7 3.7-1.5 3.7-1.2 3.9-.9 3.9-.5 2.9 0 3 .2 2.9 .5 2.8 .8 2.9 1.2 2.7 1.4 2.7 1.7 2.5 2 3.2 2.9 5.1 5.7 5.3 7.6 5.5 9.6 4.7 9.6 1.2 3.1 .6 2.4 .2 2.3-.2 2.5-.7 2.4-1.2 2.3-1.6 1.9-1.8 1.4-1.5 .7-1.5 .3-1.5-.1-1.6-.3-1.4-.6-1.5-1-4.2-3.7-.7-.3-.7 .1-1.4 1.1-4.6 5.9-3.6 3.7-3.8 3.1-4.4 2.7-3.5 1.6-3.7 1.4-14.5 3.9-7 2.4-7.5 3.5-14.2 8.1-6 3.1-5.4 2.2-2.8 .7-2.8 .6-3.9 .2-3.8-.5-3.7-1.1-3.6-1.8-3.5-2.6-3.2-3.1-3-3.7-2.7-3.9-2.9-5.2-2.9-6.3-2.4-6.7-1.6-6-.9-5.5-.2-4.8 .3-2 .4-1.6 .6-1.5 .9-1 .7-.5 1-.3 .9 0 1 .3 1.8 1.3 2.5 2.7 .8 .4 .9-.7 3.4-4.8 2.9-3.2 3.1-2.3 3.3-1.5 3.2-.7 3.6-.1 3.2 .4 5.8 1.3 2.6 .3 2.3-.3 2.4-.9 2.6-1.6 2.9-2.5 15.9-16.6 4.5-4.2 5-4.3 4.5-3.4 4.8-3 5.1-2.4 4.2-1.3 4.3-.6 4.3 .2 4.3 1 4.1 2 3.9 2.9 3.7 3.6 3.5 4.2 3.7 5.8 3.8 7.3 3.7 9 3 9.1 1.8 7.7 .3 2.6-.1 1.5-.6 .7-2.2 4.6-2 2.8-1.9 1.8-2.2 1.4-2.5 .8-2.2 .2-2.3-.4-2.1-.8-6.4-4.1-1.2-.2-1.1 .3-1 .6-1.2 1.1-6.6 7.7-4.9 5.1-5.2 4.4-6.2 4.4-8.4 5-8.9 4.2-8.9 3.4-7.7 2.2-6.3 1.1-5.5 .2-5.4-.5-4.4-1.1-4.3-1.8-5-2.8-3.8-3-4.1-4-4.8-5.8-4.8-7.2-3.7-7.1-2.4-6.4-.8-2.8-.4-2.5-.1-2.3 .1-2.3 .5-2.2 .8-2 1-1.5 1.3-1.4 1.4-.7 1.3-.5 1.5 0 1.6 .3 1.3 .6 1.4 1 3.9 3.7 .6 .2 .6-.1 1.1-.9 3.7-5 2.9-3.1 2.9-2.5 3.3-2.2 3.4-1.5 4-1.2 4.1-.8 11.3-1.2 3.6-.9 3.8-1.5 3.6-2 3.9-2.6 16-12.8 7-4.9 3.7-2.1 3-1.4 4-1.3 3-.6 3.1-.2 2.1 .2 4 .9 4 1.9 3.8 2.7 3.5 3.5 4 5.2 3.5 5.8 2.9 6 1.9 4.7 1.9 5.6 1.7 5.9 1 4.9 .5 4.6 0 3.4-.5 2.5-.5 1.1-.5 .7-1 .4-1.1-.3-1.1-.8-1.9-2-.7-.1-.8 .7-3.3 5-2.6 2.7-1.7 1.3-1.8 1.1-1.9 .7-1.7 .4-2.7 .2-2.9-.4-2.5-.7-5.1-2-1.9-.5-1.8 0-1.8 .6-2 1.3-2.2 2.1-11.5 12.5-7.4 7.3-6.6 5.7-6.7 4.9-6.5 3.8-3.9 1.8-3 1.1-3.1 .8-3.1 .4-3.1 .2-3.1-.3-4.1-.9-4-1.7-3.9-2.5-3.6-3-3.4-3.6-3.8-5-4-6.2-3.2-6.1-2.9-6.3-2.6-6.4-3.4-9.1-.7-2.7 .1-1.6 .4-1.7 .6-1.8 1-1.9 1.1-1.6 1.2-1.3 1.4-1.1 1.4-.9 1.6-.5 1.4-.2 1.6 0 1.6 .4 3 1.5 4.6 3.6 .9 .3 .8 0 .9-.6 1-.9 6.9-8.3 4.6-4.3 2.9-2.2 3.2-2.1 3.4-2 3.8-1.8 8.7-3.6 27-10.1 6.7-2.3 5.2-1.4 4.4-.7 4.5-.2 3.6 .4 3.5 .8 3.5 1.3 3.3 1.8 3.2 2.4 3 2.7 3.4 3.9 3 4.2 2.6 4.3 2.6 5.2 2.3 5.6 1.7 5.7 1 4.8 .2 4.4-.4 3.4-1.1 2.8-.7 1-.9 .9-1.1 .6-1.1 .2-1.1 0-1.2-.4-2.3-1.4-3.1-3.3-1-.3-1 .8-3.7 5.1-2.9 3.1-3.1 2.4-3.4 1.8-2.8 .9-3.2 .6-3.6 .1-7.2-.5-2.9 0-2.8 .4-3 1-3.2 1.8-3.9 3.1-18.2 17.3-5.1 4.3-4.6 3.3-4.9 2.9-5.1 2.2-3.2 .8-2.1 .3-4.3-.1-4.3-1-4.1-1.9-4-2.9-1.9-1.8-2.6-3-3.3-4.5-3.7-6.1-3.5-7.5-2.7-7.2-1.9-6.2-1.6-6.8-.7-5.2 0-2.4 .2-1.5 .4-1.1 .5-.4 .6 .2 1.3 1 .6-.1 2.4-4 1.5-2 1.9-2 1.9-1.5 2-1.1 1.8-.6 1.9-.2 1.9 0 1.8 .4 2.1 .7 6.6 3.5 1.4 .2 1.4-.3 1.4-.8 1.7-1.6 9.2-10.4 6.4-6.3 7.3-6.1 7.1-5 8.1-4.8 4.4-2 3.6-1.5 3.8-1.2 3.8-.8 3.8-.5 3-.1 2.9 .2 2.9 .4 2.8 .8 2.8 1 2.8 1.4 2.6 1.6 2.6 1.8 3.2 2.8 5.1 5.6 4.9 6.6 5.1 8.3 4.9 9.4 1.7 3.9 1 3.1 .4 2.5 0 2.6-.5 2.8-1.2 2.5-1.6 2.2-1.9 1.5-1.4 .6-1.5 .4-1.5 0-1.6-.4-1.4-.6-1.5-1-4.2-3.7-.8-.3-.7 .1-1.2 1-4.5 5.8-3.6 3.7-4 3.3-4.4 2.6-3.5 1.5-3.6 1.3-14.3 3.6-6.7 2.3-4.3 1.9-3.8 2-14.9 8.9-6 3.2-3.6 1.5-2.8 1-3.8 .8-2.9 .3-3.9-.2-3.8-.9-3.7-1.6-3.5-2.4-3.4-3-3.1-3.6-3.4-4.9-3-5.3-3.3-7.4-2.3-6.8-1.6-6.6-.6-3.5-.2-2.9 0-2.5 .3-2.4 .6-1.7 .7-1.3 1-.9 1.2-.4 1.4 .2 1.3 .7 3.2 3.3 .5 .3 .5 0 .9-.8 3.6-5.3 2.8-2.8 1.8-1.4 2-1.2 2.1-.8 1.8-.5 2.9-.4 2.9 .2 7.9 1.7 2.5 .4 2.6-.3 2.6-1 2.6-1.8 2.9-2.5 14.5-15.3 4.3-4.3 4.9-4.2 4.4-3.5 4.7-3.1 3.9-2.2 4.1-1.7 4.3-1.1 3.2-.4 4.3 .1 3.2 .7 3.1 1.3 3.1 1.7 2.9 2.1 3.7 3.6 2.6 3.1 2.4 3.3 2.2 3.5 2.6 4.8 4.2 9.2 3.4 9.6 2 7.6 .6 3.3 .2 2.2-.1 .6-1.8 3.9-1.7 2.9-2 2.4-2.3 1.7-2.4 1-2.4 .4-2.3-.3-2.4-.8-1.9-1.1-3.5-2.5-1.3-.7-1.1-.2-1 .3-.9 .5-1.2 1.1-6.4 7.6-4.8 4.9-5.6 4.8-6.1 4.2-8.3 4.7-8.7 4.1-8.7 3.4-8.5 2.5-5.3 1-5.4 .5-5.4-.2-4.5-.8-4.3-1.4-5-2.5-4-2.7-4.3-3.9-4.4-5-4.7-6.6-4-7-1.7-3.7-1.3-3.4-1-3.1-.6-2.8-.3-2.4 0-2.3 .2-2.3 .6-2.1 .8-1.7 1.2-1.6 1.2-1.1 1.5-.7 1.6-.2 1.6 .2 1.5 .6 1.5 .9 4.1 3.9 .6 .2 .5-.1 1.1-.9 3.6-4.9 2.5-2.8 2.9-2.5 3.2-2.2 3.7-1.7 3.9-1.2 4.1-.7 11.4-1.1 3.6-.8 3.7-1.5 3.5-1.9 4.3-3 15.1-12.4 6.9-5.1 3.8-2.3 2.9-1.5 3-1.2 3-.8 4.1-.6 4.2 .2 4 1.2 3 1.4 3.8 2.8 3.6 3.5 3.3 4.1 2.9 4.6 3.2 6 2.6 6.1 2.4 6.7 1.6 6 1.1 5.7 .5 5.4-.4 3.8-.4 1.2-.6 .8-.9 .5-1.1-.2-1-.8-1.8-1.8-.7-.2-.8 .7-3.2 4.9-2.6 2.7-1.6 1.3-1.8 1.1-1.9 .8-1.7 .4-2.6 .2-2.9-.4-2.8-.9-4.7-1.9-1.8-.5-1.8-.1-1.8 .5-1.9 1.3-2.5 2.2-10.8 11.8-7 7.1-6.5 5.6-6.5 4.9-3.5 2.3-3.7 2.1-3.9 1.8-2.9 1.1-3.1 .9-3.1 .6-3.1 .2-3.1-.1-4.1-.7-4-1.5-3.9-2.1-4.5-3.6-3.4-3.5-3.9-4.8-3.3-5.1-3.4-6-3.1-6.4-2.9-6.6-3.8-9.8-.8-2.9 0-1.6 .4-1.8 .6-1.8 .9-1.9 1.1-1.6 1.2-1.3 1.3-1.2 1.4-.8 1.6-.6 1.4-.2 1.6 0 1.6 .4 3 1.5 4.5 3.6 .9 .4 .8-.1 .8-.4 .9-.9 6-7.3 5-4.8 2.8-2.2 3-2.1 6.5-3.5 6.6-2.8 15.2-5.5 17.2-6.8 6.7-2.3 4.4-1.2 4.4-.8 3.6-.2 3.7 .2 3.5 .7 3.5 1.2 2.6 1.3 3.3 2.1 3 2.6 2.9 3.1 2.7 3.3 2.3 3.4 2.6 4.5 2.5 5.3 2 4.9 1.4 4.5 1 4.5 .5 3.9-.1 3.6-.6 3.1-1 2-1.2 1.3-1.3 .8-1.7 .2-1.4-.3-1.3-.8-1.5-1.2-2.6-2.8-.6-.3-.5 .1-1 .9-4 5.5-3.1 3.1-3.7 2.6-2.3 1-2 .7-2.8 .5-2.9 .2-9.2-.6-2.7 0-3.2 .5-2.9 1.2-3.2 1.9-3.5 2.9-15.7 15.4-7.5 6.4-3.7 2.8-3.8 2.4-3.1 1.6-3.1 1.3-3.1 .9-3.2 .6-3.3 0-3.2-.4-3.1-1-3.1-1.6-3-2-2.9-2.6-3.6-4-3.9-5.9-4-7.5-3.2-7.3-2.9-8.8-1.9-7.7-.6-3.8-.2-2.7 .1-2.4 .5-1.3 .3-.3 .4 0 1.3 .9 .5 0 3.1-5.1 2.4-2.8 2.9-2.1 1.7-.8 1.6-.5 2.9-.2 2.9 .6 2.3 .9 4.6 2.7 1.7 .6 1.4 .1 1.4-.5 1.1-.8 1.5-1.4 7.9-9 4.9-5.1 5.5-4.9 5.7-4.4 6.4-4.5 7.2-4.1 7-3.1 6.4-2.1 4.8-.9 4.8-.4 4.8 .4 4.8 1.1 4.5 1.9 4.4 2.7 4.1 3.3 3.7 3.7 5.3 6.4 4.7 7 5.1 9 2.1 4.4 1.5 3.5 1.2 4.4 .2 2-.1 1.9-.3 1.9-.6 1.9-.9 1.6-1 1.5-1.6 1.4-1.7 1-1.7 .5-2-.1-1.5-.4-1.6-.8-1.8-1.3-3.2-3-.8-.4-.7 .1-1.4 1.1-4.2 5.6-3.2 3.4-3.6 3-4.2 2.6-3.3 1.6-4 1.4-15.5 3.7-3.8 1.2-3.4 1.3-3.5 1.7-4.5 2.4-13.3 8.4-5.1 2.9-5.4 2.6-2.8 1-2.8 .8-3.9 .5-3.9-.1-3.8-.8-2.9-1.2-2.7-1.5-3.5-2.7-3.3-3.3-3-3.9-3.3-5.2-3.3-6.5-2.9-7.3-2-6.6-1.2-6.2-.5-5.3 .2-2.3 .4-2.1 .6-1.6 .7-1.1 .7-.5 .8-.3 .9 0 .9 .2 1.7 1.1 2.6 2.8 .7 .3 .9-.7 3.3-4.8 2.7-2.9 3-2.3 3.5-1.6 3.1-.7 3.5 0 3.2 .6 5.8 1.5 2.2 .3 2.2-.2 2.2-.8 2.8-1.8 3.2-2.8 12.3-13.2 6.2-6.1 4.8-4.2 5.2-4.1 5.7-3.7 5-2.5 5.2-1.7 3.2-.5 2.2-.1 4.2 .3 4.3 1.3 4.1 2.1 3.8 3 3.7 3.6 3.3 4.2 3.7 5.8 3.2 5.9 3.4 7.8 2.7 7.6 2.3 8 1.1 5.9 0 .9-.9 2.4-1.8 3.7-2.2 2.7-2.4 2-1.8 .9-1.7 .5-1.7 .2-2-.3-1.7-.5-1.8-.9-5.3-3.6-1.2-.4-1 .2-.9 .5-1.1 1-7.3 8.6-5.9 5.7-3.3 2.7-3.7 2.6-4 2.6-4.3 2.4-5.4 2.7-6.5 2.9-6.2 2.5-5.8 1.9-5.1 1.5-5.2 1.1-4.5 .5-4.5 .1-3.6-.2-2.6-.5-3.5-.9-2.6-1-2.5-1.1-3.2-2-2.4-1.6-2.9-2.5-2.7-2.7-2.5-2.9-2.3-3-2.6-3.7-2.2-3.7-2.1-4.1-1.8-3.9-1.4-4-.9-3.1-.5-2.7-.2-2.9 .1-2.5 .5-2.2 .8-2.1 1.2-1.7 1.5-1.3 1.2-.6 1.4-.2 1.2 0 1.3 .4 2.5 1.5 3.7 3.5 .6 .4 .6-.1 1.1-.9 3.5-4.8 2.7-3.1 2.9-2.4 3.2-2.1 3.3-1.5 3.8-1.1 4-.7 8.3-.5 3.4-.4 3.4-.8 3.7-1.4 3.4-1.9 4.2-3 16.4-13.8 4.3-3.3 3.7-2.4 4.8-2.7 4-1.6 4.1-.9 3.1-.3 4.2 .5 3.1 .9 3 1.5 2.9 1.9 2.7 2.4 3.5 3.9 2.4 3.3 2.9 4.7 3.1 6.1 2.5 6 2.2 6.7 1.6 5.8 1 5.6 .4 5.1-.4 3.6-.6 1.2-.6 .7-.8 .3-.8-.3-1-.7-1.6-1.7-.4-.2-.4 .1-.7 .7-3.1 4.8-2.5 2.7-1.6 1.3-1.8 1-1.9 .8-1.7 .4-2.9 .2-2.8-.4-2.7-.9-4.7-2-1.7-.5-2 0-1.7 .6-1.7 1.1-1.8 1.7-13.4 14.5-4.8 4.7-4.8 4.3-5.5 4.2-5 3.5-4.6 2.7-4.7 2.2-4 1.4-3 .8-3.1 .5-3.1 .1-3-.2-3.1-.6-3-1-2-.8-1.9-1.1-2.8-1.8-2.8-2.2-2.5-2.5-4.7-5.6-2.8-3.9-2.4-4-3.1-5.7-2.8-5.9-6.1-14.6-.6-1.9-.2-1.8 .2-1.8 .5-2 1.6-3.1 2.1-2.5 2.3-1.7 1.4-.5 1.3-.3 2.3 .1 2.3 .7 2.4 1.4 4.1 3.4 .9 .3 1-.2 1.5-1.4 4.5-5.6 3.2-3.5 3.5-3.2 3.7-2.7 4.1-2.4 5.1-2.5 5.5-2.1 8.3-3" fill="none" stroke="#0000ff" stroke-width="1.6" stroke-linejoin="round" stroke-linecap="round"/>
<path d="M343.4 983.4l.3-2.5 .7-2 1-1.6 1.3-.6 .9 .1 1 .6 .7 1.1 .7 1.4 .4 1.9 .2 2-.3 1.6-.3 .4-.3 0-.3-.6-.2-1.2 .3-3.3 1-2.7 .7-1 .8-.7 .9-.3 .7 0 .7 .2 .8 .6 1.2 1.9 .7 2.6 .2 3.3-.3 1.3-.4 1-.5 .5-.6 .1-.5-.4-.5-.8-.5-2.7 0-1.2 .3-.9 .4 0 .3 .8-.1 2.9-.7 3.3-1.1 2.9-1.4 2.6-1.6 2.1-1.8 1.9-2.1 1.4-3.2 1.4-3.4 .6-3.1 0-7.7-.8-4 .3-3.8 1.1-7.3 3.1-3.4 1.2-3.1 .6-3.1-.1-2.3-.4-1.7-.7-1.7-1-1.6-1.2-1.4-1.5-1.7-2.1-2.5-4.5-1-2.6-.9-3.2-.5-2.5-.2-2.9 0-2.5 .4-2.2 .5-1.8 .9-1.6 .8-.8 .8-.5 .8-.2 1 0 2 .7 3.6 2.3 .8 .2 .7-.3 1.5-1.5 4.6-6.2 2.9-3.5 3.3-3.4 3.4-3 4.3-3.3 4.9-3.1 5.5-2.9 5.9-2.8 6.4-2.6 6-2.2 5.6-1.8 5.8-1.6 4.2-.8 4.3-.6 4.4-.2 3.5 .2 4.3 .7 3.4 1 3.3 1.4 3.9 2.2 3 2.2 3.5 3.2 3.1 3.5 3.3 4.4 3.3 5.2 2.5 4.9 2.2 5.2 1.4 4.5 .8 4.4 .1 3.7-.6 3.3-1.3 2.8" fill="none" stroke="#0000ff" stroke-width="1.15" stroke-linejoin="round" stroke-linecap="round"/>
<rect x="255.4" y="914.4" width="176.1" height="138.1" fill="none" stroke="#111" stroke-width="1.4"/>
<text x="255.4" y="1059.2" font-size="5.4" text-anchor="middle" font-family="'Liberation Sans',sans-serif" fill="#262626">-2.5</text>
<text x="273" y="1059.2" font-size="5.4" text-anchor="middle" font-family="'Liberation Sans',sans-serif" fill="#262626">-2</text>
<text x="290.6" y="1059.2" font-size="5.4" text-anchor="middle" font-family="'Liberation Sans',sans-serif" fill="#262626">-1.5</text>
<text x="308.2" y="1059.2" font-size="5.4" text-anchor="middle" font-family="'Liberation Sans',sans-serif" fill="#262626">-1</text>
<text x="325.8" y="1059.2" font-size="5.4" text-anchor="middle" font-family="'Liberation Sans',sans-serif" fill="#262626">-0.5</text>
<text x="343.4" y="1059.2" font-size="5.4" text-anchor="middle" font-family="'Liberation Sans',sans-serif" fill="#262626">0</text>
<text x="361.1" y="1059.2" font-size="5.4" text-anchor="middle" font-family="'Liberation Sans',sans-serif" fill="#262626">0.5</text>
<text x="378.7" y="1059.2" font-size="5.4" text-anchor="middle" font-family="'Liberation Sans',sans-serif" fill="#262626">1</text>
<text x="396.3" y="1059.2" font-size="5.4" text-anchor="middle" font-family="'Liberation Sans',sans-serif" fill="#262626">1.5</text>
<text x="413.9" y="1059.2" font-size="5.4" text-anchor="middle" font-family="'Liberation Sans',sans-serif" fill="#262626">2</text>
<text x="431.5" y="1059.2" font-size="5.4" text-anchor="middle" font-family="'Liberation Sans',sans-serif" fill="#262626">2.5</text>
<text x="254.4" y="1042.6" font-size="5.4" text-anchor="middle" font-family="'Liberation Sans',sans-serif" transform="rotate(-90 254.4 1042.6)" fill="#262626">-3</text>
<text x="254.4" y="1022.9" font-size="5.4" text-anchor="middle" font-family="'Liberation Sans',sans-serif" transform="rotate(-90 254.4 1022.9)" fill="#262626">-2</text>
<text x="254.4" y="1003.2" font-size="5.4" text-anchor="middle" font-family="'Liberation Sans',sans-serif" transform="rotate(-90 254.4 1003.2)" fill="#262626">-1</text>
<text x="254.4" y="983.5" font-size="5.4" text-anchor="middle" font-family="'Liberation Sans',sans-serif" transform="rotate(-90 254.4 983.5)" fill="#262626">0</text>
<text x="254.4" y="963.7" font-size="5.4" text-anchor="middle" font-family="'Liberation Sans',sans-serif" transform="rotate(-90 254.4 963.7)" fill="#262626">1</text>
<text x="254.4" y="944" font-size="5.4" text-anchor="middle" font-family="'Liberation Sans',sans-serif" transform="rotate(-90 254.4 944)" fill="#262626">2</text>
<text x="254.4" y="924.3" font-size="5.4" text-anchor="middle" font-family="'Liberation Sans',sans-serif" transform="rotate(-90 254.4 924.3)" fill="#262626">3</text>
<path d="M255.4 1052.5v-1.8M255.4 914.4v1.8M273 1052.5v-1.8M273 914.4v1.8M290.6 1052.5v-1.8M290.6 914.4v1.8M308.2 1052.5v-1.8M308.2 914.4v1.8M325.8 1052.5v-1.8M325.8 914.4v1.8M343.4 1052.5v-1.8M343.4 914.4v1.8M361.1 1052.5v-1.8M361.1 914.4v1.8M378.7 1052.5v-1.8M378.7 914.4v1.8M396.3 1052.5v-1.8M396.3 914.4v1.8M413.9 1052.5v-1.8M413.9 914.4v1.8M431.5 1052.5v-1.8M431.5 914.4v1.8M255.4 1042.6h1.8M431.5 1042.6h-1.8M255.4 1022.9h1.8M431.5 1022.9h-1.8M255.4 1003.2h1.8M431.5 1003.2h-1.8M255.4 983.5h1.8M431.5 983.5h-1.8M255.4 963.7h1.8M431.5 963.7h-1.8M255.4 944h1.8M431.5 944h-1.8M255.4 924.3h1.8M431.5 924.3h-1.8" stroke="#000" stroke-width="1.2" fill="none"/>
<text x="343.4" y="1067.5" font-size="7.3" text-anchor="middle" font-family="'Liberation Serif',serif" font-style="italic" fill="#262626">x</text>
<text x="246" y="983.5" font-size="7.4" text-anchor="middle" font-family="'Liberation Serif',serif" transform="rotate(-90 246 983.5)" fill="#262626">dx/dt</text>
<path d="M518.4 989.2l-.1-1.8-.4-1.7-.6-1.2-.6-.4-.8 .4-.4 1.2-.2 1.9 .3 1.3 .2 .2 .1-.1 .2-.8-.1-2.7-.7-2.2-1-1.1-.7 0-.6 .8-.4 1.5 0 1.6 .4 2.1 .4 .4 .3 .1 .4-.5 .3-.9-.1-2.1-.1 0-.1 .6 .1 1.9 1.1 4.3 1.6 3.5 2.1 2.9 1.5 1.3 1.5 .9 5.1 1.8 2 1 2 1.6 5.4 4.9 1.7 1.2 1.6 .6 1.9 .1 1.6-.7 1.6-1.6 1.2-2.2 .9-3.2 .3-3.1-.2-3.2-.8-2.3-.7-1-.8-.4-.9 0-1.5 .7-.7-.4-3.9-8.4-3.1-5.3-4.1-5.6-5.3-6-5.5-5.4-5.3-4.7-4.5-3.3-3.8-2-3.4-1-2.8-.1-2.7 .7-2.7 1.7-2.6 2.7-2.3 3.4-1.8 4.1-1.1 4.3-.2 2.8 .3 2.7 .8 2.3 1.1 1.7 1.2 .9 1.3 .3 1.2-.4 1.8-1.3 .4-.1 .3 .2 3.7 7 1.4 2.1 1.7 2 1.6 1.6 1.9 1.5 7.5 4.2 1.7 1.2 1.8 1.6 3.7 4.5 8.8 13.1 4 5.2 2.4 2.6 2 1.8 2 1.4 2 .9 1.6 .3 1.5 0 1.4-.3 1.4-.7 1.4-.9 1.3-1.3 2.6-3.7 1.2-2.4 1.3-3.1 1.8-5.9 1-5.8 .1-2.5-.2-1.9-.4-1.1-.6-.5-.5 .1-.9 .7-.3-.1-1.6-3.9-1.2-2.4-1.5-2.1-1.7-1.6-1.3-.8-1.5-.5-4.4 0-.8-.3-.9-.8-1.7-2.6-5.1-9.6-3.3-5.7-3.4-5.3-3.5-4.9-3.5-4.2-3.3-3.2-3.4-2.5-3-1.4-2-.4-1.9 .1-1.8 .5-2.2 1.2-1.6 1.4-1.8 2-1.9 2.8-1.6 2.8-3 7-1.4 3.7-.3 1.7 .2 2.1 .7 2.6 1.2 2.3 1.4 1.8 1.4 1.1 1.7 .5 1.4-.3 2.3-1.3 .5 0 .5 .2 .8 1.2 3.1 5.8 2.3 3.8 2.6 3.5 3.1 3.4 3.2 3 8.8 7.9 11.8 11.2 4 2.9 1.8 .9 1.8 .7 1.7 .4 1.3 .1 1.3-.2 1.7-.5 1.1-.7 1.5-1.1 2.3-2.6 2.3-3.9 2-5 1.1-5 .2-4.2-.2-1.8-.4-1.5-.6-1.2-.8-.9-.8-.3-.8 0-.8 .4-1.2 1.2-.5-.2-3.3-6.9-1.7-2.5-1.8-1.9-1.5-1.2-1.6-.9-6.1-2.4-1.5-1-1.3-1.4-3-4.2-7.4-12.8-3.6-5.6-3.6-4.9-3.4-3.7-2.1-1.7-1.5-.9-2.1-.8-1.6-.3-1.5 .2-1.9 .7-1.4 .9-1.7 1.6-1.6 2.1-1.7 3-1.4 3.1-1.4 3.7-1.1 4.4-.7 3.9-.3 3.2 .3 1.7 .3 .3 .7-.2 .3 .1 1.6 3.7 1.2 2.3 1.4 1.9 1.7 1.5 1.1 .6 1.4 .3 1.5 0 2.9-.7 .8 .2 .8 .6 1.4 2 6.3 11.3 5.8 8.4 3.5 4.5 3.6 3.9 3.4 3.4 3.2 2.6 2.7 1.8 2.4 1.1 2.8 .8 2.3 .2 2.2-.3 2.4-1.1 2.3-1.5 2.3-2.3 2.2-2.8 2.3-3.6 2-3.8 1.1-2.8 .4-2.4 0-2.5-.6-2.4-.9-2.2-1.5-1.8-1.6-.8-.8-.1-.8 .3-2 1.4-.6-.2-3.9-7.8-1.6-2.6-2-2.5-3.4-3.4-7.7-5.8-3.7-3.3-3.8-4.4-8.8-11.2-2.6-2.9-2.3-2.1-1.9-1.3-1.9-1-1.9-.5-1.8-.1-1.4 .4-1.7 .8-1.6 1.3-1.5 1.7-1.6 2.5-1.6 3.3-1.2 3.4-1 3.6-.7 3.7-.2 3.2 .2 2.7 .7 2 .7 .9 .9 .3 .8-.3 1.4-1.1 .5 .1 2.3 4.6 1.4 2.3 1.9 2.3 1.9 1.6 1.4 .8 1.4 .5 5 .7 1.2 .6 1.1 1 2.5 3.5 7.7 13.4 4.9 7.6 4.4 5.9 2.5 2.7 2 1.8 2.1 1.6 1.5 .8 2.1 .7 1.6 .2 1.5-.1 2-.6 1.4-.8 1.7-1.5 2-2.4 1.8-2.7 1.7-3.5 1.7-4.3 1.5-5 1.1-4.8-.1-1.3-.5-2.2-.8-2.3-1-2-1.2-1.6-1.4-1.2-1-.5-1.2-.1-1.2 .2-2.2 .9-.6 0-.5-.4-.9-1.5-3.6-7.1-2.6-4.4-3.6-5-4.3-5.1-4.3-4.5-4.4-4.2-4-3.5-3.7-2.8-3-1.8-2.6-1.2-2.6-.7-2.5-.1-2.7 .7-2.9 1.7-2.4 2.4-2.2 3.1-1.9 3.9-1.4 4.1-.4 3.5 .2 3.4 .5 1.7 .8 1.6 .9 1.1 1.1 .8 .8 .2 .9-.1 .9-.5 1.6-1.2 .6 .1 4.1 7.5 1.6 2.2 1.9 2.1 1.6 1.5 2 1.3 7.2 3.9 3 2.5 3.7 4.6 7.9 12 3.9 5.4 3.8 4.2 2 1.8 1.6 1 2.5 1.1 2.1 .2 1.9-.3 2.4-1.3 2.1-2 1.9-2.7 1.8-3.7 1.7-4.3 1.2-4.1 .7-3.9 .4-3.6-.2-2.7-.4-1-.4-.5-.6 .1-.8 .7-.3-.1-2-4.9-2.1-3.3-1.8-1.7-1.7-1-1.9-.4-3.4 .2-.9-.3-.8-.7-1.7-2.5-5-9.3-3.4-6.1-3.4-5.1-3.4-4.8-3.4-4.2-3.3-3.3-3.4-2.6-2.9-1.5-3-.6-1.4 .1-1.4 .3-2.6 1.2-2.4 2.1-2.4 2.9-2.1 3.6-2.3 4.8-2.2 5.7-.5 2.4 .4 2.8 1.2 3.3 1.8 2.4 1.4 1.1 1.6 .5 1.5-.3 2.3-1.3 .5 0 .4 .3 .8 1 2.8 5.5 2.3 3.6 2.5 3.5 2.7 3.1 3.4 3.2 9.5 8.3 12.2 11.8 3.9 3 3.2 1.5 1.8 .5 1.7 .1 1.7-.4 1.6-.6 1.6-1.1 1.4-1.3 1.3-1.6 1.4-2.2 1.4-2.8 1.1-2.8 .9-3 .7-3.1 .2-2.7 0-2.4-.5-2.1-.7-1.7-.9-1-1.1-.3-.9 .4-1.4 1.2-.3 0-3.4-6.9-1.5-2.3-1.6-1.8-1.6-1.3-1.7-1-6.2-2.3-1.3-.9-1.1-1.1-3.1-4.2-7.8-13.6-4-6.2-4.1-5.4-2-2.1-2.1-1.8-2-1.3-2.1-.8-2.1-.3-2 .4-1.9 1-1.8 1.5-1.6 2-1.4 2.2-2.4 5-2 6.5-1.1 6.1-.1 2.2 .2 1.4 .3 .2 .5-.1 .3 .2 1.6 3.6 1.2 2.2 1.4 2 1.6 1.4 1.2 .7 1.3 .3 1.5 0 2.9-.8 .7 .1 .8 .6 1.4 2 6.4 11.4 2.9 4.4 3.1 4.2 3.9 4.8 3.5 3.8 3.5 3.3 3.6 2.8 2.7 1.7 2.3 1 2.8 .7 2.3 0 2.1-.4 2-.9 2.3-1.5 2-1.8 2.5-3.1 2.3-3.6 2.1-4 1-3.2 .4-2.8-.3-2.9-1-2.6-1.4-2.1-1.2-.9-1.3-.2-1.1 .4-1.8 1.2-.6-.1-4-7.9-1.6-2.5-1.9-2.5-3.4-3.3-7.3-5.3-3.6-3.1-4-4.6-9.9-12.9-3.1-3.3-2.9-2.2-2.4-1.2-1.9-.5-1.8 .1-1.8 .6-1.7 1.1-1.9 2-1.7 2.4-1.7 3.3-2 5.7-1.2 5.7-.2 2.6 .1 2.4 .3 1.7 .6 1.4 .6 .7 .9 .2 .8-.3 1.2-1.1 .5 .1 2.4 4.8 1.4 2.3 1.8 2.2 2 1.6 2.6 1.1 4.9 .6 1.2 .5 1 1 1.3 1.5 1.5 2.3 9.4 16.3 3.2 4.8 2.6 3.6 2.8 3.3 3 3 3.1 2.2 2.6 1.2 2.1 .3 1.5-.1 1.9-.6 1.9-1.1 1.7-1.5 2-2.4 1.6-2.8 1.4-2.8 2.7-7 1.2-4.1 .7-3.5-.2-2-.8-2.5-.9-2.1-1.3-1.9-1.5-1.5-1.7-.7-1.6 .1-2.4 1.1-.9-.3-.9-1.3-3.3-6.6-2.7-4.6-3.4-4.9-3.9-4.6-6.5-6.6-7.2-6.6-5-3.8-4.3-2.3-2.9-.9-3-.1-2.7 .8-2.8 1.8-2.6 2.9-2.3 3.6-1.8 4.2-1 4.1-.2 2.9 .3 2.7 .8 2.3 1.1 1.7 1.2 .9 1.2 .2 1.2-.4 1.8-1.4 .6 .2 3.6 6.6 3 4.1 1.7 1.7 1.9 1.4 2.1 1.3 5.3 2.6 1.7 1.1 1.7 1.5 1.8 2 2 2.7 8.6 13.2 4.4 5.9 2.4 2.7 2 1.9 2 1.4 2.1 1 1.5 .4 1.5 0 2.5-.7 1.4-.9 1.3-1.1 2.3-3.1 2.3-4.2 2.1-5.6 1.4-5.9 .5-4.8-.2-2.2-.4-1.2-.6-.4-1 .8-.3-.2-2.5-5.8-1.2-1.9-1.5-1.7-1.5-1-1.6-.6-1.4-.1-2.7 .3-1.2-.3-1-.9-1.2-1.8-5.7-10.6-3.9-6.6-3.4-5.2-3.1-4.2-3.9-4.5-3.8-3.4-3.4-2.2-2.9-1.1-1.9-.3-1.9 .2-1.8 .6-1.7 1-1.6 1.2-1.8 2-1.9 2.5-1.5 2.7-3.4 7.1-1.2 3.2-.4 1.7 0 1.9 .6 2.3 .9 2.2 1.1 1.8 1.7 1.7 1.7 .7 1.7-.2 2.4-1.4 .9 .2 .8 1.2 2.7 5.2 2 3.3 2.2 3.2 2.7 3 3.4 3.3 10.2 8.9 12.1 12 2.6 2.2 2.7 1.8 2.2 1 2.3 .5 2.2-.2 2-.7 2-1.4 2-2.2 1.8-2.7 1.4-2.8 1.9-5.2 .6-2.9 .4-2.5 .1-2.5-.2-1.9-.4-1.8-.7-1.3-.9-.9-.9-.2-1 .4-1.3 1.2-.3 0-3.3-6.9-1.5-2.2-1.7-1.9-1.5-1.2-1.4-.9-5.9-2-1.2-.7-1.2-1-1.6-1.8-1.9-2.8-7-12.3-3.3-5.5-4.9-6.8-3-3.2-3-2.5-2.6-1.3-2.6-.4-2.5 .6-2.3 1.4-2.5 2.8-2.2 3.4-2.1 5-1.7 5.7-1.1 5.5-.1 2.1 .1 1.4 .3 .3 .5 0 .3 .3 1.7 4 1.4 2.5 1.3 1.5 1.2 1.1 1.2 .6 1.3 .4 1.6-.1 2.8-.8 .8 .2 .7 .6 1.4 2 5.2 9.4 4.3 6.5 5.8 7.5 5.9 6.3 3 2.7 3.2 2.3 2.7 1.7 2.3 1 2.8 .6 2.2 .1 2.1-.4 2.4-1 2.9-2.1 2.7-3 2.5-3.6 2.3-4.3 1.2-3.2 .5-2.8-.2-3-.8-2.8-1.5-2.3-.9-.8-.9-.4-1.4 .1-2.2 1.5-.4 .1-.3-.2-3.8-7.7-1.6-2.6-1.7-2.1-3.6-3.5-7.6-5.4-3.4-3.1-4-4.6-9.4-12.7-2.7-3-2.8-2.5-1.9-1.3-1.5-.6-1.9-.5-1.4 0-1.4 .3-1.7 .8-1.7 1.3-1.5 1.7-1.7 2.6-1.6 3.4-1.3 3.5-1 3.8-.7 3.7-.2 2.9 .2 2.8 .6 2 .7 .9 .8 .2 .8-.3 1.2-1 .5 0 2.3 4.7 1.4 2.3 1.7 2.1 1.9 1.6 1.4 .7 1.3 .5 5.1 .5 1.2 .6 1 1 2.3 3.1 7.5 13.3 5.2 8.1 2.5 3.5 2.8 3.4 2.4 2.5 2.1 1.8 2 1.4 2.1 .9 2.1 .5 2 0 2-.6 1.8-1 1.8-1.5 1.9-2.4 2.3-3.7 2-4.4 1.9-5.3 1.7-6.2 .1-1.2-.5-2.2-.7-2.1-1-2-1.8-2.3-.9-.7-1-.5-.9-.1-.9 .1-2.7 1.2-.8-.4-.8-1.2-3.1-6.2-2.4-4.1-2.7-4.1-3.4-4.1-5.4-5.8-7-6.7-5.5-4.7-4.2-3-2.6-1.4-2.6-1-2.5-.3-2 .2-2.3 .8-2.1 1.4-1.9 1.8-1.9 2.5-1.5 2.6-1.1 2.6-.9 2.8-.6 2.8-.2 2.5 .1 2.4 .6 2.2 .9 1.8 1.3 1.3 1.3 .4 1.4-.3 1.8-1.4 .6 0 .5 .8 2 4 1.5 2.7 1.6 2.2 1.8 2 3 2.3 6.9 3.4 1.6 1 1.6 1.4 2 2.2 2 2.7 8.4 13.1 3.9 5.4 2.3 2.8 2 2.1 2 1.6 1.6 1 2.6 1 2 .1 2-.5 2.3-1.4 1.7-1.7 1.9-2.7 1.9-3.7 1.5-3.8 1.3-4.1 .8-4 .5-3.8-.1-2.7-.3-1-.4-.5-.5 0-.7 .6-.3-.1-1.9-4.7-2-3.3-1.7-1.7-1.9-1.1-1.8-.3-3.2 .4-.9-.3-.7-.6-1.7-2.5-4.7-8.9-3.4-5.7-3.5-5.5-3.3-4.6-3.8-4.5-3.6-3.7-3.3-2.5-3-1.5-2.9-.7-2.7 .2-2.7 1-2.4 1.8-2.4 2.7-2.2 3.4-2.4 4.6-2.4 5.5-.7 2.7 .2 2.7 1.2 3.4 1.7 2.7 1.6 1.2 1.5 .4 1.5-.3 2.3-1.3 .8 .2 .8 1.1 2.6 5.1 2.1 3.5 2.3 3.1 2.6 3 3.2 3 10.2 8.7 10.6 10.9 2.9 2.9 3.2 2.4 3.2 1.7 2.2 .5 2.2 0 2.1-.8 2.4-1.6 2-2.4 2-3.2 1.6-3.5 1.3-4.2 .7-3.3 .3-3.1-.1-2.7-.6-2.3-.9-1.5-1.1-.6-.9 .2-1.5 1.3-.4 0-2.9-6.1-2.3-3.5-2.6-2.4-2.6-1.3-4.9-1.5-1.3-.8-1.3-1.2-2.6-3.5-9-15.8-2.8-4.4-2.6-3.7-2.9-3.4-2.5-2.5-2.6-1.9-2.6-1.1-2.1-.3-1.5 .2-1.9 .8-1.8 1.4-1.7 1.8-1.9 2.7-1.5 3.1-1.3 3.1-1.2 3.5-1 4-.6 3.3-.2 2.8 .2 1.1 .8 .5 1.5 3.6 1.4 2.5 2 2.5 1 .7 1.2 .6 1 .2 1.1-.1 3.3-.9 .6 .2 .7 .4 1.3 1.9 3.9 7.2 3 5 3.3 4.6 3.8 4.9 4.4 5 4.4 4.3 4.4 3.6 3.6 2.2 3.2 1.2 2.7 .5 2.6-.2 2.9-1 2.5-1.6 2.6-2.5 2.3-3 2.3-3.7 1.9-4.7 .5-1.9 .2-1.9-.1-1.9-.4-2.1-.6-1.8-.9-1.5-1.4-1.2-1.3-.5-1.3 .4-1.8 1.3-.6-.1-3.7-7.6-1.6-2.5-1.7-2.1-3.5-3.4-7.4-5.1-3.6-3.2-3.9-4.6-7.2-10-2.9-3.8-3.2-3.5-2.9-2.3-1.9-1.1-1.5-.6-1.9-.2-1.4 .1-1.3 .5-1.8 1.1-1.6 1.6-1.4 1.9-1.6 2.7-1.5 3.5-1.2 3.5-.9 3.7-.5 3.5-.2 2.8 .3 2.5 .6 1.8 .7 .6 .7 .2 .7-.3 1.2-1 .4 .1 2.3 4.6 1.3 2.2 1.8 2.3 1.9 1.5 1.4 .7 1.4 .4 4.8 .4 1.1 .6 1.1 .9 2.3 3.2 7.4 13.1 5.1 8 4.8 6.3 2.3 2.6 2 1.9 3.6 2.5 2.1 .8 1.6 .3 1.5 .1 2-.4 1.4-.6 1.8-1.3 2.4-2.5 2.4-3.6 2.1-4.3 2.1-5.4 2-7.3-.3-2.6-1.1-3-.9-1.7-1-1.3-1-1-1.1-.6-1.7-.3-1.1 .3-1.9 1-.5 0-.4-.3-.8-1.3-2.8-5.6-2.3-4.1-2.4-3.6-2.9-3.7-3.9-4.3-5.5-5.4-6.9-6.4-4.9-4-2.5-1.8-2.6-1.4-2.1-.9-2.2-.5-2 0-2 .5-1.9 .9-1.7 1.3-2.1 2.3-1.7 2.6-1.6 3.1-1.3 3.7-.7 3.3-.2 3 .4 2.8 .9 2.4 1.3 1.7 1.4 .6 1.2-.2 2-1.5 .6 0 .6 .7 1.9 4 1.5 2.6 1.6 2.2 1.8 1.9 1.6 1.4 1.8 1.2 7.1 3.3 2.7 2.2 1.7 2 2.2 3 7.6 12 3.8 5.5 3.8 4.6 3 2.8 2.1 1.4 1.5 .7 1.6 .4 1.5 .1 1.5-.3 1.5-.7 1.3-.9 1.8-1.7 1.5-2.2 1.7-3 1.6-3.8 1.3-3.7 1.1-4.3 .6-3.8 .1-3.1-.4-1.9-.5-.5-.9 .6-.3-.1-1.5-3.9-1.1-2.3-1.6-2.2-1.6-1.5-1.3-.7-1.4-.4-4.1 .4-.8-.3-.7-.7-1.5-2.2-4.3-8.2-3.1-5.5-3.4-5.2-3.2-4.6-3.6-4.5-3.5-3.7-3.2-2.8-2.9-1.9-2.4-1-1.9-.4-1.9 0-1.8 .4-1.8 .7-2 1.3-1.8 1.8-1.6 1.9-1.9 2.9-2.1 3.8-2.2 4.8-1 2.9-.2 1.9 .3 2.2 .6 2.2 1.1 2.2 1.7 2 .9 .6 1 .3 .9 0 .9-.2 2.5-1.4 .8 .2 .7 1 2.4 4.8 1.9 3.2 2.2 3.1 2.2 2.6 3.6 3.4 10.2 8.6 3.6 3.5 9.1 9.9 2.7 2.4 2.7 2 2.3 1.2 1.8 .6 2.3 .1 1.7-.4 1.7-.8 1.9-1.6 1.4-1.6 1.5-2.3 1.6-3 1.2-3 1-3.3 .6-3 .3-2.9 0-2.6-.3-2.2-.8-1.7-.8-.8-.9-.2-.9 .4-1.2 1.1-.4 0-3.2-6.8-1.5-2.2-1.7-1.9-2.7-1.8-1.7-.7-4.2-1.1-1.2-.6-1.1-1.1-1.5-1.7-1.8-2.8-10-17.3-2.9-4.4-2.8-3.6-2.9-3.2-3.1-2.5-1.6-.9-1.5-.6-2.6-.2-2.5 .7-2.3 1.6-2.4 2.8-2.1 3.4-2.1 4.9-1.6 5-1.1 5.5-.2 2.2 .1 1.2 .7 .7 1.4 3.5 1.4 2.5 1.2 1.7 1.5 1.3 1.3 .8 1.2 .3 1.6-.2 2.8-.9 .7 .2 .7 .6 1.2 1.7 5.1 9.3 4.1 6.2 5.7 7.1 6 6.4 3.7 3.4 3.6 2.6 3.1 1.9 2.7 1.1 2.7 .6 2.6-.1 2.5-.6 2.6-1.5 1.7-1.3 1.5-1.6 3-3.9 2.6-4.8 1.3-4.2 .3-2.2-.1-2-.3-1.9-.6-1.8-.9-1.5-1-1.1-1.2-.6-1.1 0-1 .4-1.4 1.2-.6-.1-3.8-7.7-1.6-2.4-1.9-2.3-3.2-3.1-7.1-4.7-3.2-2.8-4-4.5-8.2-11.6-3.8-4.9-2.3-2.4-2-1.6-1.9-1.3-2-.8-1.4-.3-1.5 .1-1.4 .4-1.7 .9-1.3 1.1-1.5 1.7-2.3 3.8-1.3 3-1.1 2.9-.9 3.4-.7 3.4-.3 2.8 0 2.5 .3 2 .6 1.5 .6 .5 .6 .1 .7-.3 1.1-.9 .4 .1 2.2 4.4 1.4 2.3 1.8 2.2 1.8 1.5 1.4 .7 1.3 .4 4.9 .4 1.1 .5 1 .9 2.1 3 7.5 13.2 5 7.7 5.2 6.9 2.3 2.6 2 1.8 3.6 2.5 2.1 .8 1.5 .4 1.5 0 2-.3 1.4-.6 1.8-1.2 2.4-2.5 2.4-3.5 2.2-4.1 2.1-5.4 2.3-7.4-.3-2.6-1.1-3-.8-1.7-1-1.3-1.1-1-1.1-.7-1.7-.2-1 .3-1.9 1-.4 0-.5-.3-.8-1.2-2.7-5.5-2.2-3.9-2.4-3.6-2.8-3.6-3.5-3.9-4.3-4.2-8.8-8.2-4.8-4.1-2.6-1.9-2.5-1.6-2.2-.9-2.1-.6-2.1-.1-2 .3-1.9 .9-1.8 1.2-2.1 2.4-1.8 2.6-1.6 3.3-1.2 3.4-.8 3.4-.2 3.2 .3 2.8 .8 2.3 1.2 1.7 .8 .5 .7 .2 1.2-.2 2-1.5 .6 0 .6 .7 2 4.1 1.5 2.6 1.5 2.1 1.8 2 1.6 1.3 1.8 1.1 6.9 3.1 2.7 2.2 1.7 1.9 2.1 2.9 7.9 12.6 3.3 4.9 3.7 4.7 3 3 3.1 2.1 1.6 .6 1.6 .3 1.5-.1 1.5-.4 1.4-.7 1.4-1.1 1.7-1.8 1.8-2.8 1.9-3.7 1.5-3.8 1.3-4.7 .8-4.2 .3-3.7-.3-2.3-.5-.4-.8 .5-.2-.1-1.5-3.9-1.2-2.3-1.5-2.1-1.6-1.5-1.3-.8-1.4-.3-4.1 .4-.7-.3-.8-.6-1.4-2.3-6.9-12.7-5.8-8.9-3.4-4.4-3.4-3.9-3.1-3-3.3-2.5-2.4-1.3-1.9-.7-2.4-.4-1.8 .1-1.8 .5-2.1 1-1.9 1.5-1.7 1.8-2.1 2.8-2 3.4-2.4 4.8-1.5 3.7-.3 1.9 .1 2.2 .6 2.4 1.1 2.2 1.7 2.2 .9 .6 1 .4 .9 .1 .9-.2 2.6-1.5 .7 .2 .8 1.1 2.4 4.8 1.7 2.9 2 2.8 2.2 2.6 3.6 3.5 7.4 5.9 3.5 3.1 3.6 3.6 8.7 9.8 2.7 2.5 2.2 1.8 1.9 1.1 1.8 .9 1.9 .4 1.8 0 1.3-.4 1.7-.8 1.6-1.2 1.4-1.5 1.9-2.8 1.6-3 1.4-3.6 .9-3.4 .7-3.7 .2-3-.2-2.8-.7-2-.8-1-1-.3-.8 .3-1.3 1.1-.4 0-3.1-6.6-1.5-2.2-1.7-1.9-1.5-1.2-1.7-.9-5.7-1.5-1.1-.7-1.2-1.1-2.6-3.8-7.8-13.9-4.7-7.3-4.6-6-2-2.1-2-1.7-2.1-1.3-2.1-.9-2-.3-2 .3-1.9 .9-1.8 1.4-1.7 1.9-1.4 2.2-1.9 3.5-1.9 4.8-1.4 5.1-.8 4.3-.1 2.8 .6 .6 1.2 3.2 1.1 2.1 2.1 2.9 1.2 1 1.1 .6 1.2 .2 1 0 3.3-1 .6 .1 .6 .4 1.2 1.7 3.9 7.2 2.9 4.7 3.4 4.8 4 5 5.1 5.5 4.8 4.5 4.3 3.4 4 2.3 3.2 1.2 3.1 .4 2.5-.3 2.7-1.1 2.8-2 2.6-2.9 2.5-3.6 1.9-3.7 1.2-3.8 .4-3.8-.6-3.5-.6-1.6-.9-1.3-1.2-1-1.3-.4-1.2 .3-1.7 1.4-.6-.1-3.7-7.5-1.5-2.5-1.9-2.2-3.4-3.2-6.9-4.5-3.2-2.6-3.8-4.5-8.8-12.7-4-4.9-2.3-2.4-1.9-1.6-2-1.2-2-.7-1.5-.2-1.4 .1-1.4 .5-1.3 .8-2.4 2.3-2.5 3.7-2.3 5.4-1.6 6.1-.5 3.2-.2 2.6 .1 2.2 .4 1.7 .5 1.1 .8 .4 .7-.2 1.2-1 .5 .1 2.1 4.4 1.3 2.2 1.6 2.1 1.9 1.6 1.3 .7 1.5 .5 5 .2 1 .5 1 .9 2.1 3 6.7 12 4.4 6.9 4.4 6.3 4.2 4.8 2.4 2.3 2.1 1.5 2 1.2 2.1 .8 2 .3 1.5-.1 1.9-.6 1.8-1 1.7-1.4 1.9-2.2 1.7-2.5 1.4-2.6 3.1-7.1 2.1-6.2 .2-1.4-.2-2.2-.8-2.5-1.1-2.1-1.3-1.7-1.4-1.2-1.4-.4-1.4 .2-2.2 1.1-.5 0-.4-.2-.7-1.1-2.8-5.7-2-3.6-2.6-3.8-2.8-3.5-3.2-3.5-4.1-4-10.9-10.2-4.9-4.1-2.5-1.8-2.6-1.4-2.6-.9-2.1-.2-2 .3-2.3 1-2.1 1.6-1.8 2.1-1.6 2.4-1.4 2.9-1.2 3.2-.8 3.3-.4 2.8 0 2.7 .5 2.4 .8 1.9 1.2 1.3 1.4 .4 1.3-.3 1.7-1.4 .5 .1 .6 .7 1.9 3.9 1.5 2.6 1.5 2.1 1.8 1.9 1.7 1.4 1.8 1.1 6.6 2.8 1.5 1 1.3 1.2 1.6 1.9 2.1 2.9 8.1 13.1 3.8 5.5 3.8 4.7 3.5 3.2 2.1 1.3 1.6 .7 1.5 .3 1.6-.1 1.5-.4 1.9-1 1.3-1.2 1.7-1.9 1.5-2.3 1.6-3.1 1.3-3.2 1.2-3.6 .9-3.8 .6-3.7 .2-3.1-.3-1.9-.4-.3-.7 .4-.2-.1-1.5-3.7-1.1-2.3-1.5-2.2-1.6-1.5-1.3-.7-1.4-.4-4.1 .5-.6-.2-.7-.6-1.4-2.2-6.4-11.9-5.3-8.1-3.2-4.4-3.2-3.8-3-3.1-3.2-2.8-2.8-2-2.4-1.1-2.3-.7-2.3-.1-2.2 .4-2.5 1.2-2.3 1.8-1.9 2.2-2.2 3.1-2.1 3.5-2 4.3-1.1 2.9-.3 2.1 .2 2.3 .7 2.5 1.1 2.1 1.7 1.9 .9 .6 .9 .3 .8 0 .9-.3 2.4-1.4 .8 .2 .7 1 4.1 7.6 1.9 2.7 2.1 2.6 3.6 3.4 7.5 5.8 3.4 3.1 3.8 3.9 9.1 10.4 2.7 2.6 2.3 1.8 1.9 1.2 1.8 .8 1.9 .3 1.8-.1 1.8-.5 1.6-1 1.5-1.4 1.4-1.7 1.6-2.5 1.5-3.1 1.2-3.2 1-3.4 .6-3.4 .3-3.1-.2-2.6-.6-2-.7-1.2-1-.5-.9 .3-1.3 1.2-.4-.1-2-4.6-1.5-2.6-1.8-2.4-1.9-1.7-2.6-1.4-5.1-1.2-1.2-.8-1.2-1.1-2.6-3.7-7.3-13.1-4.5-7.3-4.5-6-3.9-4.1-2.1-1.6-1.5-.8-2.1-.7-1.6-.2-1.5 .2-1.9 .7-1.4 .9-1.7 1.6-2.3 3.1-2.1 4.1-1.9 4.7-1.4 5.2-.7 3.5-.2 2.6 2.1 5 1 1.8 1.1 1.6 1.3 1.3 1.3 .8 1.1 .4 1.2 0 3.6-1.1 .6 .1 .6 .5 1.1 1.6 5.5 9.9 2.5 3.8 2.7 3.6 3.4 4.1 3.8 4.2 4.3 4.1 3.7 3.2 3 2.3 2.7 1.7 2.6 1.2 2.3 .7 2.6 .4 2.1-.2 2-.6 2.2-1.2 2.4-1.9 2.5-2.9 2.1-3.3 1.7-3.5 1-3.2 .5-2.9-.1-2.8-.6-2.6-.7-1.3-.7-1.1-.8-.8-.9-.5-1.5 .1-2.1 1.5-.6-.1-3.4-7.1-3-4.3-1.5-1.7-1.9-1.6-7.8-5-1.8-1.4-1.8-1.9-3.7-4.5-9.5-13.9-2.6-3.3-2.4-2.4-2.9-2.3-2.5-1.2-1.5-.3-1.5 0-2.3 .8-2.2 1.6-2.3 2.8-2.2 4-1.6 4.3-1.4 5-.7 5 0 3.8 .4 1.4 .5 1 .5 .3 .5 0 1.5-1 .5 .1 2.1 4.4 1.4 2.3 1.7 2.1 1.9 1.5 1.3 .7 1.5 .3 4.6 .1 1 .5 .9 .8 2 2.8 7.4 13.1 5.2 8.1 2.9 3.9 2.7 3.3 2.4 2.5 2.4 2.2 2.6 1.7 2 1 2 .6 2 0 2-.3 1.8-.9 1.7-1.3 2-2 2.4-3.3 2.1-4 2-4.7 2.5-6.9 .2-1.5-.3-2-.7-2.2-.9-2-1.7-2.3-1-.8-1-.4-.8-.1-.9 .1-2.5 1.3-.8-.3-.7-1-2.8-5.9-2.2-3.8-2.6-3.7-3-3.7-4.7-4.7-15-14.1-3.8-3.2-3.4-2.3-2.2-1-1.7-.5-2.1-.3-1.7 .2-1.5 .6-1.9 1.1-1.7 1.5-1.5 1.9-1.7 2.9-1.4 2.9-1.1 3.3-.7 3.3-.3 2.8 .2 2.6 .5 2.3 1 1.8 1.1 1 1.2 .3 1.1-.4 1.7-1.4 .5 .1 .6 .7 1.8 3.9 1.5 2.5 1.7 2.3 1.7 1.8 1.6 1.3 1.8 1.1 6.6 2.6 1.4 1 1.3 1.2 1.6 1.8 2 2.9 8.3 13.5 4.3 6.3 2.3 2.9 2 2.2 2.1 1.8 2 1.4 2.7 1.1 2.1 .1 2-.4 2.3-1.4 2.2-2.1 1.9-2.8 1.9-3.8 1.5-3.8 1-3.5 .9-4 .5-3.4 .1-2.7-.4-1.3-.3-.1-.6 .3-.2-.2-1.5-3.9-1.3-2.6-1.9-2.4-2.1-1.4-2-.3-3.3 .6-.7-.3-.7-.5-1.4-2.1-4-7.7-2.6-4.7-3.1-4.8-3.2-4.6-3.8-4.7-3.3-3.7-3.5-3.3-3.3-2.3-2.3-1.3-1.9-.7-2.3-.4-1.8 .1-1.7 .4-2.1 .9-1.5 1.1-1.8 1.5-2.1 2.6-2.2 3.3-2.4 4.3-1.5 3.7-.6 2.1-.1 2 .4 2.3 .8 2.3 .8 1.5 1 1.3 .9 .8 1.1 .5 1 .1 .9-.2 2.6-1.5 .8 .3 4.6 8.3 1.9 2.7 1.9 2.3 3.5 3.4 7.8 5.9 3.6 3.2 3.7 4 9.1 10.7 2.7 2.6 2.3 1.9 1.9 1.3 1.9 .8 1.9 .4 1.8-.1 1.3-.3 1.7-.9 1.6-1.3 1.5-1.7 1.6-2.4 1.6-3.2 1.4-3.7 1-3.5 .6-3.5 .3-3.1-.2-2.8-.7-2-.7-1-.9-.3-.8 .4-1.2 1.1-.3 0-3.1-6.7-1.5-2.1-1.6-1.8-1.5-1.1-1.7-.9-5.6-1.3-1-.6-1.2-1.1-2.3-3.4-7.7-13.8-5-7.9-4.5-5.9-2.4-2.6-2.1-1.7-2-1.4-2.1-.8-2.1-.3-2 .2-1.9 .9-1.8 1.3-1.6 1.8-1.5 2.1-1.9 3.5-1.9 4.6-1.4 4.5-1.1 4.7-.2 2.9 2.3 5.7 1.1 1.6 1 1.4 1.2 1.1 1.3 .7 1.1 .2 1.1 0 3.3-1.1 .6 .1 .5 .3 1 1.5 3.8 6.9 2.7 4.5 3.2 4.5 3.5 4.4 4.8 5.1 5.3 5.1 4.6 3.8 4.3 2.9 3.1 1.5 2.7 .7 2.6 .2 2.4-.5 2.3-.9 2.4-1.8 2.4-2.5 2.1-3 1.5-2.7 1.1-2.5 .8-2.5 .4-2.3 .1-2.4-.2-2-.6-2-.9-1.8-1.2-1.3-1.3-.5-1.3 .3-1.8 1.4-.5-.1-3.4-7-2.9-4.2-1.7-1.8-1.9-1.6-7.4-4.6-1.7-1.3-1.8-1.8-3.8-4.7-7.3-11-3.3-4.6-3.7-4.3-2.9-2.4-2-1.2-1.5-.5-2-.2-1.5 .2-1.4 .5-1.7 1.3-1.3 1.2-1.5 2-1.6 2.8-1.4 3.1-1.2 3.7-.9 3.3-.6 3.4-.3 3.5 .1 2.6 .5 1.8 .5 .5 .6 .1 .5-.2 1-.8 .5 .1 2.1 4.4 1.3 2.2 1.6 2 1.8 1.6 1.4 .6 1.4 .4 4.8 .1 1 .4 .9 .9 2.1 3 7.8 13.7 4.5 6.9 2.8 3.9 2.6 3.2 2.4 2.5 2.4 2.3 2 1.5 2 1.1 2.1 .8 2 .4 1.5-.1 1.9-.4 1.8-.9 1.7-1.3 2.6-2.9 2.8-4.4 2.5-5.3 2.7-7.2 .4-1.5-.1-1.7-.5-2.3-.8-2.2-1.7-2.6-1.1-.9-1-.5-1.6-.2-.9 .3-1.9 1.1-.4 0-.4-.3-.7-1.1-2.6-5.3-1.9-3.5-2.2-3.3-2.7-3.4-4.9-5.1-16.4-15.4-3.3-2.9-2.6-1.9-2.1-1.3-2.2-.9-1.8-.4-2.1 0-1.6 .4-1.9 1-1.8 1.5-1.8 2.2-1.8 2.9-1.6 3.5-1 3.4-.7 3.6-.2 3.1 .3 2.6 .8 2.3 1.1 1.4 .7 .4 .7 .2 1.1-.3 1.8-1.4 .6 0 .5 .7 2 4 1.4 2.5 1.5 2.1 1.8 1.8 1.7 1.4 1.8 1 6.4 2.5 1.4 .9 1.3 1.2 1.6 1.8 1.9 2.8 7.8 12.8 3.7 5.6 3.7 4.8 3.5 3.6 3.1 2.1 1.6 .7 1.6 .3 1.5 0 1.6-.4 1.4-.7 1.4-1 1.7-1.8 1.9-2.8 1.9-3.7 1.5-3.8 1.4-4.7 .8-4.1 .4-3.7-.2-2.2-.3-.3-.6 .3-.1-.1-1.4-3.7-1.1-2.3-1.4-2.1-1.6-1.5-1.1-.7-1.3-.3-1.4 0-2.7 .6-.8-.2-.6-.6-1.3-1.9-4.1-7.8-3.1-5.5-3.4-5.2-3.7-5-4.3-5.1-3.8-3.8-3.7-2.9-3.7-2.1-1.8-.6-1.9-.4-1.8 0-1.7 .3-1.7 .7-1.5 .9-1.9 1.4-1.6 1.7-1.9 2.5-1.9 2.8-1.9 3.6-1.4 3.1-.5 2-.3 1.8 .1 2 .5 2.1 .7 1.8 1 1.5 1.1 1.2 1.2 .8 .9 .2 1 0 1-.5 1.7-1.1 .5-.1 .4 .2 .7 1.1 3.7 6.9 1.8 2.6 1.9 2.3 3.8 3.7 7.4 5.5 3.3 2.8 3.8 4 5.3 6.4 3.6 4.3 2.6 2.9 2.7 2.5 2.4 1.6 2.4 1.1 1.9 .3 1.8-.1 2.2-.9 2.4-1.9 2.1-2.8 2.1-3.7 1.8-4.9 1.2-4.9 .5-4.5-.3-3.5-.4-1.3-.5-.8-.7-.5-.7 0-.6 .3-1 1-.4 0-3.1-6.5-1.4-2.1-1.6-1.8-1.5-1.1-1.7-.9-5.4-1.1-1.1-.6-1-1-2.7-3.9-9.1-16.2-4.8-7.3-2.7-3.5-3-3.1-2.5-2.1-2.6-1.4-1.6-.5-1.5-.2-2.5 .4-1.4 .6-1.4 1-2.5 2.5-2.4 3.9-2.3 5.2-1.9 5.8-1 5.2-.1 1.6 1.2 3.7 1.4 2.7 1.5 2.2 1.7 1.4 1.7 .7 1.7-.1 2.8-1.1 .6 .1 .6 .4 1.1 1.5 5.4 9.7 2.4 3.6 2.9 3.8 3.6 4.2 4.1 4.3 4.5 4.3 4.1 3.5 3.4 2.5 3.1 1.8 2.6 1.2 2.6 .7 2.6 .1 2.4-.5 2.3-1 2.1-1.5 2.1-2.2 2.2-3.1 1.8-3.4 1.3-3.5 .6-3 .2-2.9-.4-2.7-.8-2.3-1.3-1.7-.8-.5-.7-.2-1.4 .3-1.8 1.4-.5-.1-3.1-6.6-2.8-4.2-1.7-1.9-1.9-1.6-2.1-1.4-5.8-3.3-1.6-1.3-1.8-1.8-3.7-4.8-9.3-14.1-2.6-3.4-2.4-2.6-2-1.8-2-1.4-2-.9-1.5-.4-1.5 0-1.9 .5-1.8 1.1-1.6 1.6-1.9 2.5-1.6 3-1.6 3.7-1.1 3.6-.9 3.8-.5 3.9-.1 3.1 .4 2.2 .5 .7 .6 .3 .6-.2 1-.7 .4 .1 2.1 4.3 1.3 2.2 1.6 2 1.7 1.5 1.5 .7 1.4 .4 4.6-.1 .9 .3 .7 .6 2.2 3 5.9 10.6 3.9 6.4 4.1 5.9 3.8 4.9 3.7 3.9 4 3 2 1.1 1.5 .6 1.5 .3 1.5 .1 1.5-.2 1.4-.4 2.6-1.6 2.4-2.3 2.3-3.1 3.2-5.9 3.4-8.4 .5-2-.3-2.5-.6-2.3-1-2-1.2-1.7-1.3-1.1-1-.4-1.1-.1-1.1 .3-1.9 1.1-.4 0-.4-.3-4.4-8.5-3.5-5.2-4.4-5.1-6.6-6.2" fill="none" stroke="#0000ff" stroke-width="1.4" stroke-linejoin="round" stroke-linecap="round"/>
<path d="M475.5 927.5L475.5 1011.7L561.4 1050.8L671 1020.8" fill="none" stroke="#111" stroke-width="1.45" stroke-linejoin="miter"/>
<text x="471.2" y="1007.6" font-size="5.4" text-anchor="end" font-family="'Liberation Sans',sans-serif" fill="#262626">-3</text>
<text x="471.2" y="995.6" font-size="5.4" text-anchor="end" font-family="'Liberation Sans',sans-serif" fill="#262626">-2</text>
<text x="471.2" y="983.5" font-size="5.4" text-anchor="end" font-family="'Liberation Sans',sans-serif" fill="#262626">-1</text>
<text x="471.2" y="971.5" font-size="5.4" text-anchor="end" font-family="'Liberation Sans',sans-serif" fill="#262626">0</text>
<text x="471.2" y="959.5" font-size="5.4" text-anchor="end" font-family="'Liberation Sans',sans-serif" fill="#262626">1</text>
<text x="471.2" y="947.4" font-size="5.4" text-anchor="end" font-family="'Liberation Sans',sans-serif" fill="#262626">2</text>
<text x="471.2" y="935.4" font-size="5.4" text-anchor="end" font-family="'Liberation Sans',sans-serif" fill="#262626">3</text>
<text x="478" y="1023" font-size="5.4" text-anchor="middle" font-family="'Liberation Sans',sans-serif" fill="#262626">2</text>
<text x="495.2" y="1030.8" font-size="5.4" text-anchor="middle" font-family="'Liberation Sans',sans-serif" fill="#262626">1</text>
<text x="512.4" y="1038.7" font-size="5.4" text-anchor="middle" font-family="'Liberation Sans',sans-serif" fill="#262626">0</text>
<text x="529.5" y="1046.5" font-size="5.4" text-anchor="middle" font-family="'Liberation Sans',sans-serif" fill="#262626">-1</text>
<text x="546.7" y="1054.3" font-size="5.4" text-anchor="middle" font-family="'Liberation Sans',sans-serif" fill="#262626">-2</text>
<text x="564" y="1057.9" font-size="5.4" text-anchor="start" font-family="'Liberation Sans',sans-serif" fill="#262626">0</text>
<text x="600.5" y="1047.9" font-size="5.4" text-anchor="start" font-family="'Liberation Sans',sans-serif" fill="#262626">100</text>
<text x="637.1" y="1037.9" font-size="5.4" text-anchor="start" font-family="'Liberation Sans',sans-serif" fill="#262626">200</text>
<text x="673.6" y="1027.9" font-size="5.4" text-anchor="start" font-family="'Liberation Sans',sans-serif" fill="#262626">300</text>
<path d="M475.5 1005.7h-2.8M475.5 993.7h-2.8M475.5 981.6h-2.8M475.5 969.6h-2.8M475.5 957.6h-2.8M475.5 945.5h-2.8M475.5 933.5h-2.8M484.1 1015.6l-2.5 0.7M501.3 1023.4l-2.5 0.7M518.5 1031.2l-2.5 0.7M535.6 1039.1l-2.5 0.7M552.8 1046.9l-2.5 0.7M561.4 1050.8l2.4 1.1M597.9 1040.8l2.4 1.1M634.5 1030.8l2.4 1.1M671 1020.8l2.4 1.1" stroke="#000" stroke-width="1.2" fill="none"/>
<text x="514" y="1060.5" font-size="7.3" text-anchor="middle" font-family="'Liberation Serif',serif" font-style="italic" fill="#262626">x</text>
<text x="610" y="1062" font-size="7.3" text-anchor="middle" font-family="'Liberation Serif',serif" font-style="italic" fill="#262626">t</text>
<text x="462.5" y="969.6" font-size="7.4" text-anchor="middle" font-family="'Liberation Serif',serif" transform="rotate(-90 462.5 969.6)" fill="#262626">dx/dt</text>
<text x="340.5" y="1097.9" font-size="17.5" text-anchor="middle" font-family="'Liberation Serif',serif" font-weight="bold" fill="#000">(A2)</text>
</svg>
</body></html>
